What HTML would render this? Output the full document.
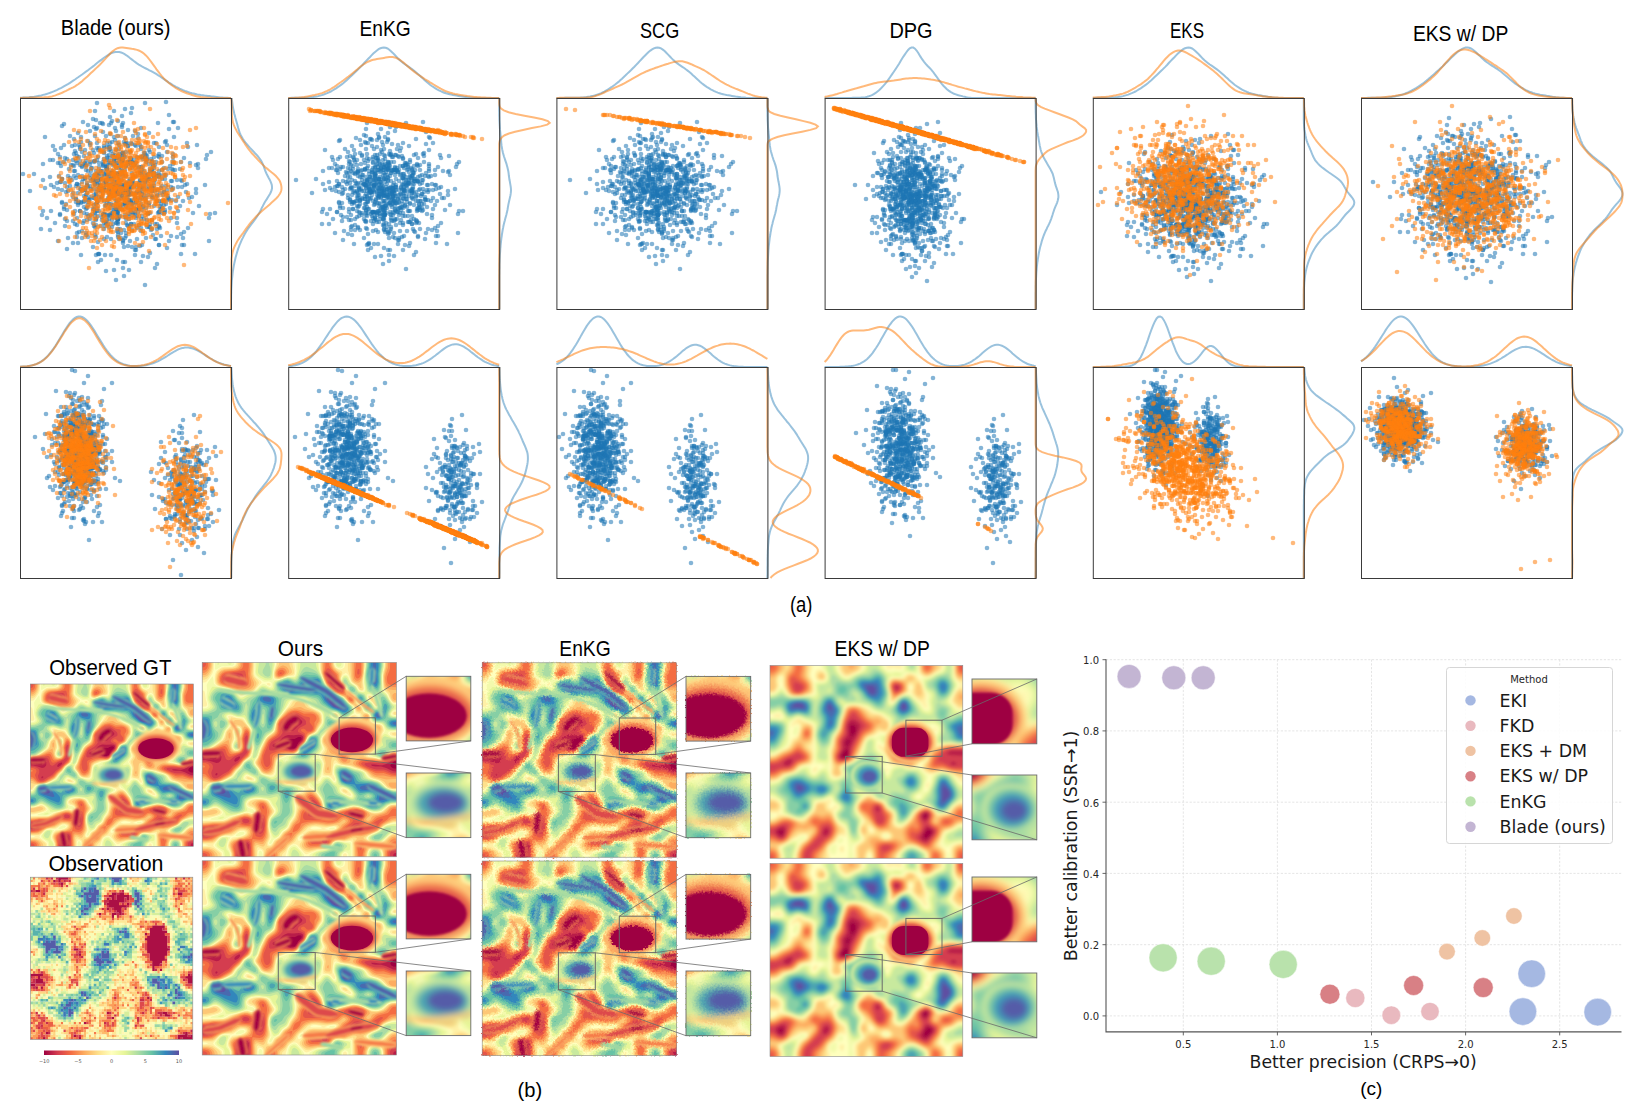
<!DOCTYPE html><html><head><meta charset="utf-8"><style>html,body{margin:0;padding:0;background:#fff}svg{display:block}.kb{fill:none;stroke:#1f77b4;stroke-opacity:.45;stroke-width:2}.ko{fill:none;stroke:#ff7f0e;stroke-opacity:.55;stroke-width:2}.ax{fill:none;stroke:#3a3a3a;stroke-width:1}</style></head><body>
<svg width="1648" height="1109" viewBox="0 0 1648 1109">
<rect width="1648" height="1109" fill="#fff"/>
<g font-family="Liberation Sans, sans-serif" fill="#000">
<text x="60.8" y="35.2" font-size="21.8" textLength="109.6" lengthAdjust="spacingAndGlyphs">Blade (ours)</text>
<text x="359.5" y="35.8" font-size="21.8" textLength="51.2" lengthAdjust="spacingAndGlyphs">EnKG</text>
<text x="640.0" y="38.2" font-size="21.8" textLength="39.2" lengthAdjust="spacingAndGlyphs">SCG</text>
<text x="889.4" y="38.2" font-size="21.8" textLength="43.2" lengthAdjust="spacingAndGlyphs">DPG</text>
<text x="1170.0" y="38.2" font-size="21.8" textLength="34.0" lengthAdjust="spacingAndGlyphs">EKS</text>
<text x="1412.9" y="41.2" font-size="21.8" textLength="95.4" lengthAdjust="spacingAndGlyphs">EKS w/ DP</text>
<text x="789.9" y="611.8" font-size="21.2" textLength="22.6" lengthAdjust="spacingAndGlyphs">(a)</text>
</g>
<defs><marker id="mb" markerWidth="6" markerHeight="6" refX="3" refY="3" markerUnits="userSpaceOnUse" overflow="visible"><circle cx="3" cy="3" r="2.3" fill="#1f77b4" fill-opacity="0.55"/></marker><marker id="mo" markerWidth="6" markerHeight="6" refX="3" refY="3" markerUnits="userSpaceOnUse" overflow="visible"><circle cx="3" cy="3" r="2.3" fill="#ff7f0e" fill-opacity="0.55"/></marker></defs>
<g fill="none" stroke="none">
<path d="M166 102l-21 1-48 0-2 8 19 0 8 5 3-7 6 4 1-5 37 7 5 7-1 0-15 1-35 0-1 2-4-4-6 0-1 2-1-6-1 8-6-1-1-1-2 0-4-3-3-1-5 6-5-3-19 2-2 2 16 7 12-2 4-4 2 2 1-1 6 4 7 2 5-6 1 3 6-4 6 3 7 1 3 3 3-6 8 5 20-4 9-1 9 15-13-6-8 4-1 1-9 1-2 0-16-5-5-2-2 7-4 0-1 0-1-5-1 4-6-6 0 7-3-3-1-3-2 5-2 1-3 0-1-7-9 7-2-7-5 7-2-2-7-4 0 5-7-3-4-3-25 1 8 9 2 4 6-2 3-3 8 1 3-1 0 6 4-6 1 4 0-2 2 5 3-2 5-5 3 5 4-2 1 2 1-2 5 4 0-6 0 2 3-1 2 0 0 3 1-3 0 2 1 2 5-1 3-5 0 4 6-5 1 8 2-6 0 0 2 6 2-8 3 1 1 1 4-1 1 2 0 2 8 1 1 2 9-5 8-2 0 7 21-5 9-2 14 7-4 3-1 4-22-1-11-1 0 4 0-7-11 2-3-2 0 3-1-1-4 1-2 4-1-2-4 0 0 1 0-4-1-1-1-2 0 4-1-4-1 3 0 3-1-2-1 0-4 0-3 3-3-2 0 1-6-2-1-1-1 5 0-8 0 1 0-1 0 7-1-3 0-4 0 6-1 2-1-4-1 2 0-5-1 2-1 2 0 0-2-3-1 5 0 0 0 1-1-5 0-2-3 4-1-3-2 1 0 4 0-2-3 1 0-6-6 4-1 3-2 1-1 0 0-8-5 1-3 7-2-5-4 5-1-4-2-1-1 5 0-8-2 1-1 6-6-1-2-1-5-1-2-3-5 6-3 0-7 4 15-1 2 0 1 3 3-4 5 7 2-4 2 0 1 1 3-3 3 2 2 2 0-1 2-2 1-1 1 2 0 5 0-4 4-4 0 2 1 4 1 0 2-6 5 5 0-4 4 1 0 1 0-3 0 4 3 1 0 0 1 2 0-3 0-1 0 4 0 0 2-7 1 1 1 0 2 2 1-1 2 4 1-2 0-3 0 0 2 5 2 0 0-3 1-3 0 0 3 8 1-4 0 0 2-2 0-2 0 0 2 0 0 0 1 3 0-2 1-1 0 6 1-5 0 0 1 2 1 0 1-2 2 5 1-1 2 0 1 0 0 3 4-8 3 2 1 5 2-7 0 8 0 0 1-4 0-1 1 3 1-3 1-3 6 0 0 8 2-2 4 1 2-3 2 3 1 1 0-6 2 6 5-1 1-7 9 1 6 2 2-1 0 4-32 7-1 4-1-4-2 4-2-4-1-4 0 6 0-2-1 1-2-2 0 2-2 0 0 2 0-5-1 2-2-3-1-1 0 8-1 0-1-5 0 5-1-1 0-3-2 0-1-4 0 7 0 1-2-4-1-2-1 0 0-1-4 4-4-3-2 6-4-3-3 0-1-4 0 2 0-3-2 2-1 4-1-3-1-1 0 1-3 3 0 0-2-6 0 3 0-1 0 4-1-4 0 6-1-6-1 4-1 2 0-4-1 0-1-2-1 1-1 1-1-4-1 5-1-5 0 8-1 0 0-8-1 3-1 1-1-1 0 4-1-2 0-5-2 4-1 4-2-8-1 4 0 3-2-7-3 8 0-1-2 1-1-3-4-1-2 3-1-7-1 5 0-5-4 7-2-2-6 3 0 0-3-3-9 1-16-3-11 0 20 6 2 8 6-3 3 2 3-4 3-1 1 0 4 1 2 4 3-1 2-6 4 6 1-2 0 0 2 1 3-3 2 6 3-3 0-2 0 3 1 1 2-1 1-5 2-1 1 0 0 0 1 5 0-1 0-3 1 0 1 2 2 4 0-7 0 3 1 2 0 1 0 1 1-1 0 2 3 0 0 0 0-5 1-2 1 3 0-4 0 5 0-4 0 1 1-1 3 4 0-1 1 2 1-6 1 4 1 3 0-5 1-1 0 5 1 2 0-3 1-3 0 5 1-2 2-1 1 3 1-7 0 5 1 1 1-1 0 0 0 3 2-5 0 5 2-3 0-1 1 0 0 3 0-6 0 5 1 2 1-1 1-3 0 3 0-4 1-2 0 2 4 4 2-4 0 2 1-4 0 7 0-8 1 6 1-6 0 7 0 1 1-1 0-4 2-1 1 3 0-4 1-1 2 8 2-1 1-1 0 2 1 0 1-5 0 3 1-6 6 8 1-2 4 0 5-5 0 6 1-6 1 7 4-8 1 7 3-7 1 1 0 6 3-2 2-1 18 1-9 4 0 4-4 4-6-5-8 5-6-7-4 6-1-6-3 2 0 0-1 3-3-2-3 3 0-6 0 5-2-4-3 6 0-6 0 5 0-5-4 4-1-6-3 6 0-6-2 5 0-2-1 5-1-5-1 1-2-1-1 1-3 1-2 0 0-1-1-2-1-1 0 5 0-1-1-2 0-3 0 6-1-5 0 1 0 4-2-3 0-1-1 2-1 0-1 3 0 0-1-7 0 3-1 2-2 0 0-1 0 1-1-5 0 5 0-3-1 2 0-1 0-1-1-2-1 3 0-3 0 7-2-3 0 1 0 2 0-2-1-2 0-3-1 8 0-2-1-5 0-1 0 5-3-4-3 0 0 3-1 4 0-8-1 1 0 0-1 1-1 6 0-7-2-1-1 7 0-4 0 2-2 1-1-6-2 0-1 8-3-4-1 2 0 2-1-7 0 0-1 6-2-5-1-2-1 0-2 4-5 0 0 4-5-6-2 1-4-2-4-1-28 2 32 12 0-1 4 2 10-5 0 3 0-3 2 6 0-2 1-1 2 0 0 1 3-1 0-1 4 1 0-2 0 5 1-5 1-1 4 6 0-7 0 0 2 6 1-1 0-1 1-1 3-3 3 3 1 5 1-1 1-2 1-5 0 2 1 4 2 0 2 1 1-7 2 3 1 3 0-3 2-1 1 6 1-8 2 7 0-1 1-6 1 5 0 1 1 2 0-6 1 4 0-6 2 5 0-3 0 1 2 1 0 1 0-2 0-1 1 4 1-1 2-4 0-1 1 4 0 1 2-5 2 2 1 4 1-6 1 8 2-7 1 3 0-4 3 5 0 2 4-7 1 8 3-5 2 0 1 5 1-2 1-3 2 0 0 4 2-1 2-6 0 2 1-1 3 1 4 1 4 5 3-5 6-3 10 8 16 7-5 1-17-1-15-2-8-3-5 2 0 2-1 1-2 0 0-5-1 1-1 0-1 3 0 0-1 1-8 0-2 0 0 1-2-6-3-1-1 3-3-1 0-1-1 4-1-3-1 0-1 5 0-2-2 1 0 2-1-8-1 3 0 2-2 2-1-6-3 7-3-6-2-2-1 2-1 4 0-1 0-5-1 5 0 2 0-5 0 6 0-4-1-2 0 0-1-1-1 2-1 2-1 1-1-5 0 6-1 1-1 0-2 0-2-1-1 0 0 1-1 0 0-1-4-3-2-3 0 3-2 1 0 1-1-4-1 0-2 6-4-1 0-6-1 1-2-2 0 6-4-2 0 0-5 0-1 3-7-4-3-3 0 2-4 6 0-1-9-3-8 0-1 4 5 3 8 5 10-4 2 2 6 0 2 3 2-6 6 5 1-2 3-1 1-4 2 3 3 4 2-7 1 3 0 1 2-4 4 4 0-3 2-1 0 7 2 0 0-1 1-2 1 4 0-8 1 3 3-3 0 4 1 4 0-7 3 6 1-5 0 5 0-3 1-1 0 0 0 3 0-3 0 5 0-5 1-2 1-1 5 1 1 6 0-4 3-3 0 3 2 5 0 0 3 0 2-6 1-2 4 3 1-3 2 3 3 1 3 4 2-4 3 4 2 0 14-6 6 5 0-5 32 0-21 10-4 4-24-4-1-1 0-1-2 3-5 0-1 1-1-3-1 0-2 0-6 4 0-3-2-3-2 3-5 2-2-4-2 0-1-1-1 8-2-3-3 3-1-4-2 3 0-3-1 2-5-4-3 0-4-1-1 3-3-3-5-1-1 2-1-1-8 7-4-2-3 1-2-7 0 8-12-7-15 4-9-1 17 12 10-3 9-1 5 1 4-3 2 2 7-2 1 2 2 5 6-3 3-2 4 2 7-2 0-2 1 4 2-1 2 2 0 1 2-3 1-2 4 5 7-2 9-1 7-3 2 4 1 0 5-3 8 5 2-5 6 1 4-3 2 4 26 3-25 4-2 0-15 3-8-3 0 0-17 0-2 1-4 4 0-3-1 3-3-3-4-1-4 1-1-4-30 4-15-4-5 0-6 6 14 6 15 0 2-1 1 0 0 0 2 6 4-5 6 0 6 5 18-5 8 1 5 1 2-4 31 1 14 0-38 10-2 4-14-6-16 0-2 6 0-6-25 0 8 9 8-1 10 6 5-6 16 15-29-5" marker-start="url(#mb)" marker-mid="url(#mb)" marker-end="url(#mb)"/>
<path d="M109 105l-19 6 20-3 40 1-16 14-17-3-43 10 5 1 7 1 9 2 6-3 9 2 1 1 12-2 12-2 1 3 2-4 6-1 1 6 13 0 32-4 6-2-43 9-5 6 0-1-1-5-1 5-1 1 0-8-1 6-4 0-1 2 0-4-1 4-2 0 0-3-4 0-6 0-1-2-4-2-2 6-2-6-1 7-8-2-3-1-1 3-5-2-2-2-10 2-6-2-2 3-4-1-6 1 12 7 2-4 8 3 0-4 9 8 0-2 1 1 1 1 0-2 2 2 2-3 4-1 5 1 0 3 1-3 1-3 1 5 2-6 1 2 0 2 2 3 1-7 2 1 1 4 3 2 0-2 1 1 0-7 1 6 6 0 4-3 2 5 1-4 3-2 3 1 3 3 3-6 6 4 5 4 3-5 5 1 7-1 4-1-11 10-1-1-2 2-1-4-5 6-6 0-7-5-1 0-1 7-3 0-3-1 0-2 0 3-1-2-1-3-2 4-1-4 0 1-2 1-1 0 0 3-1-4 0 4-1-8-1 3-2 0-2-3-1 5 0 0-1-2 0 5-2-3-1-4-2 2-1 3 0 0-1 0-3-1 0-3-1 1 0 1 0 4 0-6-2 2-2 0 0 0-2-1 0 5-2 0-5 0-1-2-6-3-2 1-1 4-3-5-2 4 0-7 0 3-2 2-2 0-1-5-2 8-5-3-2 1-1-1-6 3-9-2 3 3 2 2 6 3 10-3 5 3 1-2 4 4 5-1 3 1 6-7 1 8 3-3 2 3 1-6 2-1 0 6 1-4 0 1 1 1 1 1 0-1 3-5 1 4 0 0 0-3 1 0 0 3 0-1 1 0 1 2 0 2 1-6 0 3 1 1 0-5 0 0 0 2 1 0 2 0 1 4 0 1 0 1 0-2 1-5 1 1 0-1 1 3 0 0 1-1 0 4 1-5 0 4 1-6 0 6 1-4 1 3 2 1 1 2 2-2 0-2 2-2 1 1 4 3 0 2 1-7 1 5 2-3 0 2 0-5 3 7 2-6 2 0 1-1 0 8 1-1 3-1 6-6 2 1 0-1 2 1 5-1 1 8 1-2 7-2 0 10-5 1-2-2-8 0 0 2 0 0-2-3-2-1-3 0-3 2 0 1-1-3-2 5-1-1-3 0 0-2-3 4 0-3 0 3-1-6 0 0 0 3-1-2 0 1-3 0 0 0 0-3-1 5 0-3-1 1-2 2-1-6 0 6 0-4 0 6-1-3 0 2-1-5 0 6-1-2 0 0 0 2-1 0-1-4 0-4 0 4-2 1 0-4 0 1-1-1 0 5-1-6-1 5 0-2 0 3-1-5 0 6-1 1 0-4 0 3 0-1-1 2 0-2 0-2 0 0-4-1 0 3-2-3 0 1 0 2-1-1 0-4 0 0-1 0 0 6-1 1 0-7-1 4 0-1-1-1 0-1 0-1-1-1-1 2 0 3-1 2 0-2-1 2-1-1 0-3-1-1 0 4-1-2 0-2 0 6 0-7-1-1 0 4 0-1-1 0 0 3 0-3-3-1-1 2 0-4 0 1-1 6-1 1 0-1-3 0-1-6 0 7 0 0 0-5-1-2-3 5 0-6-1 2 0 4-2-3 0 1-1 2 0-1 0 2-2 1-4-2-1-2-1 2-2 0-4 0 0 0-10-6-2 8-6 0-1-6-2 4-30-1 12 10 20-5 4 5 4-4 0-1 1 1 1-2 7 8 4-4 1 3 3 0 1-6 0 4 4-4 2 1 0 4 1-2 0 4 3-8 0 6 3 1 1-2 0 2 1-7 0 3 0 4 0-2 3 1 1-1 0-4 1 6 0-7 0 1 1 4 0 0 1-5 0 7 0 0 0 1 1-3 1-4 0-1 0 7 0-1 0-1 1 1 1-6 0 8 0-5 2 5 0-5 0 1 1 3 0 0 0 1 1-1 1 0 0-7 0 3 1-2 0 1 0-2 0 1 0 0 0 1 0 0 1 2 1 4 0-8 0 3 0-2 1 7 2-7 1 1 1 2 0 1 0 2 0 0 1-5 0 5 0-1 0-1 2 0 0-2 1 0 0 1 1-4 0 3 2 5 1-1 0 0 0-1 1-1 1-2 1 2 0-2 2 2 0 2 1-2 0-1 0 3 2-1 1-5 1 0 0 5 0-2 0 1 2 0 1-4 2 3 0-3 1 4 0-1 0 2 0-5 1 7 1-8 0 0 1 2 0 2 1-4 0 6 4-2 1-2 1-2 1 8 0-4 3 4 2-5 2 2 0 2 16-7 4 13 0 2-8-1-5 1-2-6-2 1-3 3-1 0 0 3-1-1 0-1-2 0 0-4-3 5-1-4-1-2-1 7 0-6-1-1-1 4 0-4-1 8-1-7 0 0-1 7 0-3-2-5 0 1 0 3-1-3 0 2-1-1 0 4 0 2-2-6-1-2 0 4 0-2-1-1 0 7-1-3 0-5-1 1-2 5-1 2 0-3-1-5 0 3 0 3-1-5-1 0-1 5 0-4-1 4 0-1 0 1-1 0-1-2 0 1-1-3 0 4-3 0 0-4-2-2 0 4-1 1 0-5-1 5 0-5 0 5-1-2-2-3 0 3-1-1 0 4-1-6-1 4 0-1-1-3 0 7-1-3 0 4-2-8 0 0 0 6 0-6 0 7-1-4 0-2 0 6 0 0-1-3 0 1 0-3 0 1-1 0 0 4-1 1 0-8-1 7 0-2-1 3 0-4-1-1-1-1 0 2 0-2-3 0-1 5 0-7 0 4 0 1-1-2 0 4 0-6-1 0 0 7-1-2-1-6-1 8 0-8 0 4-1-2-5 5 0-5-1 0-1-1-2 3-1 0-1-4-2 0-2 1 0 0 0 1-2 3-4 2-2-3-1-4-1 6-1-5-2 0-2 5-7-1-4 2-2-1 12 10 4-4 4-2 4 2 7-1 0-2 0 0 2 8 2-4 0 0 2 2 0 2 1-3 3 2 1-6 0-1 0 1 1 2 0 2 0-2 1 5 0 0 1-6 2 2 1-2 2 0 0 0 1 5 2-5 1 5 0-5 1-2 0 1 0 0 1 0 1-1 0 7 1-5 2 6 1-7 0 5 1 1 0-1 1-4 0 6 1-6 0 3 1 1 0 2 0-7 1 3 0 2 0-5 1 6 1-4 1-2 1 2 0-3 1 3 0 0 0-3 1 0 0 4 0-3 2 6 0-7 0 3 1 3 2 0 0 1 3-6 1 5 0-5 1-1 0 1 1 2 0 0 0 5 0-5 2-3 0 5 0 3 0-1 0 1 1-3 1-4 1 0 1 5 1-3 0 5 1-6 0 5 1-4 0-2 0 3 1 4 1-3 2-1 2-3 3 3 0 2 1 0 0-6 0 2 0 1 1 0 0 3 1-4 0 6 5-5 0 0 0-1 1 1 0-3 1 2 1 2 5-1 0 2 5-3 14 2 38 1-22 11-18-4-11-2-1-1-2 6 0 0-4-1-6 2 0 0-1-5 0-1-2 3-9-4-1 5-2-5 0 5-1 2-1-1-1 2 0-5-1 5 0-2-1-2-3-2 0 4-1-4 0-1-2 4-3-3 0 2-1-3 0-1-1 1-2 3 0-1 0-2-1 2-1 0-1 3 0-6-1 5 0-4-1-1-1 2 0 3-1-3-1 1 0 2-1-2-1-1-1 0 0-1-4 0-2 5 0 0-4-5-1 0 0 3-1-2-1-2-2 2 0 2-2-1 0 5-2-2-3-4-2 0-2-1-1 3 0 0-1 3-2 1-2-8-7 5-8 3 0-3 0 1-3-6-30 1 26 10 9 1 4 2 1 1 1-6 5 1 1 5 2-4 3-2 2 8 0-5 1 0 2-2 6 1 0 3 1 0 1-5 0 1 1 3 3 3 2 1 1-7 1 1 1-2 1 0 1 2 2-1 3-1 2 1 0 6 3-6 0-1 1 2 2 1 2-1 1-2 1 2 1-1 4 6 1-7 0 4 0-4 2 7 0 1 1 0 0-3 2 2 2 1 0-6 1 4 2-1 1-1 2 0 0 2 0-2 2-2 1-1 4 2 0-3 2 4 6-2 2 3 5-4 17 7-13 4-11 5-10 0-1-7-4 3 0-1-5-3-1 0-1 8-2-2 0 0-3-1-1-5-2 2-1-1-1 4-1 1 0-5-2 5 0 0-1-5-2 3 0 3 0-4 0 1-8 1-4-1-4 3-2 0 0-2-2-2 0 3-2-6 0 1-4 3-3-3-2 1-1 2 0 4-2-2-3 2-3 0-2-2-1-3-3 0 0 5-14-6-10 14 16-4 10 0 2-2 4 6 1-5 2 5 1-3 5 2 2-3 4 4 8 1 5-5 1 2 9-5 14 0 0 8 8-5 14 8-16 6-10-6-4-2-21 4-2-1-10-1-5 3 87 17-95 3" marker-start="url(#mo)" marker-mid="url(#mo)" marker-end="url(#mo)"/>
<path d="M423 122l-17 1-39 0-1 6 12 5 3-5 7 4 2-6 5 4 1-4 30 5 7 11-3-5-1-1-13 2-13 4-15-4 0 1-1 2-2-5-3 5-3-5 0 1-2 2-5 0-1-1-1 0-2 4-2 0 0-7-1 6-1-7-4 5-4-2-16 2-1 1-14 9 20-1 3 3 4-6 2 4 7-5 5 4 6-3 2 3 3-2 4 3 1 2 1-7 1 4 6 2 2-7 5 5 1-4 2 6 1-3 8-2 17-2 3 6 20 6-8 2-1-3-16 1 0-3-1 1-5 4-2-4-2 1-4 5-7-2 0 1-1-3-3 1-1-1-2-1-1 0-2 2-1 0-1-2 0-1-1 1-1-1-4 2 0 3-1-4-1 5-3-6-1 7-1-3 0 2-1-5 0 3 0 3-1-3-1-3-2 2 0 2-4 0-1 2-1-7 0 4-3 2-2-5 0 1-2-3-3 7-2-6-1 6 0-2-1-1-3-1-1 5-2-4-7 0-2 2-5 1-1-3-3 11 3 0 3-4 1 6 1-4 0 4 3-1 1-2 2 0 5 1 1-4 1 5 0-7 1 3 2 4 0-3 2-4 2 3 1 4 3-5 1 6 3-1 0 1 0-1 0-6 2 5 1-2 4 4 1-2 0-5 0-1 2 6 0-1 1-2 1 5 0-6 1 6 0-3 1 3 1-5 0-1 1 4 0 0 0 1 1-5 1 6 1-5 0 2 0 3 0-3 1 1 0-4 1 2 1 3 1 0 0-3 0-2 0-2 0 0 0 8 0-2 0 2 1-7 0 5 0-3 1 1 1-4 1 8 0 0 2 0 0 0 0-8 1 5 0 1 0 2 1 0 1-2 0 2 2 0 1-4 3 0 0 0 1 2 1-3 0-2 1 0 0 2 1-1 0 6 1-3 0 2 0-4 2-3 1 6 1 1 0 1 2-4 1 4 2-5 0-1 1 2 2 4 0-5 4-3 5 4 0 3 0-5 6 6 3-3 18 0 1-3 2-2-9 13-1-4-1 1-5-1-8 4-4 1-2 1 0-6-1 5-2-3-1 3-3-1-2 1-2 1-3 2-1-6 0 6-1-6 0-1 0 3-1 1 0 0-1 2-1-1 0-1-1-4-3 5-2-3 0 2-1 2 0 0 0-4-1 4-1-4-1 1-2-3 0 0-1-1-1 8-1-4 0-3-3-1-1 2 0 0-1 3-2 2 0-1-1-2-1 4 0-7-1 3-1-2 0 5 0 1 0 0-1-4-2-4-1 6 0 2 0-7-1 7 0 0-1 0-2-6 0 3-1 0 0-4 0 4 0 2 0-4 0 0-2-2-1 5 0-5 0 1-2 4 0 0-1-3 0-3 0 8-3-2-3-2-1 2 0-2-1-4-1 6-2-5 0 4 0-5 0 2-1-1-2 2 0-1-2 0-2-2-1 6-1-4-1 4-1-4-1-1-1 4-7-3-15-2-7 8-20 1 27 4 6-2 1 6 5-1 2-6 0 5 1 0 1-2 0 0 3 3 1-6 3 1 1 2 1-3 2 2 1 5 0-1 1-7 0 8 3-2 0-5 1 2 1 1 1-1 1 5 0-1 2-4 1-3 1 5 1-1 0 0 1 0 0 1 0-4 1 4 0 3 0-1 0-2 1 1 0-6 0 1 0 1 1-2 1 8 0-4 0 3 1-4 1 1 1-3 1-1 0 6 1-1 0 2 0 1 0-3 0-5 0 6 1-1 0-1 1 0 0-4 0 0 1 2 1 6 0 0 1-4 0 1 1 3 0-6 1 0 0 0 0 4 1-1 0 3 1-2 2-4 1 5 1-3 1-4 0 1 1 7 1 0 1-7 0 6 1 1 1 0 0-3 0 3 1-5 1 4 1 0 0-2 0 2 3-6 2 6 0 1 1-4 1 1 1-5 0 4 0 3 2-1 0-6 0 3 0 1 1 4 0-3 1-2 0-3 0 4 1-4 0 3 0 0 1 1 2-4 1 7 0-4 1-2 0 3 1-3 2 0 1 0 0 1 0-1 2 3 2-4 0 3 1-3 4 5 1 0 4-1 3 1 1 0 3 3 2-1 14 2-7 2 0 4-8-1-4-5-3 1-4 0-1 2-1-2-2 7-1-5-1-3-1 5 0 0-1 2-1-7-1 1-1 5-2 2 0-5 0 4-2-3-1-4-1 4 0-4 0 2 0 6 0-4 0-2-1-1-1 1-1 5-1-4-2 4-1-5-1 5 0-6 0 0 0 3 0-2-1 3 0-5-1 1-1 4-1 0-1 1 0-5-3 6 0-6-1 0 0 6 0-2-1-1 0-2-1 1 0-2 0 6 0 1 0-1 0-7-1 5 0-3 0 1 0 1 0 4-1-6-1 3 0-1-1 2 0-5-1 5 0 2 0 0 0-8-1 3 0 2 0-4 0-1-1 7-1-1-1 1 0-5 0 4 0-2 0-3 0-1 0 7-1-1 0-4 0 2-1 1 0-5 0 2-1 3 0-2 0-2 0 7-1-3-1 0 0 2 0-7 0 8 0-1 0-5-1 5-1-4 0-1 0 4-3-3-1-2 0 1-1 1 0 3-1-3 0 0-1 1 0-4 0 3 0-3 0 1 0 1-1-1 0 3-2 4 0-6 0 5-1-2-1 2-1-5-2 0-1-2-1 1-1 5 0-6-1 7 0-3-1-2 0 6 0-5-2 1-1-2-1 1-1 3-2-6-2 6-3-6-2 4 0-3-1 4-3-2-3-1-4-1-7 0-13 3 27 10 0-1 1 4 2-3 6-5 2 2 0 2 0-3 2 5 0-2 1 0 1 0 0 1 2-2 1 5 0-5 1-3 1 8 1-5 0-1 0 0 0 4 2-6 0 1 3 5 0-5 0 0 1 5 1-2 1 0 0-1 1-3 1 1 1-1 2 3 1 4 1-1 0-2 1-3 0 1 1 3 1-5 1 8 0-3 1 1 1-6 2 3 1 2 0-2 1 0 0 5 1-1 0 1 1-8 1 6 1-5 0 4 1 0 0 0 1 2 0-5 1 4 0-5 1 4 0-3 1 1 0 0 1 1 0 1 0 3 0-6 1 3 1 0 1-4 0 0 1 3 0 1 1-5 2 3 1 3 0-6 1 1 1 7 0-1 1-6 1 3 0-3 3 4 0 1 2-6 1 1 1 6 2-4 2 0 1 4 0-1 1-3 1 0 1 3 2 0 1-5 0 1 1 0 2 0 3 1 2-3 2 7 2-4 5-3 2 0 6 7 13 6-4 0-1 3-13-4-12-1-1 6-5-8 0 7-4-4-1-2 0 3-2-1 0-3-1 1-1 2 0-2-1 1 0 2-7 0-1 0-1 0-1-4-4 1 0 5-1-6-1 3 0-3-1 6 0-5-1 7 0-7-1 4 0-3-1 3-1-1-1-2 0 1-1 3-1-1 0 3-1-8-1 8-1-3 0 2-3-6-1 5-1-3 0-2 0 6 0 1 0 0-1-4 0 4 0 0 0-4 0-4 0 6-1-3 0 5 0-8 0 0 0 2-1-2-1 1-1 2 0 3 0 1-1-3-1 0-1 4 0-3 0 1-1 0-1-1-1 0-1 0 0 0 0 1-1-1 0 0-1 2-2-5-1 0 0 4-1-6-1 3 0 5 0-2 0-2-1-3-1 0-2 5 0 2-2-2-1-1-1-5-1 4-4-2 0 0-2 6-2-3 0-3-6-1-2 7-1-7-3 4 0 0-7-3-3 5-4-5-1 3 0 12 7 0 4-5 9 2 1-4 4 0 2 3 2 0 4-1 2-2 2-1 5 3 1 2 1 0 0 1 1-6 4 5 1-5 1 8 0-6 1 3 1-2 0-1 0-1 1 3 1 2 2 0 1-6 0 3 3 0 0 0 1-1 0 2 0 4 0-8 2 7 3 1 2-6 0 2 1 1 2 0 1-2 0 1 2-1 3 4 1-3 2-4 0 7 2-7 3 0 0 6 1 0 1 0 1-2 1-4 0 8 0 0 2-5 2 1 0 3 1-1 0-1 2 2 13-5 9 5 17 10-20-7-1 5-2-3-3 2-4-1-2 4-6-4-5 3-1-1-1-2-6 2-4-6-3 6-4-6-2 8-3-6 0 2-1 2-1 2-1-1-1-5-1 3-1 2-1-6 0 4 0-1-1-4-5 7-2-2-3 1-6-2-1-1-6 2-2-2 0-1-3-2 0 5-3-4-1 4 0-3-7 4-9 2 8 7 5-6 4 1 12 3 4-4 20 0 1 4 4-1 2 1 3 2 1 0 0-2 3-1 2-1 14 0 0 1 7 2 11-3 2 0 9 8-11-1-26 0-1 3-4-1-2 5-5-6-8 6-2 0-4-2-6-4-4 0-3 4-2-5 0 1-1 0 0 6-1-5-13-1 21 13 6-1 8-1 5 1 20-1 2-3-10 17-17-8-6 3" marker-start="url(#mb)" marker-mid="url(#mb)" marker-end="url(#mb)"/>
<path d="M309 109l1 2 1-1 0 0 2 1 2 0 0 0 2 0 0 0 1 0 1 0 1 0 0 1 1 0 0 0 3 1 1 0 0-1 1 1 1 0 0 0 1 0 1 0 0 1 0-1 0 0 1 0 0 0 0 0 1 1 0 0 0-1 0 0 1 0 1 1 1 1 0-1 0 0 1 0 0 0 0 0 1 0 0 1 0-1 0 1 1 0 0-1 0 1 0-1 0 1 0 0 0-1 1 1 0 0 0-1 1 1 0 0 0 0 1-1 0 1 0 0 1 0 0 1 0-1 0 0 1 0 0 0 0 0 0 0 0 1 0 0 0-1 1 0 0 0 0 0 0 1 0-1 0 0 0 1 1 0 0 0 0 0 0-1 0 0 1 1 0 0 0 0 0 0 0 0 0 0 0 0 0 0 0 0 1 0 0 0 0 0 0 0 0 0 1 0 0 0 0 0 0 0 0 0 1 0 0 0 0-1 0 1 0 0 0 0 56 9 0 0-1 0 0 0-1 0 0 0 0 0-1 0 0 0 0 0 0 0 0 0 0 0 0 0 0 0 0 0 0 0-1 0 0 0 0 0 0 0 0 0 0 0 0 0 0 0 0 0-1 0 0 0 0 0 0 0 0-1 0 1 0 0 0 0 0 0 0 0-1 0 0 0 0 0 0 0 0-1 0 1 0 0 0 0-1 0 0 0 0 0 0 0 0 0 0 0 0-1 0 1 0 0 0 0 0 0 0-1 0 0 0 1 0-1 0 1-1-1 0 1 0 0 0 0 0-1 0 1 0 0 0 0 0-1 0 1 0 0-1 0 0 0 0 0 0-1 0 1 0-1 0-1 0 2 0-1 0 0 0 0 0 0 0 1 0-1 0 1 0 0-1-1 0 0 0 1 0-1 0 0 0 1 0-1 0 0 0 0 0 0 0 0 0 0 0 1 0 0-1 0 0 0 0 0 0-1 0 0 0 0 0 0 0 0 0-1 0 1 0 0 0 1 0-1 0-1 0 1 0 0 0 0 0 0 0 0-1 0 0 0 0 0 0 0 0 0 0 0 0 0 0 0 0 0 0-1 0 0 0 0 0 0-1 1 0 0 0 0 0-1 0 0 0 1 0 0 0-1 0 1 0 0 0 0 0 0 0 0 0 0-1-1 0 1 0 0 0 0 0-1 0 1 0-1 0 0 0 1 0 0 0-1 0 1 0-1 0 1 0-1-1 0 0 0 0-1 0 1 0 1 0 0 0 0 0-1 0 0 0 0-1-1 0 1 0 0 0 0 0 0 0 0 0 0 0 1 0-1 0 1 0 0 0-1-1 0 0 1 0 0 0-1 0 0 0 1 0-1 0-1 0 1-1 0 0 0 0 0 0-1 0 0 0 1 0 0 0 0 0 0 0 0 0-1 0 1 0 0 0 0 0-1 0 1-1 0 0 0 0 0 0 0 0 0 0-1 0 1 0 0 0 0 0 0 0 0 0-1-1 0 0 1 0 0 0 0 0-1 0 1 0 0 0 0 0 0 0 0 0-1 0 0-1 0 0 0 0 0 0 0-1 0 0 0 0 0 0 0 0 0 0-1 0 2 0-1 0 0 0 0 0 0 0 0 0 0 0 0-1 0 0 0 0 0 0 0 0 0 0 0 0 0 0 0 0-1 0 1-1 0 0 0 0 0 0-1 0 1 0 1 0-1 0 0 0-1 0 1 0 0 0-1 0 1 0 0-1 0 0 0 0 0 0-1 0 1 0 0 0 0 0 0 0 0 0 0 0 0-1 0 0-1 0 1 0 1 0-2 0 0 0 0 0 2-1-2 0 0 0 0 0 1 0 0 0-1 0 0 0 1 0-1 0 0 0 0 0 0 0 0 0 0 0 0 0 0 0 0 0 0 0 0 0 0 0 0 0 0 0 0 0 0-1-1 0 1 0 0 0 0 0 0 0 1 0-1 0 0-1 0 0 0 0 0 0-1 0 1 0-1 0 1 0 1 0-1 0 0 0 0 0 0-1 0 0 0 0 0 0 0 0 0 0-1 0 1 0-1 0 0-1 1 0-1 0 1 0-1 0 1 0-1 0 1 0 0 0 0 0 0-1-1 0 0 0 0 0 0 0 1 0-1 0 0 0 1 0-1 0 0 0 0 0 1 0-1 0 0 0 1 0-1-1 0 0 0 0 1 0 0 0-1 0-1 0 1 0 1 0-1 0 1 0-1 0 0 0 1 0-1-1 1 0-1 0 0 0 0 0 0 0 0 0 0 0 1 0-1 0 0 0 0 0 1-1-1 0 0 0-1 0 0 0 1 0 0-1 0 0-1 0 1 0 0 0 0 0 0 0 0 0 0 0 0 0 0 0 0 0-1 0 0 0 2 0-1 0-1 0 1-1 0 0 0 0 0 0 0 0-1 0 0 0 0 0 2 0-1-1-1 0 1 0-1 0 1 0-1 0 1 0-1 0 0 0 0 0 0-1 1 0-1 0 0 0 0 0 0 0 0 0 0 0 0 0 0 0 1 0-1 0 1-1-1 0 0 0 0 0 0 0-1 0 1 0 0 0 1 0-1 0 1 0-1-1 0 0 0 0 0 0 0 0 0 0-1 0 1 0 0 0 0 0 0 0 0-1 0 0 0 0 0 0 0 0 0 0 0 0 0 0 1 0-1 0 0 0 0 0 0-1-1 0 0 0 1 0 0 0 0 0 0 0-1 0 0 0 1 0-1 0 1-1 0 0-1 0 0 0 1 0-1 0 0 0 0 0 0 0 0 0 0 0 0 0 1 0 0 0-1-1 1 0 0 0-1 0 0 0 1 0-2-1 2 0-1 0 0 0 0 0 0 0 0-1 0 0 1 0 0 0-1 0-1 0 1-1 0 0 0 0 0 0 0 0 0 0 0 0-1 0 1-1-1 0 0 0 1 0 0 0 0 0 0 0-1-1 0 0 0 0 0 0 0 0 0 0 1 0-1 0 1 0 0 0-1 0 0 0 1 0-1 0 0 0 0-1 0 0 0 0 0 0 0 0 1 0-1-1 0 0 0 0 0 0 0 0 0 0 0 0 0 0 0 0 1 0-1-1 0 0 1 0-1 0 0-1 0 0 0 0 0 0 0-1 0 0 0 0 0-1 0 0 0-1 0-3 0 56 9 0 0 0 0 1 0 0 0 0 0 0 0 0 0 0 0 0 0 1 0 0 0 0 0 0 0 0 0 0 0 0 0 0 0 0 0 0 0 1 0 0 0 0 0 0 0 0 0 0 0 0 0 1 0 0 0 0 0 0 0 0 0 0 0 0 0 0 0 0 0 0 0 0 0 0 0 1 0 0 1 0-1 0 0 0 0 0 0 1 0 0 1 0-1 0 0 0 0 0 0 0 0 0 1 0 0 1-1 0 0 0 0 0 0 0 0 0 0 0 0 0 0 0 0 0 1 0-1 0 1 1 0 0 0 0-1 0 0 0 1 0 0 0 0 0 0 0 0 0 0 1 0 0 0 0 0 0 0 0 0 0 0 0-1 0 0 1 1 0 0 0 1 0-1 0 0 0 0 0 1 1 0 0-1 0 0 0 0 0 0 0 0 0 0 1 0 0 1 0 0 0-1 0 0 0 1 0 0 0 0 0-1 0 1 0-1 1 0 0 0 0 0 0 0 0 0 0 0 0 1 0 0 0 0 0-1 1 0 0 0 0 1 0 0 0 0 1 0 0 1 0-2 0 1 0-1 0 1 0 0 0 0 0 0 1 1 0-2 0 1 0 0 0 0 0 0 0 0 0 1 1-1 0 0 0 0 0 1 0-1 0 0 1 0 0 0 0 0 1 0 0 0 0 0 0 0 0 1 0-1 1 1 0 0 0 0 0 0 0 0 0-1 0 0 0 0 0 0 0 1 0 0 0-1 0 1 1 0 0 0 0-1 0 1 0 0 0 0 0 0 0-1 1 1 0 0 0 0 0 0 0 0 1 0 0 0 0 0 0 1 0 0 0-1 1 1 0-1 0 1 1 0 0-1 0 1 0-1 0 1 0 0 1 0 0 0 0 0 0-1 0 1 0 0 1 0 0 1 0-1 0 0 1 0 0 0 0 0 0 0 0-1 0 2 1-1 0 0 0 0 0 0 1 0 0 1 0-1 0 0 0 0 0 1 0-1 1 1 0 0 0 0 0 0 0 0 1 0 0 0 0-1 1 1 0-1 0 1 1 0 0 0 0 0 0 0 0 0 1 0 0 0 0 0 0 0 0 1 1 0 0-1 1 1 0-1 0 0 0 1 0-1 1 1 0 0 0-2 1 1 0 1 0 0 0 0 1-1 0 2 1-1 0 0 1 1 0-1 0 0 1 1 0 0 0 0 0 0 2 1 0-2 0 2 1-1 0 0 1 0 4 1 0 0 0 0 1 0 3 0 1 0 26 5-8-1-1-1 0 1-2-1-6 0-2-1-3 0 0-1-1 0 0 0-1 0-1 0 0 0 0 0-1 0-3 0-2 0" marker-start="url(#mo)" marker-mid="url(#mo)" marker-end="url(#mo)"/>
<path d="M697 122l-17 1-39 0-2 6 13 5 3-5 6 4 3-6 4 4 1-4 30 5 8 11-4-5-1-1-12 2-13 4-15-4 0 1-1 2-3-5-2 5-3-5-1 1-1 2-5 0-1-1-2 0-2 4-1 0 0-7-1 6-1-7-4 5-4-2-16 2-1 1-14 9 20-1 3 3 4-6 2 4 7-5 5 4 6-3 2 3 3-2 4 3 1 2 1-7 1 4 5 2 3-7 5 5 1-4 2 6 1-3 8-2 17-2 3 6 19 6-8 2 0-3-16 1-1-3-1 1-4 4-3-4-1 1-4 5-7-2 0 1-1-3-3 1-1-1-3-1-1 0-2 2 0 0-1-2 0-1-2 0 0 1-4 1 0 3-1-4-2 5-3-6-1 7 0-3-1-3 0 5 0-2-1 3-1-6 0 3-2-1 0 2-4 0-1 2-1-7 0 4-3 2-3-5 0 1-1-3-3 7-3-6-1 3 0 3 0-2-4-2 0 5-2-4-7 0-2 2-5 1-1-3-3 11 2 0 4-4 1 6 1-4 0 4 3-1 1-2 1 0 5 1 2-4 1 5 0-7 1 3 2 4 0-3 2-4 2 3 1 4 2-5 1 6 3 0 0-1 1 0 0-6 2 5 1-2 4 2 0 2 1-7 0-1 2 3 0 3 0-1 2 3 0 0 0-6 0 3 2 3 1-5 0 3 0-4 1 4 0-4 0 5 2-2 0 3 0-3 1-2 0 5 1-2 0-4 1 2 0 3 1-3 0-4 0 8 0-2 0 2 1-1 0-6 0 1 0-2 0 6 1-3 1 1 1-4 1 8 0 0 1 0 0-8 1 5 0 3 0 0 1-2 0 2 1 0 1-2 2-2 0 4 4-4 0 0 1-1 0 3 1-5 1 0 0 1 0 1 1 2 0 2 0-4 0 5 3-8 1 7 0 1 0-2 2-2 2 4 1-5 1-1 0 2 2-1 1 5 4-8 4 2 1 2 0 3 6 1 2-3 18 0 2-3 2-2-10 9 0 4-2-3-4-1-9 4-4 1-1-5-1 6 0-1-2-3-2 3-2-1-2 1-2 1-3 2-1-6-1 6 0-4-1-2 0-1 0 4-1 2 0-2-1 1 0-1-1-4-3 5-3-3 0 4 0-4 0 2-1 2 0 0-1-4-1 1-2-3-1 0-1-1-1 8 0-4 0-3-3-1-1 2-1 0 0 3-3 2 0-1 0-2-1 4 0-7-1 3-1-2 0 6 0 0-1-1-1-3-1-4-1 1-1 5 0 2 0 0-1 0 0 0-3-3 0-3 0-1 0 4 0 2 0-4 0 2-1-2-2-2 0 1-1 4 0-5-1 5-1 0-1-3 0-3 0 8-2-2-3-2-1 2 0-2-1-4-1 6-2-5 0 4 0-5 0 2-2-1-1 2 0-1-2 0-3-2-1 2 0 4-1 0-1-4-1-1-2 4-7-3-14-2-7 8-20 1 27 4 6 4 0-6 5 5 2-6 1 5 1-2 0 2 1-2 2 3 2-6 2 1 2 2 1-3 2 2 1 5 0-1 1-7 0 8 3-5 0 3 0-5 2 3 0-1 1 5 0-1 3-7 0 3 1 2 2-4 0 3 0 0 1 0 0 1 0 2 0-2 1 0 0 3 0-7 1 5 0-6 0 2 0-2 1 4 1 4 0-1 1-4 0 1 1-3 2 4 0-5 0 6 1 1 0-3 0 4 0-3 0-5 0 6 1-1 0-5 1 4 0-4 1 2 1 6 0 0 1-4 0 1 0-3 1 6 1-6 0 0 0 3 0 1 1 2 1-2 2-4 1 5 1-3 0-4 1 1 1 7 0 0 2-7 0 6 1 1 0 0 1 0 0-3 1-2 1 4 1 0 0-2 0 2 2-6 3 6 0 1 1-3 0-1 1-4 1 4 0 3 1-4 0 1 1 2 0-6 1 8 0-5 0 2 0-5 0 4 1-4 1 3 0 0 1 1 2-4 1 7 0-6 0 2 1 1 1-3 2 0 1 0 0 1 0-1 2 3 2-4 0 3 1-3 4 5 1 0 4-1 3 1 1 0 2 3 2-1 15 2-7 2-1 4-8-1-3-5-3 1-4 0-1 2-1-2-3 7 0-5-1-3-1 5 0 0-1 2-2-7 0 1-1 5-2 2 0-5 0 4-2-3-1-4-1 2 0 6 0-6-1 2 0-4 0 1 0 3-2 3 0-5-1 1-3 4 0-5-1-1 0 0 0 1-1 5 0-7 0 4-1-3 0 4-1 0-1 0-1 1 0-5-3 6-1-6 0 6 0-2 0-4-1 3 0-2-1 1 0-2 0 7 0-1 0-7-1 5 0-3 0 1 0 4-1-5 0 2 0 4-1-4-1 1 0 1 0-5-1 5 0-6-1 8 0-3 0 3 0-8-1 3 0-2-1 6-1 0 0-1 0-5 0-1 0 7-1-1 0-4 0 0 0 4 0-2 0 0-1 1 0-5-1 5 0-2 0 5 0-6-1-1-1 4 0 2 0 1 0-1-1-2 0-5 0 2-1 1 0 3 0 1-1-5-2 1-1-1-1-1 0 2-1 3 0-3-1 1 0-4 0 3 0 0 0-1-1-1 0-1 0 1-1 3-1-2 0 5-1 1 0-3-2-3 0 5-2-5-1-2-1 1-1 5 0-6-1 7-1-5 0 6 0-4 0-1-2 1-1-2-1 1-2 3-1-6-2 6-3-6-2 4 0-3-2 4-2-2-4-1-3-1-8 0-12 3 27 10 0-1 1 4 2-3 5-5 3 2 0 2 0-3 2 5 0-2 0 0 2 0 0 1 2-2 0 5 0-5 2-3 1 8 0-6 1 1 0-1 0 4 1-5 1-1 2 6 0-5 0 0 2 5 1-2 0 0 1-4 0 3 2-2 1-1 2 3 0 4 1-1 1-2 1-3 0 1 0 3 2 3 0-8 1 5 1 1 1-6 2 5 0-2 0 0 1 5 1-5 1 4 0 1 1-8 1 6 0-1 1-4 1 4 0 0 1 2 0-5 0 4 0-5 2 4 0-3 0 1 1 0 1 1 0 1 0 3 0-6 1 3 0 0 2-1 0-3 0 0 1 4 1-5 1 3 1 3 1-5 0-1 1 8 1-1 1-6 0 0 1 3 3 1 0 1 2-6 1 1 0 6 3-4 2 0 0 4 1-1 1-3 1 0 0 3 2 0 2-5 0 1 1 0 2 0 3 1 2-3 1 7 3-4 4-3 3 0 6 7 13 6-4 0-1 3-13-4-12-1-1 6-5-1-1-7-4 1 0 2-1 1-1-4-1 3 0-2-1 0-1 1 0 1 0 1-7 0-2 0 0 0-1-4-4 1 0 5-2-6 0 0-1 6 0-3 0-2-1 0-1 7 0-3-1-3-1 2 0 1-1-3 0 1-2 3 0-1 0 3-1-8-1 8-1-3 0 2-3-6-1 5-1-5 0 6-1-3 0 4 0-5 0 5 0 0 0 0-1-5 0 5 0-4 0-4 0 6 0-4-1-2 0 0 0 0-1 1-1 2 0 3 0 1-1-3-1 0-1 4 0-3 0 1-1 0-1-1-2 0 0 1-1-1 0 0 0 0-1 0 0 2-3-5-1-2 0 2 0 4-1-3 0 5 0-2-1-2-1-3 0 0-2 5 0 2-3-2 0-1-1-5-2 4-3-2 0 0-2 6-2-6-1 3-6-4-1 7-1-7-3 4 0 0-8-3-2 5-4-5-1 3 0 12 7 0 4-5 8 2 1-4 5 0 2 3 2 0 4-1 2-2 2-1 5 3 1 3 0-1 1 0 0-5 5 0 0 5 1-3 1 6 0-3 1-3 1 1 0-2 1 3 1 2 2-6 0 6 1-3 2 0 1 0 0-3 1 2 0 2 0 4 1-1 4 1 2-6 0 2 1 1 1 0 1-2 0 1 3-1 3 4 1-3 2-4 0 7 2-7 2 6 1-6 1 6 1 0 0-2 1-4 0 8 1 0 2-5 1 1 1 3 1-1 0-1 1 2 14-5 9 5 17 10-20-7-2 5-1-3-3 2-5-1-2 4-6-4-4 3-1-1-1-2-6 2-4-6-4 6-3-6-2 8-4-6 0 4 0-2-2 3 0 1-1-6-1 3-1 2-1-6 0 4 0-1-1-4-5 7-3-2-3 1-6-2 0-1-6 2-2-2 0-1-3-2 0 5-3-4-1 4 0-3-8 4-8 2 8 7 5-6 4 1 12 3 4-4 20 0 1 4 3-1 3 1 3 2 1 0 0-2 3-1 2-1 13 0 1 1 6 2 12-3 2 0 8 8-10-1-26 0-1 3-5-1-2 5-4-6-9 6-1 0-5-2-5-4-5 0-2 4-2-5-1 7 0-6-1 0-1 1-12-1 21 13 6-1 7-1 5 1 21-1 2-3-10 17-17-8-7 3" marker-start="url(#mb)" marker-mid="url(#mb)" marker-end="url(#mb)"/>
<path d="M566 109l9 1 28 5 1 0 1 0 2 0 3 0 3 1 1 0 56 9-1 0 0 0-1 0 0 0-1 0-1 0-1 0-1-1 0 0-2 1 0-1 0-1 0 1-1 0-1 0 0 0 0 0-1-1-1 0-1 1-1-1-1 0-2 0 0 0 0-1-1 0-1 1-3-1-1-1 0 1 0-1 0 0 0 0 0 1-1 0-1 0 0-1 0 0 0 0-1 0-2 0 0 0-1-1 0 1 0 0 0 0-1-1 0 1-2-1-1 0 0-1-3 0-1 0-1 1-2-1 0-1-1 0 0 0 0 1-3-1-1 0-1 0 0 1-2-1-2-1-1 0-2 0 53 9 2 0 2 0 0 0 1 0 2 0 0 1 0 0 1 0 0-1 2 1 0 0 0-1 0 1 1 0 1 0 0 0 1 0 0 0 0 0 0 0 1 1 0 0 0-1 1 1 1 0 0 0 1 1 0-1 0 0 0 0 0 0 1 0 0 0 1 0 1 1 1 0 0-1 0 0 0 1 1 0 1 0 0 0 2 1 1-1 0 0 3 1 1 0 0 0 0 0 1 0 0 0 2 1 1 0 2 0 2 1 0 0 1 0 0 0 0 0 0-1 1 1 0-1 1 1 0 0 1 1 1-1 1 0 1 0 1 0 0 0 0 0 1 0 1 1 1 0 1 0 1 0 0 1 0 0 0-1 2 1 0-1 1 1 1 0 1 0 3 0 21 4-5-1-4-1-3 0-1 0-5-1-1 0 0 0-1 0" marker-start="url(#mo)" marker-mid="url(#mo)" marker-end="url(#mo)"/>
<path d="M938 122l-11 2-26-1-1 7 11 0 4 4 1-6 3 4 1-4 20 5 2 6 0 0-8 2-19 0 0 1-2-3-4-1 0 2-1 2 0-7-3 7-1-1-1 0-2-3-2-1-2 5-3-2-10 1-1 2 4 9 4-3 7-2 2-3 1 1 0 7 1-7 2 3 2 4 2-2 3-6 0 8 1-4 1 4 2-8 3 3 3 5 1-5 1 3 2-5 4 4 11-3 4-1 11 14-5 2-1-3-7-5-4 4 0 2 0-3-3 5-2-4-1 1-8 2-1-6-1 5 0 1-2-2-1 0-1 2 0 1-1-3 0 0-1-1 0-4 0 6-3 1 0-2-2-3-1 2-2 1 0 3 0 0-1-3 0 3-2-1-4-2-3 0 0 1-1-3-4-3 0 4-1 3-2 0-1-6-1 6-4 0-6 1-4-8 5 11 2 4 1 2 0-7 7 5 1-3 0 1 1 3 1-6 0-1 0 8 1-4 2-2 0 5 2-1 3-4 0 3 2-3 0 6 0-8 1 0 2 4 0-1 0-2 2 6 1-1 0-5 0 1 1 1 1 4 0-1 1 0 0-4 1 5 1-6 0 4 1 3 1 0 0-2 0-2 0 0 1 1 0 3 0-1 1-3 2 0 4 4 2 0 0 0 0-8 0 1 1 6 0-2 1-1 0 2 0 2 1-1 1-5 1 1 2 5 2-1 0-1 0 2 2-1 2-3 4 4 0-2 18 0 2-2-3 6-4 4-1 1-3-2-4-4-1 3-4 2 0-2-2 4-4-4-3 0-1 3 0 2-1-1 0-1-1-4 0 1 0-2-1 4-1-5 0 2 0 1-2-2-1 6 0 0-1 1-1 0-1-4 0 2-1-4 0 4 0-2 0 0-1-3 0 2 0 5 0-2-1-6 0 3 0 0 0 1-1 1 0-2 0 0-1 4 0 0-2-4 0 1 0-2 0-1 0 2-1-1 0 4-1-5-1 6 0-7 0 4 0 0 0-4-1 5 0-3-1 0 0 0 0 3-1-1-1 0 0 0 0-4-1 1 0-1 0 7 0-1-1 2 0 0-1-7 0 4 0 2-1-1 0-3-2-2 0 7 0-3-2-3 0 1 0-1-1 6-1-5-1 2-1 1 0-4-1 2 0 3-1 1 0-3 0 2-2-5 0 4-1-2-1-1-1 3 0-5-1 5 0 0-3-5 0-1-1 3-2 4 0-3-1 0-3-2-1 0-4 3-18 9 13 0 9 2 4 0 5-1 1 2 0-7 2 6 0-5 1 0 0 6 2-2 2 1 1-6 0 7 2-6 1 0 0 3 0 3 0-8 2 6 1-1 0 2 0-5 0 6 1-3 0 1 1-4 1 0 0 5 0-5 1 3 1 0 0-1 1-3 0 0 0 4 0 0 0-4 1 3 0 3 1-5 0 2 0 0 0 0 1 4 0 0 1-1 1-4 0 2 0-5 1 7 0-2 0-5 1 4 0-4 1 3 0 2 0-3 0 5 2 0 0-6 3 3 2 2 2-3 1 2 0-2 0 0 0-2 2 5 0-4 0 6 1 0 0-2 1-1 1-3 0 1 0-2 0 0 1 0 0 4 1 2 0 1 0-4 1 0 0 2 1 0 1 0 0-4 0 6 0-2 1-5 1 4 0-5 1 6 1-5 2 0 1 1 1-1 3-1 9 0 4 14-5 3-5-4-1 1-1-4 0 6-1-6-2 0 0 6-2 0-1-5 0 5 0-5-3 4-1-6-1 6 0-6 0 8-4-4 0 2 0-5-1 5 0 2 0 0-1-1 0-7-1 8 0-8 0 0-1 2 0-1-1 4 0-3 0-2-1 7 0 1 0-1 0-3-1-2 0-1 0 5 0 2-1-1 0-6 0 3 0 1-2 2-2 0 0-3 0-2 0 1 0 4 0-3-1 3 0-5 0-2 0 8-1-3 0 0 0-1 0 2-1-3 0 5-1-3 0 0 0 2-1-6 0 5 0 0-1-2 0 3-1-1-1-3 0 5 0 0 0-1-1-5 0 4 0-1 0 3-1-3 0 2 0-4-1 2 0-5 0 6 0-5-1 4 0 3-1-8-1 2 0 0 0 2 0-3 0 4 0-3 0 1-1 5 0 0 0-5-1 3 0-6 0 8-1-1 0-2 0-5 0 3 0 3 0 1-1-6 0 7-1-7 0 2 0 2-1-4 0 0 0 3 0-4 0 2-1 6 0-7-1 1 0 4-1 1-1-2 0-1 0 2-1 2 0-8-1 0-1 8 0-5-1 2-1 0 0-1-1 3-2-6-1 5-1 1-1-3-2-4 0 3 0-3-1 3-2 1-1 3-2-2-3 2-1-6-7 9 15-1 2 0 2 2 1-1 3 2 0 4 1 1 1-5 1-3 1 1 2 5 0-5 0 0 1 3 0 3 0-4 2 4 0-7 0 8 2-1 0 0 0-2 1 1 0-4 0 2 1 3 0-6 1 0 0 7 1-8 0 3 0-3 0 7 0-7 1 0 1 0 1 7 1-7 0 4 0 1 1-3 0 2 0 3 0-1 0-2 0-4 1 3 0-3 1 2 0 1 0 4 0-2 1-1 0 0 0 0 0-3 0 3 0-3 1 2 0 1 1-4 0 7 0-4 1 0 0 2 0 1 1-3 0 0 0 4 0-5 1-1 0 4 0 2 1-7 0 2 0-2 0 0 0 5 0 0 1-4 0 3 1 0 0 0 0-1 1 5 1-5 0 4 1 0 0-4 1 0 1 1 0-2 0 5 0-5 0 4 1-1 1 3 0-1 1-7 1 5 2 2 0-5 0 6 0-3 0-4 1 1 1 4 0-1 1-4 1 2 1 2 1-2 0-1 2 5 0-1 0-5 2 0 4 6 4-5 1 5 2 0 2-4 2 12-9-5-1 5-3-5-2-1-1 8 0-8-1 0-1 4-1-3 0 4-1-4 0 6-1-6 0 5 0-2 0 4 0 0-1-7-2 5-3-3 0 2-1 3-1-6-1 5 0-2-1-1-1 4 0-7 0 6-1 1-1-6 0 6 0-5-1 0-1-1 0 2 0-1 0 3-1-5 0-1 0 1-1 6 0-4 0-3-1 6 0-6 0 4-1-1 0 0-1 5 0-3 0-1-1 2 0 0-1-6 0 8 0-2-1-3 0-2 0 0 0 7 0 0 0 0-1-1-1-3-1 3 0-4-1 1-1-4 0 2-1 2 0 2-1-5-3 1 0 0 0-1-1 3 0 3-1-2 0 3-1 0-2-6 0-2 0 5-1 2 0-7 0 8-1-2-1-4 0-1-1 1 0 1-1-1-1 2 0-2-1-2 0 2-5 1-1 3 0 2-1-5 0-1-11 11 1-3 2 6 2-6 5 3 0-1 2 5 1-8 4 4 1-3 1 6 1-7 0 1 3 1 1 2 1 1 1 0 0 3 2-5 1-1 0 6 0-3 0 3 1-8 0 0 0 5 2-1 0 0 0 2 1-2 0 0 0 1 1-1 1 1 0-1 1 3 0-3 0 1 1-3 0 1 1-1 0-2 0 5 0 3 0-2 2-4 0 5 0 0 0-4 0 1 0-3 1 1 0 6 0-6 0 4 0 1 0 1 1-3 2-1 1 4 0-2 1-3 0 4 1-2 1-5 0 2 1 2 0-1 0-2 0 3 1 3 1-2 0-3 2-2 0 5 0 3 1 0 2-5 1 0 0-1 2 6 3-7 0 1 0 1 2-1 1-2 0 3 1-2 3 5 3 1 1-6 7 1 9 4 1-3 2 0-14 13-6-5-9 5-1-2 0 0-1-2 0 4-1-4-1 5-1-5 0 5-1-2 0 0-1-6 0 6-3 1-1-3-1 2-2-3-2 0 0 0 0 2-1 0-1-3 0 2-1 4-3-7 0 2 0 4-1-5 0 5 0-7-1 2-1 1-1 2-1 1-1-3 0-3-1 3 0-2 0 4-1 3 0-6-1-2 0 5-3-1-1 2 0-1-1-3-3-2-1 1-1 1-3 2-1-1-2-3-3 0 0 5-6-3-2 6-5 0 9 9 5-2 5-1 0-3 1-1 1-1 1 6 2-3 0-1 1 3 4 0 0-2 4 4 2-2 2 2 3-3 0-4 1 7 0-6 0 5 1-4 0 4 1 2 1-2 1-4 0 2 3-4 3 7 2-7 3 6 3-2 1 3 1 0 3-2 5-1 3 1 2-2 1 3 1-5 13 8-13 3-1 0-7-3-1 6-4-2-1-1-9 0-1 1-2 4 0 0 0-3-2 0-1-5-1 4-2 1-1-4 0-1-13 0-2 5-9-4-2 0-3 6 7 5 8 0 1-1 0 0 1 0 1 5 2-4 3 0 3 4 9-4 5 1 3-3 0 4 17-3 7 0-19 9-2 4-7-6-6 7-3-7-1 5 0-5-5 6-4 2-4-8 10 16 4-4 11 8" marker-start="url(#mb)" marker-mid="url(#mb)" marker-end="url(#mb)"/>
<path d="M834 108l0 1 0-1 1 1 0 0 0-1 1 1 0 0 1 1 0-1 0 0 0 0 1 1 0-1 1 1 1 1 0-2 0 0 0 1 1 0 0 0 0 1 1 0 1 1 1-1 0-1 1 1 1 0 0 1 0 0 0 0 1 0 0 0 0 0 1 0 0 0 0 1 0-1 0 0 1 1 0 0 0-1 0 0 0 1 0-1 1 1 0 0 0 0 1 1 1-1 0 0 0 0 0 0 0 0 0 0 0 1 1 0 0-1 0 1 0-1 0 1 0 0 1 0 0 0 1 0 0 0 0 0 0 0 0 0 0 1 0-1 0 0 0 0 1 1 0-1 0 1 0 0 1 0 0-1 0 1 0 0 0 0 0 0 1 0 0 0 1 0 0 0 0 1 1-1 0 1 0 0 0-1 0 1 0 0 0-1 1 0 1 1 0 0 0 0 0 0 0 0 1 0 0 0 0 0 0 0 1 0 32 9-1 0-1 0 0 0 0 0 0 0-1-1 0 1 0 0 0 0 0 0 0 0 0 0 0-1-1 0 0 1 0 0 0 0 0-1 0 0 0 1 0 0 0 0 0 0 0-1-1 0 0 1 0-1 0 0 0 0 0 1 0-1 0 1-1-1 0 0 0 0 0 0-1 0 0-1 0 1 0 0 0-1 0 1 0 0 0 0 0 0-1 0 0-1 0 0 0-1 0 2 0 0-1-1 0 0 0 0 0 0 0 0 0 0 0 0 0 0 0 0 0 0 0-1 0 1-1 0 0 0 0 0 0-1 0 1 0 1-1-1 0 0 0 0 0 0 0 0-1 0 0 0 0-1 0 1 0 0 0 0 0 0 0 0-1-1 0 0 0 0 0 0 0 0-1 1 0-1 0 0 0 0 0-1 0 1 0 0 0 0 0-1 0 1 0 0 0 0-1-1 0 0 0 0 0 0 0 1-1 0 0-1 0 0 0 1 0-1 0 0 0 0 0 0-1-1 0 1 0-1 0 1 0 0 0 0 0 0-1 0 0 0 0 0 0 0 0 0 0 0 0-1 0 0 0 1 0 0 0 0 0 0-1 0 0 0 0-1 0 0 0 0 0 0 0 0-1 0 0 0 0 0 0 0 0 0 0 0 0 0 0 0 0 0 0 1 0-2 0 1 0 1 0-1-1 0 0 0 0-1-1 0 0 1 0-1 0 0 0 1 0-1 0 1 0-1 0 1-1-1 0 0 0 1 0 0 0-1 0 0 0 1-1 0 0-1 0 0 0 0 0 0 0-1 0 0 0 1-1-1 0 1 0 0 0 0 0 0 0 1 0-1 0 0-1 0 0-1 0 0 0 0 0 0 0 0-1 0 0 0 0 0 0 0 0 0 0 0 0 0 0 0 0 0-1 0 0-1-1 1 0 0 0-1 0 1 0-1-1 0 0 1 0 0 0 0 0-1-1 0 0 0 0 1-1-1 0 0 0 0-1 0 0 0 0 0-1 0 0 0 31 9 2 0 0 0 0 0 1 0 0 0 0 0 0 0 0 0 1 0 0 0 0 0 0 0 0 0 0 0 1 1 0 0 0 0 0-1 0 0 0 1 0-1 0 0 1 1 0-1 0 1 0 0 0 0 0 0 0-1 0 1 0-1 0 0 0 1 0 0 0-1 0 0 1 1 0 0 0 0 0 0 0 0 0 0 0 0 0 0 0 1 1-1 0 0 0 1 0-1 0 0 0 0 0-1 0 1 0 1 0-1 0 0 0 0 1 0 0 1 0 0 0-1 0-1 0 2 1-1 0 0 0 0 0 1 0-1 0 0 0 1 0 0 0 0 1 0 0 1 0 0 0 0 0-1 0 0 0 0 0 0 0 0 0 0 0 0 0 0 0 1 0-1 1 0 0 0 0 0 0 1 0-1 1 0 0 0 0 1 0-1 0 1 0 0 0 0 0 0 0-1 1 0 0 0 0 1 0 0 0 0 0-1 0 0 0 1 0 0 0-1 0 1 0 0 0 0 1 0 0 0 0 0 0 0 0 0 0 1 0-1 0 0 1 0 0 1 0-1 0 1 0-1 0 1 0-1 0 0 0 1 1 0 0 0 0 0 0-1 0 0 0 1 0-1 0 1 0 0 0 0 0-1 1 1 0 0 0 0 0 0 0 0 0 0 0 0 0 0 0 0 0 1 0-1 0 0 0 0 1 0 0 1 0-1 0 0 0 0 0 0 1 0 0 1 0-1 0 1 0 0 0 0 0-1 0 1 1 0 0 0 0-1 0 1 0 0 0 0 0 0 0 0 0 0 0-1 0 1 0 0 1 0 0 0 0 0 0 0 0 0 0 0 0-1 0 1 0 1 0-1 0 0 0-1 1 1 0 0 1 0 0 0 0 1 0-1 0 1 0-1 0 1 0-1 0 1 0 0 0 0 0 0 0-1 0 1 1 0 0 0 0 0 0 0 0 0 0 0 0 0 0 0 0 0 1 0 0 1 0-1 0 0 0 1 0-1 0 0 0 0 0 1 0-1 0 0 1 0 0 0 0 0 0 0 0 1 0-1 0 1 0 0 1 0 0 0 0 0 0-1 0 1 0 0 1 0 0 0 0 0 0 0 0 1 0-1 0-1 0 1 0 0 0 1 0-1 0 1 0-1 1 1 0-1 0 0 0 1 0 0 0 0 0 0 0-1 0 1 0-1 0 0 1 0 0 1 0-1 0 0 0 0 0 1 0-1 0 1 1 0 0 0 0 0 0 0 0 0 0 0 0 0 0 0 0 0 0 0 0 0 0 0 1 0 0 0 0 0 0 0 0 0 0 0 1 0 0 0 1 0 0 0 32 9 0 0-1 0 0 0-1 0 0 0-1 0 0 0 0 0 0 0 0 0 0 0-1-1 0 1 0 0 0 0 0-1-1 0 0 1 0 0 0 0 0-1-1 0 0 0 0 0 0 0 0 1-1-1 0 0 0 0 0-1 0 1 0 0 0 0-1 0-1-1 0 0 0 0 0 1-1-1 0 0 0 0 0 0 0 0 0 0 0 0 0 0 0 1-1-1 0 0 0 0 0-1 0 1 0-1 0 0 0 1 0-1 0 2 0-1-1-1 0 0 0 0-1 0 0 0 0 0 0 0 0 0 0 0-1 0 0-1 0 1 0 0 0 0-1-1 0 1 0 0 0 0 0-1 0 1 0-1 0 1 0-1-1 0 0 0 0 0 0 0 0 0 0 0 0 1 0-1 0 0 0 0-1 0 0 0 0 0 0 0 0 0 0 0 0 0-1 0 0 0 0-1 0 1 0 0 0 0-1 0 0 0 0 1 0-2 0 1 0 0 0 0 0 0 0-1 0 1-1-1 0 0 0 0 0 1 0-1 0 0 0 0 0 0 0 0-1 0 0 0 0 0 0 1 0-1-1 0 0 0 0 0 0 0 0-1 0 0 0 1 0 0 0 0 0-1 0 0 0 1-1 0 0 0 0 0 0-1 0 1 0 0 0-1 0 1 0 0 0-1 0-1-1 1 0 0 0 0 0 0 0 0 0-1 0 2 0-1 0 0 0 0 0 0 0 0-1 0 0-1 0 1 0 0 0 0 0-1 0 1 0 0 0 0-1 0 0 0 0-1 0 0 0 1 0-1-1 0 0 0 0 0 0 0 0 0 0 0 0 0 0 1 0-1-1 0 0-1 0 0 0 1 0 0 0 0 0 0 0-1 0 0-1 1 0 0 0-1 0 0 0 0 0 1 0 0-1 0 0 0 0-1 0 0 0 0 0 1 0 0-1-1 0 0 0 0 0 0 0 1 0-1 0 1 0-1-1 0 0 0 0 0 0 0 0 0 0 0 0 0-1 0 0 0 0 0 0 0-1 0 0 0-1 0 33 9 0 0 0 0 1 0 0 0 0 0 1 0 0 0 0 0 0 0 0 0 0 0 0 0 0 0 0 0 0 0 1 0 0 0 0 1 0-1 0 0 1 0 0 0 0 1 1 0 0 0 0 0 0 0 1 0 0 0 1 0 1 1 0-1 1 1 0 0 0 0 0 0 0 0 0 0 1 0 0 1 0-1 0 0 1 1 0 0 0 0 0 0 0-1 1 1 0-1 0 1 0-1 0 1 1 0 0 0 0 0 0 0 1 1 0 0 0 0 1-1 0 1 0 0 0-1 0 0 0 0 0 0 1 1 0 0 0 0 0 0 0 0 0 1 1-1 0 0 0 1 0-1 0 0 0 0 1 1 0-1 0 0 1 0 0 1 2 0 0 0 2 0 1 1 2 1 0-1 0 1 1 0 0 0 0 0 0 0 1 1 0-1 0 0 1 1 0 0 1-1 1 0 1 1 30 9-4-1-1 0-3-1-3-1-1-1 0 1-1-1 0 0-4-1-1 0-1-1 0 1-1-1-1 0 0 0 0 0-1 0 0 0 0-1 0 1 0-1-1 1 0-1-1 1-2-1-1-1-1 0 0 0 0 0 0 1-2-1 33 9 1 0 0 0" marker-start="url(#mo)" marker-mid="url(#mo)" marker-end="url(#mo)"/>
<path d="M1228 134l-17 2-11 3-1 4-4-3-9 1-14-6-2 7-25 10 16-1 7-3 3 1 3 2 2 1 1 0 6-1 0-4 1 2 5 1 3-5 1 7 28-1 9-6 3 5 1 0 4 5-7 1-17 3-6-4-2 5-3-2-6-1-4-4-1 2-4 3-1-3-5-2 0 7-6-1-4-3-1 0-1-1-4 3-1-5-8 6-13-5-15 9 7 7 9-1 5-7 2 8 1-6 1 5 4-6 0 6 1-3 6 0 1 1 0 2 5-7 1 5 6 3 1-8 1 6 0 2 1 0 1-3 2 0 2-5 1 3 2 4 0-7 0 6 4-1 1-4 0 5 2-1 0 0 1 2 0 1 2-3 1 1 1-6 2 7 0 1 2-7 1 6 13-2 1 0 2 3 5-4 1 3 0-3 6-3 11 7 0-2 8 1 11 6-2 2-20 2-9 0 0-2-5-2-4 2-2-1 0 3-1-1-3 0-3-4-1-1-2 5-1-3 0 2 0 1-1-2-1 1-1 1 0 1 0-8 0 1-4 6-5 1-1-4-2 0-1 4-1-1-1-2 0 0 0-1-1 3 0-3-1 4-1-7 0 4-1 2-1 1 0 0-1-6-1 4-1-1-1 1-1-3 0-3-1 6 0-5-1 1-1 5-2-3 0-3-1 2-3-3-1 2 0 6-1-8-2 5-1-3-4 4-3-4-1 4-2-2-1-3 0-1-1 8-1-1-1-3-1-1 0 2-8 3-3-7-1 7-2-3-2-3-10 11 6-3 2 0 4 2 2 3 0-3 3-1 2-2 2 8 2-3 1 0 0-4 2 4 1-3 0 2 3-2 0 3 2 2 0-1 1-2 1-1 1 2 0-4 0 5 3-3 0 1 1 4 1-1 1-5 0-1 1 1 2-1 1 6 0-3 3 1 0-3 1-1 0 3 0 2 2 0 0 1 1 1 0-7 0-1 0 6 0-1 0 3 0 0 2-5 0 0 0-3 2 3 1-2 0 0 0 4 1-1 0-3 1 6 1-1 0-3 0 0 2-3 0 8 1-6 0 3 1-2 0 5 0-7 0 1 1 0 0-1 2 5 1 0 1-2 0-2 0 1 1 0 1 0 0 0 1-3 0 3 0 4 0-2 1-2 0 0 1-2 0 4 1 0 1-2 1 4 1-1 2 0 0 0 1-6 3 0 0 1 0 1 2 2 1-4 0 8 1-6 0 1 1 3 0-1 1 2 1-2 1-2 5 0 2 5 4-2 1 2 1-6 1 2 5 4 1-5 7 0 5 2 2-1 0 3 6-7-20 17-3 0-2-8-2 0-4 0-1 4-1 3-1-3-1 3 0-7-2 4 0-4 0 6 0-2-1 0-2-1 0 2-1 3-1-3 0 1 0-3-1-3 0 4-1-3 0-1-1 1 0 6-1 0 0 0-1-4-1 3 0-2 0 4-1-4-1-3 0 6 0 0-1 1-1-4 0-2 0-2-1 8 0-6 0 0-4 3-3-3-2 5-3-2 0-5-2 5-1-3 0 6 0-5 0-3-1 2-1 3-1-2 0 0-1-1-2 4 0-1-2-4 0 2 0 0 0 5 0-2-1-3 0 4-1-4 0 2-1 2 0-3-1 0 0-2-1 6 0-5-1 1-2-3 0 4-1 2 0-6 0 6-1-6-1 7 0-5-1 3 0-2-1 4 0-5 0 2 0-4-1 7 0 0-1-4 0 3-1 1-1-7-1 3 0 2-1-6-2 0-1 7 0 0-2 0 0-2-3-1-3-3 0 5-1-1 0-4-1 7-2-2-2-1-5 2 0 0-2-2-7 1-6 2-7-5-20 0 16 13 12-2 5-2 3 2 2-3 1 4 2-5 1-1 1 7 2-5 0 6 2 0 0-4 2-1 5 1 1-2 0 0 1 1 1 3 1 0 1-5 0 7 2-2 0 1 0 0 1-4 0-1 1 3 0-1 2-1 1-3 0 6 2 0 1-3 0-1 0-2 1 8 1-7 0 5 1 1 1-2 0-2 0 5 0-7 0 2 0 2 1-1 0 3 0 0 0-2 1 1 1-1 0 2 1-7 0 5 0-4 1 1 0 5 0-4 0-3 0 1 1-1 1 6 1-3 0 4 1-5 0 2 0 2 2-4 0 4 0-1 1 3 0-8 0 6 0-5 1 2 0 0 1-2 0 4 0 1 0 1 0-3 0 4 1-5 2 3 0-4 0 3 1-2 1 1 1-1 0 0 0 2 1 3 1-7 0 4 0 2 1-1 0 1 0-4 0-1 1 5 0-5 0 3 0-5 0 4 1 4 0-3 1 0 0-3 0 3 0-4 1-1 0 1 3 3 2 1 0-4 0 2 1-3 1 4 0 4 0-2 1-1 0 0 0-3 1-2 0 6 2-3 0-3 1 7 1-2 2 3 0-4 0 1 0 3 1-2 0-1 1-3 0 2 1 4 2-1 3-3 0 1 3 3 1-4 1 3 3-7 0 4 1 3 0-7 1 5 3 0 4-5 0 4 2-1 1 5 1-6 7 4 7-3-7 6-3 4-3 0-4 3-4-3-2 3-4-1-2-2 0 2 0-1-1-2-3-3 0 7-1-5 0 5-2-6-1 6-1-4 0 4-1-5-2 3-1-2 0-1-3 6-1-6-1 5-1-2 0-1-1-2-2-1 0 3 0-1-1-3-1 0 0 6-1-2 0-4-1 0-1 8 0-4-1 1-1-4 0 7-1-1 0-6 0-1-1 6 0 0-1 2 0-2 0-4 0-1 0 5-1-6 0 2-1 4 0-4 0 2-2-4 0 0-1 0 0 4-1-2 0 2 0-4 0 3-2 3 0-5-1 0 0-1 0 1-1 0 0 5 0 1 0-6-1-1-1 4 0-2-2-2 0 1 0 2 0-2-1-1 0 4-1-3 0 1-1 2 0 2-1 2-2-2-2-6 0 3-1 1-2-1-1 5 0 0 0-1-1-4 0-2-2 3 0 0 0-2-3 2 0 1-1 2 0-1-1 0-1-4 0 2 0-4-1 3-1 4 0 0-2 1 0 0-2 0-1-7 0 7-1-3 0 0-1 2-2-7 0 4-8 4-1 0-15 7 6 0 8 2 3-6 0 2 2-4 0 5 7 1 2-5 2 4 0 1 3-3 0 4 2-3 1-1 1-2 4 0 0 3 0 0 1 3 1-7 0 7 1-4 0 2 1 0 4 3 1 0 0-6 1-1 2-1 2 3 0 5 1-1 0-7 1 7 0-6 1 4 0-2 1 1 0 0 1 3 0-7 0 8 0-4 0 2 1 1 0 0 0-5 1 2 1-2 0 0 1 2 1-3 0-1 2 2 0-2 0 0 1 0 1 4 0 4 3-8 0 2 0 3 0 2 1-7 0 8 1 0 0-2 2-2 0-4 1 7 0-3 1 0 0-1 1-2 1 4 1-2 0-1 3 2 1 3 0 1 1-7 1 6 3-5 3 6 1-2 0 1 1-5 0 3 1 2 0-7 0 4 1-1 1 4 0-6 1 4 0 1 1-6 3 4 7 2 1-4 11 5 5-5 9 6 3 0-4 3-26 4 0-4-5 0-12 6-1-1-3-3-1 4-2-4-3-1-2-2-1 2-1 5-1-8-2 3-1 4-1-7-2 7 0 0-1-6 0 2-2 3 0-3 0 5-1-8 0 2-4-1-1 1-1 1 0 0 0 2 0-2 0 4 0-4-1 0 0 4 0-7 0 4-1 3-2 0 0-5-1-1 0 3-2-1 0-3 0 0-1 7 0-6-1 6 0-3 0-4-1 6-2-6 0 0 0 6-1-2 0-4 0 0 0 1-4 0-1 7 0-5 0-2 0 3-2 2-2-6-1 3-2-2 0-1 0 4-3 1-1 1-4-4 0 6-2-1-1-7-1 5-5-1-2-1-3-3-4 6-7-4-4-2 0 11 7 1 12-3 9 5 1 3 1-3 3-1 3 3 0-2 1 3 6-7 0 6 0-7 1 8 4-8 3 2 0-2 4 1 2-1 4 4 1 0 0 3 0-5 1 0 2 4 2-3 1 3 0 1 2-7 1 0 2 3 5-2 2 1 1 2 4-3 2 0 1 0 1 2 1-1 1 5 3-5 1-2 0 0 1 2 1 6 8 0 8-2 3-2 2-2 18 10-20 3-2-6 0 6-4-6-7 3-1 5-6-2-1 0-2-5-1 0-7-1-3 6-3 1-2 1 0-7-4 7-2-5-1 4-3 1 0-7-1 1 0 2 0-1-2-3-1 1-1-1-6 1-3-1-3 1-5 2-3 5-9-8-4 4-3 0-5-3-8 1 8 7 11 5 12 0 1-1 1 0 1 0 4 1 5 0 20 0 0-4 1 0 5 5 5 1 1-4 25 1 11 0-30 8-2 4-12-5-9 6-4-7-1 5 0-5-5-1-2 8-10-8-3 1 6 8 8 7 7-3 17 7" marker-start="url(#mb)" marker-mid="url(#mb)" marker-end="url(#mb)"/>
<path d="M1188 106l36 9-20 6-13-2-11 4 0-1-3 2-13 1-1 0-6-3-37 10 11-3 12-2 16 7 3-7 1 3 0 3 6 1 5 0 3-7 3 5 4 1 2-7 10 1 7-1 14 8 25 2-9 0-6 5-2-5-4 5-5-5-1 2-4 0-4 1-2-3-3 6-10-1-1-2-2 4-7-2-2-2-8-2-4-2-10 5-3-5-2 5-12-4-1 0-5 2-18 10 0 0 17-3 2 1 0-1 4 7 1-4 0-2 9-1 2 0 1 7 3-5 0-3 1 1 8 7 0-2 1-4 0 2 0-4 1 6 1-6 0 3 1-3 0 8 1-4 2 1 3-4 0 0 0 5 2-1 1 0 1 3 1-3 0 3 2-3 4-5 2 3 7-1 1 2 2 4 2-1 2-2 1 2 5-1 4 1 0-4 3-2 3 5 1-5 1 2 4 4 4-1 3-2 6-4 1 1 1 5 9-5 6 0 12 15-35 0-1-1-2 1-3 1-3-1-6 0 0 0-1-1-1-2-1-4 0 5-2 2-1-2-1 1 0-3-1 1-2-4 0 5-1 3-1-2-1-3 0 0 0-1-1 0 0 4 0 1-2-1-1 0 0 1-1-4-1 5-4-3 0 2-1-7-2 3 0 5-1-2-1-4-1 0-1 4 0-5-2-1-3 2-1 4 0 2 0-7-1 7-1-8-1 3-1-2-1 1-2 2 0 0 0 0 0 1-1 3-1-1 0 1-2-4-1 4-1-7 0 3-2-4-1 2-1-1 0 6-1-3-2-3-1 2-4 4-2-2-1-2-3 4-4-7-6 6-1-5-26-1-12 14 16-3 4 3 8 3 5 0 0-4 6 2 1-6 3 4 2-1 3 4 0 1 0-8 1 0 0 3 2 3 1-3 0 0 0 2 1-3 1 5 1-2 0-1 6 2 3 1 0 1 0-1 0-3 0 1 3 2 1-2 0 3 0-7 1 7 1-1 0-4 0-1 1 4 1-6 0 7 1 1 0-6 1 6 1 0 0-4 1-1 0 0 1 1 1 4 1-7 0 0 0 1 0-2 0 4 2 3 1 0 0 1 1-6 0 0 0 3 1-3 0 5 1-7 0 7 0 0 1-2 1 3 0-3 0 0 2-4 1 3 0-4 1 4 0-2 2 4 1-1 2 3 0-3 1-1 0-4 0 2 3 1 1-3 1 0 2 4 2 4 3-3 2 3 1-6 1 1 2 1 1-2 0-2 2 7 1 0 1-5 0-1 1 6 0-4 3-2 3 4 1-2 3 0 8-2 3 7 6-7 3 0 3 3 4-2 13 13-16 0-2-4-10 0-14 6-1-1-3-2-1-4-3 0-3 6-4-7 0 7 0-7-2 0-3 3 0 1 0 0 0-4-1 3-1 1-1-4-2 4-1 4-1-3-1-5 0 8 0-4-1 2 0-3-1-1-1 0 0 2-2 4 0-6-1 1 0-1-1 5 0-6-1 0-1 1-2 3 0-2 0 0-1 4-1 0 0-3 0 0-1 3 0-7-1 5 0 0-1 2-1-5 0 3-1-5 0 4 0 2-1 2 0-1 0-4 0-3-2 3 0 2 0 3-2-3 0 3 0-6-1-1 0-1-2 4 0-1 0 4 0-6 0 1 0 6-1-4-1 3-1-7-1 6 0 2-2-4 0 2-1-4 0 6 0-8-2 6-1 0 0-2 0-3 0-1-1 0 0 1 0 3-1-3 0 5-2-6 0 0 0 3-1-1-1-2 0 5-1 0 0 2 0-4 0 1 0-4-1 4-1-3 0 2-1-3-7 0-7 7-1-7-2 3-2 2-3-3-16 15 11-4 0-4 1 1 3 2 2 5 6-7 0 1 3 3 1-4 3 1 0 6 1-6 2-1 2 3 1-2 1 1 1 5 0-2 0 0 1-5 2 2 1-2 0-1 2 5 1-2 1 4 0-6 0 3 1 1 1 3 0-8 0 1 1 0 1 0 0 6 2-3 1 0 1-3 0 6 1-3 0 1 0-2 2 1 0 1 1-3 0 6 1 0 0-4 1-2 0 0 0 5 0-3 1-4 0 4 0 0 1-2 0 5 1-1 1-1 0-1 0-4 0 3 1 2 0-1 0-2 0 1 0 5 1-4 0 0 3 1 0-4 1 5 0-4 1 0 0 0 0 5 1-1 1 1 0-1 1-3 2 0 1-2 0 0 0 2 2-3 0 1 0 0 1-1 0 0 1 6 1-2 1 1 0-4 1-1 0 7 1-2 0 2 0-7 1 5 0-5 3 1 1 0 1 6 0-5 1 0 0 4 1-6 1 7 0-2 0-4 1 4 0 0 1-3 1-2 0 1 0-1 2 1 1 7 4 0 0-1 0 1 0-8 3 0 4 5 2-5 7 3 0-2 5 4 2 3 8-4 1-1 6 2 6-5-13 12-24 0-1 5-2-5-1 2-1 3-2-8-2 5-1 3 0 0 0-3-2 2-1 1-1-4-1 4 0-8-1 8-4-2-1-4-3 3-1-1 0-4-1 4-1 0-1 3 0-7-1 8-1-5 0 2 0-4-1 4-1 2 0-5 0-2-1 0-1 8 0-8 0 2-2-2 0 2 0 5 0 1-2-2 0-1-1-2 0-3 0 3 0 3-1 2 0-7 0 6-1-5-1-1-1-1 0 1-1 1 0 3 0 1 0-6-3 4 0 1-1-4 0-1 0 3-1 4 0-3 0-1-1 2-2-5 0 4-1-4-1 2 0-1 0 4 0-2-1 2-1 3 0-6 0-1 0 4-1-2-1 1 0 1 0 0 0 3-1-1 0-4-1-2-1 2 0-3-3 8-2-3 0-1 0 3 0-5-1-1-1 5-1-4 0 6-3-5-1 1-1 1-2 2-1-1-1 1 0-4-1-2 0 7 0-4-1-3-4-1-2 7-1-6-1 3 0 0-5-3-1 4-3-5-2 1-9 4-1 0-14-5-7 16 5-3 14 1 2-4 4 2 9 1 3 1 1 1 1-3 3 5 1-5 1 5 2-1 1-2 1 0 0-1 2 4 0-6 5 3 1 3 0-4 1 3 0 1 4-7 0 4 1 3 2-6 0 4 1 2 0-2 1-2 1 4 1-8 1 3 0 4 2 1 1-4 0 3 1-7 0 1 1 0 0 1 0 3 1-5 0 1 1 4 1-1 2 3 1 1 1-4 0-2 1 2 0-4 0 7 1-5 0 2 1-2 0 5 0-2 0 0 1 1 0 1 0-4 2-1 1 0 0 4 3-6 0 0 2 1 0 5 0 2 0-8 0 1 1 1 0 5 0-2 2-1 1-2 0-2 3 3 0-3 1 4 1 4 0-8 0 2 0 3 1 1 0-1 2 1 0-1 1 0 2-3 0 6 2-3 0-1 1-1 1 5 0-2 0-4 2 3 0-2 0 3 1-4 1 6 0-3 1-3 2 2 1 2 1 1 0-7 2 5 0-5 1 8 1-4 1-4 3 6 4 2 4-5 12 3 6 1 3-5 19 2-33 10-10-2-4 4-1-2-3 2-1-6 0-1-4 5-1 3-1-7 0 0-3 2-4 2-3 3-1-8 0 4 0 4-2 0-1 0-1-7-2 3-1-2-1 3-1-4 0 1-2 4-3-5 0-1-1 3 0 0 0 5-1-7-1 4-1-3-1 1-2-1-3 3-2-4 0 7-1-5-1 1-1-1-3 3 0-1-1-1 0-2 0 6 0 0-2-2-1 2-1-7-1-1-2 7-2-3-1-1 0 2-2-5-1 6 0-1-2 0-2-1-3 3 0-7-1 6-2-4-1-2-2 7-1-2-1-4-2 5-1 2-10-7 0 4-5-3-5 10 14-3 6 2 8 2 3 2 1-3 2 2 0 3 2-6 5 1 3-3 0 1 1 2 0-1 0 1 1 3 4-2 0-4 3 0 2 3 0 2 0-3 2 0 0 6 4-4 1 0 2-2 1-1 1 5 0 2 0-8 1 4 1 1 0-4 0 0 1 4 4 3 1-4 1-3 0 6 1-4 0 0 1 3 0 2 0 0 4-6 0 0 1 2 6-1 1-2 3 6 1-4 0 5 1-3 5-2 1 2 1-4 3 5 3-3 1 4 1-7 7 0 5 1 5 7-9 1-5 2-2 3-15-3-6 4 0-1-2 0-2-3-4-2-2 2-1-2-1 4-4 1 0 1-1-5-2-1-2 1-2-1-2 1-6 1 0 0-1 2-1 1-1-4 0 6-3-4-1-1-1 1 0 4-2-3-5 0-2 1-2 0-3 2-4 0-3-4-23 4 9 10 14-8 6 3 7 1 4 3 4-6 7 0 4 0 0 2 3-2 1-1 0 7 2-3 1 2 4-3 2 3 4-4 2-2 5 4 1-3 14 9-9-1-5 5-1 1-1-3-4 1-19 4 0-3-6-5-1 5-11-3 0-2-9 1 64 11-23 6-7 14" marker-start="url(#mo)" marker-mid="url(#mo)" marker-end="url(#mo)"/>
<path d="M1510 117l-19 2-11 4-6 1-10 1-15-7-2 7-1 7 2 2 13-3 1 3 6 0 3-5 8-2 33 2 8 12-4-6-1 0-2 7-11-6-14 4-6 3-6 0-4-7-1 4 0-2-6 2-4-4-1 2-5-1-2-1-1 0-2 5-2 0-1-1-4 3-2-5-4-2-17 1-1 2-15 10 21-1 4 3 4-6 2 4 13-1 6-4 3 4 3-2 4 2 1 4 1-8 1 4 6 2 8-2 4 2 1-4 8-1 16 7 6-3 21 7-9 1 0-2-18 1-1-3-5 5-3-4-2 0-4 7-7-3 0 1-2-3-3 1-1-1-2-1-1-1-2 2-1 1-1-3 0 0-2 1-1-2-4 3 0 3 0-4-2 5-3-7-2 8 0-3-1-4 0 6 0-3-1 4-1-6 0 2-2 0 0 2-5 0-1 2-1-7 0 4-3 2-3-6 0 2-1-3-4 7-2-7-2 3 0 4 0-2-4-2 0 5-2-4-8-1-2 3-6 1-1-3-3 13 3 0 4-6 2 3 4 1 2 0 5 1 1-5 2-1 1 3 2 4 0-3 2-4 2 2 2 5 2-6 5 6 0 0 0-6 2 5 2-2 4 2 0-7 1 1 2 3 0 3 0-1 2-3 0 3 3-3 0-1 1 5 0 0 0 1 1-5 2 1 0 1 0 0 2 2 0-5 1 3 0 3 1-4 0-3 0 6 1-6 0 1 0-1 0 6 1-3 1 1 1-4 3-1 1 5 0 2 2 1 3-3 4-1 0 1 1 2 1-4 0-1 1-1 0 3 1-2 1 4 0 2 0-4 2-4 1 7 1 1 2-4 3 0 1-2 0 3 3-2 4-2 5 1 1 3 9 1 20 0 1-3 3-3-11 11 0 4-2-3-5-2-9-1 0 6-5 1-1 1 0-6 0-2-1 7-2-3-2 3-3-1-2-6 0 7-2 1-3-8-1 3-1 3-1-2 0-1 0 4-1-7 0 7-1 1 0-1-1-5-3-2-1 8-3-3 0-1 0 3-2-2-1 1-2-5-1 2 0 0-1-2 0 0-1-1 0 5-1-2 0-2-1-1 0 0-2 2 0-2 0 0-1 4-1 0 0 3-2-7-1 8 0-7 0-1-1 6 0-3-1 3-2-2 0-3-1 5 0-5-2 1-1 1-1 5 0-7-1 0-1 0-2 6 0-3 0-1 0 4 0 0-1-2 0 0-2-3-1 6 0-5 0-3 0 4-2 4-1-3 0-3-3 6-2-8-1 6-1 2 0-2-1-6 0 2-1 6-2-5-1 4 0-6 0 3-1-2-2 3 0-1-2-1-2-2-1-1-1 4 0 4-2-5-1 0-2 4-5-7-3 4 0-3-2 0-13 1-29 9 21 0 8 6 6-3 8-1 2 3 1 0 4-3 3 1 2 2 1-3 0-4 2 5 2-2 3 1 1 3 2 0 0-1 4-3 0 3 1 2 2-5 0 5 0-1 1 0 0 1 1 0 0 0 1-6 0 2 0 1 1-2 1 4 0-5 1 4 1-6 0 7 1-3 2-1 1 5 0 0 0-6 0-1 1 2 1 4 0-5 1 2 1-3 1 1 0 5 0-5 0-1 0 7 1-3 1 0 0 0 1 3 2-7 0 1 1 3 0-3 1-1 2-1 0 7 0-5 1 2 3 0 2 4 1-2 2-5 0 7 3-4 4 4 0-7 0 0 1 2 0-2 1 6 2-4 0 3 0 1 1 1 1-2 0-3 0 5 1-6 0 5 1-1 1-6 0 7 2-4 1 1 0 2 0-4 1 5 1-5 0 2 2 0 1-1 0 2 0-2 2 4 2-4 0 3 1-3 5 5 5 0 3 0 2 0 20 4-8 3-8-4-2 1-2 1-4 1-4 0-1 3 0-8-1 5-4-1 0 4-4-4-1 1-3 2-3-6 0 3-1 2 0 0-1-2 0 1 0 3-2-2-2 1-1-4-1-3-1 6-1-1 0 0 0-4 0 5-1-2-1-4 0 5-1-4 0 2-2 1-4-2 0-1 0 4 0-4-1 4-1 3 0-2-1 1 0-5 0 3 0-3 0 2-1 2 0 1 0-4 0 5-1-7 0 5-2-3 0 0 0 2-1-1-1-1-1 4 0-2-1-3-1 1-1-3 0 6 0 2 0-3-1 0 0-3 0 6-1-5 0 3-1 1 0-2 0-5-1 2-2 1 0-1 0 2 0 2-1 1-1-1-1-6-1 2 0 5 0-4 0-3-1 0 0 6 0-5-1 4-1 2 0 0-1-3 0 3 0 0 0-1-1 2 0-5 0 2-1 0 0-2 0 5 0-7-2 0 0 5-1-3-1-1-1 4-2 1-1-4-2 2-1-2 0-2 0 3-1 4-1-2 0 2-2-8 0 8-1-2-1 1-1-4-1-1 0 0-1 2-5-1-3 5 0-4-1-3-3 6-1-7-1 0-2 6-1-5-2 4-3-2-6 2-13 3 32 1 6 1 0 4 3 2 0-1 1-5 6 7 0-4 2-2 0 3 0-4 1 6 1 0 1-2 0 1 3-1 0 1 1-3 1-3 1 4 0-2 2 3 1 1 2-5 0 4 2 3 3-3 0 2 1-5 0 1 1-3 0 5 1-3 0 2 0-2 1-1 1-1 0 5 0-2 2-2 0 0 0 7 1-6 0 6 0-6 0 0 1-1 1 7 0-6 1 3 0-4 1 2 0 1 1-3 1 0 0 0 0 4 1-5 1 8 0-2 1-6 0 3 1 0 0 4 0-4 0-1 1 6 1-6 0-1 0 7 0-1 1-5 2 4 0 0 2-5 0-1 1 5 1-4 0 7 1-8 1 2 0 3 0-5 0 5 2-2 1 3 1-1 2-2 3 2 0-5 1 6 0-3 2-3 2 4 0 4 0-5 2-2 3 2 1-2 0 7 0-8 3 5 0 2 0-3 1 3 3 0 5-2 5 3 2-8 2 5 3 0 4-4 2 12-16 0-4-4-5 6-3-4-2 5 0-4-2-3 0 6-1-4 0 5-1-7 0 4 0 3-5-3-4-3 0 2-3 3 0-6-2 4-1 1-1 2-1-5-1 4 0 0-2 1 0 0-1-7 0 1-2 0-1 1-1-2 0 1 0 4 0 3-2-7-1 5 0-4-1 2-1-3 0 1-2 1 0-1-1 5-1-3 0 1-2 2 0-3-1-2 0 4-1 1 0-1 0 2-1-2-1 1-1-4-1 2 0-3-3 0-1-1-1 2-1 1-5 4-1-8 0 0 0 8-1-2 0-5-1 1-2 1 0 4 0 0-4-7-1 5 0-2-1 3-2-1-1-5-2 1 0 0-1 7 0-8-1 3 0-2-3-1-7 7-1-5-2 3 0 2-1-6 0 0-10 7-7 0-1 4 5 2 11-2 0-1 4 4 2 2 5 0 1-6 1-2 2 6 2-6 4 8 0-7 3 3 0-2 0 6 2-2 1-3 3-2 1-1 0 6 0-2 1 3 1-3 3 0 1 3 0-4 0-1 1 0 0 1 0 0 1-1 2 6 0-5 1 1 1 2 0-3 0 0 1-1 1-1 0 6 1-6 0 3 0 1 4-5 0 6 0 0 0-4 0 1 0 4 1-6 0 5 0-6 0 5 0 1 0 0 2-2 4-1 0 2 1 1 2-4 0 4 1-2 1-4 2 2 0 1 1-1 0-2 1 6 2-3 0-2 3 3 0 3 2 0 3 0 1-6 0 1 1-1 2 6 6-7 0 1 0 0 3 0 2 0 1-1 5 5 5 0 1-5 13 1 14 4 1-3 4-1-24 14-9-5-15 5-1-1 0-1-1 3-1-5-1 0-2 5-1 0-1-5-1 3-1 0-1 0-5 3 0-2-2-3-2 2-2-3-2 6-1-6 0 0-1 2-2 0-1-3 0 2-2 4-4-1-2-6 0 2 0 5 0 1-1-7 0 0-3 1-1 3-2 0-1-3-2-1 0-1-1 7 0-3-1-3-2 3-5-1-1 2 0-1-1-3-9 0-1 7-4-5-2-1-8 2-9-3-5 6-8 0 15 10 9-2 8-1 0-4 1-1 3 5 4-2 0-2 1 3 7-1 1 1 6 2 3-1 3 2 6-7 0 3 1 4 0-2 2-4 0 4 2 2 0 1 2-7 0 5 1-3 3 5 6-2 8 0 7-3 1 3 1 1 5-3 6 4 2-4 5 1 4-3 1 3 2-5 21 8-22 4-2 0-12 3-7-3-1 0-14 0-2 1-3 1-1 2 0 0-3-2-3-1-4 1-1-4-22-1-4 5-13-4-5 0-5 6 12 5 14 0 1-1 1 0 0 0 2 5 3-4 5 0 6 5 15-5 8 1 4 1 1-4 28 1 12 0-33 9-2 4-13-6-9 8-5-8-1 6 0-6-8 7-7 1-7-8 16 17 7-4 18 8" marker-start="url(#mb)" marker-mid="url(#mb)" marker-end="url(#mb)"/>
<path d="M1452 106l51 16-4 2-9-7-28 8-22-3-25 0 26 8 5 3 12-4 14 4 9-3 36 11-6 0-1-4-1 0-5 3-14 2-12-5-8 6-8-4-1 4-2-6-7 2-10-4-50 11 44 1 16 5 2 0 4-3 0 3 2-8 4 3 0 0 1 4 1 1 3-5 1 3 2 2 2-2 2-4 2 5 0 0 1-2 2 1 2 0 7-5 1 6 1-7 0 8 0 0 2 0 4-3 11 0 2 3 5 0 4-3 38 11-27 1-15-6-6-1-8 6-9 1 0-3-11 1 0-4-1 0 0 1-2 5-2-3-1-4-2 1 0 3-2-3-1 5 0 1-3-3 0 0-2-1-1 4-5-6-1 2-1 4-3-8-2 8-1-5-3-1-3-1-2 7 0-6-2 5-1-2 0-4-2 2-8-3-32 6 1 5 18 2 8-4 2 7 1 1 1-8 1 4 1 3 4-7 1 6 0 2 3 0 1-8 1 4 1-3 0 7 1-6 2-1 1 2 2 0 0-2 2 6 0-3 2-1 0 3 0-1 2-2 0 1 0-2 0-1 2 1 2-2 2 2 0 4 1-2 0 0 0-2 1 4 2-3 0 1 1-3 0-1 2 8 0-6 1 0 0 1 4 5 2-6 0 5 0 0 1-5 0-1 2 4 0 3 1-7 0 0 1 5 1-1 1-3 2 5 1 0 1-5 0-1 2 4 0 1 2-6 2 1 0 2 8 2 4 2 4-1 2-3 1 5 6-2 6-5 19 4 3 6 0-2-14 0-5 8-4-7-4 7-6-2 0 2-1 0-2-8-1 6-1-6 0 3-2 1 0-2-1 2-2 2-1-3-1 4-6-6 0 3-2 0-1-3-1 1 0 5-1-1 0 0-1-6-2 2 0 3-1-1 0-2-1 5 0-4-1-3 0 0-1 8 0-2-1-3-1 3 0-2-1-3 0 7 0 0-1-5-1 5-2 0 0-7-1 1 0-1 0 6-2-1 0-6 0 2-1 4-1 0 0-3 0 1 0-2-2 4-1-3 0 0 0 2-2-4-1 7-1-3 0 1 0-6 0 6-2-2 0 2 0-5-1 0 0-1 0 7 0-3-1 4-1-5 0 4-1-1 0-2 0-2 0 0-2-1 0 4-2-4-1 7 0-7-2 3 0-2-1 2-4 0 0 3-1-4-1-1 0 0 0 0-2 4 0-3 0-2-2 4-1 1 0-3-2-3-1 1-1 5-1 0-1 2 0-3-4 2 0-7-1 1-2 5-17-1-2-1-2 2-10 0-16 9 25-2 3-2 9-1 1 4 1-4 2-1 2 8 0-1 1-3 0 3 4 0 1-6 0 2 2-3 1 2 3-1 0 4 2 3 0-5 0 3 1-3 0 2 4-4 3-1 0 5 0 3 1-5 0 4 1-4 1 0 0 3 1-4 0 3 1-2 0-3 1 0 0 7 1 0 0-7 1 0 3 0 0 7 1 0 1 0 0-5 0 0 1 0 0-2 0 1 0 6 1 1 0 0 2-2 0 0 1 2 0-6 1 4 0 1 1-7 1 3 1 4 0-1 2-5 1 2 0 0 1 4 0-6 1 2 0 2 0 2 0-2 1 1 2 1 0-5 1 4 1-6 0 5 0 2 2 1 1-1 1-4 6-3 0 3 2 1 0 3 0 0 1-3 0 3 2-2 0 1 0 0 2-1 0 0 1 3 1-6 0 2 2-3 0 6 2-2 1-4 0 2 3-1 1 3 0-5 4 1 1 5 3 0 0-5 2 2 2 3 0 0 3-6 2 7 0-7 0 6 0-1 1 2 8-2 6-1 3 11-8-3-3 5-6-1-1-7-5 2-8 4 0 2 0 0-1-6-1-1 0-1-1 2-1 3 0-5-3 1-1-1 0 8-2-3 0 0 0-3 0 6 0-8-1 3-1 3-1-4-1 2 0-1-3 2 0-2 0 3-1-5-1-1-1 8-1-2 0-1-1 3 0-7-1 5 0 0-1 0 0-1 0 2 0-6-1 6 0-5-2 4 0 1 0-7-1 1-1 1 0 1 0 4-1-4 0-3 0 8-1 0-1-7-1 5-1-5-1 0 0-1 0 1-2-1 0 6-1-1-1-3-1-2 0 7 0-1-1 0-1-3 0 4-2-7 0 0-1 0-1 0-1 4 0 0 0-2-1-1-1 3-1-4 0 1-1 2-1 0 0 3 0-4 0-1-1 7-1-6 0 2 0 4-2 0 0-5 0 4-1-7 0 8 0 0 0-3-2 1-2-4 0 2 0 2-4-1 0-1-5-2-1 6-3-6 0-1 0-1 0 7 0 1-2-3-3 3-1-7 0-1-2 3-1-1-2-1-2 3-3-2-3-2-1 3-2 0 0 2-1-4-9 6-4-4 16 9 6 2 5 0 2 3 0-1 3 1 2-7 0 4 2-3 4-1 0 1 1 0 1-2 4 0 0 5 1-5 1 5 1-3 0 1 1-1 0 6 1 0 0-8 0 5 0-2 1 5 1-8 0 7 1 1 0-7 0 3 0 1 1-5 0 3 1-3 0 1 1-1 1 8 0-3 0 2 1-2 1 0 0-2 1-2 1 6 0-2 1 3 1-5 0 1 0 1 1-2 0 1 1-1 1 5 0-1 0-4 0-1 1 4 1 1 0 0 0-6 0 1 1 3 1 3 0 0 0 0 1-4 0-3 1 2 3-3 0 8 1-7 0 1 1 6 1 0 1 0 0 0 0-5 2 0 0 2 3 0 0-2 0 3 1 0 0-6 1 8 1-8 0 1 0 4 1-3 0 4 1 1 0-1 1-1 2-4 1 1 0 3 0 0 1-1 2 4 0-7 0 0 0 1 1 2 0 0 1-3 1 1 0-1 0 5 1-4 1-2 0 8 2 0 0-1 1-6 1 6 1-1 0 1 2-1 0-2 1 4 1-7 1-1 1 4 3 2 1 0 0-4 0 3 5-5 1 3 3 2 0-2 1 5 6 0 1-4 17 0-20 13-11-7-1-1-4 6 0-4-1 3-2 3-1-1-1-3 0 1 0-4-1-1-2 8-2 0 0-8-2 4 0-1-2-3 0 6-1-6 0 6 0-3-1 3-2 2 0-7-1 6 0-4 0 3-2 1-1 1-1-6 0 2-1 2 0-2-2 0 0 2 0-5-2-1-1 0 0 5-2 3-1-8-1 2 0 2-4-3 0 4 0-2-1 0 0 1-1 1 0-3-2 4 0-1 0-1 0-1 0-3-1 8-1-2 0-3 0 5 0-7-1 2-1 5-1-6 0-2 0 0-1 2-1 5 0-4-1-1 0 1-1 3-1-6-3 6-3-2-1 2-1-5 0 4-2-5-1 2-1 0-1 4 0-5 0 7-1-6-1 6-1-3-1-1 0 1-1 1-1-4-1-2 0 8 0-4-2 3-3-4-3-2-5 1-2 5-1-7-1 2-4 1-11 1-12 8 12 1 3-3 3 6 8-6 2-1 5 2 2 4 2-5 2 2 2-1 4 5 0-4 3 1 2-1 0 4 4-6 4 4 1-2 1 1 2 1 1-1 0 1 0-5 0 2 1 3 0 1 0-5 1 5 1-6 0 7 0-3 4-2 0-1 0 3 1-1 1-1 1 5 1-2 1-5 0 0 1 6 1-4 0 5 1 0 2 1 0 0 1-7 0 4 0 1 0-4 1 3 0-4 2 0 0 2 2-3 1 8 3-5 0-2 2 0 2 5 2-1 1-2 0-1 1 4 3 2 1-6 3 2 0 0 1-2 1 4 0-4 1 2 0-4 1 6 0-2 2 2 1 1 0-3 1-2 2 1 2 1 2-2 3 0 1 2 8 0 11-3 2-1-21 11-1 4-6-5-3-1-3 1-2 0 0 0-1 2 0-1-1 1 0-2-5 0 0 3-3 4-1-6 0-2-3 3-1 0-3 1-2 0-4 2-1-3-2-2-1 6-1-3 0-1-5-3-1 6 0-1-1 1-2-3-1-3-3 1-2 7 0-5-2 3-1 1 0-7-2 4-1 0 0 3-1-4-1 4-1-3-1 0 0-4-1 2 0 6-1-4-7 0-2 0-1-4-8 8-4-1-4-3 0-1-8 1-23-3-9 13 34-1 5 1 1-3 8 2 4 1 3-4 2 5 1-2 3 3 1-7 4 8 3-8 2 1 3 2 0 3 1-5 2 7 1-7 3 6 0-4 1 2 0 2 0-3 1-3 3 7 1-6 1 0 1 4 2-3 3-2 2 3 0-1 5 5 0-8 0 1 3 4 1 1 4-2 2 3 1-7 4 4 2-3 7 1 5 0 1-2 20 5-26 4-8 2-4 3-6-3-9 4-1-3-1 4-2-3-14 3-5-6-2 2 0-2-7 4 0-3-3 4-3-4-5 0-9 1-7 11 3-5 12 2 27 3 4-3-4 13-10-5-16 0-41 10 80-2 5 1-46 9" marker-start="url(#mo)" marker-mid="url(#mo)" marker-end="url(#mo)"/>
<path d="M88 376l-13-5-3-1 12 13 28 0-8 6-29 4-1 2-4-2-4-1-10-1 13 5 2 2 1 6 1 0 0-4 4 1 2-3 1 3 2-4 2 5 3 2 1-6 14 3-1 4-12 2-1 1-2-3-2 7-2-7 0 5-2-4-1 1-1 6-3-4-1 4 0-3-3 1-3 2-1-3-1-3-2 5-3-5-15 7 12 2 1 0 2 0 1-1 0 6 0-5 2-2 1 2 1 6 1-8 2 6 1 1 1 1 0-4 2-2 0-1 0 7 2-8 0 1 1 1 0 3 0-5 1 1 0 6 1-5 1 1 1-3 0 7 0 1 1-5 1 4 0-6 2 2 0-2 1 4 2 2 1-2 1 2 1-2 0 1 0-5 4 1 0 2 5 4 0-6 2 3 1 2 1-1 80 0 11-5-12 13-2-2-7 5-66-7-3 0-1 3-2 1-2-3-1 6-1-7-3 1-1-1-2 7 0-7-2 7 0-8-2 1-2 2 0-3 0 2 0 3-1 1-1-5 0 1-1-2 0 0 0 5 0-2-1 0 0 1-1 4-1-3-1-2-1 3 0 0-1-2 0-1 0 0-1-2-1 1 0 2-1 4 0-7 0 6-1 0 0 1-1-5 0-1-1 0-1 2 0-2-2 3-1 3-1-3-1 3 0-7-2 3-1-2 0-2-2 5-1 0-4-2-19 11 10-3 7 5 2-7 1 0 2 5 1-4 1 1 2 2 3 4 0-4 1 3 0-4 0 4 0-2 0-1 1-3 0 6 0-3 0 0 1-2 0 2 1 0 0-1 1 2 0 1 0-3 1-3 0 2 1-2 1 5 0-4 1 6 0 0 0-6 1-1 0 3 1-1 1-2 0 2 0 1 0-1 1 1 1-2 0 7 0-5 1 2 1-1 0-2 0 1 0-3 0 5 1 3 0-6 0 4 0-6 0 4 0 2 1-4 0 3 1 1 0-4 0 2 1 0 0 2 0-1 1 3 3-7 0 4 0-1 1 3 0-7 1 1 0 6 1-5 0-1 0 1 1 4 0 0 0-2 0-4 0 4 1 0 1-4 1 5 0-3 2 1 6 2 0-2 4 4 67 1 1 0 4-7 3 0 0 5 18-6 15 15-18-1-1 2-9-6-2 7-3 0-3-6-18-1-56 2-2 0-3 2-1-2-1 2-1 1 0-5 0 6-1-6-1 4-1-3 0 2 0 3-1 0 0-7-2 6-1 0-1-5 0 6-1-5 0-2-1 3 0 5 0-7 0 7-1-6 0 2 0-1 0 3-1 1 0-1 0-6 0 2-1 3 0 1 0 1-1-1 0-4 0 1-1 2 0 2 0-5-1 4 0 2 0-8 0 7-1 0 0-4 0-2 0 6 0-6 0 3-1-1 0 5 0-2-1 1 0-1 0-5 0 6 0-6-2 5 0 0 0-2-1 3-1-2-3 2-1-4 0-3-1 2 0 5-1-4 0 5-2-8-1 3-1 1-3 1 0-1-3-2-3 0-3 2-9 4 4 8 4-2 6 2 2-5 1 0 1-2 0 1 1 7 1-1 2-6 0-1 1 5 0-5 0 7 0-6 1 5 0-4 1 6 0-6 1 4 0-4 1 4 0-3 0-2 0 7 0-8 1 0 1 0 1 6 0-4 0-1 0-1 1 8 0-4 1 2 0 1 0-7 0 7 1-2 0 2 1-3 0-4 0 6 0-6 1 2 1 2 0 0 0 1 0 1 0 2 1-4 0 0 1 0 0 1 0 3 1 0 0 0 0-4 0-2 2 5 0-4 0 1 1 1 0 0 0-2 0 3 1-1 0-3 0 6 0-2 0-5 1 4 0-2 0 1 0 2 1-6 0 2 1 6 0 0 0-2 1 0 0 1 1-5 0 4 1-3 0-1 0 2 1-4 0 3 2 0 1-2 1 4 1-2 1-1 0 0 0-2 1 2 0 2 5 3 0-6 1 6 2-3 4-3 49 7 4-6 10 5 1-2 6-4 2 6 1-2 0-4 1-1 2 0 1 1 1 4 3-5 1 7 3 0 1-4 2 0 1-3 6 0 2 8 7-2-9 6-3 3-2-2-1 1-1-3-1-1-1 2 0 5 0-7-2 4-1 3-4 0-1-5-2 0 0 4-3-5-1 2 0 4-2 0-1-4 0-3 0-1-3 6-2-6 0 3-10 1-2-1-5 2-47-2-6 5 0-7-3 3-1-2-1 1-3 5-1-8 0 4 0-1-1 0-2 1 0 2 0-6-1 7 0 0 0 1-1-6 0 1-1 2 0-1-1-3 0 0 0 6-2-5 0 4-1 2 0-3-1 3 0-1 0-6 0 2-1 3-1-3-1-3 0 5-1 2 0-7-1 6 0-2 0 1 0 1-1-2 0 3 0-4 0 4-1-6-1 5-1 1 0-5-1 5 0-3 0-1 0 2 0-1 0 2 0-6-1 4-1 0 0-1 0 2 0-1-1 4-2-4-1 4 0 0 0 0-1-8 0 6-2-4-1 0 0-1-1-1 0 5-1 0 0 1-2 0-2-5-1 7 0-6-4 3-1-2-5 14 6-4 3 0 1-4 0 7 4-1 1 0 0-6 2 7 0-3 1-2 1 6 1-5 1 5 0-3 0-5 2 0 0 5 0 0 2 1 0 2 0-8 1 0 0 4 0 0 0 0 1 3 0-2 2-5 0 5 1-3 0 3 0-2 2 4 1-3 1-2 0 0 1-1 0 4 1-3 0 4 0-3 1-1 1 4 0-4 0 1 1-2 0 7 1-3 0 0 1 3 0-7 1 2 0 2 1-5 0 8 1-8 0 0 1 5 2 3 0-3 2-5 1 2 1-1 0 1 3 1 1 2 2-3 45 2 17 3 0-7 3 5 1-1 0 4 2-4 0-2 1 2 2 4 2-7 1 4 1 1 0 2 2-1 2-1 1-3 1 4 2-4 2 5 1-5 1-1 0 6 1-7 0 1 0-2 3 4 0-1 2-2 3 7 14 4-7-1-1 0-2 3-1-3-3 6-2-1-3-2 0-5-2 6-2-2-3 0-3 1-1-4-2-1 0 5-1-4-1 5-1-6 0 4-1 0 0 4 0-1-1 1 0-8-1 8-1 0-1-4 0 1-1-2-3-3-2 3-5-2-6 5-5-3-34 1-5-3-17 4 0-3-2 5 0-3-2-1 0 2-1-1-1 3 0-2 0-1-1 0 0 3-1 1-1-5-2 1 0-2-1 2 0-2 0 1 0-1-1 3-1-4 0 4 0-4-1 5-1 2-1-7 0 6-1 0 0-7 0 2-1 1 0 1 0 1-1-1 0 2 0-6-1 3 0-2 0 3 0-2-1 2-1 1 0 0 0-1-1 4 0-2-1-3-3-3 0 1-1-1 0 2-1 1 0 2-2-2 0 0-2 2 0 0-1 0-1 2-15-6 3 9 3 3 2-4 5 7 0-6 1 6 0-7 3 4 1-1 2-3 1 7 2-5 0 6 2-3 1 1 0-5 2 7 1-8 0 2 1 1 3 3 3-6 0 2 4 1 0-3 0 3 4 1 3 1 0-1 6-1 6 0 63 1 3-1 1 5 2-1 1-2 1 3 4-8 0 4 2 4 0-1 2-6 0 6 1-2 1 1 0 1 1-4 0 2 3-5 1 5 0 3 2-2 1-3 0 2 1-1 3 0 1-2 2 1 3-3 0 6 7-1 1 0 0 4-10 5-1-5-1 0-1 8 0-7-2 3-3 3-1-6 0 1 0 6-1-2-1-1 0-4-1 4 0-3-1-2 0 6-1-1-2 2-1-1 0 1-3-7-1 3-2 1 0 1 0-5-1 5-1-1-2-4-2 3-1 1-7 4-1-4-2 0 0 2-4-4-7-2-55 1-5 3-1-4-4 7-2-5 0 1-1 1-1 3-4-3-2-4-2 0-1 1-1 3-2-3-1 0-1 5-2-4-2 5-3-6-4 2 4 7 0 1 1 5 1-7 6 2 3 3 0-1 1-2 0 5 5-1 1-1 1-3 2 2 11 3 3-4 3-2 55 4 14-5 3 1 4 0 1 4 0-4 1 3 2-3 1 1 2 6 0-7 2 1 3-2 1 8 0-7 1 4 1 2 3-2 0-5 1 7 1 0 1-7 1 0 10 4 11 2-8 4-3 5 0-4-1 4-5 0-1-1-3 2-3-3-4 4-2 0-2-6 0 3-1-2-1-1 0 1-3-2-2 5-3-5-2 0 0 2-1 1-2 2-2-1 0-2-4 3 0 0-67-6-1 3-14 5 0-2-1 1-9-2-2 0-10-5-1 3 10 11 14-3 1-2 7 0 9 0 60 7 17 0 1-7 4 3 2-3 1 1 0 6 5-1 2 0 2-4 2 4 1 0 6 1 0-3 4 0 4-4-16 15-3-6-14 4-10 0-81 5 93 3 10-3 6 7 6 6-18-3-13 10 8 15" marker-start="url(#mb)" marker-mid="url(#mb)" marker-end="url(#mb)"/>
<path d="M67 396l4 1 9 3 2-1 6 2 12 1 4 8-11 1-17 2 0-7-6 1-6 0-6 4-2 10 3 1 2-6 5 4 0 0 2-2 3 1 1-4 1 4 1 1 1-3 0 5 2-8 1 0 1 8 0-3 2 2 2-6 1 4 0-3 0 2 1 3 3 1 1-7 13 4 96 0 2-3-87 10-15 2 0 2 0-4-7-3-1 5-1 3 0-5 0 2 0 1 0-2-4-1 0 5 0-4-1-3-1 4-1 3 0-1 0-2-1-2-1-1 0 5 0 1-2 0-1-8 0 0 0 1-1 4 0 2-4-2-1 1 0-2-1 0-1 0-2-1 0 5-1-7-1 1 0 4-1 0 0-6-4 2 0 0-1 4-2 0-2 0-8 5 2-1 0 5 2-4 0 2 3 2 3 1 2-3 2 2 3 0 0-4 1 6 0 0 1-2 0-5 0 1 1 5 1-7 1 6 2-6 0 8 0-6 0 2 1-2 0 5 0-5 1 2 1 2 1 2 1-3 0-4 0 2 0 4 0 1 0-8 1 8 0-7 0 1 1 1 0 3 0 1 1-3 0-2 1 6 1-1 0-7 2 3 0 0 1-3 0 5 0-2 0 2 1-4 0 4 0 1 0-3 1 2 0 1 0-5 1 3 2 4 0-3 2 3 1-2 0-1 3 3 0-5 0 4 3-3 1-4 7 6 63-1 27 0 5 8-4 2-4 1-7-5-16 0-6 4-3 0-59-6-1 2 0-2 0 6-1 1-1-1-1-2 0 4 0-2-1-6-1 3-2 5 0 0-2-7 0 4-1 1 0 1 0 1 0-5 0 3 0-6-1 4 0 0 0-2 0 2 0 3 0-2-1-5 0 8-1-3 0 1 0-1 0-3-1 6 0-4 0-1 0 3-1-4 0 3 0 3-1-2 0-6-1 5 0 3 0-8-1 4 0 0-2 0 0 4 0-1 0-3 0 3 0-6-1 0 0 4 0-4 0 7 0-2 0-6-1 3 0 1 0-1 0 2 0-3-1-2 0 5 0 1 0-1-1 2 0 0 0-3 0 3 0-1 0 2-1 0 0-1 0-4 0-2 0 2-1 3 0-5-1 5 0-2 0 4-1-8 0 2 0 2 0 3 0-5-1 0 0 2 0 1 0 3 0 0 0-8-1 0 0 6 0-1 0-1 0 4 0-4-1 2-1-5 0 3-1 2-1-4 0 0-1-2 0 2 0 1 0 1 0 2-1-1 0-1 0 3-2-5 0 6-1-3 0 1-2 2-3-4-1 0-4 2-8 6 5-2 2 6 3-2 3 3 1-5 0-3 2 1 1 3 0 0 0 4 1-2 1-1 1-4 0-1 0 0 1 0 0 3 0-2 1 4 0 3 0-5 1 5 1-1 0-2 0-1 1-2 0 3 1 3 0 0 1-2 0-3 0-2 1 7 0 0 0-7 1 6 0-5 0-1 0 7 0-1 0-2 1-2 0 4 0 1 1-8 0 0 1 8 0-1 1-6 0 7 0-6 1 3 1-5 0 5 1-3 0 5 0-3 0 4 1-3 0-5 0 6 0 2 1 0 0-8 0 5 0-3 1 3 0-3 1 4 0-5 0 2 0 3 0-6 1 2 0 0 0 2 1 4 0-1 0-3 1 2 0-6 0 8 0 0 1-5 0-2 0 3 0-4 0 4 1 0 0-1 0-2 1 4 1 1 0-5 0 7 1-8 0 6 1 0 1-6 0 5 1 0 0-1 1 1 0-2 3-3 0 0 4 4 3-3 1 7 4 0 64-8 2 8 6-8 1 8 4-1 0-2 3 2 1-5 0 4 1-2 2-3 3 3 15-2 8 0-15 13-7 1-3-6-9 6-3-1-4-1-1 3-3 0 0-8-2 5 0-1-1-2-3 1-3 3-3-5-1 1-60 1 0-3-4 1-1 5 0-3-1-1-1-2 0 3-1 5-1-1 0-6 0 7-1-3 0 0-1-1 0-4 0 3 0 5-1 0-1-7 0 7 0-2 0 2 0-2-1 0 0-6 0 6 0-3-1-3 0 3 0 1 0-1 0 4-1 0 0-3 0-4 0 3-2 4 0-4 0 0 0 2-1-1 0 2-1-5 0 3 0-3 0 6 0-5-1 3 0-1 0 4 0-4 0 3-1-4 0 4 0 0-1-5 0 3-1-2 0 4-1-5 0 3 0-4 0 4 0 1-2 2 0-3-1 1 0-2-1 1 0 3 0 0 0-8-2 1 0 7 0-6 0-1 0 5 0-3-1 0-1-1-1 1 0 2 0-3-1 4 0-5-2 5 0-6 0 1 0 1-1 2 0-2 0 0 0 4-1 0 0-5 0 0-1 3 0 2-1-5-5 1 0 2-4 7 2 4 1-6 4 2 1 0 1 4 2 0 2-3 0 1 1-3 0 4 0 0 0 1 1-2 0-3 0 0 0 0 0 3 1 2 0-5 0 5 0-5 0 7 2-5 0 2 0-3 2 2 1 0 0 3 0-7 1 7 0-1 0-6 2 8 0-8 0 2 1 0 0 3 0-3 0 2 1-3 0 6 0-6 0 6 0-4 1 4 0-1 1-3 0-1 0 0 0-1 1 7 0-2 0-2 1-4 0 7 0-7 0 2 0 3 0-5 1 8 0 0 1-8 0 8 0-1 1 0 0 0 0-6 0 2 1-3 0 0 0 4 1-4 0 5 2 0 0 2 2 0 1 0 0-1 0-1 2 2 1-7 1 1 1 1 1 4 4 0 3-6 8 1 38 0 5 4 4-2 1-2 6 5 5-4 1 5 0-5 1 4 0-3 3 4 0-4 3 5 2-7 1 1 1 4 1-4 0-2 0 2 1 5 4-5 0 1 1-3 0 4 0 3 2-1 1-5 2 7 2-7 1 2 0 5 4-1 2 0 5-6 1 4-7 6-2 3-2 1-4-6-5 6 0 2 0-3-1-1-1 0 0-1-1-3-1 2-1 4-1-6-1 2 0 6-1-2 0 2 0-2-1-6 0 1-1 3 0-3-1 2-3-2-1 1 0 1-1-2 0 4 0-3-1 1-1 4-2 0 0 1-3-2-1 2-6-1-1 0-9-2-48 2-1-1-4 0-1 1-4-3-3 2 0-4-1 2-1-1 0-1 0 1 0 0-1-3 0 5-2-5 0 4-1-4 0 2-1 1 0 2 0-3 0 0-1-2 0 4 0-4-1 3 0 3 0-1-1-2 0 3 0-6-1 1 0 7 0-8-1 5 0-1 0-4 0 7-1-2 0 2 0-7-1 1 0 5 0-2 0-4 0 7-1-3-1 4 0-6-1 0 0 6-1-5-3 0-2-2-4 2-1 0-2 5-1-4 0 0-1-1 0 1-2-3-4 2 4 13 7 0 3-5 5 6 0-7 1 0 1 0 4 6 2-6 1 0 1 1 1-2 0 6 0 1 2-3 0 4 1-6 0 4 1-6 0 7 5-4 2 3 3-2 2-3 67-1 3 6 3-4 2 0 1 5 0-3 0 3 1-3 0 3 1-2 0 1 1-3 0 0 0 2 0-1 0 4 1-5 1-1 1 6 1-6 0-1 1 3 1 0 0 3 2 0 1-1 0-5 1 6 1 1 1-7 0 5 1-2 0-2 0 4 1-2 0 0 0-2 2 5 0 0 0 0 0-6 2 0 3 7 1-5 0 0 3 5 2 0 0-2 7-4 0 1 4 5-9 4-2 5-4-3-3-5 0 2-1 0-3-2-1 8 0-6-1 4 0 2 0-2-1-3 0 3 0 1-2-4-1-3 0 0 0 5-1 1 0 0 0-5-1 3-3-4-2 0 0 0-1 2 0 6-1-7-1 6 0-5-1 1 0 3 0 1-1-4-1 2-1-3-3 3-1 3 0-7 0 6 0 1-1-1-1-5-2 5-4-4-47-3-16 1-1 7-10-8-2 7-4-3-1-4-5 2-12 2 2 7 6 3 1-2 1-1 88 4 4-1 2-4 1 7 0-2 2-3 2-3 3 5 2 2 0-6 1 6 0-1 1 1 1-7 0 3 1 1 2 3 0 1 3-5 0 1 2 3 0-7 0 2 2 6 0-2 0-6 2 6 2-1 2-3 0 1 1-2 2-1 0 0 2 3 2-2 13 16-6-8-7 0-1 3-2 1-1 2-1-5-2 2-1-2 0 2-2-1-1 0-4-1-1 6-2 1 0-2-1 0-1-4-1 2 0-4-1 5-1-5 0 3-4 4-1 1-1-2-11-5-4-1-93 4 85 13 6-3 4 2 3-2 1-1 1-4 1 5 1 2 2-2 1 2 2-4 6-3 1 4 1-2 2 0 0 6 0-5 1 3 0-2 4-4 0 6 1 1 1-4 4-1 7 6 1 0 1 0 0-8 1 13-10 0-1-1-4-1-4 6-3-3-5-4-12 0 2 11 9-2 3 4 8-4 3 2 1 2 1-2 1-1-24 25" marker-start="url(#mo)" marker-mid="url(#mo)" marker-end="url(#mo)"/>
<path d="M356 376l-14-5-4-1 14 13 33 0-10 6-34 4-1 2-5-2-4-1-12-1 16 5 1 2 2 6 1 0 0-4 5 1 2-3 2 3 2-4 2 5 3 2 1-6 17 3-1 4-15 2-1 1-2-3-2 7-2-7 0 5-3-4-1 1-1 6-3-4-2 4 0-3-3 1-3 2-1-3-2-3-3 5-3-5-17 7 13 2 2 0 2 0 1-1 0 6 0-5 3 0 0-2 2 8 1-8 2 6 1 1 2 1 0-4 2-2 0-1 0 7 2-8 0 1 1 1 0 3 0-5 2 1 0 6 1-5 1 1 1-3 1 7 0 1 1-5 1 4 0-6 2 2 0-2 1 4 2 2 1-2 1 2 2-2 0 1 0-5 4 3 1-2 5 6 0-6 3 3 1 2 1-1 78-1 10-4 4 15-14 1-1-5-1-1-1 6-5-1-65-6-3 0-2 3-2 1-3-3-1-1 0 7-4-6-2-1-1 7-1-7-2 7 0-8-3 1-2 2 0-3 0 2 0 3-1 1-2-6 0 0 0 1 0 4 0-3-1 1 0 1-1-1 0 5-1-3-2-2-1 3-1-3 0 3 0-3-1 1-1-3 0 3-1-2-1 6 0-7 0 6-2-4 0 4 0 1 0-6-1 0-2 2 0-2-2 3-1 3-1-3-1 3-1-7-2 3-1-2 0-2-2 5-1 0-5-2-22 11 11-3 8 5 3-7 2 0 2 5 1-4 1 1 2 2 4 4 0-3 0-1 1 3 0-4 0 4 0-3 0 0 1-3 0 6 0-3 1-2 0 2 1 0 1 1 0-2 1 3 0-3 1-3 0 2 0-2 2 5 0-4 1 6 0-6 1 6 0-7 1 3 0-1 1-2 0 3 1-1 0 0 1 1 0 0 1-2 0 7 2-4 0 1 0-3 0 1 0 2 1-3 0-2 0 4 0-4 1 8 0-2 0 0 0-4 0 3 2-1 0 2 0-4 0 2 1 2 0-1 2 3 2-4 1-3 0 4 1 2 0-7 1 1 0 6 1-5 0-1 0 1 1 4 0 0 0-2 0-4 0 4 2 0 1-4 1 5 0-3 3 1 6 2 0-2 5 4 55 0 11-2 1 1 5-2 4 4 24 4-6 3-6 2 0-3-3-3-1 2-3 2-3 1-1-1-1-1-1 0 0 2-2 0 0-2-3-5-12 7-61-4-1 0-4 2-2-2-1 2 0 2-1-1 0-5-1 0-1 4-1-3 0 5-1 0 0-3 0-4-3 6-1 0-2-4 0-2 0 1 0 6-1-6 0 7-1-5 0 5-1-6 0 2 0-1 0 3 0 0-1 1 0-7 0 2-1 3 0 1 0 1-1-4-1 3 0-4 0 5-1-1 0-1 0-3-1 6 0-8 0 7 0 0 0-6-1 6 0-4 0-2 0 3 0 2-1-3 0 5 0-2-1 1 0-6 0 6 0-6-2 3-1 2 0 0 0 1-1-2-4 2-1-4-1 4 0-7-1 2 0 1-1 5-1-8-2 3-2 1-2 0-1 1-4-3-2 0-4 2-10 4 4 8 4-2 7 2 2-5 2 0 1-2 0 1 1 7 1-1 3-6 0 0 0-1 1 5 0-5 0 7 1-1 0-4 1 6 0-6 2 4 0 0 0-3 0-2 0 1 0-2 1 8 0-8 2 0 1 6 0-4 0-1 0-1 1 8 1-4 1 2 0 1 0-7 0 7 1-3 0 1 0 2 1-7 0 6 0-6 1 2 1 2 0 1 0 1 0 2 1-4 0 0 1 0 0 4 1-4 0 1 1 3 0 0 0-4 0-2 2 5 0-4 0 1 1 1 0 0 0-2 0 3 1 2 0-2 0-5 1 4 0-3 0 3 0-2 0 1 1 2 1-6 0 6 0-4 1 6 0 0 1-2 0 1 1-5 0 4 1-3 0-1 0 2 1-4 0 3 3 0 1-2 1 4 1-2 1-3 1 2 0 0 1 0 0 2 5 3 1 0 0-6 3 3 5-3 49 3 2 3 2 1 8-4 0 1 0 3 1-7 4 5 0-1 2-2 1 4 0-5 3 6 1 0 0-7 3 2 3 0 1 3 0 2 0-8 0 6 1 1 2 1 4 0 2-4 6-2-10 9-3-2-1 6-1-3-1 5 0-1-1-6-1 3-1 1 0 1 0-2-1 3 0-1-1-2-2 3-1-4-1 4-2-7 0 3-1 0-1-3-2 6-1-5-2 7-1 0 0-2-2 2-3-4-8-4-6 8-41-5-7-2-1 7-3-4-1-2-1 1-3 5-1-5-1-3 0 4-1-1-2 3-1 1 0-3 0-4-1 7 0 1 0-6-1 2 0-1-1 2 0 2-1-6-1 0-1 1-1 4 0 2-1-3-1 3 0-1 0-6 0 2-1 3-1-3-1-3 0 5-1 2 0-7-1 4 0 2-1 0 0-1 0-1 0 3-1 0 0-4-1-2-1 5-1 1-1 0 0-3 0 1 0-1 0-2 0-2-1 3 0 1 0 2-1-2 0 0-1-1 0 2-1 3-2-4-1 4 0 0-1-8 0 8-1-2-2-4-1 0 0-1-1-1 0 5-1 0-1 1-1 0-3-5-1 1-1 6-4-3-2-2-5 14 7-4 3 0 2-4 0 7 4-1 2 0 0-6 2 7 0-3 2 4 0-6 2 1 0 5 1-3 0-5 1 5 0 0 1-5 2 6 0 2 0-8 1 0 0 4 0 0 0 0 2 3 0-2 2-5 0 5 1-3 0 3 1-2 1 4 1-3 1-2 0 0 2-1 0 4 1-3 0 1 1 3 0-4 1 0 0 1 1 3 1-5 0 7 1-3 0 0 1 3 0-7 1 2 0 2 1 3 1-8 0 0 1 5 0-5 3 8 0-3 2-5 2 1 0 1 1 0 3 1 1 2 3-3 50 4 9-2 3-3 2 6 0-7 1 3 0 1 3 4 0-1 1 1 1-6 1 1 1 4 0-7 0 3 1 1 0-3 0 6 1-3 0-2 2 3 0-1 0-3 2 0 0 7 2-1 1-5 2 5 0-4 3 5 0-4 4-2 3 6 0-3 2 1 1 0 6 0-3 10 0 1-6 0-1-5-2-1 0 4-1-1 0-4-1 6-3 0 0-7-1 6 0 1-2 1-1-5-2 2-1 2-1 0-1-3-1-4-1 0-1 3 0 3-1-5-1 1 0 0 0 0-1 0-2 6-3-2-2 0-8-5-40 3-5-3-20 4 0-3-2 5 0-3-2-1-1 2 0-1-2 0 0 3 0-2 0-1-1 4 0-1-2-4-2-1-1 0 0 2-1 0 0-1 0-1-1 3-1-4 0 4 0-4-2 7 0-2-2-5 0 6-1 0 0-7 0 2-1 1 0 1 0 1-1-1 0 2 0-6-1 3 0-2 0 3 0-2-2 3 0-1-1 1 0-1-1 4 0-2-1-3-3-3-1 1-1-1 0 2 0 1-1 2-1-2-1 0-2 2-1 0-1 0-1 2-17-6 4 9 3 3 2-4 6 7 0-6 1-1 1 7 3-3 1-1 3 4 0-7 2 8 1-6 2 3 1-4 1 5 2 2 1-8 0 2 1 1 4 3 2-6 1 2 5 1 0-3 0 3 4 1 3 1 1-1 6-1 8 0 48-1 6 2 4 2 0 1 1-1 7 0 0-5 1 4 1-4 0 1 2 4 0-5 1 6 1-1 0 1 0-4 1 2 1-4 1-1 0 2 1-2 1 7 0-7 0 8 1-8 1 6 1-4 0 6 1-5 0 4 0-3 1-3 0 6 1 0 0-7 1 3 0 1 3 2 1-3 2-1 1 0 0 5 8-5 5 14-9-1-7-5-1 0-1 0-1 7-1-8 0 8 0-6 0-1-1 5-2 2-1-1-1-5 0 0-2-2-1 3-2-1-1 1-1-1-2 4 0-1-1-3 0 1-4 0-2-1-3-1-9 5-62-5-6 3 0-4-6 7-2-3 0-2 0 1-2 4-5-3-2-4-3 0-1 4 0-3-3 0-1 0-2 5-2-4-2 5-4-6-4 2 4 7 0 1 2 5 1-7 7 2 3 3 0-1 1-2 1 5 5-1 1-1 2-3 2 2 13 3 4-4 3-2 67 5 0 1 3-2 0-1 2 2 2-2 1-2 0 2 1-2 3 4 2-4 0-2 2 3 0 0 1 0 0 3 1-4 1-2 0 8 2 0 4-4 2 4 3-2 0-1 4 1 1 0 0-4 2 0 2 7-3 4-3 0-1 2-4-1-1 1-2-4-1 4-2-1-4-4-1-1 0 7-2-4-3-3-1 6-14 0-66-6-1 3-16 5 0-2-1 1-11-2-2 0-12-5-1 3 12 11 16-3 1-2 8 0 11 0 68 4 9-1 10 5 2-8 2 5 1 9-10 3-3-7-94 8 86 8 26-6-19 21" marker-start="url(#mb)" marker-mid="url(#mb)" marker-end="url(#mb)"/>
<path d="M298 467l2 1 0 0 1 0 1 0 0 1 1 0 1 0 2 2 0-1 1 0 0 1 2 1 0 0 0 0 1 0 0 0 1 1 0 0 1 0 0 0 0 1 0-1 0 1 1-1 0 1 0-1 0 0 1 1 1 0 0 0 1 0 0 1 0 1 1-1 0 0 0 0 1 1 0 0 0-1 0 1 0 0 0 0 1-1 0 1 0 0 0-1 1 1 0 0 0 0 24 9-1 0 0 0 0 0 0 0-1 0 0 0 0 0-1 0 0 0 0 0 0 0 0 0 0 0 0 0 0 0 0 0 0 0 0 0 0 0-1 0 0 0 0 0 0 0 0 0 0 0 0 0 0-1 0 0 0 1-1 0 0-1 0 0 0 0 0 0 0 0-1 0 0 0 0 0 0 0 0 1 0-1 0 0 0 0 0 0 0 1 0-2 0 1 0 0 0-1 0 1-1-1 0 1 0 0 0 0 0-1 0 1-1-1 0 0 0 1 0-1 0 0 0 0 0 0 0 1 0-1 0 0-1-1 0 0 0 1 0 0 0 0 0 0 0 0 0 0 0 0 0 0 0-1 0 0 0 0-1 0 0 1 0-1 0 0 0-1 0 2 0 0 0-1-1-1 0 1 0 0 0 1 0-2 0 1 0 0-1 0 0-1 0 1 0-1 0 0 0 1 0 0 0 0 0-1 0 1 0 0-1-1 0 0 0 0 0 0 0 0 0-1 0 1 0 0 0-1 0 1 0 0-1 0 0 0 0 0 0 0 0-1 0 0 0 0-1 0 0 0 0 1 0-1 0 1 0 0 0-1 0 0-1-1 0 0 0 2 0-2 0 0 0 1 0 0 0 0 0 0-1 0 0-1 0 0 0 1 0-1 0 1 0-1 0 1-1-2 0 0 0 1 0 0 0 1 0-1-1 0 0-1 0 0 0 1-1 0 0-2 0 1 0 0 0 0-1 0 0 0-1-1 0 1 0-1 0 0 0 1-1-1 0 0 0 0 0 0 0 0-1 0 0 0 21 9 1 0 0 0 0 0 0 0 0 0 0 0 0 0 0 0 0 0 1 0 0 0 0 0 0 0 0 0 0 0 0 0 0 0 0 0 0 0 0 0 0 1 1-1 0 1 0-1 0 1 0-1 0 0 0 1 0-1 0 1 0 0 0-1 0 1 0-1 0 1 1 0 0 0 0-1 0 1 0 0 0 0 0-1 0 0 0 1 0 0 0-1 0 1 0 0 0 0 1 1 0 0 0-1 0 1 0 0 0-1 0 0 0 0 0 1 0 0 1 0 0 0 0 0 0 0 0-1 0 1 0-1 0 1 0-1 0 1 1 0 0 0 0 0 0 0 0 0 0 0 0 0 0 0 0 0 0 0 1 1 0 0 0 0 0 0 0-1 0 1 0 0 0 0 0 0 0-1 0 1 1 0 0 0 0 0 0 0 0 0 0 0 0 0 0 0 0 0 0 0 0 0 0 0 0-1 0 1 0-1 0 0 1 1 0 1 0-1 0 1 0-1 0 0 0 1 0-1 0 0 0 0 0 1 0 0 0 0 0-1 1 0 0 1 0 0 0-1 0 1 0-1 0 0 0 1 0 0 0 0 0 0 0 0 0 0 1 0 0 0 0 0 0 0 0 0 0 0 0 0 0 0 0 0 0 0 0 0 0 0 0 1 1-1 0 1 0 0 0 0 0 0 0-1 0 1 0-1 0 0 0 1 0-1 0 1 1 0 0 1 0 0 0-1 0 0 0 0 0 0 0 1 1 0 0 0 0 0 0 0 0-1 0 1 0-1 0 0 0 0 0 1 1 0 0 0 0 0 0-1 0 1 0-1 0 1 0 0 0 0 0 0 0 0 0-1 1 1 0 0 0 0 0 1 0-1 0 1 0 0 0-1 1 1 0-1 0 0 0 1 0 0 0 0 0 0 0 0 0 0 0-1 0 1 1 0 0 0 0 1 0-1 0 0 0 0 0 0 0 0 1 1 0-1 0 1 0-1 0 1 0 0 0-1 1 1 0 0 0 0 0 0 0-1 1 1 0 0 0 0 1 0 19 9 0 0-1-1-1 0 0 0 0 0 0 0-1-1-1 0 0 0-1 0 0 0 0 0-1-1 0 0 0 0 0 0 0 0-1 0 0 0 0 0 0 0 0 0 0 0 0 0-1 0 0-1-1 0-1 0 0-1 0 1 0-1 0 0-1 0 0 0 0-1 0 1-1-1 0 1 0-1-1 0 0 0 0 1 0 0 0-1 0 0 0 0 0 0-1 0 0 0 0 0 0 0-1-1 0-1 0 2 0 0 0-1 0 1 0 0-1-1 0 0 0 0 0 0 0 0 0 0 0 0-1 0 0 0 0-1 0 1 0 0 0 0-1-1 0 0 0 1-1-1 0 0 0 0-1 0 0 0 0 0 0 0 0 0-1 0 24 10 2 0 1 0 0 1 0-1 5 2 35 14-2 0 0 0 0 0-1 0 0 0 0 0-1 0 0 0-1-1 0 0 0-1-1 1-1-1 0 1 0 0 0-1-1 1 0-1-1 0 0 0 0 0 0-1-1 0-4-2-2-1 0 1 0-1-1 0-2-1-3-1 20 9 0 0 0 0 1 0 0 0 0 0 0 0 1 0 0 0 0 0 0 0 1 1 0 0 0-1 0 0 0 1 1-1 0 0 0 0 0 0 0 1 0 0 1 0 0 0 1 0 0 0 0 0 0 1 0-1 0 1 0 0 0 0 0-1 0 1 1 0 0 0 0 0 0 0 0 0 0 1 0 0 0-2 1 1 0 1 0 1 0-1 0-1 0 0 1 1 0 1 0-1 0 0 0 0 1 0 0 0 0 1 0-2 0 2 0 0 0 0 0 0 0-1 0 1 0-1 1 1 0 0 0 0 0 0 0 1 0-1 0 0 1 0 0 0 0 0 0 1 0-1 0 0 0 0 0 1 0 0 0-1 0 1 1-1 0 1 0 0 0 0 0-1 0 0 0 0 0 1 0 0 0-1 0 1 1 0 0 0 0 0 0 0 0 0 0 0 0 0 0 0 1 1 0-1 0 1 0-1 0 1 0 0 0-1 0 0 1 1 0 0 0 0 0 0 0 0 0-1 0 2 1-1 0 0 0 0 0 1 0 0 0-1 0 1 1 0 0 0 0 0 0 0 0-1 0 0 0 1 0 0 0 0 0 0 1 0 0 0 0 0 0 0 0 0 0 0 0 0 0 1 0-2 0 1 0 0 0 0 0 0 0 0 1 0 0 1 0 0 0 0 0-1 0 0 0 1 0 0 0 0 0 0 0 0 1 0 0 0 0 0 0 0 0 0 1 0 0 0 0 0 0 0 0 0 1 0 0 0 0 0 21 9 0 0 0 0-1 0 0 0 0 0 0 0 0 0-1 0 0 0 0 0 0 0 0 0 0 0 0 0 0-1 0 0-1 0 0 1 0 0 0-1 0 0 0 1-1-1 0 0 0 0 0 0 0 0 0 0 0 0 0 0 0 0 0-1 0 1-1-1 0 1 0 0 0-1 0 1 0-1 0 0 0 0 0 0 0 1-1-1 0-1 0 1 0 0 0 0 0 0 0 0-1-1 0 0 0 1 0 0 0-1 0 1 0 0 0 0 0-1-1 0 0 0 0 0 0-1 0 1 0 1 0-1 0 1-1-1 0-1 0 0 0 1 0 0 0 0 0 0 0 0 0 0 0-1 0 1-1 0 0-1 0 0-1 1 0-2 0 1-1-1 0 1 0 0 0 0 0-1 0 0 0 0 0 1-1 0 0-2 0 1 0 1 0 0 0-1 0 1 0-1 0 1 0-1 0 0 0 1-1-2 0 1 0 0 0 0 0 0 0-1 0 0 0 2-1-2 0 0 0 1 0 0 0-1 0 1 0 0 0-1 0 0 0 1 0 0 0 0 0 0 0-2 0 1-1 0 0 0 0 1 0-1 0 0 0-1 0 1 0 0 0 0 0 0-1 0 0 0 0 0 0-1 0 0 0 1 0 0 0 0 0 0 0-1 0 0 0 0 0 0-1 0 0 0 0 0 0 0 0 0 0-1 0 1 0-1-1 1 0 0 0 0 0 0 0-1 0 1 0 0 0-1 0 1 0 0 0 1 0-1 0 0-1 0 0-1 0 0 0 0 0 0 0 0 0 0 0 1 0-1 0 0 0 0 0 0 0 1-1-1 0 0 0 0 0 0 0 0 0 0 0 0 0 0 0 0 0 0 0 0-1 0 0 0 0 0 21 9 0 0 0 0 0 0 1 0 1 0 0 0 0 0 0 0 0 0 1 1 0 0 0-1 0 0 0 0 1 1 0-1 0 1 0 0 0-1 0 0 1 1 0 0 0 0 0 1 0-1 1 1 0-1 0 1 0 0 1 0 0 0 0 1 0-1 0 1 1 0 1 0 1 0 1 1 0 0 1-1 0 2 1 0 3 1 0 0 1 1 0-1 0 1 0 0" marker-start="url(#mo)" marker-mid="url(#mo)" marker-end="url(#mo)"/>
<path d="M607 376l-13-5-3-1 12 13 28 0-8 6-29 4-2 2-3-2-5-1-10-1 14 5 1 2 2 6 0 0 1-4 4 1 2-3 1 3 2-4 2 5 2 2 2-6 13 3 0 4-13 2-1 1-2-3-1 7-2-7 0 5-2-4-1 1-1 6-3-4-1 4 0-3-3 1-3 2-1-3-2-3-1 5-3-5-15 7 11 2 2 0 2-1 0 1 1 5 0-5 2 0 0-2 2 8 1-8 1 6 1 1 2 1 0-4 1-2 0 6 1-7 2-1 0 5 0-5 0 1 1 1 1-1 0 6 1-5 1-2 0 3 1 4 0 1 1-5 1 4 0-6 2 2 0-2 1 4 1 2 1-2 1 2 1-2 1 1 0-5 3 3 1-2 4 0 1 6 2-3 1 2 1-1 70-1 9-4 4 15-13 1-1-5-1-1-1 6-4-1-59-6-3 0-2 3-1 1-3-3 0 6-1-7-3 1-1-1-2 7-1-7-1 7 0-8-3 1-1 2 0-3 0 5-1-3-1 4-1-6 0 0 0 1 0 4 0-2 0-1-1 2-1-1 0 5-1-3-1-2-1 3-1-3 0 3 0-3-1 1 0-3-1 3-1-3 0 1-1 6 0-1-1 0 0 1 0-6-1 1 0-1-2 2 0-2-1 3-2 3 0-3-1 3-1-7-2 3 0-4-1 2-1 3-1 0-4-2-14 11 4-3 7 5 2-7 2 0 2 5 1-4 1 1 1 2 4 3 0 0 0 1 0-3 0-1 1 3 0-4 0 1 0 0 1-3 0 3 1-2 0 2 0 0 1 1 0-2 1 3 0-3 1-3 0 2 0-2 2 5 0 2 0-6 0 0 1 6 0-7 1 3 0-1 1-2 1 2 0 1 0-1 1 1 0 0 1-2 0 7 1-3 0-2 1 1 0-2 0-2 0 4 0-2 0-2 0 5 1 3 0-2 0 0 0-4 0 3 2-1 0 2 0-4 0 3 0-1 1 2 1 2 2-4 1-3 0 4 1 2 0-6 0-1 1 7 1-1 0 0 0-4 0-1 0 1 0-2 1 4 0 0 1 0 1-4 1 5 0-3 2 1 6 2 0-2 3 4 51 0 10-2 0 1 5-2 4 4 21 4-5 3-5-1-1 3-2-6-1 2-3 2-2 1-1-1-2-1 0 0 0 2-2 0 0-2-2-5-11 7-56-4-1 0-3 2-1-2-1 2-1-4 0 6-1-1-1-1 0-4-1 1 0 5-1 0 0-3 0-4-3 6 0 0-2-4 0-2 0 1 0 6-1 1 0-7 0 7-1-5 0 1 0-1 0 3-1-4 0 4 0-6 0 2-1 3 0 1 0 1-1 0 0-4-1 3 0-4 0 3 0 2 0-5-1 4 0-6 0 7-1 0 0-4 0 5 0-1 0-6-1 2 0 5 0-7 0 3 0 2-1 1 0-1 0-5 0 6 0-6-2 5 0-2-1 2 0 1-1-2-3 2-1-4-1-1 0 5 0-7-1 3-1 5-1-8-1 3-2 1-2 1 0-1-4-2-2 0-3 2-9 4 4 8 3-2 6 2 2-5 2 0 1-2 0 1 1 7 0-1 3-6 0 0 0-1 1 6 0-1 0-5 0 7 1 1 0-6 0 0 2 4 0 0 0-3 0-2 0 1 0-2 1 8 0-8 2 6 0-5 0-1 1 2 0-2 1 8 0-4 1 2 0 1 0-7 0 7 1-3 0-4 0 5 0 2 1-7 0 6 1-4 1 2 0 0 0 1 0 1 0 2 1-4 0 0 1 0 0 1 0 3 1 0 0 0 0-4 0-2 2 5 0-4 0 1 0 2 1-1 0 0 0-2 0-2 1 4 0-3 0 3 0 3 0-2 1-3 0 1 0 2 1 2 0-8 0 6 0-4 1 6 1-2 0 1 1-5 0 0 0 4 0-2 1-1 0-3 1 3 2 0 1-2 1 2 0 2 2-3 0 0 0-2 1 2 0 2 4 3 1-6 1 6 2-3 4-3 45 3 2 3 2 1 6-4 1 1 0 3 0-7 4 5 0-1 2-2 1 4 0-5 2 6 2 0 0-7 2 2 3 0 0 5 0-8 0 6 1 0 1 1 2 1 3 0 2-4 5-2-9 9-3-2-1 6-1 2 0-5 0 4-1-6-1 5 0-2-1 1 0-1-1 0 0 3 0-1-2 1-1-4-1 4-2-7 0 3-1 0-1-3-2 6 0-5-3 7 0-2-1 2-1 0-3-4-7-4-5 8-38-5-6-2-1 7-2-4-1-2-2 1-2 5-1-4 0-1-1-3 0 3-2 3 0-6-1 7 0-3-1 3 0 1 0-6-1 3 0-1 0-1-1-2 0 6-1-6-1 1-1 4 0 2 0-3-1 2 0-6 0 2-1 5-1-2 0-3-1-3 0 5-1 2 0-7-1 6 0-2 0 2-1-1 0-1 0 3 0-4 0 4-1-6-1 5-1 1-1 0 0-3 0 1 0-1 0-2 0-2-1 3 0 1 0 2-1-2 0 1 0-1-1-1 0 5-2-4-1 4 0 0-1-8 0 8-1-2-1-4-1 0-1-2 0 5 0-4-1 4 0 1-2 0-2-5-2 7 0-6-3 3-2-2-4 14 6-4 3 0 1-4 0 7 3-1 2 0 0-6 2 7 0-3 1-2 1 6 1-5 0 5 1-3 0-5 1 5 0 0 1-5 1 8 0-8 1 0 0 6 0-2 0 0 0 0 2 3 0-2 1 0 1-5 1 2 0 3 0-2 2 1 0 3 1-5 0 0 1 3 1-4 1 1 0 4 0-4 0 1 1-1 0 1 1 3 1-5 0 7 1-3 0 0 1 3 0-7 1 7 0-5 0 2 1-5 1 5 0-5 0 0 3 8 0-3 1-5 2 1 0 1 1 0 2 1 2 2 2-3 46 4 8-2 2-3 2 6 0-7 1 3 0 1 2 3 1 1 0 0 1-6 2 5 0-7 0 3 0 0 1 1 0-3 0 6 1-3 0-2 1 2 1 1 0-4 1 0 1 7 2-6 0 5 2 0 0-4 3 5 0-4 4-2 2 6 0-3 2 1 0 0 6 0-2 11-1-1-5 1-1-5-1-1-1 4-1-1 0-4-1 6-2 0-1-1 0 1 0-7-2 8-1-5-2 2 0 2-1 0-1-3-1-4-1 0-1 3 0 3-1-4 0-1-1 1 0 0-1 0-1 6-3-2-2 0-7-5-37 3-4-3-18 4 0-3-1 2-1 3-1-4-1 2 0-1-1 1-1-1 0 3 0-3 0 3-1 1-1-5-2-1-1 0 0 2 0-2-1 2 0-1 0 2-1-4 0 4-1-4-1 7 0-2-1-5-1 6 0 0 0-5-1 1 0-3 0 4 0 1-1-1 0-4-1 3 0-2 0 3 0 2-1-4-1 3 0-1-1 1 0-1-1 4 0-2 0-3-3-3-1 0 0 1-1 1 0 1 0 2-2-2 0 0-2 2-1 0-1 0-1 2-14-6 3 9 2 3 3-4 5 7 0-7 0 1 1 6 3-3 1-1 2 4 0-7 2 8 1-6 1 3 2 1 0-5 2 7 1-8 0 2 1 1 3 3 2-6 1 2 4 1 0-3 0 3 4 1 3 1 0-1 5-1 7 0 44-1 5 2 3 2 1 1 1-1 6 0 0-5 1 0 0 4 1-3 1-1 1 5 1 0 0 1 0 0 0-4 1 2 1-4 1-1 0 2 1 5 0-7 1 0 0 0 0 8 1-2 2-4 0 6 0-1 0-3 1-3 0 6 0-4 1 4 0-7 1 3 0 1 2 2 2-3 1-1 1 0 0 5 8-5 4 14-8-1-6-5-2 0 0 0-1 7-1-8 0 8 0-6 0-1-1 5-2 1 0 1-1-6-1 0-1-2-1 3-2-1-1 1-1-1-2 4 0-1 0-3-1 1-3 0-2-1-2-1-9 5-55-5-5 3-1-4-4 7-3-3 0-2 0 1-1 4-5-3-1-4-2 0-1 1-1 3-2-3-1 0-2 5-2-4-1 5-3-6-4 2 3 7 0 1 2 5 1-7 6 2 3 3 0-1 1-2 0 5 5-1 0-1 2-3 2 2 11 3 3-4 3-2 60 5 1 1 2-2 0-1 2 2 2-2 0-2 0 2 2-2 2 4 2-4 0-2 2 3 0 0 1 0 0 3 1-4 1-2 0 8 1 0 4-4 2 4 2-2 0-1 4 1 1 0 0-4 2 0 2 7-3 4-3 2 0-2-5 2 0-1-2-3-1 4-2-1-4-4 0 6-1-7-1 3-3-3-1 6-12 0-60-6-1 3-13 3-1 2-1-1-8-2-2 0-11-2 0-3 10 14 14-3 1-2 6 0 10 0 61 4 8-1 9 5 2-8 2 5 0 9-8 3-3-7-84 8 77 8 23-6-17 21" marker-start="url(#mb)" marker-mid="url(#mb)" marker-end="url(#mb)"/>
<path d="M570 474l2 1 2 1 2 0 17 9 0 0-2-1-1 0-1-1-2-1-4-2-1 0 0 0-3-1-1-1 0 0-1-1-2 0 18 9 2 0 2 1 2 0 0 0 1 1 0 0 0 0 1 1 1 0 0 0 0 1 0-1 0 0 3 1 0 1 1 0 3 2 0-1 22 11 0 0-3-1-1 0-1 0 0-1-1-1 0 0-2-1-3 0 0 0 0-1-1 0 0-1-6-2 22 10 0 1 5 2 2 1 62 29 0 0-1 0 0 1-1-2 0 0-1 0-1 0 0 0 0-1 8 4 0 0 4 2 1 1 1 0 1 0 3 2 1 0 0 1 0 0 1 0 1 1 0 0 2 0 1 1 2 0 17 9 0 0-1-1-2 0-3-2 0 0-2-1 0 0 0 1 0 0-1-1 0 0-2-1 0 0-4-3-2 0 18 9 3 1 2 1 0 0 0 0 1 0 1 0 2 2 1 0 0 0 0 1 2 0 1 1 0 0" marker-start="url(#mo)" marker-mid="url(#mo)" marker-end="url(#mo)"/>
<path d="M909 372l-13-2-3 0-16 16 28-7 20 5 8-6-24 16-6-1-3 1-4-5-1 2-1 4-3-6 0 5-1-2-3-4-5 15 5 0 6-3 0 0 5-3 2 6 1-1 0-5 2 4 2-4 2 3 0 1 2 2 0 1 13-4 1-3-3 15-5-1-4 0-6-4 0 6 0-3-2-4 0 4-1 2-2-3 0 4-1-1 0-3-1 1-1 1 0-2-1-4 0 4 0 2-1-2 0-3-1 5 0 0-2-4-3 2-1 1 0-4-3 6 0-2 0-2-2 3-1 0 0 1-2 0-2 0-11-2 8 12 7-1 0-2 1-2 1 3 3-2 2 4 0-7 0 5 2-3 0 4 1 1 0-5 0-3 0 7 2-2 0-1 1 3 1-1 0-5 1 7 0 0 1-5 1 5 2-5 0 1 1 4 1-3 0 0 0-3 0 6 0-1 1-1 1 0 1 2 0-7 0 4 2 1 0-4 1 0 0-2 1 5 1 1 0-5 0 1 3-2 0 6 1 1 3-1 2 0 0-2 2-3 1 2 1-1 1 3 3 1 66-1 9-4 4 15-13 1-1-5-1-1-1 6-4-1-63 1-1-8-1 1-3 3-1 4-2-1-1-3-2 4 0-3-1-1 0 3 0-1 0 1-2-1 0-3 0 2-1 0-3-4-2 7 0-1 0-5-1-2-1 0 0 7-1 0 0-2 0 3 0-1 0 1 0-4 0 0-1-3-1 4-1-3 0 6 0-1-1-2 0-3 0 5 0 0 0 0-1-7 0 7-1-2 0 3 0-8-1 3-1 1 0 2 0 0-1-4 0 2-1 1 0 2 0-2-1 3-1-1-1 0 0 1 0-7-1 4 0-1-1 4 0-7-1 3 0 4-3-8-2 0 0 7-1-7 0 6-3-1-2 0-8 2-10 3 17 2 3 4 2 0 0-6 4-1 2 8 1-4 1-2 0 1 0 0 0-3 0 7 0-6 0-1 1 5 0-5 2 0 0 8 1-7 0 6 0-5 0 3 1 3 2-7 1 2 0 0 3 5 2-4 0 2 0 0 1 1 0-6 0 5 1-6 0 8 0-3 0-4 1 3 0-2 0 3 0-3 0-2 1 7 0-1 1-5 0 6 0-7 1 2 0-1 1 3 0 1 0 1 1 0 0 2 1-1 0-1 1 1 0-3 0-3 0-1 1 2 0 4 1-4 1 0 1 0 0-2 1 4 0-4 1 7 1-6 0 5 2 0 2 2 4 0 0-7 2 7 2-5 50 4 10-2 1 1 5-2 3 4 22 4-6 3-5-1-1 3-2-6-1 2-2 2-3 1-1-1-2-1 0 0 0 2-2 0 0-2-2-5-11 7-48-1-7 0-5-5 0 6-1 0 0 0 0-2-1-4-1 7 0-5-1-2 0 5-1-5 0 7-1-8 0 2-1 0 0 3 0 3-1 0-1-1 0-5 0 5-1-5-1 0-1 3 0 1-1-2 0 4 0-4-1 2 0-6 0 2-1 0 0 6 0-2-1-5 0 1 0 1 0 0 0 5-2-7 0 0 0 2 0 4-1-5 0 1-1 0 0 5 0-4 0-1 0-3-1 3 0-2-1 1 0 5 0-6 0 2-1 5 0-4 0 1-1-3-1 0 0 3 0-2-1-2 0 7-1-1 0-2-1 1 0-1-1-1 0-1-2 5 0-6 0 4 0 1 0-2-1-2 0 4-1 0-1-2-1 1 0-1 0 0-4-4 0 4 0-5 0 6-1 1-2-1-6-6-9 4 4 8 4-2 2 7 3-6 3 5 1-2 2-1 1-2 2 3 0 1 1-4 0 5 0-7 0 2 1 5 1-3 1-2 0 0 0 3 1-2 2-2 1 7 1-4 1-3 0 2 0 4 0-4 1-2 0 6 0-4 0 2 1-3 2-2 0 6 0-6 0 0 0 2 0 2 1-4 0 8 1-8 0 0 0 4 1 0 0 0 0-4 0 5 1 0 1-3 0-2 0 8 0-7 1 0 0 0 1 0 0 4 0 3 0-4 0-3 1 0 0-1 0 2 1 5 0-6 1 2 0 1 0 2 1 0 0-4 0 1 1-1 0 6 1-2 0-6 2 5 2 3 1-7 0 4 0 3 3-8 1 7 1 0 2-5 2 1 0 3 2-6 4 8 45-4 2 3 2 1 6-4 1 1 0 3 0-7 4 5 0-1 2-2 1 4 0-5 2 6 2 0 0-7 2 2 3 0 0-3 1 6 0 2 0-2 1 1 2 1 3 0 2-4 5-2-8 9-3-2-1 6-2 2 0-5 0 4-1-6-1 5 0-2 0 0-1 1 0 1-1-2 0 3-2 0-1-4-1 4-2-7 0 3-1 0-1-3-2 6 0-5-2 7-1 0 0-2-2 2-3-4-7-4-5 8-44-4 0 3-3 0 0-7-3 7-1-1 0 1-1-3 0 0-1-4-3 0 0 2-1 3 0-2 0 2 0-1-1 1 0-2-1-2 0 6 0-7-1 6 0-3-2-1 0 4-1 0 0 2 0-4 0-3-1 3 0-1 0 4-1 0 0-5 0 6-1-3-1-5 0 7-1 1 0-5 0 4-1-5 0-2 0 1 0 0-1-1 0 3 0 0-1 4 0 1-1-6 0 3-1-2-1 0 0-3 0 1 0-1 0 2-1 3 0-5 0 8-1-8 0 1 0-1-1 4 0 1-1 0-1-5-1 4 0 0 0 1-1 3 0-6 0 2-2 3-2-7-1 4 0-3 0 0-2 0-3 4-1-1-3-3-8 14 2-3 6-3 3 0 1 3 4-1 1 0 2 6 0-1 0-5 0-2 2 3 0 4 1-2 0 2 0-3 1 1 0 1 0-5 1 0 0 0 2 3 0 3 1-5 1-2 0 0 1 3 0-2 1 7 0-2 0 1 1-6 0 4 1 3 0-7 0 7 1-3 0 2 1-2 0-2 2 2 1 1 0-5 1 1 0 6 1-1 0 0 1-5 0 5 1-3 1 4 0-7 0 0 1 2 1 5 0-8 1 4 2 3 0-6 2 3 0-3 1 6 7-6 11 4 37 1 8-2 3-3 1 6 0-7 1 3 0 1 3 4 0 0 0-1 1-5 2 5 0-4 1 1 0-3 0-1 0 7 0-4 1 1 1-2 1 3 0-1 0-3 1 0 1 7 2-6 0 5 2 0 0-4 3 5 0-4 4-2 2 3 1 3 1-2 1 0 5 0-2 11-1-1-5-4 0 5-2-6-1-1 0 5-1-1-1 2-2 0 0-7-1 6 0 1-2 1-1-5-2 2 0 2-1 0-1-3-1-4-1 0-1 3 0 3-1-4 0-1-1 1 0 0-1 0-1 6-3-2-2 0-7-5-37-1-13 8-7 0-1-8-2 2 0-2-2 1-1-1-1 3 0-2-1-1 0 3-1 1-3 4 0-3 0 3-1-8 0 0-1 0-1 1-1 1 0 5-1-4 0 2-1-3-1 1-1-3-1 0 0 2-1 5 0-7-1 5 0 2-1-6 0-1 0 0-1 4 0-3 0 0-1 4-3 1-2-5-1 4-2 3-1-7 0 0-2 0-1 2 0 2-1 0-5-1-5 2 3 3 5 8 2-5 1-1 1 4 2-6 2 6 1-3 2 0 1 2 1 1 1-6 1 1 1 5 1-3 0 2 2 0 3-3 4 6 1-1 6-7 0 5 3-4 0-1 3 6 53-4 5 2 3 2 1 1 1-1 6 0 0-5 1 4 1-4 0 1 1-1 1 5 1 0 0 1 0 0 0-4 1 2 1-4 1-1 0 2 1 5 0-7 1 0 0 8 1-8 1 6 1-4 0 6 0-1 0-3 1-3 0 6 0-4 1 4 1-4 0-3 0 4 2 2 2-3 1-1 1 0 0 5 8-5 4 14-8-1-6-5-2 0 0 0-1 7-1-2 0-6 0 8 0-6 0-1-2 7-1-1-1-5-1 0-1-2-1 3-2-1-1 1-1-1-2 4 0-1 0-3-1 1-3 0-2-1-2-1-8 5-53 0-3 2-5-8-5 3-3-3-1 3-2 4-2-7-5 7-1-7 0 8-3-1-2-6-3 2-1 1-3 2 0 1 0 10 1-3 1-2 10-2 1 1 5-1 0 0 4-1 11 3 4 5 0-4 62 2 1 1 3-2 0-1 1 2 2-2 0 0 1-2 1 0 2 4 2-4 1-2 1 3 0 0 1 0 0 3 1-4 1-2 0 8 1 0 4-4 2 4 2-3 1 1 3 0 1 0 0-4 2 0 2 7-3 4-3 2 0-2-5 2 0-1-2-3-1 4-2-1-3-4-1-1 0 7-2-4-2-3-2 6-12 0-56-1-10 0-6-1-1 3-1-3 0-2-1 1-9-2-2 0-1 9 93 3 7-1 9 5 2-8 2 5 1 9-9 3-3-7-84 4 77 12 23-6-17 21" marker-start="url(#mb)" marker-mid="url(#mb)" marker-end="url(#mb)"/>
<path d="M835 457l0 0 0 0 0-1 1 1 0 0 1 1 0-1 0 0 1 1 0 0 0 0 20 9-1 0-1 0 0 0 0 0-1-1 0 0-1 1-1-2-1 0 0 0 0 0 0-1-1 0 0-1 0 2-1-1 0 0-1-1 0 0 0 0 0 0-1 1 0-1-1 0-1-1 0-1 0 1 0 0 0 0 0 0-1 0 0-1 0 1 0 0-1 0 0-1-1 0 0 0-1-1 0 0-1-1 0 1 0 0 0-1-1 0 0 1 0-1-1 0 0 0-1 0 0 0 19 9 1 0 0 0 0 0 1 1 0 0 1-1 0 1 0 0 0 0 1 0 0 1 1-1 0 1 0 0 0 0 0 0 0 0 0 0 0-1 1 2 0-1 0 0 0 0 0 1 0-1 1-1 0 1 1 2 2 0 0 1 1-1 1 1 0 0 1 1 1-1 1 1 0 1 0-1 0 0 1 1 0 0 0-1 1 1 0 0 0 0 1 1 1 0 1 0 19 9-1 0 0 0-1-1 0 1-1-1 0 0 0 0-1-1 0 1 0 0 0-1-2 0-1-1 0 0 0 0-1-1 0 1-1 0 0-1-1 0 0 0-1-1 0 1-2-2 0 0 0 1-1-1 0 0 0 0-1-1 0 1 0 0-1-1 0 0 0 1 0-1 0 1 0-1-1 0 0 0 0 0 0-1-1 0 0 1 0-1-1 0 0 0 0 0 0 0 0 0 19 9 0 0 1 1 0-1 1 0 1 2 0-1 0-1 1 1 0 1 1 0 0 0 0 0 0 0 1 0 0 0 1 1 0 0 0 1 0-1 2 0 0 0 0 1 1 0 2 1 0 1 1-1 0 2 1-1 0 1 0-1 1 1 1 0 0 0 1-1 0 2 0-1 0 0 1 1 0 0 0 0 7 4-2-2-1 0 0 0 0 0-1-1-1 0 0 0-1 0 0 0 63 29 0 0 7 3 2 1 1 1 1 0 2 2" marker-start="url(#mo)" marker-mid="url(#mo)" marker-end="url(#mo)"/>
<path d="M1181 376l-16-4-2 5-6-7-2 0-11 12 7 1 2 1 0 1 3 0 1-2 19-2-1 8-1 3-8 1-1-6 0 7-1-3 0 1-1-2-1-3-1 5-1 1 0-4 0 5-1-7-1 2-1 6-1-7-1 3 0 0-1-4-2 8-1-2-3 0-10 5 7 2 1 0 1 0 1-1 0 4 0-4 0 5 1-7 1 3 0-2 1 6 1-7 0 5 0-4 1 5 1 0 0-7 0 5 1-2 0 5 1-5 0-2 0-1 1 3 0-1 0 4 0-4 0 1 1 0 0 4 1-3 0-3 1 1 0 5 0-3 0 4 1 0 0-8 0 4 1 3 0-4 1-3 0 4 0-1 0 3 0 2 2-1 0-2 1 2 0 1 1-2 0 0 0-3 2 2 1-2 3 5 0-5 1 3 1 0 0 1 32 0 1 1 0-5 7-2 3 10-7 6-3-5 0 3-2-4-2 5 0 0-1-5-7 6-18-8-2 0-1 2 0 6-1-5-1-3-1 8 0-8 0 5-2-4 0 6-1-2 0-5 0 8-1-3 0 3 0-1 0-1 0 2-1-8 0 7 0-1-1 0 0 0 0-1 0 1-1-6-2 2 0-2 0 3-1 5 0-8 0 7 0-7 0 3 0-2-1 6 0-4 0-2 0 1 0 0 0 5-1-4 0 3 0 2 0-1 0 1 0-3 0 0-1 1 0-5-1 3 0-2 0 6 0-4 0-3 0 6 0 0-1-5 0-2 0 6 0 1 0 0 0 0-1-7 0 1 0 4 0 3 0-6-1 3 0-1 0 2 0 0-1-5 0 6 0-1 0-2 0 1 0-4-1 4 0-4 0 7-1-1 0 1 0-6 0 5 0-6-1 5 0-1 0 3 0 0 0-5-1 5 0 0 0-5 0 5-1-3 0-5 0 8-1-6-1-1 0 7-1-5 0 4 0 0-1-4-1 3-1 0 0-5-6 6-7 2 11 2 1 4 2-2 1 0 0-4 3 6 0 0 1-1 1-4 0 0 0 0 0 1 0 3 0-5 1 3 1 2 0 3 1-8 0 4 0 3 0-6 0 2 1 2 0 3 1-8 0 2 1 0 0 4 1 1 0 0 0-2 0 3 2-1 0 0 0-5 0 2 0 4 0-5 1 2 0 3 0-8 0 8 0-8 0 5 0 3 0-4 0 4 0-5 0 3 0 1 0-7 1 2 0 5 0-6 0 5 0-3 0 5 0-7 0 3 0-4 1 7 0-7 0 4 0 3 0-2 0-5 1 1 0 5 0 1 0 1 0 0 0-8 1 4 0 2 0-1 0 2 0-5 0 5 0-4 0 1 1 1 0-3 0 1 0-3 1 1 0 3 0-4 0 4 0 3 1 0 0-6 0 6 1-6 0 0 1 3 0 3 0-1 0-3 1-3 0 6 0-2 0 3 1 0 1 0 0-4 0 5 1-2 0-1 3 0 0-5 1 5 1-3 20 3 6 2 2-7 2 5 0-2 2 0 0 1 0 3 0-2 1-1 1 1 1 2 1-3 1 4 1-5 1-2 0 7 0-2 2 0 0-2 4 0 4-2 1 6-4 1-2 2-1 2-1-1-1 1-1-3 0 1 0 5-1-4 0 3 0 2 0-7-1 3-1 3 0 0 0-1 0 0-1 2 0-1-1-1 0-3-1-1 0 6-1-3-1-3 0 6-1-8 0 3 0 3-1-3 0 2 0-4-1-1-1 7 0-3-2-4 0 0 0 8 0-6-4 4-1-3-2-1-1-2-1 4-13-3-3 2-1 4-1-2 0-4-1 4-1 3-1 0 0-6 0 1-1-2 0 1 0-2-1 2 0 6-1-4 0 2 0 2 0-7-1 1-1-2 0 2 0 4-1-4 0 5 0-5 0 1-1 4 0-3 0-3 0 4 0-1-1 4 0-3 0 1 0 1 0-3 0-3-1-1 0 3 0-3 0 2 0-2 0 3 0 1-1-1 0-2 0 6 0-2 0-1 0-2 0-1-1 4 0-1 0-1 0-1 0 1 0 5 0-4-1 2 0 0 0-3 0-2-1 2 0 0 0 3 0 0 0 0-1-3 0 0 0 0 0 0 0 5-1-7 0 6 0-4 0 1 0 2-1-4 0-2 0 4 0-4 0 8 0-3 0 1-1-2 0 1 0-1 0-4 0 8 0-3-1-4 0 5 0 2 0-8 0 3-1 1 0-3 0-1-1 5 0-5-1 4 0 0 0 2 0-4 0-1 0 0 0-1-1 8 0-3 0-3-1 2 0 4 0-5 0-3 0 2 0 3 0 2-1 0 0-6 0 0 0-1-1 5-1-5 0 5 0-4-1 6 0-5-1-1 0 7-1-3-4-1-3 1-2-5 6 9 1 1 0 5 2 1 1-3 0-1 0 5 2-7 1 7 0 0 0-7 1 2 0-2 0-1 1 8 0-2 1-1 1 1 0-4 0 1 0 4 0-4 0 1 1-1 0 4 0-7 0 7 1-3 0-1 1-3 0 8 0-4 0-3 0-1 1 3 0-3 0 1 0-1 0 6 0-5 0 6 0-1 0 0 1-4 0 0 0 6 0-8 1 5 0-3 0 2 0 3 0 0 1-7 0 2 0 4 0-4 1-1 0 5 0-6 0 2 0-1 0 0 1-1 0 5 0 0 1 0 0-1 0-3 0 5 0 1 1-4 0-1 0 6 0-8 0 5 1 3 0-3 0-4 0 5 0-3 0-2 1 3 0 3 0 0 1-3 0-3 0 6 0-5 1 1 0-1 0 3 0-5 0 0 1 7 0-3 0-2 0 1 0 0 0-3 0 2 2 5 0-7 1 3 0 0 1 1 0 1 0 0 2 0 1 2 0-7 1 3 0 2 4-5 9 0 2 5 3 2 3-4 2-2 1 4 0-5 1 0 0 2 0 1 1-3 1 5 0-5 0 5 1 1 0 2 0-6 1 6 0-6 0 6 1-3 0-4 0-1 0 8 0-3 0-3 0 5 1-4 0 0 0 3 0 2 1-5 0 3 0-4 1 1 0-2 1 0 0 5 2 2 0-6 0 3 1 0 0-3 2 4 0 0 1-6 0 3 2 4 1 1 0-6 1 6 0-4 1 2 1-2 0 0 5 1-2 6 0 3 0-3-4 1-2 1 0 4-1-7 0 4 0-4-1 4 0-3-1 5-1-6 0 1-1 3 0-2 0-1 0 4-1 2 0-6 0 2 0 4 0-3-1 0 0 3 0-2-1-5 0 7-1-5 0 0 0-1-1-2 0 2 0 6 0-5-1 0 0 2-1-1 0-2 0 5-1 0 0 1 0-3-1 3 0-1-1-3-1 0 0-2 0 3-1 2 0 0 0-3-1-3-2 0-2 6-1 0 0 1-3-2-4-1-4-2-3-2-11 3 0-2-1 3 0-5 0 3-2 0 0 1 0 0-1 0 0-4 0 5 0-1 0-1 0 2-1-5 0 6-1-3 0-3-1 7 0-3 0-2-1 2 0-2 0 1 0-1-1-1 0 3 0-3 0 3-1 2 0 1 0-2 0 3-1-7 0-1 0 5-1 1 0-5 0 1-1 1 0 1 0-1 0 2 0-4 0 3-1-1 0-2 0 6 0-4 0-1-1 2 0-1 0 1 0 4-1-1 0-2 0-5 0 5 0 2-1-4-2-2 0 1 0-1 0-1 0 1 0 7-1-1 0-7 0 3 0 1-1-1 0 0-1 1-1 0-1 0 0 1-1 2 0 0-4 0-3 1-1-8-1 1 4 9 3 6 2-4 1 2 0-2 2-2 0-1 1 5 1-2 0 5 1-5 1 2 0 0 1-4 1 6 0-5 0 3 1-2 0 1 1 1 0-5 1 7 1-5 3 5 0-1 0 0 2-6 0 0 2 1 1 6 0-3 1-2 1-1 2 4 1-5 4 0 15 4 7-3 2 0 1 1 2 6 0-6 1 2 0 0 0-2 0 5 2-4 0-1 1 5 0-5 1 4 1 2 0-8 0 3 1-3 0 8 1-7 0 5 0-4 1 3 0 0 0-5 2 4 0-4 0 5 0-4 0 0 1 5 1-5 0 0 1 0 5 3 0 4 2 0 4-3-3 8-2 2-1-4-1-1-1 7 0-2-1-5-1 0-1 6-1-5 0 5-1-7 0 5-1 2-1 0-1-4-1 0-1 1 0 4 0-7-1-1 0 3 0-3-1 5-2-2 0-2-1 7-2-8-1 0-1 2-1-1 0-1-2 2-1-1-1 7-23-6-2 2 0 3-2-1-5-6-3 4 0-4-1 3-1 2-1 0-3-2 0 3-1-1 0-1-1-1-4-3 0 1-1 5-1-4 0 5 0-4-1 7 7 7 1-6 1 0 6 1 1 3 0-2 0-1 1 2 4 0 4-4 3 4 26-2 6-1 1 5 6-2 1-5 2 4 4 9-4-3-6 2-45 5 37 1 5 10" marker-start="url(#mb)" marker-mid="url(#mb)" marker-end="url(#mb)"/>
<path d="M1192 379l-22 13-3 2-9 1-14-3-15 8 24 4 1-1 19-7 8 6 5-6-10 12-3 5-5-5-5-1-12 6-9-2-34 8 0 0 18 0 11-3 0-1 2 4 2-3 1-2 2 8 0 0 0 0 11-6 1 4 3-3 0-1 2 6 12-4 1-1 1-1 1 1 1-3 5 8 1-2 13 2 37 6-11-3-24 6-2-8-1 8-1-5-4-2-1 3-1 0-2-3 0 5-1-2-3 1-1 0-3 2-1 0-2-4-1 3 0-3-1 4-1 1 0-2-1-3-2 0-3 3-1 0-1-3-1 5 0-2 0 2 0-7-6-1-3 3 0 1 0 0-4-3-10 6-1 1-9 0-4-3-10 11 3-1 0 2 4 0 1-6 0-2 0 8 4-2 7-5 1 1 6 0 2 1 2-2 2 2 1-1 3 1 0 2 0 2 1-4 0 0 3 4 0 1 1-5 2 4 0-5 1 5 0-5 0 2 0-1 1-3 0 8 2-3 4-4 0-1 0 6 0 1 0-3 1 2 0 0 2 0 0 0 1-2 1 1 1-5 0 5 2 3 2 0 1-8 0 0 1 8 2-8 1 0 0 1 3 4 2 3 1-1 2-6 1 7 1-2 2-3 0 1 0 0 0 3 0-1 6 2 2 0 2-4 0 4 2-6 1 1 6 5 0-1 9-1 2 0 2-2-7 10-1-3-3-1 0-1-10 1-2 7-1-3-2 1-1 0-2-5 0 2 0 1-1 1-1-5-1 0-1 1-1 5 0 0-2-2-1-1-1 5 0 0 0-1-3-4 0-1-1 1-1 3-1 1 0-6-1 7 0-3-1 0 0 1-1-5-1 5-1 0-1 0 0-1 0 1-1-6 0 5-3 3-1-1-1 0-3-7 0 7 0-5 0 3 0-2-1 3 0 2-1-3 0 2 0-2 0 3-1-5 0-2-1 1 0-2 0 2-1 4 0-3-1-3-2 4-2 3 0-3-2-2-2 2-1-1-1-2 0 2-1 5-1-3-1-2-4 5-2-6-1-1-4 5 0-5 0 0-8-1-1 1-2-1-2 16 1-7 11 8 1-6 7-1 3 1 1 5 0-6 0 6 1-4 0-1 1 5 1-3 0 3 1-1 0 0 1-2 1 0 0 3 1-7 0 6 1-6 1 2 0-1 1 2 1 2 0-5 1 2 0 4 1-4 0 1 1 5 0-2 0-5 0 1 0 4 1 2 0 0 1-1 0-5 0 0 2 3 0 3 0-8 3 5 0 1 2-6 0 4 1-1 0 2 0-1 1 0 1 2 0 0 0 0 0-1 1 2 1-5 0 6 0-5 0 1 1-3 0 5 0-3 0-3 0 6 1-2 0 3 1-6 0 6 0-1 0 0 0-3 0 1 2 0 0-2 0 3 2-5 0 0 1 3 0 0 1 0 0-1 0-1 1 6 0-3 1 4 0-4 0-4 2 3 0-3 0 8 1-7 0 6 2 0 1-4 0 2 1-3 0 0 1 6 1 0 2-7 0-1 0 6 2-5 1 5 2-5 0 7 0 0 0-3 2 3 0-2 0-3 1-3 1 5 2-5 2 8 0-7 0-1 3 8 3-3 0 0 1 2 2 1 2-5 3 2 1-4 1 1 0 2 4-1 2 12-6-5-1 6-4-1 0-5-3 7-1-6 0 0-1 3 0-5 0 5 0-2-3 4 0-6 0 7-1-6-2 5 0-5-2 0-1 2 0 4 0-7 0 7-1-2 0-6-1 6-2-2 0-2-1-2 0 8-1-1-2 1 0-3-1 2-2-5-1 6 0-1 0-7 0 0 0 8-1-6 0 4 0 2-1-5-1 1 0 2-1-5-1-1-1 8 0-8 0 8-2-1-1-7 0 6 0-3-1 4 0-3 0-3 0 6-1-2 0-2-2-2 0 6 0-2 0 0 0 3-1-4 0 0 0-3 0 1-1 4 0 0 0-1-1-3 0 5 0 1-1-5 0 0 0 1 0 4 0-5 0 1-2 3-1-3 0-1-1 0-1 3 0-4 0 5 0-4 0-2-1 6 0-6-1 4 0-4 0 0-1 4 0 3 0-5 0-3-1 8 0-4 0 3 0 0-1-4 0 0-1 1-1 2-1-1-1 3-1-7-1 7 0-3 0 1 0 1-1-1-1 0 0-6-1 1-1 2-1-1-2 3-1-1-1-4 0 0 0 3-1 0 0 1 0 1-4-4-3 0-5-1-1 6-3 2-2-6-2 5-5 1-3 0-2-4 0 10 6-1 5-4 5 6 0-5 4 5 1-6 1 7 4-5 4 2 1 3 4-3 0-1 2 2 0 2 1-1 0 2 1-5 0 5 0-2 1-4 1-2 1 1 1 4 0-4 1 6 2 0 0 0 0-7 1 2 0 6 0-8 0 7 0-4 0-3 0 0 0 4 1 2 1-2 0-3 0 2 1 5 0-2 0-4 1 3 1 1 1-5 0 6 1-6 0 0 0 2 0-3 1 1 0 2 0-1 0 2 1 4 0 0 0-5 0 5 1-8 1 5 0-3 1 6 0-5 0-1 1 1 0-1 0 5 0-3 1 3 0-5 0 2 1 4 0-8 1 1 0 4 0 2 2 0 1-4 3-1 0-2 0 0 1 3 1 0 0 5 0-5 0 4 0-3 1 0 1-1 0 5 0-6 1-1 0-1 1 3 0 0 0 2 1-4 0 6 0 1 1-8 0 6 2-3 1-2 0 7 1-5 1 4 0-6 0 0 1-1 0 6 1-3 1 4 1-4 0 5 1-2 1-2 0 3 1 1 0-2 1 1 1-4 0 1 2-1 4 5 1-4 4 4 0-8 9 0 7 0 14 11-14 2-7-2-4 4 0-2 0-1-1 1 0-2-3 1-1-2 0 1-1 4 0-4-4 2-1 2-3-5-5 0 0 4 0-4 0 7 0-4-5 3 0-4-1-2 0 2-1-1-1 5-1 0 0 0 0-3 0 3-1-5 0 6 0-5-1 5 0-3 0-2-2 1 0 1-1-3 0 4 0 2-2-3 0-1-2 1 0-1-1 0 0 1 0-4 0 1-1 5-1-1 0-5-1 4 0-1-1-3 0 4 0-2 0 2 0-1-1 3-1-4-1 5 0-6-2 1 0-3 0 1-1 7 0 0-1-3 0-4-1 7 0-3-1 1 0-5-1 4-1-1 0-3-1-1 0 1 0 7-1-5-1-3 0 4 0 3-1-7 0 3-1 1-2-1-1 2 0-1-1-4-1 4 0 1-1-2 0-2-1 4-1-4 0 7 0-3-1-3 0 5 0-4 0-2-2 4 0-1-1-1-1-3-2 5 0-3-1-2-2 2 0 2 0-1 0 1-2 0-7-4-9 0-4 3-1 4 14 9 2-2 5 2 3 1 1-4 2 3 6 1 2-6 0-1 3 3 0 2 0-2 2 3 1-7 1 0 0 8 1-8 1 5 0 1 0 1 1 0 1-6 0 7 1-3 1-3 1 1 0 4 1-6 0 1 0 5 1-2 2 0 0 0 0-5 0 6 1 1 1-7 0 7 0-2 1-4 1 6 0 0 1-4 2 4 1-3 0-2 0 5 1-4 0-3 0 6 1-4 1-2 0 2 1 5 0 0 0-5 0-1 1 1 1 6 1-1 1-2 0-2 0 4 0-6 0-1 1 4 0 0 0 1 0-3 1 6 0-8 0 4 1-4 0 8 0-8 0 3 0 1 2 3 0 1 0-8 1 8 0-3 2 1 1-4 0-1 0 2 0 4 4 1 0-1 2 1 0-7 0 2 1 4 0 0 1-7 0 8 1-6 1 1 1 5 1-2 2-1 0 0 3 3 0-3 1 2 6-5 1 0 2 6 1-4 20 2-8 8-6-5-4 3-3 0-12-2 0 3-2-3 0 6-1-5-2-1-5 7 0-7-2 1-3 2-1-4 0 8-1-2 0-5-3 1-1 6-2-7-1 0-1 4-1 0-1 1-2 2 0 0 0-6-1 5 0-3 0-1 0 5-1-3 0 1-3 2 0-3-5-3 0 1-1 4 0-2-3-3-1 6 0-6-3 3-3-5-1 1-1 0 0 4-2-2-1-2-7 2-2-3-1 0-4 2 0 3-2-3-13 1 14 10 0-2 6-2 1 0 1 3 2-3 3 0 5 5 3 2 3-7 3 3 0 1 2 3 1-3 5-4 0 8 0-4 2-4 3 5 2-1 0 0 1-1 1-3 5 6 4-6 2 6 2-3 2 4 3-5 0 1 2 4 1-5 5 0 4 2 0-3 2 7 0-1 3 1-1 5-1 0-1-4-7 7-7-3-8-2-6 2-5 4-2 0 0-6-3 2-3 2-1 2 0-4-2-4-6 8-2-1-1-2-1 3-1-7 3 14 6 2 1 0 12-6 6 5 6-5 1-1 19 2 18 1 26 12-55 1-5-6-14 1-4 4-3-1 101 6" marker-start="url(#mo)" marker-mid="url(#mo)" marker-end="url(#mo)"/>
<path d="M1394 378l37 15-23-3-3 3-8-6-18 10 9 0 3 2 1-1 1 2 1 4 1 0 0-3 1-2 1-1 2 4 1-1 1 3 1-2 1 2 0-4 2 2 2 2 0 0 1-4 13 2 0 2 2-8 109 13-10 2-96 2-2 0-2-1 0 0-1-1-2 1-1-3-3 0-1 1-1 3-2-4-1 2 0 2 0-1-1 0 0-7-1 6 0-5-1 7 0-1-1-1 0 2-1-6 0 3 0-1-1 4-1 0 0-6 0 6 0-1 0-3-1 3 0-2 0 3-1-5 0 2 0-5-1 5-1-2 0 4-1-3-1 0 0-3 0 2 0 3 0-3 0 1-1-1 0-1-1 2 0 0 0 4 0-1-2 0 0-5 0 3-1 2-1-4 0 3-1-3 0-1-1 6-1-8-1 5 0-2 0 0-1 5-1-1 0-3-1-4 0 4 0 1 0 3-2-3-1 0-11-2-6 12 5-1 6 2 2-3 1-4 1 4 1 2 1-5 0 3 1-3 0 3 2-4 0 1 0 4 3 2 0-4 0 4 0 1 0-2 0-1 0 0 1-1 0-1 0 4 0-2 0 0 0-3 1 3 0 3 0-3 0-3 1 3 0 0 1 1 0 1 0-6 0 4 0 0 0-5 1 3 0 1 0 4 0-8 1 0 0 3 0-3 1 6 0-4 0 1 0 0 0 1 1 3 0 0 0-4 0 1 1-4 0 3 0 2 0-4 1 0 0-1 0 4 0 1 0 0 1-4 0 4 0-3 0-2 0 4 0 1 1-3 0 2 0 3 0-2 0 3 1-8 1 2 0 4 0 0 0-2 0 1 0 1 1 2 0-3 0 2 0-3 0 1 0 3 0-2 0 2 0-7 0 0 0 2 0 0 1-2 0-1 0 4 0 2 1 0 0-2 0 2 0-6 1 5 0 2 0-1 0-4 1-1 0-1 0 7 0-6 0 7 2 0 0-2 1-2 0 4 0-2 1 1 0-3 0-1 0 4 0-3 1-4 0 4 0 0 1 3 0-4 0 3 0-1 0 0 0-2 0 2 2-2 0 5 0-2 1 0 0-6 0 5 2 0 0-5 0 8 1-8 0 3 3-2 1 0 0 4 1 1 3 1 78 1 10-5 1 4 1 0 3-4 1-3 1 1 0 5 1-2 3 4 11-5 14 12-1-4-5 5-1-4-6 2 0-2-2 5 0-3 0 3-1-7 0 6-1-5-2 5-1-4-2 3-1-2-1-1-1 0-1 0 0 3 0-2-1 3-1-3 0-1-1 5 0-1-2-7-2 6-1 1 0 1-9-4-3 3-73-3-4 2-1 2-1-1 0-3-1-4 0 7-1-6-3 0 0 4 0 1-1-2 0 1 0-4 0 2-1-1-1 3 0 1 0-4 0 6 0-6-1-2 0 4-1-2 0 3-1-5 0 2 0-1 0 1 0 6-1-4 0 1-1 0 0 0 0 0-1 2 0-3 0 3 0-5 0 4 0-4-1 6 0 0-1-8 0 7 0-3 0 2 0-6 0 4 0-2-1 1 0 2 0-2 0 2 0 1-1-6 0 6 0-2 0-3 0 0 0 7 0-2 0 1 0-1 0-4-1-2 0 3 0 3 0 0 0-4 0 3 0-1 0-4 0 6-1-4 0 0 0 1 0 4 0-2 0 0-1-3 0-2 0 8 0-8-1 8 0-1 0-6 0 4 0-3 0 6 0-4 0-4-1 5 0 1 0-4 0 4 0-3 0 0 0 5-1-8 0 3 0 0 0 2 0 0 0-5 0 0 0 3 0 3 0-5 0 1-1 0 0 0 0-2 0 6 0 1 0 1-1-5 0 3 0-2 0-1-1 2 0-2 0 3 0-4 0-1 0 6 0 1-1-2 0-4 0 5 0-3 0 3 0-5-1 6 0-7 0 4-1-1 0-1-1 3 0-2 0 0-1-3 0 2 0 0-1 4 0 0 0 1 0-3 0-1 0 3 0-4-1-3 0 2 0 2 0-3-1 6 0-4 0 2-1 2 0-1 0-3 0 2-1 3 0-4 0-4 0 7 0 1 0-4 0-1-2-2-1 6 0 0-1-5 0 2 0-3 0 3-1 4 0-3-1-1-1-4-1 7-1-7-3 1-2 5-3 1-3-4 3 14 2-1 4-6 1 0 0 5 3 0 1-2 0-1 0-3 0 7 3-5 0 4 1-4 1 4 0-3 0-2 0 0 1-1 1 7 0-2 1-5 0 7 0-2 1 0 0 3 0-6 1 1 0 5 0 0 0 0 0-5 0 3 0-3 0 1 1-3 1 3 0 2 0 0 1 1 0-7 0 3 0 0 1-2 0 2 0 3 0 0 0-4 0-1 1-1 0 1 0 4 0-3 0 3 1-2 0-2 0 2 0-2 0 6 0-6 0-1 0 6 1 2 0-4 0 2 0 2 1-4 0-2 0 4 0-6 1 2 0 6 0-8 0 5 1 3 0-6 0-1 0 6 0-6 0 0 0 1 1 3 0-3 0 0 1-1 0 3 0 0 1 0 0 4 0 0 0-8 0 6 1-1 0-3 0 4 0-1 1-2 0 0 0-2 0 3 1 2 0-2 0-2 0 3 0-2 0-1 1-2 0 4 0 2 0 2 1-1 0-3 0-4 0 6 1-5 0 5 0-3 1 4 0-2 0-4 0 0 1 2 0 1 0-2 0 1 0-1 0 1 0-3 1 6 0-5 0 1 2-2 0 7 0-1 1-5 0 0 1 2 0 0 1 1 0 1 1-5 0 5 1-5 1 5 0-4 1 5 2-3 0 2 6-4 2 7 63-3 6-4 4-1 1 8 1-7 2 6 0-4 2 3 1-1 0 2 0 1 2-3 0-1 1 1 1-5 1 2 0 5 1-3 0 4 1-2 0 1 1 1 0-7 0 5 1 2 0-1 0-4 1-2 0 2 1 5 0-8 0 6 1 2 0-3 1 2 0-5 1-2 1 0 0 5 1-2 0 4 1-2 0-1 1 0 0 3 0-4 1 1 0-1 1-2 1 4 0 3 0-3 1-5 0 3 1 1 1-3 0-1 1 7 1-6 1 1 2-2 8 9-3 6 0 2 0-2-3-6-1 0-2 1 0-1 0 6-1-3-1 0 0 4-1 1 0-3-1-1 0-2-1 6 0-3-2-4-1 4 0-3-1 6 0-3 0 1-1 0 0-5-1 5 0 1 0 1-1-5-1 5 0-7-1 4-1 1 0-5 0 5-1 0 0 1-1-3 0 3-1 0 0-6 0 7-1-1 0-6-1 2 0-2 0 4-1-4 0 2 0-1 0 6-1-5 0 0-1 0 0 4-1-6-1 0 0 6 0-1 0 2 0-8-2 7-1-2-1-5-1 5-8-3-5-2-2 8-58-7-13 4-6 0-1-4-1-1-1 2 0-1-2-1 0 6 0-5 0 5 0-5-2 0 0 1 0 0 0-1 0 1 0 6-1-3 0-2-1-2-2 4 0-2 0 2 0-5-1 0 0 1 0-1-1 1 0-1 0 1-1 1-1 1 0-1 0 2-1-1-1 3 0-4-1 1 0-3-1 0 0 1 0 0-1 7 0-7 0 1-1-2 0 5 0-2 0-2 0 4 0-5-1 2 0 5 0-6 0 7 0-7-1 2 0-1-1 0 0-2 0 6 0-2-1 2-1 2-1 0 0-4 0 3-1-7 0 0-1 7 0-4 0-1-1-2-1 1 0 4-1-4 0 4-1-4-1 1-1 5 0-5 0 1-1 4 0-3-5-1-2 3-2-2 7 6 3 3 0 0 1-4 0 8 1-1 1-4 1-1 1-2 2 2 1 3 3-4 0 5 0-1 1-1 0 3 0-7 4 6 0-5 1 5 2-1 1 1 0-4 1-1 0 0 1-1 2 2 4-1 2 6 3-2 0-5 1 8 2-4 79 2 3-6 4 1 0 0 2 2 0-2 3 2 2 1 1-3 1-1 1 8 1-4 0 0 0 4 1-7 0 5 0-1 1-4 1-1 0 1 0 3 1 0 0-4 1 8 0-1 0-3 2 0 1-2 0-1 0 1 2 1 0 4 0-3 0-3 1 5 0-4 1 5 0-6 0-1 1 1 1 0 0 5 1-4 0 5 0-4 0-3 0 3 1 4 1-4 1-2 0 2 1 0 3-2 4 4 2 3 7-2-5 6-3 2-1-3 0-2-1 2-1 3-1 2-2-5 0-1-2 5-1-4 0 4-2-6 0 4-1 2 0 2-2-2-1-3-2 0-1-3 0 4 0 3 0-6-1 2 0-3-1 0 0 0-1 5-3-2 0-1-1 5-3-7-1 1-2 1-2-1 0-1-3 2 0 0-3 5-83-3-4-4-5 3-6 0-1 1-1-1 0-1-1 0-8-1-2 0-1 5-9-5 26 11 101-2 9 0 2 4 3 3 5-5 4-1 1 5 5 3-26 3 7 8" marker-start="url(#mb)" marker-mid="url(#mb)" marker-end="url(#mb)"/>
<path d="M1405 386l2 6-7-1-21 1-7 11 5 1 12-1 0 0 3-2 2-3 1 6 6-8 0 8 1-8 1 8 4-5 1 3 1-2 4 4 2-7 4 3 100 3 25 9-15 1-1-3-4 3-3 0-100-7-3 4 0-2-1-1-3 0-1 2-1 4-2-8-2 0-2 7 0-4 0 5 0-4 0 3-1 0-1-6 0 3-1 4-1 0 0-2-2-4 0 6 0-1-1-3 0 4-1 0 0-2-2-2 0 1 0 3-2-2 0 2-1 0-1-2 0-6 0 4 0 2 0-4-1 4 0-3-1 2-1 0-1 0 0-4-1-1-1 5-3 2-1 1 0-2-1 0-2-5-2 5-6 2-5-1 0 8 2 2 4-2 0-4 3 2 1-2 3 5 1 0 1-2 0-4 1 6 0-6 2 3 0 3 0 1 1-8 0 7 1-1 1-6 0 5 1-5 0 2 0-1 0 0 0-1 0 5 1-5 0 4 0 4 0-2 0-1 1-1 0 3 1-4 0 4 1-4 0-1 1 3 0-3 1 2 0 3 0-1 0 1 1 0 0 1 0-8 0 5 1 1 0-6 0 1 1 6 0-2 1 0 0-5 1 5 0 2 0 1 0-4 0 4 0-1 0 0 0 1 0-3 1-4 0 1 0 2 0-3 0 5 0-4 0 5 0-5 0 5 1-3 0 2 1-3 0 3 1-5 0 4 0-1 0-2 1 4 0 2 0-1 0-1 1 2 1-1 1-2 0-1 0-4 0 5 1 0 0 1 0-5 1 6 0-7 0 3 1 3 0-1 0 1 1 0 1 0 0 2 1-6 0-1 0 0 3 5 1 0 1-1 0-5 0 4 1 0 0 0 1-4 2 8 1-1 4-2 4 0 66-3 16 5 1 1 1-7 0 0 0 7 1-3 1 0 0 1 1-2 0 4 1-6 4 0 2 5 2 1 0-3 1 3 0-4 2-2 5 2 1 1 0 1 17 9-8 2-4-8-1 7-3-6-1 4-1-4 0 3 0 1-1 2 0-3 0-1-1 2-1-3 0 6-1-6-2 1 0-3-2 2-1 1 0-1 0 3 0 0-1-1-3-1 0 1 0 4-1 0-1-3-1 1 0 0 0 0-1 0 0 2-1 0 0-3-1 2-1-4-1 2-2-4-3 3-1 3-76-5-2 0-3 2-1-3-5 0 0 2 0 3-1-3 0-2-1 2 0 4-1-1-1-2 0 0-1 1 0-3-4 4-1-4 0 3-1-4 0-1 0 7-1-3 0 3 0 0 0-2-1 3 0-5 0-2 0 0-1 3 0-1 0 5-1-7 0-1 0 6 0-4 0 6 0-6 0 1 0 5-1-7 0 1 0-1-1 5 0-3-1 3 0-2 0 3 0 0 0-3-1-4 0 1 0 4 0 1-1-3 0 2 0-1-1 0 0-1 0 5 0-6 0 0 0 0 0-1 0 7-1-6 0 2 0-4 0 7 0-7 0 3 0-1-1 2 0 1 0 3 0-7 0 0 0 2 0-1-1 5 0-3 0 3 0-1 0-2 0 4 0-8 0 5-1 3 0-3 0-1-1-1 0-2-1 6 0-6 0 4 0-2 0-3 0 4-1 1 0 2 0-7 0 1 0 7 0-3-1 1 0-1 0-5 0 0 0 1-1 7 0-5 0 2 0 0 0-3-1 0 0-2-1 8 0-6 0 6 0-8 0 0-1 0-1 6 0-2-1 1 0-5 0 7 0-1 0 0-1 1 0-2 0 3-1-1-1 1 0-8-1 0 0 6-1-6 0 5 0-1 0 0 0 1-1-4 0-1-4 0-10 15 11-3 1 3 1 2 1-3 0-2 3 3 0 0 2-1 1 3 0-4 0-4 0 8 1-7 1-1 0 0 0 8 2-6 0 3 0 3 2-6 0 6 0-1 1-5 1 4 0-2 0 1 1 3 0-3 0 2 0-1 0-4 1-2 0 4 0 1 0 1 1 2 0-3 0 3 0 0 0-4 1-2 0 0 0 1 0 1 0 1 1-5 0 2 0-1 0 5 1-4 0 2 0 0 0 4 0-8 0 0 0 2 1 0 0-1 0-1 1 7 0-2 0 0 0-3 0 1 0 1 1-4 0 1 0 1 1-2 0 5 0 0 0 1 0-1 1-5 0 5 0-2 0 5 0-6 0 0 0 1 1 4 0-1 0 1 1-5 0 4 0-5 0 4 0-4 1 2 0 0 0 5 1-6 0 4 0-5 1 1 0-1 0 7 1-2 0-2 0-4 0 4 0-2 1 2 0 2 0 1 0-7 1 1 0 0 1 3 0-3 0 3 0-1 1-2 0 0 1 4 0-1 0 1 2-1 1 1 0-1 1 0 0 1 1-4 1 0 3 0 3 5 1-2 2-1 7 4 59-2 3-5 0 3 3-2 3 6 1 0 0-4 2-3 1 0 1 1 1 5 1-3 0 0 1-3 0 3 1 5 0-4 1-2 0-2 0 2 1 6 0-3 0-1 0 4 1-7 0-1 1 2 0 0 0 3 1 3 0-3 0 3 0-2 0-1 1 2 0-4 1 0 1 0 0 3 1 1 0-6 0 5 0-4 0 4 0 1 1 1 0-4 0 3 1-2 0 0 1-4 0 0 0 6 0-1 0-1 0-3 0 2 1 3 0-7 1 5 0 0 0-4 0 5 1-4 0 5 0-4 0 4 1-6 0 6 1-1 1-3 0-1 0-1 0 0 1 7 1-3 0-4 1 0 0 4 1-4 1 7 0-7 0 4 1 0 2-4 0-1 2 1 0 6 1 1 1-1 1 7-3-4 0 7-2-5-1 1 0 2 0 2-1-2 0-3 0 3-1 1 0-6-1 5 0-1 0 3-1-3-1 0 0-4 0 7 0-2 0-6 0 0-2 3 0 0 0 3-1-3 0 4 0-5 0 6-1-1 0-2 0 3-1-7 0 3 0-3 0 1 0 4-1-4 0 5 0-7 0 8-1-6-1-1 0 5-1-2 0 4-1-6 0 2 0 2 0-4 0 3-1-4 0 3 0 4 0-1 0-1 0-1-1-3 0 1 0 5-1-1 0-2 0-1 0 4 0-4 0 3 0 1-1-2 0-4-1 0 0 5 0 0 0-2 0 1-1 1 0-5 0-1 0 3-1-2 0 3 0-2-1 0 0 2 0 0 0-2-1 2 0-1-1 2 0 2-1-6 0 4-1-1-1-3-1 6-2-5-2 4-2-5-1-1-1 5-73 0-4 0 0-4-5 1-2 0-1 2-2 3-1-2 0-6-1 0 0 1-1 0-1 3 0-4-1 1-1 1 0-2-1 3-1 0-2 3-4 1 0-2 0-5-1 8 0 0 0-2-1-5 0 1 0-1 0 0 0 1-1 5 0-4 0 4-1 1 0-5 0 0-1 3 0-5-1 0-2 7-1-5 0-3 0 5 0-1-1-2 0 1 0 5 0-6 0 0-1-2-3 1 0 3-2-4-2 8-3-7-2 0 6 14 1 2 3-3 2-4 2 6 2-4 0-1 1 1 3 3 1-4 4 1 2-3 1 2 1-2 0 2 1 1 5 1 9-2 75 1 5 0 1-2 1 6 0-7 1 3 0 0 0-2 1-1 0 4 0-3 1 1 1-1 0 5 1-2 1 3 0-4 1-1 1 0 0 0 1-1 0 3 0 0 0 2 1-1 0 0 1-5 0 4 0-2 1 3 0-5 0 0 0 0 1 4 1 1 0 0 0-1 1 4 0-4 0 1 0-2 1 0 0-1 0 4 0 0 1-3 0 0 0 3 0-6 1 3 0 0 1-3 0 8 0-8 0 4 0-2 2-2 1 8 0-1 0-6 0 1 0-1 0 4 2 2 0-1 0-6 0 5 0 0 1-3 1 4 0-3 0-1 0 3 1 1 0-3 1 5 0 0 0-2 0-1 0-5 0 7 0-7 1 1 0 4 1 1 0 1 1-6 0 0 2 7 0 0 0-7 1 7 3-4 0-3 14 4 1 2-10 5 0 5-3-7-3-1-3 2-5 2 0 1-2 1-2 0 0-6-1 3-1 4-2-3 0 1 0 3 0-3 0 1-1 2 0-7 0 0 0 4 0 1 0 1-1-1 0-4 0 6 0-3-3 0-1-4 0-1 0 7-1-7 0 4 0-1-1 2 0-5 0 5-2-1 0-2 0 6-2-6 0-2-1 1-1 1 0 2 0-1-2 5-1-8 0 0-5 4-6 3-84-5-4 3-1-5-1 8-2 0-5-8-16 1 112 14 10 0 2 1 2-4 7-1 2 5 1-6 2 0 2-1 0 6 2 2 2-7 1 7 3-6 0 2 1-3 2 2 0 1 0-1 2 0 0 1 1 2 2 0 4 2 5-2-9 8-1-3-3 5-1-1-11-6-2 2-1-2-1 6-4 0-3-3-13 1 12 13 3-7 16 10-13 3-15-3 32 65 15-2-29 9" marker-start="url(#mo)" marker-mid="url(#mo)" marker-end="url(#mo)"/>
</g>
<path class="kb" d="M20.0 97.7 L21.8 97.7 L23.5 97.6 L25.3 97.5 L27.1 97.4 L28.9 97.3 L30.6 97.1 L32.4 96.9 L34.2 96.7 L36.0 96.4 L37.7 96.1 L39.5 95.7 L41.3 95.4 L43.1 94.9 L44.8 94.5 L46.6 94.0 L48.4 93.4 L50.1 92.8 L51.9 92.1 L53.7 91.4 L55.5 90.6 L57.2 89.8 L59.0 88.9 L60.8 88.1 L62.6 87.2 L64.3 86.2 L66.1 85.2 L67.9 84.2 L69.6 83.1 L71.4 81.9 L73.2 80.7 L75.0 79.5 L76.7 78.2 L78.5 77.0 L80.3 75.7 L82.1 74.5 L83.8 73.2 L85.6 71.9 L87.4 70.7 L89.2 69.3 L90.9 68.0 L92.7 66.6 L94.5 65.2 L96.2 63.7 L98.0 62.3 L99.8 60.9 L101.6 59.6 L103.3 58.3 L105.1 57.0 L106.9 55.8 L108.7 54.7 L110.4 53.7 L112.2 52.9 L114.0 52.3 L115.7 52.0 L117.5 51.9 L119.3 52.0 L121.1 52.5 L122.8 53.2 L124.6 54.2 L126.4 55.3 L128.2 56.6 L129.9 58.0 L131.7 59.4 L133.5 60.8 L135.3 62.1 L137.0 63.4 L138.8 64.6 L140.6 65.7 L142.3 66.7 L144.1 67.6 L145.9 68.5 L147.7 69.4 L149.4 70.3 L151.2 71.2 L153.0 72.2 L154.8 73.2 L156.5 74.2 L158.3 75.4 L160.1 76.5 L161.8 77.7 L163.6 78.9 L165.4 80.2 L167.2 81.4 L168.9 82.6 L170.7 83.7 L172.5 84.8 L174.3 85.8 L176.0 86.8 L177.8 87.7 L179.6 88.6 L181.4 89.4 L183.1 90.2 L184.9 90.9 L186.7 91.5 L188.4 92.1 L190.2 92.7 L192.0 93.2 L193.8 93.6 L195.5 94.0 L197.3 94.4 L199.1 94.7 L200.9 95.0 L202.6 95.2 L204.4 95.5 L206.2 95.7 L207.9 95.9 L209.7 96.1 L211.5 96.4 L213.3 96.6 L215.0 96.8 L216.8 97.0 L218.6 97.2 L220.4 97.4 L222.1 97.5 L223.9 97.7 L225.7 97.8 L227.5 97.8 L229.2 97.9 L231.0 97.9"/>
<path class="kb" d="M231.8 98.0 L231.9 99.8 L232.1 101.5 L232.4 103.3 L232.6 105.1 L232.9 106.9 L233.2 108.6 L233.6 110.4 L234.0 112.2 L234.4 114.0 L234.9 115.7 L235.3 117.5 L235.8 119.3 L236.3 121.1 L236.8 122.8 L237.3 124.6 L237.8 126.4 L238.2 128.1 L238.8 129.9 L239.3 131.7 L240.0 133.5 L240.8 135.2 L241.8 137.0 L242.8 138.8 L244.0 140.6 L245.3 142.3 L246.8 144.1 L248.3 145.9 L249.8 147.6 L251.5 149.4 L253.2 151.2 L254.8 153.0 L256.5 154.7 L258.0 156.5 L259.4 158.3 L260.7 160.1 L261.7 161.8 L262.6 163.6 L263.4 165.4 L264.0 167.2 L264.6 168.9 L265.2 170.7 L266.0 172.5 L266.8 174.2 L267.7 176.0 L268.6 177.8 L269.6 179.6 L270.5 181.3 L271.2 183.1 L271.8 184.9 L272.0 186.7 L272.0 188.4 L271.6 190.2 L270.9 192.0 L270.1 193.7 L269.0 195.5 L267.9 197.3 L266.8 199.1 L265.7 200.8 L264.6 202.6 L263.6 204.4 L262.7 206.2 L261.8 207.9 L261.0 209.7 L260.1 211.5 L259.1 213.3 L258.0 215.0 L256.9 216.8 L255.6 218.6 L254.3 220.3 L253.0 222.1 L251.6 223.9 L250.3 225.7 L249.0 227.4 L247.7 229.2 L246.6 231.0 L245.5 232.8 L244.5 234.5 L243.6 236.3 L242.7 238.1 L241.8 239.8 L241.0 241.6 L240.3 243.4 L239.5 245.2 L238.9 246.9 L238.2 248.7 L237.6 250.5 L237.1 252.3 L236.6 254.0 L236.1 255.8 L235.6 257.6 L235.2 259.4 L234.8 261.1 L234.4 262.9 L234.0 264.7 L233.7 266.4 L233.4 268.2 L233.1 270.0 L232.8 271.8 L232.6 273.5 L232.4 275.3 L232.2 277.1 L232.0 278.9 L231.8 280.6 L231.7 282.4 L231.6 284.2 L231.5 285.9 L231.4 287.7 L231.3 289.5 L231.2 291.3 L231.2 293.0 L231.1 294.8 L231.1 296.6 L231.1 298.4 L231.0 300.1 L231.0 301.9 L231.0 303.7 L231.0 305.5 L231.0 307.2 L231.0 309.0"/>
<path class="ko" d="M20.0 97.9 L21.8 97.9 L23.5 97.8 L25.3 97.8 L27.1 97.7 L28.9 97.7 L30.6 97.6 L32.4 97.6 L34.2 97.6 L36.0 97.5 L37.7 97.5 L39.5 97.5 L41.3 97.4 L43.1 97.4 L44.8 97.3 L46.6 97.2 L48.4 97.0 L50.1 96.7 L51.9 96.4 L53.7 95.9 L55.5 95.4 L57.2 94.7 L59.0 94.0 L60.8 93.3 L62.6 92.5 L64.3 91.6 L66.1 90.8 L67.9 89.9 L69.6 89.0 L71.4 88.2 L73.2 87.3 L75.0 86.3 L76.7 85.2 L78.5 84.0 L80.3 82.6 L82.1 81.2 L83.8 79.6 L85.6 78.0 L87.4 76.4 L89.2 74.7 L90.9 73.1 L92.7 71.4 L94.5 69.8 L96.2 68.1 L98.0 66.4 L99.8 64.7 L101.6 62.9 L103.3 61.0 L105.1 59.1 L106.9 57.1 L108.7 55.2 L110.4 53.3 L112.2 51.6 L114.0 50.2 L115.7 49.0 L117.5 48.2 L119.3 47.7 L121.1 47.5 L122.8 47.5 L124.6 47.7 L126.4 47.9 L128.2 48.2 L129.9 48.5 L131.7 48.8 L133.5 49.0 L135.3 49.4 L137.0 49.9 L138.8 50.5 L140.6 51.3 L142.3 52.4 L144.1 53.7 L145.9 55.4 L147.7 57.3 L149.4 59.5 L151.2 61.8 L153.0 64.3 L154.8 66.8 L156.5 69.3 L158.3 71.7 L160.1 74.0 L161.8 76.1 L163.6 78.1 L165.4 79.9 L167.2 81.5 L168.9 83.0 L170.7 84.4 L172.5 85.7 L174.3 87.0 L176.0 88.1 L177.8 89.2 L179.6 90.1 L181.4 91.0 L183.1 91.8 L184.9 92.5 L186.7 93.2 L188.4 93.8 L190.2 94.4 L192.0 95.0 L193.8 95.5 L195.5 96.0 L197.3 96.4 L199.1 96.8 L200.9 97.1 L202.6 97.3 L204.4 97.5 L206.2 97.6 L207.9 97.7 L209.7 97.8 L211.5 97.8 L213.3 97.9 L215.0 97.9 L216.8 97.9 L218.6 97.9 L220.4 98.0 L222.1 98.0 L223.9 97.9 L225.7 97.9 L227.5 97.9 L229.2 97.9 L231.0 97.9"/>
<path class="ko" d="M231.3 98.0 L231.4 99.8 L231.5 101.5 L231.6 103.3 L231.7 105.1 L231.8 106.9 L231.8 108.6 L231.8 110.4 L231.8 112.2 L231.9 114.0 L231.9 115.7 L232.1 117.5 L232.3 119.3 L232.6 121.1 L233.1 122.8 L233.7 124.6 L234.4 126.4 L235.2 128.1 L236.2 129.9 L237.1 131.7 L238.2 133.5 L239.3 135.2 L240.5 137.0 L241.6 138.8 L242.8 140.6 L244.0 142.3 L245.1 144.1 L246.3 145.9 L247.5 147.6 L248.8 149.4 L250.2 151.2 L251.7 153.0 L253.3 154.7 L254.9 156.5 L256.6 158.3 L258.2 160.1 L259.9 161.8 L261.6 163.6 L263.4 165.4 L265.3 167.2 L267.4 168.9 L269.6 170.7 L271.8 172.5 L274.0 174.2 L275.9 176.0 L277.5 177.8 L278.9 179.6 L279.9 181.3 L280.6 183.1 L281.1 184.9 L281.4 186.7 L281.5 188.4 L281.3 190.2 L280.8 192.0 L279.9 193.7 L278.7 195.5 L277.3 197.3 L275.6 199.1 L273.7 200.8 L271.7 202.6 L269.7 204.4 L267.6 206.2 L265.5 207.9 L263.4 209.7 L261.4 211.5 L259.5 213.3 L257.7 215.0 L255.9 216.8 L254.2 218.6 L252.6 220.3 L251.1 222.1 L249.7 223.9 L248.4 225.7 L247.1 227.4 L245.8 229.2 L244.5 231.0 L243.2 232.8 L241.9 234.5 L240.6 236.3 L239.3 238.1 L238.2 239.8 L237.1 241.6 L236.1 243.4 L235.2 245.2 L234.4 246.9 L233.7 248.7 L233.1 250.5 L232.6 252.3 L232.2 254.0 L231.9 255.8 L231.7 257.6 L231.5 259.4 L231.5 261.1 L231.4 262.9 L231.4 264.7 L231.4 266.4 L231.4 268.2 L231.3 270.0 L231.3 271.8 L231.2 273.5 L231.2 275.3 L231.1 277.1 L231.1 278.9 L231.0 280.6 L231.0 282.4 L231.0 284.2 L231.0 285.9 L231.0 287.7 L231.0 289.5 L231.0 291.3 L231.0 293.0 L231.0 294.8 L231.0 296.6 L231.0 298.4 L231.0 300.1 L231.0 301.9 L231.0 303.7 L231.0 305.5 L231.0 307.2 L231.0 309.0"/>
<rect x="20.5" y="98.5" width="211.0" height="211.0" class="ax"/>
<path class="kb" d="M288.2 97.9 L290.0 97.9 L291.7 97.8 L293.5 97.8 L295.3 97.8 L297.1 97.8 L298.8 97.8 L300.6 97.8 L302.4 97.8 L304.2 97.7 L305.9 97.7 L307.7 97.6 L309.5 97.5 L311.3 97.3 L313.0 97.1 L314.8 96.8 L316.6 96.5 L318.3 96.1 L320.1 95.6 L321.9 95.1 L323.7 94.6 L325.4 93.9 L327.2 93.2 L329.0 92.4 L330.8 91.5 L332.5 90.5 L334.3 89.4 L336.1 88.3 L337.8 87.1 L339.6 85.9 L341.4 84.6 L343.2 83.2 L344.9 81.7 L346.7 80.2 L348.5 78.5 L350.3 76.8 L352.0 75.2 L353.8 73.5 L355.6 71.8 L357.4 70.1 L359.1 68.4 L360.9 66.6 L362.7 64.7 L364.4 62.8 L366.2 60.9 L368.0 59.0 L369.8 57.2 L371.5 55.4 L373.3 53.6 L375.1 52.0 L376.9 50.5 L378.6 49.2 L380.4 48.3 L382.2 47.7 L383.9 47.5 L385.7 47.8 L387.5 48.5 L389.3 49.7 L391.0 51.2 L392.8 52.9 L394.6 54.8 L396.4 56.7 L398.1 58.6 L399.9 60.3 L401.7 61.8 L403.5 63.2 L405.2 64.5 L407.0 65.7 L408.8 66.9 L410.5 68.1 L412.3 69.4 L414.1 70.7 L415.9 72.2 L417.6 73.7 L419.4 75.3 L421.2 77.0 L423.0 78.6 L424.7 80.2 L426.5 81.8 L428.3 83.3 L430.0 84.7 L431.8 86.0 L433.6 87.2 L435.4 88.3 L437.1 89.4 L438.9 90.3 L440.7 91.2 L442.5 92.0 L444.2 92.7 L446.0 93.3 L447.8 93.8 L449.6 94.2 L451.3 94.6 L453.1 95.0 L454.9 95.3 L456.6 95.6 L458.4 95.9 L460.2 96.2 L462.0 96.5 L463.7 96.8 L465.5 97.0 L467.3 97.3 L469.1 97.5 L470.8 97.7 L472.6 97.8 L474.4 97.9 L476.1 97.9 L477.9 98.0 L479.7 98.0 L481.5 98.0 L483.2 98.0 L485.0 98.0 L486.8 98.0 L488.6 98.0 L490.3 98.0 L492.1 98.0 L493.9 98.0 L495.7 98.0 L497.4 98.0 L499.2 98.0"/>
<path class="kb" d="M499.2 98.0 L499.2 99.8 L499.2 101.5 L499.2 103.3 L499.2 105.1 L499.2 106.9 L499.2 108.6 L499.2 110.4 L499.3 112.2 L499.3 114.0 L499.3 115.7 L499.4 117.5 L499.4 119.3 L499.5 121.1 L499.6 122.8 L499.7 124.6 L499.8 126.4 L499.9 128.1 L500.0 129.9 L500.2 131.7 L500.4 133.5 L500.5 135.2 L500.7 137.0 L500.9 138.8 L501.1 140.6 L501.2 142.3 L501.4 144.1 L501.6 145.9 L501.9 147.6 L502.2 149.4 L502.6 151.2 L503.0 153.0 L503.5 154.7 L504.0 156.5 L504.6 158.3 L505.2 160.1 L505.8 161.8 L506.4 163.6 L506.9 165.4 L507.4 167.2 L507.8 168.9 L508.2 170.7 L508.5 172.5 L508.7 174.2 L508.9 176.0 L509.2 177.8 L509.4 179.6 L509.8 181.3 L510.1 183.1 L510.4 184.9 L510.7 186.7 L510.9 188.4 L511.0 190.2 L510.9 192.0 L510.7 193.7 L510.4 195.5 L510.0 197.3 L509.6 199.1 L509.2 200.8 L508.8 202.6 L508.4 204.4 L508.1 206.2 L507.8 207.9 L507.5 209.7 L507.1 211.5 L506.7 213.3 L506.3 215.0 L505.8 216.8 L505.3 218.6 L504.9 220.3 L504.4 222.1 L503.9 223.9 L503.5 225.7 L503.2 227.4 L502.8 229.2 L502.5 231.0 L502.2 232.8 L501.9 234.5 L501.7 236.3 L501.4 238.1 L501.2 239.8 L501.0 241.6 L500.8 243.4 L500.6 245.2 L500.5 246.9 L500.3 248.7 L500.2 250.5 L500.1 252.3 L499.9 254.0 L499.8 255.8 L499.7 257.6 L499.6 259.4 L499.6 261.1 L499.5 262.9 L499.4 264.7 L499.4 266.4 L499.4 268.2 L499.3 270.0 L499.3 271.8 L499.3 273.5 L499.2 275.3 L499.2 277.1 L499.2 278.9 L499.2 280.6 L499.2 282.4 L499.2 284.2 L499.2 285.9 L499.2 287.7 L499.2 289.5 L499.2 291.3 L499.2 293.0 L499.2 294.8 L499.2 296.6 L499.2 298.4 L499.2 300.1 L499.2 301.9 L499.2 303.7 L499.2 305.5 L499.2 307.2 L499.2 309.0"/>
<path class="ko" d="M288.2 98.0 L290.0 98.0 L291.7 97.9 L293.5 97.9 L295.3 97.8 L297.1 97.7 L298.8 97.6 L300.6 97.4 L302.4 97.2 L304.2 97.0 L305.9 96.7 L307.7 96.4 L309.5 96.1 L311.3 95.7 L313.0 95.3 L314.8 95.0 L316.6 94.6 L318.3 94.1 L320.1 93.6 L321.9 93.1 L323.7 92.5 L325.4 91.7 L327.2 90.9 L329.0 90.0 L330.8 89.0 L332.5 87.9 L334.3 86.8 L336.1 85.6 L337.8 84.3 L339.6 83.0 L341.4 81.8 L343.2 80.5 L344.9 79.2 L346.7 77.8 L348.5 76.5 L350.3 75.1 L352.0 73.7 L353.8 72.2 L355.6 70.7 L357.4 69.2 L359.1 67.7 L360.9 66.3 L362.7 65.0 L364.4 63.8 L366.2 62.7 L368.0 61.7 L369.8 61.0 L371.5 60.3 L373.3 59.8 L375.1 59.4 L376.9 59.1 L378.6 58.8 L380.4 58.5 L382.2 58.2 L383.9 57.9 L385.7 57.6 L387.5 57.3 L389.3 57.1 L391.0 57.0 L392.8 57.0 L394.6 57.4 L396.4 58.0 L398.1 58.8 L399.9 59.9 L401.7 61.2 L403.5 62.6 L405.2 64.1 L407.0 65.7 L408.8 67.3 L410.5 68.8 L412.3 70.2 L414.1 71.6 L415.9 73.0 L417.6 74.3 L419.4 75.5 L421.2 76.7 L423.0 77.9 L424.7 79.0 L426.5 80.1 L428.3 81.2 L430.0 82.3 L431.8 83.4 L433.6 84.5 L435.4 85.6 L437.1 86.6 L438.9 87.7 L440.7 88.7 L442.5 89.6 L444.2 90.5 L446.0 91.3 L447.8 91.9 L449.6 92.5 L451.3 93.0 L453.1 93.5 L454.9 93.9 L456.6 94.2 L458.4 94.6 L460.2 94.9 L462.0 95.2 L463.7 95.5 L465.5 95.8 L467.3 96.1 L469.1 96.3 L470.8 96.5 L472.6 96.7 L474.4 96.9 L476.1 97.0 L477.9 97.2 L479.7 97.3 L481.5 97.4 L483.2 97.5 L485.0 97.6 L486.8 97.7 L488.6 97.8 L490.3 97.8 L492.1 97.9 L493.9 97.9 L495.7 98.0 L497.4 98.0 L499.2 98.0"/>
<path class="ko" d="M499.2 98.0 L499.2 99.8 L499.2 101.5 L499.2 103.3 L499.4 105.1 L499.8 106.9 L501.1 108.6 L503.8 110.4 L508.6 112.2 L515.6 114.0 L524.4 115.7 L534.0 117.5 L542.4 119.3 L547.9 121.1 L549.7 122.8 L547.2 124.6 L540.7 126.4 L531.9 128.1 L523.0 129.9 L515.1 131.7 L508.9 133.5 L504.7 135.2 L502.2 137.0 L500.6 138.8 L499.8 140.6 L499.4 142.3 L499.2 144.1 L499.2 145.9 L499.2 147.6 L499.2 149.4 L499.2 151.2 L499.2 153.0 L499.2 154.7 L499.2 156.5 L499.2 158.3 L499.2 160.1 L499.2 161.8 L499.2 163.6 L499.2 165.4 L499.2 167.2 L499.2 168.9 L499.2 170.7 L499.2 172.5 L499.2 174.2 L499.2 176.0 L499.2 177.8 L499.2 179.6 L499.2 181.3 L499.2 183.1 L499.2 184.9 L499.2 186.7 L499.2 188.4 L499.2 190.2 L499.2 192.0 L499.2 193.7 L499.2 195.5 L499.2 197.3 L499.2 199.1 L499.2 200.8 L499.2 202.6 L499.2 204.4 L499.2 206.2 L499.2 207.9 L499.2 209.7 L499.2 211.5 L499.2 213.3 L499.2 215.0 L499.2 216.8 L499.2 218.6 L499.2 220.3 L499.2 222.1 L499.2 223.9 L499.2 225.7 L499.2 227.4 L499.2 229.2 L499.2 231.0 L499.2 232.8 L499.2 234.5 L499.2 236.3 L499.2 238.1 L499.2 239.8 L499.2 241.6 L499.2 243.4 L499.2 245.2 L499.2 246.9 L499.2 248.7 L499.2 250.5 L499.2 252.3 L499.2 254.0 L499.2 255.8 L499.2 257.6 L499.2 259.4 L499.2 261.1 L499.2 262.9 L499.2 264.7 L499.2 266.4 L499.2 268.2 L499.2 270.0 L499.2 271.8 L499.2 273.5 L499.2 275.3 L499.2 277.1 L499.2 278.9 L499.2 280.6 L499.2 282.4 L499.2 284.2 L499.2 285.9 L499.2 287.7 L499.2 289.5 L499.2 291.3 L499.2 293.0 L499.2 294.8 L499.2 296.6 L499.2 298.4 L499.2 300.1 L499.2 301.9 L499.2 303.7 L499.2 305.5 L499.2 307.2 L499.2 309.0"/>
<rect x="288.7" y="98.5" width="211.0" height="211.0" class="ax"/>
<path class="kb" d="M556.4 98.0 L558.2 98.0 L559.9 97.9 L561.7 97.9 L563.5 97.9 L565.3 97.8 L567.0 97.8 L568.8 97.8 L570.6 97.8 L572.4 97.8 L574.1 97.8 L575.9 97.8 L577.7 97.7 L579.5 97.7 L581.2 97.6 L583.0 97.5 L584.8 97.3 L586.5 97.1 L588.3 96.8 L590.1 96.5 L591.9 96.1 L593.6 95.7 L595.4 95.2 L597.2 94.6 L599.0 94.0 L600.7 93.3 L602.5 92.5 L604.3 91.6 L606.0 90.6 L607.8 89.5 L609.6 88.4 L611.4 87.2 L613.1 86.0 L614.9 84.7 L616.7 83.3 L618.5 81.9 L620.2 80.3 L622.0 78.7 L623.8 77.0 L625.6 75.3 L627.3 73.6 L629.1 71.9 L630.9 70.3 L632.6 68.5 L634.4 66.8 L636.2 64.9 L638.0 63.0 L639.7 61.1 L641.5 59.2 L643.3 57.3 L645.1 55.5 L646.8 53.8 L648.6 52.1 L650.4 50.6 L652.1 49.4 L653.9 48.4 L655.7 47.7 L657.5 47.5 L659.2 47.7 L661.0 48.4 L662.8 49.6 L664.6 51.0 L666.3 52.8 L668.1 54.6 L669.9 56.5 L671.7 58.4 L673.4 60.1 L675.2 61.7 L677.0 63.1 L678.7 64.4 L680.5 65.6 L682.3 66.8 L684.1 68.0 L685.8 69.3 L687.6 70.6 L689.4 72.0 L691.2 73.6 L692.9 75.2 L694.7 76.8 L696.5 78.5 L698.2 80.1 L700.0 81.7 L701.8 83.2 L703.6 84.6 L705.3 85.9 L707.1 87.1 L708.9 88.2 L710.7 89.3 L712.4 90.2 L714.2 91.1 L716.0 91.9 L717.8 92.6 L719.5 93.2 L721.3 93.8 L723.1 94.2 L724.8 94.6 L726.6 95.0 L728.4 95.3 L730.2 95.6 L731.9 95.9 L733.7 96.2 L735.5 96.5 L737.3 96.7 L739.0 97.0 L740.8 97.3 L742.6 97.5 L744.3 97.6 L746.1 97.8 L747.9 97.9 L749.7 97.9 L751.4 98.0 L753.2 98.0 L755.0 98.0 L756.8 98.0 L758.5 98.0 L760.3 98.0 L762.1 98.0 L763.9 98.0 L765.6 98.0 L767.4 98.0"/>
<path class="kb" d="M767.4 98.0 L767.4 99.8 L767.4 101.5 L767.4 103.3 L767.4 105.1 L767.4 106.9 L767.4 108.6 L767.4 110.4 L767.5 112.2 L767.5 114.0 L767.5 115.7 L767.6 117.5 L767.6 119.3 L767.7 121.1 L767.8 122.8 L767.9 124.6 L768.0 126.4 L768.1 128.1 L768.3 129.9 L768.4 131.7 L768.6 133.5 L768.8 135.2 L769.0 137.0 L769.2 138.8 L769.3 140.6 L769.5 142.3 L769.7 144.1 L769.9 145.9 L770.2 147.6 L770.5 149.4 L770.9 151.2 L771.4 153.0 L771.9 154.7 L772.4 156.5 L773.0 158.3 L773.6 160.1 L774.3 161.8 L774.9 163.6 L775.5 165.4 L776.0 167.2 L776.4 168.9 L776.8 170.7 L777.1 172.5 L777.3 174.2 L777.5 176.0 L777.8 177.8 L778.1 179.6 L778.4 181.3 L778.8 183.1 L779.1 184.9 L779.4 186.7 L779.6 188.4 L779.7 190.2 L779.6 192.0 L779.4 193.7 L779.1 195.5 L778.7 197.3 L778.2 199.1 L777.8 200.8 L777.4 202.6 L777.1 204.4 L776.7 206.2 L776.4 207.9 L776.1 209.7 L775.7 211.5 L775.3 213.3 L774.8 215.0 L774.3 216.8 L773.8 218.6 L773.3 220.3 L772.8 222.1 L772.4 223.9 L771.9 225.7 L771.5 227.4 L771.2 229.2 L770.9 231.0 L770.5 232.8 L770.3 234.5 L770.0 236.3 L769.7 238.1 L769.5 239.8 L769.3 241.6 L769.1 243.4 L768.9 245.2 L768.7 246.9 L768.6 248.7 L768.4 250.5 L768.3 252.3 L768.2 254.0 L768.1 255.8 L768.0 257.6 L767.9 259.4 L767.8 261.1 L767.7 262.9 L767.7 264.7 L767.6 266.4 L767.6 268.2 L767.5 270.0 L767.5 271.8 L767.5 273.5 L767.4 275.3 L767.4 277.1 L767.4 278.9 L767.4 280.6 L767.4 282.4 L767.4 284.2 L767.4 285.9 L767.4 287.7 L767.4 289.5 L767.4 291.3 L767.4 293.0 L767.4 294.8 L767.4 296.6 L767.4 298.4 L767.4 300.1 L767.4 301.9 L767.4 303.7 L767.4 305.5 L767.4 307.2 L767.4 309.0"/>
<path class="ko" d="M556.4 97.9 L558.2 97.9 L559.9 97.8 L561.7 97.8 L563.5 97.8 L565.3 97.8 L567.0 97.8 L568.8 97.7 L570.6 97.7 L572.4 97.7 L574.1 97.8 L575.9 97.8 L577.7 97.8 L579.5 97.8 L581.2 97.8 L583.0 97.7 L584.8 97.7 L586.5 97.6 L588.3 97.4 L590.1 97.2 L591.9 96.9 L593.6 96.5 L595.4 96.0 L597.2 95.4 L599.0 94.8 L600.7 94.1 L602.5 93.3 L604.3 92.5 L606.0 91.7 L607.8 90.9 L609.6 90.1 L611.4 89.3 L613.1 88.5 L614.9 87.7 L616.7 86.9 L618.5 86.1 L620.2 85.3 L622.0 84.5 L623.8 83.6 L625.6 82.7 L627.3 81.7 L629.1 80.7 L630.9 79.7 L632.6 78.6 L634.4 77.6 L636.2 76.6 L638.0 75.6 L639.7 74.7 L641.5 73.7 L643.3 72.8 L645.1 72.0 L646.8 71.2 L648.6 70.5 L650.4 69.8 L652.1 69.1 L653.9 68.5 L655.7 67.8 L657.5 67.2 L659.2 66.6 L661.0 66.0 L662.8 65.4 L664.6 64.8 L666.3 64.2 L668.1 63.7 L669.9 63.1 L671.7 62.6 L673.4 62.1 L675.2 61.7 L677.0 61.4 L678.7 61.2 L680.5 61.2 L682.3 61.3 L684.1 61.7 L685.8 62.2 L687.6 62.8 L689.4 63.5 L691.2 64.2 L692.9 65.0 L694.7 65.8 L696.5 66.6 L698.2 67.4 L700.0 68.2 L701.8 69.1 L703.6 70.0 L705.3 71.0 L707.1 72.1 L708.9 73.3 L710.7 74.5 L712.4 75.7 L714.2 76.9 L716.0 78.1 L717.8 79.3 L719.5 80.5 L721.3 81.6 L723.1 82.6 L724.8 83.6 L726.6 84.6 L728.4 85.4 L730.2 86.3 L731.9 87.1 L733.7 87.8 L735.5 88.6 L737.3 89.3 L739.0 90.0 L740.8 90.7 L742.6 91.4 L744.3 92.1 L746.1 92.9 L747.9 93.6 L749.7 94.2 L751.4 94.9 L753.2 95.5 L755.0 96.0 L756.8 96.4 L758.5 96.8 L760.3 97.1 L762.1 97.4 L763.9 97.5 L765.6 97.7 L767.4 97.8"/>
<path class="ko" d="M767.4 98.0 L767.4 99.8 L767.4 101.5 L767.4 103.3 L767.4 105.1 L767.5 106.9 L767.8 108.6 L768.4 110.4 L770.3 112.2 L774.3 114.0 L780.4 115.7 L787.9 117.5 L795.9 119.3 L803.6 121.1 L810.3 122.8 L815.5 124.6 L817.9 126.4 L816.2 128.1 L810.4 129.9 L802.0 131.7 L792.7 133.5 L784.1 135.2 L777.3 137.0 L772.3 138.8 L769.3 140.6 L767.9 142.3 L767.5 144.1 L767.4 145.9 L767.4 147.6 L767.4 149.4 L767.4 151.2 L767.4 153.0 L767.4 154.7 L767.4 156.5 L767.4 158.3 L767.4 160.1 L767.4 161.8 L767.4 163.6 L767.4 165.4 L767.4 167.2 L767.4 168.9 L767.4 170.7 L767.4 172.5 L767.4 174.2 L767.4 176.0 L767.4 177.8 L767.4 179.6 L767.4 181.3 L767.4 183.1 L767.4 184.9 L767.4 186.7 L767.4 188.4 L767.4 190.2 L767.4 192.0 L767.4 193.7 L767.4 195.5 L767.4 197.3 L767.4 199.1 L767.4 200.8 L767.4 202.6 L767.4 204.4 L767.4 206.2 L767.4 207.9 L767.4 209.7 L767.4 211.5 L767.4 213.3 L767.4 215.0 L767.4 216.8 L767.4 218.6 L767.4 220.3 L767.4 222.1 L767.4 223.9 L767.4 225.7 L767.4 227.4 L767.4 229.2 L767.4 231.0 L767.4 232.8 L767.4 234.5 L767.4 236.3 L767.4 238.1 L767.4 239.8 L767.4 241.6 L767.4 243.4 L767.4 245.2 L767.4 246.9 L767.4 248.7 L767.4 250.5 L767.4 252.3 L767.4 254.0 L767.4 255.8 L767.4 257.6 L767.4 259.4 L767.4 261.1 L767.4 262.9 L767.4 264.7 L767.4 266.4 L767.4 268.2 L767.4 270.0 L767.4 271.8 L767.4 273.5 L767.4 275.3 L767.4 277.1 L767.4 278.9 L767.4 280.6 L767.4 282.4 L767.4 284.2 L767.4 285.9 L767.4 287.7 L767.4 289.5 L767.4 291.3 L767.4 293.0 L767.4 294.8 L767.4 296.6 L767.4 298.4 L767.4 300.1 L767.4 301.9 L767.4 303.7 L767.4 305.5 L767.4 307.2 L767.4 309.0"/>
<rect x="556.9" y="98.5" width="211.0" height="211.0" class="ax"/>
<path class="kb" d="M824.6 98.0 L826.4 98.0 L828.1 98.0 L829.9 98.0 L831.7 98.0 L833.5 98.0 L835.2 98.0 L837.0 98.0 L838.8 98.0 L840.6 98.0 L842.3 98.0 L844.1 98.0 L845.9 98.0 L847.7 97.9 L849.4 97.9 L851.2 97.9 L853.0 97.8 L854.7 97.8 L856.5 97.8 L858.3 97.8 L860.1 97.7 L861.8 97.6 L863.6 97.5 L865.4 97.2 L867.2 96.8 L868.9 96.3 L870.7 95.6 L872.5 94.8 L874.2 93.8 L876.0 92.7 L877.8 91.3 L879.6 89.7 L881.3 88.0 L883.1 86.1 L884.9 84.2 L886.7 82.0 L888.4 79.6 L890.2 77.0 L892.0 74.4 L893.8 71.8 L895.5 69.2 L897.3 66.5 L899.1 63.7 L900.8 60.7 L902.6 57.8 L904.4 55.1 L906.2 52.5 L907.9 50.2 L909.7 48.4 L911.5 47.5 L913.3 47.6 L915.0 48.7 L916.8 50.8 L918.6 53.5 L920.3 56.4 L922.1 59.2 L923.9 61.7 L925.7 63.8 L927.4 65.7 L929.2 67.5 L931.0 69.4 L932.8 71.5 L934.5 73.9 L936.3 76.3 L938.1 78.9 L939.9 81.3 L941.6 83.6 L943.4 85.7 L945.2 87.5 L946.9 89.2 L948.7 90.6 L950.5 91.9 L952.3 92.9 L954.0 93.8 L955.8 94.4 L957.6 95.0 L959.4 95.5 L961.1 95.9 L962.9 96.4 L964.7 96.8 L966.4 97.2 L968.2 97.5 L970.0 97.7 L971.8 97.9 L973.5 98.0 L975.3 98.0 L977.1 98.0 L978.9 98.0 L980.6 98.0 L982.4 98.0 L984.2 98.0 L986.0 98.0 L987.7 98.0 L989.5 98.0 L991.3 98.0 L993.0 98.0 L994.8 98.0 L996.6 98.0 L998.4 98.0 L1000.1 98.0 L1001.9 98.0 L1003.7 98.0 L1005.5 98.0 L1007.2 98.0 L1009.0 98.0 L1010.8 98.0 L1012.5 98.0 L1014.3 98.0 L1016.1 98.0 L1017.9 98.0 L1019.6 98.0 L1021.4 98.0 L1023.2 98.0 L1025.0 98.0 L1026.7 98.0 L1028.5 98.0 L1030.3 98.0 L1032.1 98.0 L1033.8 98.0 L1035.6 98.0"/>
<path class="kb" d="M1035.6 98.0 L1035.6 99.8 L1035.6 101.5 L1035.6 103.3 L1035.6 105.1 L1035.6 106.9 L1035.6 108.6 L1035.7 110.4 L1035.7 112.2 L1035.8 114.0 L1035.9 115.7 L1035.9 117.5 L1036.0 119.3 L1036.2 121.1 L1036.3 122.8 L1036.5 124.6 L1036.6 126.4 L1036.8 128.1 L1037.1 129.9 L1037.3 131.7 L1037.6 133.5 L1037.9 135.2 L1038.3 137.0 L1038.6 138.8 L1038.9 140.6 L1039.2 142.3 L1039.5 144.1 L1039.8 145.9 L1040.2 147.6 L1040.6 149.4 L1041.1 151.2 L1041.7 153.0 L1042.4 154.7 L1043.2 156.5 L1044.1 158.3 L1045.1 160.1 L1046.1 161.8 L1047.1 163.6 L1048.2 165.4 L1049.3 167.2 L1050.3 168.9 L1051.2 170.7 L1052.1 172.5 L1052.8 174.2 L1053.3 176.0 L1053.8 177.8 L1054.2 179.6 L1054.6 181.3 L1055.0 183.1 L1055.5 184.9 L1056.1 186.7 L1056.7 188.4 L1057.3 190.2 L1057.9 192.0 L1058.2 193.7 L1058.4 195.5 L1058.4 197.3 L1058.1 199.1 L1057.7 200.8 L1057.1 202.6 L1056.4 204.4 L1055.6 206.2 L1054.9 207.9 L1054.2 209.7 L1053.6 211.5 L1053.0 213.3 L1052.5 215.0 L1051.9 216.8 L1051.3 218.6 L1050.6 220.3 L1049.9 222.1 L1049.1 223.9 L1048.2 225.7 L1047.3 227.4 L1046.5 229.2 L1045.6 231.0 L1044.8 232.8 L1044.1 234.5 L1043.4 236.3 L1042.8 238.1 L1042.2 239.8 L1041.7 241.6 L1041.2 243.4 L1040.7 245.2 L1040.2 246.9 L1039.8 248.7 L1039.4 250.5 L1039.0 252.3 L1038.7 254.0 L1038.4 255.8 L1038.1 257.6 L1037.8 259.4 L1037.6 261.1 L1037.3 262.9 L1037.1 264.7 L1036.9 266.4 L1036.7 268.2 L1036.6 270.0 L1036.4 271.8 L1036.3 273.5 L1036.2 275.3 L1036.1 277.1 L1036.0 278.9 L1035.9 280.6 L1035.8 282.4 L1035.8 284.2 L1035.7 285.9 L1035.7 287.7 L1035.7 289.5 L1035.7 291.3 L1035.6 293.0 L1035.6 294.8 L1035.6 296.6 L1035.6 298.4 L1035.6 300.1 L1035.6 301.9 L1035.6 303.7 L1035.6 305.5 L1035.6 307.2 L1035.6 309.0"/>
<path class="ko" d="M824.6 96.9 L826.4 96.6 L828.1 96.2 L829.9 95.8 L831.7 95.4 L833.5 95.0 L835.2 94.5 L837.0 94.0 L838.8 93.4 L840.6 92.9 L842.3 92.4 L844.1 91.8 L845.9 91.3 L847.7 90.7 L849.4 90.2 L851.2 89.7 L853.0 89.2 L854.7 88.7 L856.5 88.3 L858.3 87.8 L860.1 87.3 L861.8 86.8 L863.6 86.3 L865.4 85.7 L867.2 85.2 L868.9 84.7 L870.7 84.2 L872.5 83.7 L874.2 83.3 L876.0 82.9 L877.8 82.6 L879.6 82.3 L881.3 82.0 L883.1 81.8 L884.9 81.6 L886.7 81.4 L888.4 81.2 L890.2 81.0 L892.0 80.8 L893.8 80.6 L895.5 80.3 L897.3 80.0 L899.1 79.7 L900.8 79.4 L902.6 79.1 L904.4 78.8 L906.2 78.6 L907.9 78.4 L909.7 78.3 L911.5 78.2 L913.3 78.1 L915.0 78.1 L916.8 78.1 L918.6 78.2 L920.3 78.3 L922.1 78.4 L923.9 78.6 L925.7 78.8 L927.4 79.0 L929.2 79.2 L931.0 79.5 L932.8 79.7 L934.5 80.0 L936.3 80.4 L938.1 80.8 L939.9 81.2 L941.6 81.7 L943.4 82.1 L945.2 82.7 L946.9 83.2 L948.7 83.8 L950.5 84.3 L952.3 84.9 L954.0 85.4 L955.8 85.9 L957.6 86.5 L959.4 87.0 L961.1 87.4 L962.9 87.9 L964.7 88.4 L966.4 88.8 L968.2 89.3 L970.0 89.8 L971.8 90.2 L973.5 90.7 L975.3 91.1 L977.1 91.6 L978.9 92.0 L980.6 92.4 L982.4 92.8 L984.2 93.1 L986.0 93.4 L987.7 93.7 L989.5 94.0 L991.3 94.2 L993.0 94.4 L994.8 94.6 L996.6 94.8 L998.4 95.0 L1000.1 95.1 L1001.9 95.3 L1003.7 95.5 L1005.5 95.7 L1007.2 95.9 L1009.0 96.1 L1010.8 96.3 L1012.5 96.5 L1014.3 96.6 L1016.1 96.8 L1017.9 96.9 L1019.6 97.0 L1021.4 97.1 L1023.2 97.3 L1025.0 97.4 L1026.7 97.4 L1028.5 97.5 L1030.3 97.6 L1032.1 97.7 L1033.8 97.7 L1035.6 97.8"/>
<path class="ko" d="M1035.6 98.0 L1035.6 99.8 L1035.8 101.5 L1036.4 103.3 L1037.9 105.1 L1040.7 106.9 L1044.7 108.6 L1049.4 110.4 L1054.3 112.2 L1059.1 114.0 L1063.7 115.7 L1068.4 117.5 L1072.8 119.3 L1075.9 121.1 L1077.8 122.8 L1079.7 124.6 L1082.2 126.4 L1084.6 128.1 L1086.1 129.9 L1086.1 131.7 L1085.1 133.5 L1083.4 135.2 L1080.9 137.0 L1077.2 138.8 L1072.5 140.6 L1067.5 142.3 L1063.0 144.1 L1058.8 145.9 L1054.7 147.6 L1050.7 149.4 L1047.4 151.2 L1045.1 153.0 L1043.4 154.7 L1041.7 156.5 L1040.0 158.3 L1038.6 160.1 L1037.5 161.8 L1036.7 163.6 L1036.1 165.4 L1035.8 167.2 L1035.7 168.9 L1035.6 170.7 L1035.6 172.5 L1035.6 174.2 L1035.6 176.0 L1035.6 177.8 L1035.6 179.6 L1035.6 181.3 L1035.6 183.1 L1035.6 184.9 L1035.6 186.7 L1035.6 188.4 L1035.6 190.2 L1035.6 192.0 L1035.6 193.7 L1035.6 195.5 L1035.6 197.3 L1035.6 199.1 L1035.6 200.8 L1035.6 202.6 L1035.6 204.4 L1035.6 206.2 L1035.6 207.9 L1035.6 209.7 L1035.6 211.5 L1035.6 213.3 L1035.6 215.0 L1035.6 216.8 L1035.6 218.6 L1035.6 220.3 L1035.6 222.1 L1035.6 223.9 L1035.6 225.7 L1035.6 227.4 L1035.6 229.2 L1035.6 231.0 L1035.6 232.8 L1035.6 234.5 L1035.6 236.3 L1035.6 238.1 L1035.6 239.8 L1035.6 241.6 L1035.6 243.4 L1035.6 245.2 L1035.6 246.9 L1035.6 248.7 L1035.6 250.5 L1035.6 252.3 L1035.6 254.0 L1035.6 255.8 L1035.6 257.6 L1035.6 259.4 L1035.6 261.1 L1035.6 262.9 L1035.6 264.7 L1035.6 266.4 L1035.6 268.2 L1035.6 270.0 L1035.6 271.8 L1035.6 273.5 L1035.6 275.3 L1035.6 277.1 L1035.6 278.9 L1035.6 280.6 L1035.6 282.4 L1035.6 284.2 L1035.6 285.9 L1035.6 287.7 L1035.6 289.5 L1035.6 291.3 L1035.6 293.0 L1035.6 294.8 L1035.6 296.6 L1035.6 298.4 L1035.6 300.1 L1035.6 301.9 L1035.6 303.7 L1035.6 305.5 L1035.6 307.2 L1035.6 309.0"/>
<rect x="825.1" y="98.5" width="211.0" height="211.0" class="ax"/>
<path class="kb" d="M1092.8 97.9 L1094.6 97.9 L1096.3 97.8 L1098.1 97.8 L1099.9 97.8 L1101.7 97.8 L1103.4 97.8 L1105.2 97.8 L1107.0 97.8 L1108.8 97.7 L1110.5 97.7 L1112.3 97.6 L1114.1 97.5 L1115.9 97.3 L1117.6 97.1 L1119.4 96.8 L1121.2 96.5 L1122.9 96.1 L1124.7 95.6 L1126.5 95.1 L1128.3 94.6 L1130.0 93.9 L1131.8 93.2 L1133.6 92.4 L1135.4 91.5 L1137.1 90.5 L1138.9 89.4 L1140.7 88.3 L1142.4 87.1 L1144.2 85.9 L1146.0 84.6 L1147.8 83.2 L1149.5 81.7 L1151.3 80.2 L1153.1 78.5 L1154.9 76.8 L1156.6 75.2 L1158.4 73.5 L1160.2 71.8 L1162.0 70.1 L1163.7 68.4 L1165.5 66.6 L1167.3 64.7 L1169.0 62.8 L1170.8 60.9 L1172.6 59.0 L1174.4 57.2 L1176.1 55.4 L1177.9 53.6 L1179.7 52.0 L1181.5 50.5 L1183.2 49.2 L1185.0 48.3 L1186.8 47.7 L1188.5 47.5 L1190.3 47.8 L1192.1 48.5 L1193.9 49.7 L1195.6 51.2 L1197.4 52.9 L1199.2 54.8 L1201.0 56.7 L1202.7 58.6 L1204.5 60.3 L1206.3 61.8 L1208.1 63.2 L1209.8 64.5 L1211.6 65.7 L1213.4 66.9 L1215.1 68.1 L1216.9 69.4 L1218.7 70.7 L1220.5 72.2 L1222.2 73.7 L1224.0 75.3 L1225.8 77.0 L1227.6 78.6 L1229.3 80.2 L1231.1 81.8 L1232.9 83.3 L1234.6 84.7 L1236.4 86.0 L1238.2 87.2 L1240.0 88.3 L1241.7 89.4 L1243.5 90.3 L1245.3 91.2 L1247.1 92.0 L1248.8 92.7 L1250.6 93.3 L1252.4 93.8 L1254.2 94.2 L1255.9 94.6 L1257.7 95.0 L1259.5 95.3 L1261.2 95.6 L1263.0 95.9 L1264.8 96.2 L1266.6 96.5 L1268.3 96.8 L1270.1 97.0 L1271.9 97.3 L1273.7 97.5 L1275.4 97.7 L1277.2 97.8 L1279.0 97.9 L1280.7 97.9 L1282.5 98.0 L1284.3 98.0 L1286.1 98.0 L1287.8 98.0 L1289.6 98.0 L1291.4 98.0 L1293.2 98.0 L1294.9 98.0 L1296.7 98.0 L1298.5 98.0 L1300.3 98.0 L1302.0 98.0 L1303.8 98.0"/>
<path class="kb" d="M1303.8 98.0 L1303.8 99.8 L1303.8 101.5 L1303.8 103.3 L1303.8 105.1 L1303.8 106.9 L1303.8 108.6 L1303.8 110.4 L1303.8 112.2 L1303.8 114.0 L1303.8 115.7 L1303.8 117.5 L1303.8 119.3 L1303.9 121.1 L1303.9 122.8 L1304.0 124.6 L1304.1 126.4 L1304.3 128.1 L1304.5 129.9 L1304.8 131.7 L1305.1 133.5 L1305.4 135.2 L1305.8 137.0 L1306.2 138.8 L1306.7 140.6 L1307.3 142.3 L1308.0 144.1 L1308.7 145.9 L1309.5 147.6 L1310.2 149.4 L1311.0 151.2 L1311.7 153.0 L1312.4 154.7 L1313.2 156.5 L1314.1 158.3 L1315.1 160.1 L1316.5 161.8 L1318.0 163.6 L1319.8 165.4 L1321.9 167.2 L1324.1 168.9 L1326.5 170.7 L1329.0 172.5 L1331.6 174.2 L1334.1 176.0 L1336.6 177.8 L1338.8 179.6 L1340.7 181.3 L1342.2 183.1 L1343.4 184.9 L1344.4 186.7 L1345.4 188.4 L1346.4 190.2 L1347.6 192.0 L1348.9 193.7 L1350.4 195.5 L1351.9 197.3 L1353.1 199.1 L1354.0 200.8 L1354.3 202.6 L1354.0 204.4 L1353.2 206.2 L1351.9 207.9 L1350.3 209.7 L1348.6 211.5 L1346.8 213.3 L1345.2 215.0 L1343.7 216.8 L1342.3 218.6 L1341.0 220.3 L1339.6 222.1 L1338.1 223.9 L1336.4 225.7 L1334.5 227.4 L1332.5 229.2 L1330.4 231.0 L1328.4 232.8 L1326.3 234.5 L1324.4 236.3 L1322.7 238.1 L1321.0 239.8 L1319.6 241.6 L1318.2 243.4 L1316.9 245.2 L1315.7 246.9 L1314.5 248.7 L1313.5 250.5 L1312.5 252.3 L1311.6 254.0 L1310.8 255.8 L1310.1 257.6 L1309.4 259.4 L1308.7 261.1 L1308.1 262.9 L1307.5 264.7 L1307.0 266.4 L1306.5 268.2 L1306.1 270.0 L1305.7 271.8 L1305.4 273.5 L1305.1 275.3 L1304.9 277.1 L1304.7 278.9 L1304.5 280.6 L1304.3 282.4 L1304.2 284.2 L1304.1 285.9 L1304.0 287.7 L1303.9 289.5 L1303.9 291.3 L1303.9 293.0 L1303.8 294.8 L1303.8 296.6 L1303.8 298.4 L1303.8 300.1 L1303.8 301.9 L1303.8 303.7 L1303.8 305.5 L1303.8 307.2 L1303.8 309.0"/>
<path class="ko" d="M1092.8 97.6 L1094.6 97.5 L1096.3 97.4 L1098.1 97.3 L1099.9 97.2 L1101.7 97.1 L1103.4 97.0 L1105.2 96.9 L1107.0 96.7 L1108.8 96.5 L1110.5 96.2 L1112.3 95.9 L1114.1 95.6 L1115.9 95.3 L1117.6 94.9 L1119.4 94.5 L1121.2 94.1 L1122.9 93.6 L1124.7 93.0 L1126.5 92.3 L1128.3 91.5 L1130.0 90.6 L1131.8 89.7 L1133.6 88.6 L1135.4 87.6 L1137.1 86.5 L1138.9 85.4 L1140.7 84.3 L1142.4 83.1 L1144.2 81.8 L1146.0 80.4 L1147.8 78.9 L1149.5 77.2 L1151.3 75.4 L1153.1 73.5 L1154.9 71.5 L1156.6 69.4 L1158.4 67.3 L1160.2 65.1 L1162.0 63.0 L1163.7 60.9 L1165.5 58.8 L1167.3 57.0 L1169.0 55.3 L1170.8 53.8 L1172.6 52.6 L1174.4 51.6 L1176.1 50.9 L1177.9 50.6 L1179.7 50.6 L1181.5 50.8 L1183.2 51.3 L1185.0 52.0 L1186.8 52.9 L1188.5 53.8 L1190.3 54.9 L1192.1 55.9 L1193.9 57.0 L1195.6 58.0 L1197.4 59.2 L1199.2 60.3 L1201.0 61.5 L1202.7 62.8 L1204.5 64.1 L1206.3 65.4 L1208.1 66.7 L1209.8 68.0 L1211.6 69.4 L1213.4 70.7 L1215.1 72.2 L1216.9 73.7 L1218.7 75.4 L1220.5 77.1 L1222.2 78.8 L1224.0 80.6 L1225.8 82.4 L1227.6 84.1 L1229.3 85.8 L1231.1 87.3 L1232.9 88.6 L1234.6 89.8 L1236.4 90.8 L1238.2 91.6 L1240.0 92.3 L1241.7 92.8 L1243.5 93.2 L1245.3 93.6 L1247.1 93.8 L1248.8 94.1 L1250.6 94.3 L1252.4 94.6 L1254.2 94.8 L1255.9 95.1 L1257.7 95.5 L1259.5 95.8 L1261.2 96.1 L1263.0 96.4 L1264.8 96.6 L1266.6 96.8 L1268.3 97.0 L1270.1 97.1 L1271.9 97.2 L1273.7 97.4 L1275.4 97.5 L1277.2 97.6 L1279.0 97.7 L1280.7 97.7 L1282.5 97.8 L1284.3 97.9 L1286.1 97.9 L1287.8 97.9 L1289.6 98.0 L1291.4 98.0 L1293.2 98.0 L1294.9 98.0 L1296.7 98.0 L1298.5 98.0 L1300.3 98.0 L1302.0 98.0 L1303.8 98.0"/>
<path class="ko" d="M1303.9 98.0 L1304.0 99.8 L1304.0 101.5 L1304.1 103.3 L1304.1 105.1 L1304.2 106.9 L1304.4 108.6 L1304.5 110.4 L1304.8 112.2 L1305.1 114.0 L1305.4 115.7 L1305.9 117.5 L1306.4 119.3 L1306.9 121.1 L1307.4 122.8 L1308.0 124.6 L1308.7 126.4 L1309.3 128.1 L1310.0 129.9 L1310.8 131.7 L1311.7 133.5 L1312.6 135.2 L1313.7 137.0 L1314.9 138.8 L1316.2 140.6 L1317.6 142.3 L1319.1 144.1 L1320.6 145.9 L1322.2 147.6 L1323.9 149.4 L1325.6 151.2 L1327.4 153.0 L1329.2 154.7 L1331.2 156.5 L1333.1 158.3 L1335.1 160.1 L1337.1 161.8 L1339.0 163.6 L1340.7 165.4 L1342.2 167.2 L1343.6 168.9 L1344.7 170.7 L1345.7 172.5 L1346.4 174.2 L1347.1 176.0 L1347.5 177.8 L1347.8 179.6 L1348.0 181.3 L1348.0 183.1 L1347.8 184.9 L1347.5 186.7 L1347.1 188.4 L1346.6 190.2 L1346.1 192.0 L1345.6 193.7 L1345.1 195.5 L1344.5 197.3 L1343.7 199.1 L1342.9 200.8 L1341.7 202.6 L1340.4 204.4 L1338.8 206.2 L1337.1 207.9 L1335.3 209.7 L1333.5 211.5 L1331.8 213.3 L1330.1 215.0 L1328.5 216.8 L1326.9 218.6 L1325.4 220.3 L1323.8 222.1 L1322.3 223.9 L1320.7 225.7 L1319.2 227.4 L1317.7 229.2 L1316.3 231.0 L1315.0 232.8 L1313.8 234.5 L1312.7 236.3 L1311.7 238.1 L1310.8 239.8 L1309.9 241.6 L1309.2 243.4 L1308.4 245.2 L1307.8 246.9 L1307.1 248.7 L1306.6 250.5 L1306.0 252.3 L1305.6 254.0 L1305.2 255.8 L1304.9 257.6 L1304.6 259.4 L1304.4 261.1 L1304.3 262.9 L1304.2 264.7 L1304.1 266.4 L1304.1 268.2 L1304.0 270.0 L1304.0 271.8 L1304.0 273.5 L1304.0 275.3 L1304.0 277.1 L1304.0 278.9 L1303.9 280.6 L1303.9 282.4 L1303.9 284.2 L1303.9 285.9 L1303.8 287.7 L1303.8 289.5 L1303.8 291.3 L1303.8 293.0 L1303.8 294.8 L1303.8 296.6 L1303.8 298.4 L1303.8 300.1 L1303.8 301.9 L1303.8 303.7 L1303.8 305.5 L1303.8 307.2 L1303.8 309.0"/>
<rect x="1093.3" y="98.5" width="211.0" height="211.0" class="ax"/>
<path class="kb" d="M1361.0 97.9 L1362.8 97.9 L1364.5 97.9 L1366.3 97.9 L1368.1 97.8 L1369.9 97.8 L1371.6 97.8 L1373.4 97.8 L1375.2 97.8 L1377.0 97.8 L1378.7 97.8 L1380.5 97.7 L1382.3 97.7 L1384.1 97.6 L1385.8 97.5 L1387.6 97.4 L1389.4 97.2 L1391.1 97.0 L1392.9 96.8 L1394.7 96.5 L1396.5 96.1 L1398.2 95.7 L1400.0 95.2 L1401.8 94.7 L1403.6 94.1 L1405.3 93.5 L1407.1 92.8 L1408.9 92.0 L1410.6 91.1 L1412.4 90.1 L1414.2 89.1 L1416.0 88.1 L1417.7 87.0 L1419.5 85.8 L1421.3 84.6 L1423.1 83.4 L1424.8 82.0 L1426.6 80.6 L1428.4 79.1 L1430.2 77.5 L1431.9 75.9 L1433.7 74.4 L1435.5 72.8 L1437.2 71.2 L1439.0 69.7 L1440.8 68.1 L1442.6 66.4 L1444.3 64.7 L1446.1 62.9 L1447.9 61.2 L1449.7 59.4 L1451.4 57.6 L1453.2 55.9 L1455.0 54.3 L1456.7 52.7 L1458.5 51.3 L1460.3 50.0 L1462.1 48.9 L1463.8 48.1 L1465.6 47.6 L1467.4 47.5 L1469.2 47.8 L1470.9 48.5 L1472.7 49.5 L1474.5 50.9 L1476.3 52.5 L1478.0 54.2 L1479.8 55.9 L1481.6 57.7 L1483.3 59.3 L1485.1 60.9 L1486.9 62.3 L1488.7 63.5 L1490.4 64.7 L1492.2 65.8 L1494.0 66.9 L1495.8 68.1 L1497.5 69.2 L1499.3 70.5 L1501.1 71.8 L1502.8 73.2 L1504.6 74.7 L1506.4 76.2 L1508.2 77.7 L1509.9 79.2 L1511.7 80.7 L1513.5 82.2 L1515.3 83.6 L1517.0 84.8 L1518.8 86.0 L1520.6 87.2 L1522.4 88.2 L1524.1 89.2 L1525.9 90.1 L1527.7 90.9 L1529.4 91.7 L1531.2 92.3 L1533.0 93.0 L1534.8 93.5 L1536.5 93.9 L1538.3 94.3 L1540.1 94.7 L1541.9 95.0 L1543.6 95.3 L1545.4 95.6 L1547.2 95.9 L1548.9 96.1 L1550.7 96.4 L1552.5 96.7 L1554.3 96.9 L1556.0 97.2 L1557.8 97.4 L1559.6 97.6 L1561.4 97.7 L1563.1 97.8 L1564.9 97.9 L1566.7 97.9 L1568.5 98.0 L1570.2 98.0 L1572.0 98.0"/>
<path class="kb" d="M1572.0 98.0 L1572.0 99.8 L1572.1 101.5 L1572.1 103.3 L1572.2 105.1 L1572.3 106.9 L1572.4 108.6 L1572.6 110.4 L1572.7 112.2 L1573.0 114.0 L1573.2 115.7 L1573.5 117.5 L1573.9 119.3 L1574.2 121.1 L1574.6 122.8 L1575.1 124.6 L1575.6 126.4 L1576.2 128.1 L1576.9 129.9 L1577.6 131.7 L1578.2 133.5 L1578.9 135.2 L1579.6 137.0 L1580.2 138.8 L1580.8 140.6 L1581.6 142.3 L1582.4 144.1 L1583.3 145.9 L1584.5 147.6 L1585.8 149.4 L1587.4 151.2 L1589.1 153.0 L1591.0 154.7 L1593.0 156.5 L1595.2 158.3 L1597.4 160.1 L1599.7 161.8 L1602.0 163.6 L1604.2 165.4 L1606.2 167.2 L1608.0 168.9 L1609.6 170.7 L1610.8 172.5 L1611.8 174.2 L1612.7 176.0 L1613.5 177.8 L1614.4 179.6 L1615.4 181.3 L1616.6 183.1 L1617.9 184.9 L1619.2 186.7 L1620.5 188.4 L1621.5 190.2 L1622.2 192.0 L1622.5 193.7 L1622.3 195.5 L1621.7 197.3 L1620.6 199.1 L1619.3 200.8 L1617.8 202.6 L1616.2 204.4 L1614.7 206.2 L1613.3 207.9 L1611.9 209.7 L1610.7 211.5 L1609.5 213.3 L1608.3 215.0 L1607.0 216.8 L1605.6 218.6 L1604.0 220.3 L1602.3 222.1 L1600.5 223.9 L1598.7 225.7 L1596.8 227.4 L1595.0 229.2 L1593.3 231.0 L1591.7 232.8 L1590.2 234.5 L1588.8 236.3 L1587.5 238.1 L1586.3 239.8 L1585.1 241.6 L1584.0 243.4 L1583.0 245.2 L1582.0 246.9 L1581.1 248.7 L1580.3 250.5 L1579.6 252.3 L1578.9 254.0 L1578.2 255.8 L1577.6 257.6 L1577.0 259.4 L1576.5 261.1 L1575.9 262.9 L1575.5 264.7 L1575.0 266.4 L1574.6 268.2 L1574.2 270.0 L1573.9 271.8 L1573.6 273.5 L1573.4 275.3 L1573.1 277.1 L1572.9 278.9 L1572.8 280.6 L1572.6 282.4 L1572.5 284.2 L1572.4 285.9 L1572.3 287.7 L1572.2 289.5 L1572.2 291.3 L1572.1 293.0 L1572.1 294.8 L1572.0 296.6 L1572.0 298.4 L1572.0 300.1 L1572.0 301.9 L1572.0 303.7 L1572.0 305.5 L1572.0 307.2 L1572.0 309.0"/>
<path class="ko" d="M1361.0 98.0 L1362.8 98.0 L1364.5 98.0 L1366.3 97.9 L1368.1 97.9 L1369.9 97.9 L1371.6 97.8 L1373.4 97.7 L1375.2 97.7 L1377.0 97.6 L1378.7 97.5 L1380.5 97.4 L1382.3 97.3 L1384.1 97.2 L1385.8 97.0 L1387.6 96.8 L1389.4 96.6 L1391.1 96.4 L1392.9 96.1 L1394.7 95.9 L1396.5 95.6 L1398.2 95.3 L1400.0 95.0 L1401.8 94.7 L1403.6 94.4 L1405.3 94.0 L1407.1 93.5 L1408.9 92.9 L1410.6 92.3 L1412.4 91.5 L1414.2 90.7 L1416.0 89.7 L1417.7 88.7 L1419.5 87.5 L1421.3 86.3 L1423.1 85.0 L1424.8 83.6 L1426.6 82.3 L1428.4 80.8 L1430.2 79.4 L1431.9 77.8 L1433.7 76.2 L1435.5 74.5 L1437.2 72.7 L1439.0 70.7 L1440.8 68.7 L1442.6 66.6 L1444.3 64.5 L1446.1 62.4 L1447.9 60.3 L1449.7 58.4 L1451.4 56.5 L1453.2 54.8 L1455.0 53.3 L1456.7 52.0 L1458.5 51.0 L1460.3 50.2 L1462.1 49.7 L1463.8 49.5 L1465.6 49.5 L1467.4 49.8 L1469.2 50.2 L1470.9 50.9 L1472.7 51.6 L1474.5 52.4 L1476.3 53.3 L1478.0 54.3 L1479.8 55.4 L1481.6 56.5 L1483.3 57.6 L1485.1 58.8 L1486.9 59.9 L1488.7 61.1 L1490.4 62.2 L1492.2 63.4 L1494.0 64.6 L1495.8 65.7 L1497.5 66.9 L1499.3 68.0 L1501.1 69.2 L1502.8 70.4 L1504.6 71.7 L1506.4 73.1 L1508.2 74.7 L1509.9 76.4 L1511.7 78.1 L1513.5 80.0 L1515.3 81.8 L1517.0 83.6 L1518.8 85.4 L1520.6 87.0 L1522.4 88.4 L1524.1 89.8 L1525.9 90.9 L1527.7 91.9 L1529.4 92.8 L1531.2 93.5 L1533.0 94.1 L1534.8 94.6 L1536.5 95.1 L1538.3 95.4 L1540.1 95.7 L1541.9 96.0 L1543.6 96.3 L1545.4 96.5 L1547.2 96.7 L1548.9 96.9 L1550.7 97.1 L1552.5 97.2 L1554.3 97.4 L1556.0 97.5 L1557.8 97.6 L1559.6 97.7 L1561.4 97.7 L1563.1 97.8 L1564.9 97.8 L1566.7 97.9 L1568.5 97.9 L1570.2 97.9 L1572.0 98.0"/>
<path class="ko" d="M1572.1 98.0 L1572.2 99.8 L1572.2 101.5 L1572.2 103.3 L1572.3 105.1 L1572.4 106.9 L1572.4 108.6 L1572.5 110.4 L1572.7 112.2 L1572.8 114.0 L1573.0 115.7 L1573.2 117.5 L1573.4 119.3 L1573.7 121.1 L1573.9 122.8 L1574.1 124.6 L1574.4 126.4 L1574.7 128.1 L1575.0 129.9 L1575.4 131.7 L1575.8 133.5 L1576.3 135.2 L1576.9 137.0 L1577.7 138.8 L1578.6 140.6 L1579.6 142.3 L1580.7 144.1 L1582.0 145.9 L1583.4 147.6 L1584.8 149.4 L1586.3 151.2 L1587.9 153.0 L1589.6 154.7 L1591.3 156.5 L1593.2 158.3 L1595.3 160.1 L1597.4 161.8 L1599.7 163.6 L1602.1 165.4 L1604.5 167.2 L1606.9 168.9 L1609.1 170.7 L1611.3 172.5 L1613.2 174.2 L1614.9 176.0 L1616.5 177.8 L1617.8 179.6 L1618.9 181.3 L1619.9 183.1 L1620.8 184.9 L1621.4 186.7 L1621.9 188.4 L1622.2 190.2 L1622.4 192.0 L1622.5 193.7 L1622.5 195.5 L1622.4 197.3 L1622.2 199.1 L1621.9 200.8 L1621.3 202.6 L1620.4 204.4 L1619.4 206.2 L1618.0 207.9 L1616.5 209.7 L1614.9 211.5 L1613.2 213.3 L1611.4 215.0 L1609.6 216.8 L1607.7 218.6 L1605.8 220.3 L1603.9 222.1 L1601.9 223.9 L1600.0 225.7 L1598.1 227.4 L1596.3 229.2 L1594.6 231.0 L1593.1 232.8 L1591.5 234.5 L1590.0 236.3 L1588.5 238.1 L1586.9 239.8 L1585.4 241.6 L1583.8 243.4 L1582.2 245.2 L1580.8 246.9 L1579.4 248.7 L1578.1 250.5 L1577.0 252.3 L1576.1 254.0 L1575.4 255.8 L1574.8 257.6 L1574.3 259.4 L1574.0 261.1 L1573.7 262.9 L1573.6 264.7 L1573.4 266.4 L1573.3 268.2 L1573.2 270.0 L1573.1 271.8 L1573.0 273.5 L1572.9 275.3 L1572.7 277.1 L1572.6 278.9 L1572.5 280.6 L1572.4 282.4 L1572.3 284.2 L1572.2 285.9 L1572.2 287.7 L1572.1 289.5 L1572.1 291.3 L1572.0 293.0 L1572.0 294.8 L1572.0 296.6 L1572.0 298.4 L1572.0 300.1 L1572.0 301.9 L1572.0 303.7 L1572.0 305.5 L1572.0 307.2 L1572.0 309.0"/>
<rect x="1361.5" y="98.5" width="211.0" height="211.0" class="ax"/>
<path class="kb" d="M20.0 366.7 L21.8 366.6 L23.5 366.5 L25.3 366.4 L27.1 366.2 L28.9 365.9 L30.6 365.6 L32.4 365.2 L34.2 364.7 L36.0 364.1 L37.7 363.4 L39.5 362.5 L41.3 361.4 L43.1 360.2 L44.8 358.7 L46.6 357.1 L48.4 355.2 L50.1 353.1 L51.9 350.9 L53.7 348.4 L55.5 345.7 L57.2 342.9 L59.0 340.0 L60.8 337.0 L62.6 334.0 L64.3 331.1 L66.1 328.3 L67.9 325.6 L69.6 323.2 L71.4 321.1 L73.2 319.3 L75.0 317.9 L76.7 317.0 L78.5 316.5 L80.3 316.5 L82.1 317.0 L83.8 317.9 L85.6 319.2 L87.4 320.9 L89.2 323.0 L90.9 325.4 L92.7 328.0 L94.5 330.8 L96.2 333.7 L98.0 336.7 L99.8 339.6 L101.6 342.5 L103.3 345.3 L105.1 348.0 L106.9 350.5 L108.7 352.8 L110.4 354.9 L112.2 356.8 L114.0 358.4 L115.7 359.9 L117.5 361.2 L119.3 362.3 L121.1 363.2 L122.8 363.9 L124.6 364.6 L126.4 365.0 L128.2 365.4 L129.9 365.7 L131.7 365.9 L133.5 366.1 L135.3 366.1 L137.0 366.1 L138.8 366.0 L140.6 365.9 L142.3 365.7 L144.1 365.5 L145.9 365.2 L147.7 364.8 L149.4 364.4 L151.2 363.9 L153.0 363.3 L154.8 362.6 L156.5 361.9 L158.3 361.1 L160.1 360.2 L161.8 359.2 L163.6 358.2 L165.4 357.1 L167.2 356.0 L168.9 354.8 L170.7 353.7 L172.5 352.6 L174.3 351.5 L176.0 350.6 L177.8 349.7 L179.6 348.9 L181.4 348.3 L183.1 347.9 L184.9 347.6 L186.7 347.5 L188.4 347.6 L190.2 347.9 L192.0 348.3 L193.8 348.9 L195.5 349.6 L197.3 350.4 L199.1 351.4 L200.9 352.4 L202.6 353.5 L204.4 354.6 L206.2 355.8 L207.9 356.9 L209.7 358.0 L211.5 359.0 L213.3 360.0 L215.0 361.0 L216.8 361.8 L218.6 362.6 L220.4 363.3 L222.1 363.9 L223.9 364.5 L225.7 364.9 L227.5 365.3 L229.2 365.7 L231.0 366.0"/>
<path class="kb" d="M231.4 367.0 L231.4 368.8 L231.5 370.5 L231.6 372.3 L231.7 374.1 L231.8 375.9 L231.9 377.6 L232.1 379.4 L232.3 381.2 L232.5 383.0 L232.7 384.7 L233.0 386.5 L233.4 388.3 L233.7 390.1 L234.2 391.8 L234.7 393.6 L235.2 395.4 L235.8 397.1 L236.5 398.9 L237.3 400.7 L238.1 402.5 L239.1 404.2 L240.2 406.0 L241.4 407.8 L242.8 409.6 L244.2 411.3 L245.7 413.1 L247.3 414.9 L248.9 416.6 L250.5 418.4 L252.1 420.2 L253.7 422.0 L255.4 423.7 L256.9 425.5 L258.5 427.3 L260.0 429.1 L261.4 430.8 L262.7 432.6 L264.0 434.4 L265.2 436.2 L266.3 437.9 L267.4 439.7 L268.5 441.5 L269.6 443.2 L270.7 445.0 L271.8 446.8 L272.8 448.6 L273.8 450.3 L274.5 452.1 L275.1 453.9 L275.5 455.7 L275.7 457.4 L275.7 459.2 L275.6 461.0 L275.3 462.7 L274.8 464.5 L274.3 466.3 L273.8 468.1 L273.1 469.8 L272.4 471.6 L271.6 473.4 L270.8 475.2 L269.8 476.9 L268.7 478.7 L267.5 480.5 L266.2 482.3 L264.8 484.0 L263.4 485.8 L262.0 487.6 L260.6 489.3 L259.2 491.1 L257.9 492.9 L256.6 494.7 L255.4 496.4 L254.2 498.2 L253.1 500.0 L251.9 501.8 L250.8 503.5 L249.8 505.3 L248.8 507.1 L247.8 508.8 L246.9 510.6 L246.1 512.4 L245.3 514.2 L244.5 515.9 L243.6 517.7 L242.8 519.5 L241.9 521.3 L240.9 523.0 L240.0 524.8 L239.0 526.6 L238.0 528.4 L237.1 530.1 L236.2 531.9 L235.4 533.7 L234.7 535.4 L234.2 537.2 L233.7 539.0 L233.3 540.8 L232.9 542.5 L232.7 544.3 L232.5 546.1 L232.3 547.9 L232.1 549.6 L232.0 551.4 L231.9 553.2 L231.8 554.9 L231.7 556.7 L231.6 558.5 L231.5 560.3 L231.4 562.0 L231.4 563.8 L231.3 565.6 L231.3 567.4 L231.3 569.1 L231.2 570.9 L231.2 572.7 L231.2 574.5 L231.2 576.2 L231.2 578.0"/>
<path class="ko" d="M20.0 366.8 L21.8 366.7 L23.5 366.6 L25.3 366.5 L27.1 366.3 L28.9 366.0 L30.6 365.7 L32.4 365.3 L34.2 364.8 L36.0 364.3 L37.7 363.5 L39.5 362.7 L41.3 361.6 L43.1 360.4 L44.8 359.0 L46.6 357.4 L48.4 355.6 L50.1 353.6 L51.9 351.4 L53.7 349.0 L55.5 346.4 L57.2 343.7 L59.0 340.9 L60.8 338.0 L62.6 335.2 L64.3 332.3 L66.1 329.6 L67.9 327.0 L69.6 324.7 L71.4 322.6 L73.2 320.9 L75.0 319.6 L76.7 318.7 L78.5 318.3 L80.3 318.3 L82.1 318.8 L83.8 319.8 L85.6 321.2 L87.4 323.0 L89.2 325.2 L90.9 327.7 L92.7 330.4 L94.5 333.2 L96.2 336.2 L98.0 339.1 L99.8 342.1 L101.6 344.9 L103.3 347.7 L105.1 350.2 L106.9 352.6 L108.7 354.8 L110.4 356.7 L112.2 358.4 L114.0 359.9 L115.7 361.2 L117.5 362.3 L119.3 363.2 L121.1 364.0 L122.8 364.6 L124.6 365.1 L126.4 365.5 L128.2 365.7 L129.9 365.9 L131.7 366.1 L133.5 366.1 L135.3 366.1 L137.0 366.0 L138.8 365.8 L140.6 365.6 L142.3 365.3 L144.1 365.0 L145.9 364.5 L147.7 364.0 L149.4 363.4 L151.2 362.7 L153.0 361.9 L154.8 361.0 L156.5 360.0 L158.3 359.0 L160.1 357.8 L161.8 356.7 L163.6 355.4 L165.4 354.1 L167.2 352.8 L168.9 351.6 L170.7 350.3 L172.5 349.2 L174.3 348.1 L176.0 347.1 L177.8 346.3 L179.6 345.7 L181.4 345.2 L183.1 344.9 L184.9 344.8 L186.7 344.9 L188.4 345.2 L190.2 345.7 L192.0 346.4 L193.8 347.2 L195.5 348.2 L197.3 349.3 L199.1 350.5 L200.9 351.7 L202.6 353.0 L204.4 354.3 L206.2 355.6 L207.9 356.9 L209.7 358.1 L211.5 359.2 L213.3 360.3 L215.0 361.2 L216.8 362.1 L218.6 362.9 L220.4 363.6 L222.1 364.2 L223.9 364.7 L225.7 365.1 L227.5 365.5 L229.2 365.8 L231.0 366.1"/>
<path class="ko" d="M231.0 367.0 L231.0 368.8 L231.0 370.5 L231.0 372.3 L231.0 374.1 L231.0 375.9 L231.0 377.6 L231.0 379.4 L231.1 381.2 L231.1 383.0 L231.2 384.7 L231.3 386.5 L231.5 388.3 L231.6 390.1 L231.8 391.8 L232.1 393.6 L232.3 395.4 L232.6 397.1 L232.9 398.9 L233.2 400.7 L233.6 402.5 L234.1 404.2 L234.6 406.0 L235.3 407.8 L236.1 409.6 L237.0 411.3 L238.1 413.1 L239.4 414.9 L240.7 416.6 L242.2 418.4 L243.8 420.2 L245.4 422.0 L247.2 423.7 L249.0 425.5 L251.0 427.3 L253.1 429.1 L255.4 430.8 L257.9 432.6 L260.6 434.4 L263.4 436.2 L266.3 437.9 L269.3 439.7 L272.1 441.5 L274.7 443.2 L276.9 445.0 L278.7 446.8 L280.0 448.6 L280.8 450.3 L281.3 452.1 L281.5 453.9 L281.5 455.7 L281.4 457.4 L281.3 459.2 L281.1 461.0 L280.9 462.7 L280.7 464.5 L280.3 466.3 L279.9 468.1 L279.2 469.8 L278.4 471.6 L277.4 473.4 L276.2 475.2 L274.7 476.9 L273.1 478.7 L271.4 480.5 L269.7 482.3 L267.8 484.0 L266.1 485.8 L264.3 487.6 L262.7 489.3 L261.1 491.1 L259.5 492.9 L258.0 494.7 L256.5 496.4 L255.0 498.2 L253.6 500.0 L252.2 501.8 L250.9 503.5 L249.7 505.3 L248.5 507.1 L247.4 508.8 L246.4 510.6 L245.5 512.4 L244.7 514.2 L243.9 515.9 L243.1 517.7 L242.5 519.5 L241.8 521.3 L241.2 523.0 L240.6 524.8 L240.0 526.6 L239.3 528.4 L238.6 530.1 L237.9 531.9 L237.2 533.7 L236.5 535.4 L235.8 537.2 L235.2 539.0 L234.7 540.8 L234.1 542.5 L233.6 544.3 L233.2 546.1 L232.7 547.9 L232.4 549.6 L232.0 551.4 L231.8 553.2 L231.5 554.9 L231.4 556.7 L231.3 558.5 L231.3 560.3 L231.2 562.0 L231.2 563.8 L231.2 565.6 L231.2 567.4 L231.2 569.1 L231.2 570.9 L231.1 572.7 L231.1 574.5 L231.1 576.2 L231.1 578.0"/>
<rect x="20.5" y="367.5" width="211.0" height="211.0" class="ax"/>
<path class="kb" d="M288.2 366.3 L290.0 366.1 L291.7 365.9 L293.5 365.6 L295.3 365.2 L297.1 364.8 L298.8 364.2 L300.6 363.6 L302.4 362.8 L304.2 361.9 L305.9 360.9 L307.7 359.7 L309.5 358.3 L311.3 356.7 L313.0 355.0 L314.8 353.0 L316.6 350.9 L318.3 348.6 L320.1 346.2 L321.9 343.7 L323.7 341.0 L325.4 338.3 L327.2 335.6 L329.0 332.8 L330.8 330.2 L332.5 327.6 L334.3 325.3 L336.1 323.1 L337.8 321.2 L339.6 319.5 L341.4 318.2 L343.2 317.3 L344.9 316.7 L346.7 316.5 L348.5 316.7 L350.3 317.3 L352.0 318.3 L353.8 319.6 L355.6 321.3 L357.4 323.2 L359.1 325.4 L360.9 327.7 L362.7 330.3 L364.4 332.9 L366.2 335.6 L368.0 338.3 L369.8 341.0 L371.5 343.6 L373.3 346.1 L375.1 348.5 L376.9 350.8 L378.6 352.8 L380.4 354.8 L382.2 356.5 L383.9 358.1 L385.7 359.5 L387.5 360.7 L389.3 361.8 L391.0 362.7 L392.8 363.5 L394.6 364.1 L396.4 364.7 L398.1 365.1 L399.9 365.5 L401.7 365.7 L403.5 365.9 L405.2 366.0 L407.0 366.0 L408.8 366.0 L410.5 365.9 L412.3 365.8 L414.1 365.5 L415.9 365.2 L417.6 364.8 L419.4 364.3 L421.2 363.8 L423.0 363.1 L424.7 362.3 L426.5 361.4 L428.3 360.4 L430.0 359.3 L431.8 358.1 L433.6 356.8 L435.4 355.5 L437.1 354.1 L438.9 352.7 L440.7 351.3 L442.5 349.9 L444.2 348.6 L446.0 347.4 L447.8 346.4 L449.6 345.6 L451.3 344.9 L453.1 344.4 L454.9 344.2 L456.6 344.3 L458.4 344.5 L460.2 345.1 L462.0 345.8 L463.7 346.7 L465.5 347.8 L467.3 349.0 L469.1 350.3 L470.8 351.7 L472.6 353.1 L474.4 354.5 L476.1 355.9 L477.9 357.3 L479.7 358.5 L481.5 359.7 L483.2 360.8 L485.0 361.8 L486.8 362.7 L488.6 363.4 L490.3 364.1 L492.1 364.7 L493.9 365.2 L495.7 365.6 L497.4 365.9 L499.2 366.1"/>
<path class="kb" d="M499.4 367.0 L499.5 368.8 L499.5 370.5 L499.6 372.3 L499.6 374.1 L499.7 375.9 L499.8 377.6 L499.8 379.4 L499.9 381.2 L500.1 383.0 L500.2 384.7 L500.4 386.5 L500.6 388.3 L500.8 390.1 L501.1 391.8 L501.4 393.6 L501.7 395.4 L502.1 397.1 L502.5 398.9 L503.0 400.7 L503.5 402.5 L504.1 404.2 L504.8 406.0 L505.5 407.8 L506.4 409.6 L507.3 411.3 L508.2 413.1 L509.2 414.9 L510.2 416.6 L511.2 418.4 L512.2 420.2 L513.3 422.0 L514.3 423.7 L515.3 425.5 L516.3 427.3 L517.2 429.1 L518.2 430.8 L519.0 432.6 L519.9 434.4 L520.7 436.2 L521.4 437.9 L522.2 439.7 L522.9 441.5 L523.7 443.2 L524.5 445.0 L525.3 446.8 L526.0 448.6 L526.6 450.3 L527.2 452.1 L527.6 453.9 L527.8 455.7 L527.9 457.4 L527.9 459.2 L527.8 461.0 L527.6 462.7 L527.3 464.5 L526.9 466.3 L526.6 468.1 L526.1 469.8 L525.7 471.6 L525.2 473.4 L524.6 475.2 L524.0 476.9 L523.3 478.7 L522.6 480.5 L521.8 482.3 L520.9 484.0 L520.0 485.8 L519.0 487.6 L517.9 489.3 L516.9 491.1 L515.8 492.9 L514.7 494.7 L513.7 496.4 L512.8 498.2 L511.9 500.0 L511.2 501.8 L510.5 503.5 L509.8 505.3 L509.2 507.1 L508.7 508.8 L508.1 510.6 L507.4 512.4 L506.8 514.2 L506.1 515.9 L505.5 517.7 L504.8 519.5 L504.1 521.3 L503.4 523.0 L502.8 524.8 L502.3 526.6 L501.8 528.4 L501.3 530.1 L501.0 531.9 L500.7 533.7 L500.4 535.4 L500.2 537.2 L500.1 539.0 L500.0 540.8 L499.9 542.5 L499.8 544.3 L499.7 546.1 L499.6 547.9 L499.6 549.6 L499.5 551.4 L499.5 553.2 L499.4 554.9 L499.4 556.7 L499.4 558.5 L499.4 560.3 L499.3 562.0 L499.3 563.8 L499.3 565.6 L499.3 567.4 L499.3 569.1 L499.3 570.9 L499.3 572.7 L499.2 574.5 L499.2 576.2 L499.2 578.0"/>
<path class="ko" d="M288.2 365.3 L290.0 364.9 L291.7 364.5 L293.5 364.0 L295.3 363.5 L297.1 362.9 L298.8 362.3 L300.6 361.5 L302.4 360.7 L304.2 359.9 L305.9 358.9 L307.7 357.9 L309.5 356.8 L311.3 355.6 L313.0 354.4 L314.8 353.1 L316.6 351.7 L318.3 350.3 L320.1 348.8 L321.9 347.4 L323.7 345.9 L325.4 344.4 L327.2 342.9 L329.0 341.5 L330.8 340.2 L332.5 338.9 L334.3 337.7 L336.1 336.7 L337.8 335.8 L339.6 335.0 L341.4 334.5 L343.2 334.1 L344.9 333.9 L346.7 333.9 L348.5 334.1 L350.3 334.5 L352.0 335.1 L353.8 335.9 L355.6 336.8 L357.4 337.9 L359.1 339.1 L360.9 340.4 L362.7 341.8 L364.4 343.3 L366.2 344.8 L368.0 346.3 L369.8 347.8 L371.5 349.3 L373.3 350.8 L375.1 352.2 L376.9 353.6 L378.6 354.9 L380.4 356.1 L382.2 357.2 L383.9 358.3 L385.7 359.3 L387.5 360.1 L389.3 360.9 L391.0 361.5 L392.8 362.1 L394.6 362.5 L396.4 362.8 L398.1 363.0 L399.9 363.1 L401.7 363.1 L403.5 362.9 L405.2 362.7 L407.0 362.3 L408.8 361.8 L410.5 361.2 L412.3 360.5 L414.1 359.6 L415.9 358.7 L417.6 357.7 L419.4 356.6 L421.2 355.4 L423.0 354.1 L424.7 352.8 L426.5 351.4 L428.3 350.1 L430.0 348.7 L431.8 347.3 L433.6 346.0 L435.4 344.7 L437.1 343.5 L438.9 342.3 L440.7 341.3 L442.5 340.5 L444.2 339.7 L446.0 339.1 L447.8 338.7 L449.6 338.4 L451.3 338.3 L453.1 338.4 L454.9 338.7 L456.6 339.1 L458.4 339.7 L460.2 340.5 L462.0 341.4 L463.7 342.4 L465.5 343.5 L467.3 344.8 L469.1 346.1 L470.8 347.5 L472.6 348.9 L474.4 350.3 L476.1 351.7 L477.9 353.1 L479.7 354.5 L481.5 355.8 L483.2 357.1 L485.0 358.3 L486.8 359.4 L488.6 360.4 L490.3 361.4 L492.1 362.2 L493.9 363.0 L495.7 363.6 L497.4 364.2 L499.2 364.7"/>
<path class="ko" d="M499.2 367.0 L499.2 368.8 L499.2 370.5 L499.2 372.3 L499.2 374.1 L499.2 375.9 L499.2 377.6 L499.2 379.4 L499.2 381.2 L499.2 383.0 L499.2 384.7 L499.2 386.5 L499.2 388.3 L499.2 390.1 L499.2 391.8 L499.2 393.6 L499.2 395.4 L499.2 397.1 L499.2 398.9 L499.2 400.7 L499.2 402.5 L499.2 404.2 L499.2 406.0 L499.2 407.8 L499.2 409.6 L499.2 411.3 L499.2 413.1 L499.2 414.9 L499.2 416.6 L499.2 418.4 L499.2 420.2 L499.2 422.0 L499.2 423.7 L499.2 425.5 L499.2 427.3 L499.2 429.1 L499.2 430.8 L499.2 432.6 L499.2 434.4 L499.2 436.2 L499.2 437.9 L499.2 439.7 L499.2 441.5 L499.2 443.2 L499.2 445.0 L499.2 446.8 L499.2 448.6 L499.2 450.3 L499.3 452.1 L499.3 453.9 L499.5 455.7 L499.7 457.4 L500.1 459.2 L500.7 461.0 L501.6 462.7 L503.0 464.5 L504.8 466.3 L507.2 468.1 L510.2 469.8 L513.8 471.6 L518.1 473.4 L523.0 475.2 L528.3 476.9 L533.8 478.7 L539.0 480.5 L543.6 482.3 L547.1 484.0 L549.3 485.8 L549.7 487.6 L548.4 489.3 L545.6 491.1 L541.4 492.9 L536.4 494.7 L530.9 496.4 L525.4 498.2 L520.2 500.0 L515.6 501.8 L511.7 503.5 L508.6 505.3 L506.5 507.1 L505.3 508.8 L505.1 510.6 L506.0 512.4 L507.8 514.2 L510.7 515.9 L514.4 517.7 L518.9 519.5 L523.8 521.3 L528.8 523.0 L533.5 524.8 L537.6 526.6 L540.7 528.4 L542.5 530.1 L542.8 531.9 L541.6 533.7 L539.0 535.4 L535.2 537.2 L530.5 539.0 L525.4 540.8 L520.2 542.5 L515.4 544.3 L511.1 546.1 L507.5 547.9 L504.7 549.6 L502.7 551.4 L501.3 553.2 L500.4 554.9 L499.8 556.7 L499.5 558.5 L499.4 560.3 L499.3 562.0 L499.2 563.8 L499.2 565.6 L499.2 567.4 L499.2 569.1 L499.2 570.9 L499.2 572.7 L499.2 574.5 L499.2 576.2 L499.2 578.0"/>
<rect x="288.7" y="367.5" width="211.0" height="211.0" class="ax"/>
<path class="kb" d="M556.4 364.2 L558.2 363.5 L559.9 362.6 L561.7 361.5 L563.5 360.2 L565.3 358.7 L567.0 356.9 L568.8 354.9 L570.6 352.7 L572.4 350.2 L574.1 347.5 L575.9 344.7 L577.7 341.7 L579.5 338.6 L581.2 335.4 L583.0 332.3 L584.8 329.3 L586.5 326.4 L588.3 323.8 L590.1 321.5 L591.9 319.6 L593.6 318.1 L595.4 317.1 L597.2 316.5 L599.0 316.5 L600.7 317.0 L602.5 318.0 L604.3 319.5 L606.0 321.4 L607.8 323.6 L609.6 326.2 L611.4 329.0 L613.1 332.0 L614.9 335.1 L616.7 338.2 L618.5 341.3 L620.2 344.3 L622.0 347.1 L623.8 349.8 L625.6 352.2 L627.3 354.5 L629.1 356.5 L630.9 358.3 L632.6 359.9 L634.4 361.2 L636.2 362.3 L638.0 363.3 L639.7 364.1 L641.5 364.7 L643.3 365.2 L645.1 365.6 L646.8 365.9 L648.6 366.0 L650.4 366.1 L652.1 366.1 L653.9 366.1 L655.7 365.9 L657.5 365.7 L659.2 365.4 L661.0 365.0 L662.8 364.5 L664.6 363.8 L666.3 363.1 L668.1 362.2 L669.9 361.2 L671.7 360.0 L673.4 358.8 L675.2 357.4 L677.0 355.9 L678.7 354.4 L680.5 352.9 L682.3 351.3 L684.1 349.9 L685.8 348.5 L687.6 347.3 L689.4 346.3 L691.2 345.5 L692.9 345.0 L694.7 344.8 L696.5 344.8 L698.2 345.2 L700.0 345.8 L701.8 346.7 L703.6 347.8 L705.3 349.1 L707.1 350.5 L708.9 352.1 L710.7 353.6 L712.4 355.2 L714.2 356.7 L716.0 358.1 L717.8 359.5 L719.5 360.7 L721.3 361.8 L723.1 362.8 L724.8 363.6 L726.6 364.3 L728.4 364.9 L730.2 365.4 L731.9 365.8 L733.7 366.1 L735.5 366.3 L737.3 366.5 L739.0 366.7 L740.8 366.8 L742.6 366.8 L744.3 366.9 L746.1 366.9 L747.9 367.0 L749.7 367.0 L751.4 367.0 L753.2 367.0 L755.0 367.0 L756.8 367.0 L758.5 367.0 L760.3 367.0 L762.1 367.0 L763.9 367.0 L765.6 367.0 L767.4 367.0"/>
<path class="kb" d="M767.7 367.0 L767.8 368.8 L767.8 370.5 L767.9 372.3 L768.0 374.1 L768.1 375.9 L768.2 377.6 L768.3 379.4 L768.5 381.2 L768.6 383.0 L768.9 384.7 L769.1 386.5 L769.4 388.3 L769.7 390.1 L770.1 391.8 L770.5 393.6 L771.0 395.4 L771.5 397.1 L772.1 398.9 L772.7 400.7 L773.5 402.5 L774.3 404.2 L775.3 406.0 L776.4 407.8 L777.5 409.6 L778.8 411.3 L780.2 413.1 L781.6 414.9 L783.0 416.6 L784.4 418.4 L785.9 420.2 L787.3 422.0 L788.8 423.7 L790.2 425.5 L791.6 427.3 L793.0 429.1 L794.3 430.8 L795.5 432.6 L796.7 434.4 L797.8 436.2 L798.9 437.9 L799.9 439.7 L801.0 441.5 L802.1 443.2 L803.2 445.0 L804.3 446.8 L805.4 448.6 L806.3 450.3 L807.0 452.1 L807.6 453.9 L808.0 455.7 L808.1 457.4 L808.1 459.2 L807.9 461.0 L807.6 462.7 L807.2 464.5 L806.7 466.3 L806.2 468.1 L805.5 469.8 L804.9 471.6 L804.2 473.4 L803.4 475.2 L802.5 476.9 L801.6 478.7 L800.6 480.5 L799.4 482.3 L798.2 484.0 L796.9 485.8 L795.4 487.6 L793.9 489.3 L792.4 491.1 L790.9 492.9 L789.4 494.7 L788.0 496.4 L786.7 498.2 L785.5 500.0 L784.4 501.8 L783.4 503.5 L782.5 505.3 L781.6 507.1 L780.8 508.8 L780.0 510.6 L779.1 512.4 L778.2 514.2 L777.2 515.9 L776.3 517.7 L775.3 519.5 L774.3 521.3 L773.4 523.0 L772.5 524.8 L771.7 526.6 L771.0 528.4 L770.4 530.1 L769.9 531.9 L769.5 533.7 L769.1 535.4 L768.9 537.2 L768.7 539.0 L768.5 540.8 L768.4 542.5 L768.2 544.3 L768.1 546.1 L768.0 547.9 L767.9 549.6 L767.8 551.4 L767.8 553.2 L767.7 554.9 L767.7 556.7 L767.6 558.5 L767.6 560.3 L767.6 562.0 L767.6 563.8 L767.6 565.6 L767.5 567.4 L767.5 569.1 L767.5 570.9 L767.5 572.7 L767.5 574.5 L767.4 576.2 L767.4 578.0"/>
<path class="ko" d="M556.4 362.1 L558.2 361.4 L559.9 360.7 L561.7 359.9 L563.5 359.1 L565.3 358.2 L567.0 357.4 L568.8 356.5 L570.6 355.6 L572.4 354.8 L574.1 353.9 L575.9 353.1 L577.7 352.3 L579.5 351.6 L581.2 350.9 L583.0 350.3 L584.8 349.7 L586.5 349.2 L588.3 348.7 L590.1 348.3 L591.9 348.0 L593.6 347.7 L595.4 347.5 L597.2 347.3 L599.0 347.2 L600.7 347.1 L602.5 347.0 L604.3 347.0 L606.0 347.1 L607.8 347.2 L609.6 347.3 L611.4 347.4 L613.1 347.6 L614.9 347.8 L616.7 348.1 L618.5 348.4 L620.2 348.7 L622.0 349.1 L623.8 349.5 L625.6 350.0 L627.3 350.5 L629.1 351.1 L630.9 351.7 L632.6 352.3 L634.4 353.0 L636.2 353.7 L638.0 354.5 L639.7 355.3 L641.5 356.1 L643.3 356.9 L645.1 357.7 L646.8 358.5 L648.6 359.2 L650.4 360.0 L652.1 360.7 L653.9 361.4 L655.7 362.0 L657.5 362.6 L659.2 363.1 L661.0 363.5 L662.8 363.9 L664.6 364.2 L666.3 364.4 L668.1 364.5 L669.9 364.6 L671.7 364.5 L673.4 364.4 L675.2 364.2 L677.0 363.9 L678.7 363.6 L680.5 363.1 L682.3 362.6 L684.1 362.0 L685.8 361.3 L687.6 360.5 L689.4 359.7 L691.2 358.8 L692.9 357.9 L694.7 356.9 L696.5 356.0 L698.2 354.9 L700.0 353.9 L701.8 352.9 L703.6 351.9 L705.3 351.0 L707.1 350.0 L708.9 349.1 L710.7 348.3 L712.4 347.5 L714.2 346.8 L716.0 346.1 L717.8 345.6 L719.5 345.0 L721.3 344.6 L723.1 344.3 L724.8 344.0 L726.6 343.8 L728.4 343.7 L730.2 343.6 L731.9 343.7 L733.7 343.8 L735.5 344.0 L737.3 344.3 L739.0 344.7 L740.8 345.1 L742.6 345.7 L744.3 346.3 L746.1 347.0 L747.9 347.8 L749.7 348.7 L751.4 349.6 L753.2 350.5 L755.0 351.5 L756.8 352.6 L758.5 353.6 L760.3 354.7 L762.1 355.7 L763.9 356.8 L765.6 357.8 L767.4 358.8"/>
<path class="ko" d="M767.4 367.0 L767.4 368.8 L767.4 370.5 L767.4 372.3 L767.4 374.1 L767.4 375.9 L767.4 377.6 L767.4 379.4 L767.4 381.2 L767.4 383.0 L767.4 384.7 L767.4 386.5 L767.4 388.3 L767.4 390.1 L767.4 391.8 L767.4 393.6 L767.4 395.4 L767.4 397.1 L767.4 398.9 L767.4 400.7 L767.4 402.5 L767.4 404.2 L767.4 406.0 L767.4 407.8 L767.4 409.6 L767.4 411.3 L767.4 413.1 L767.4 414.9 L767.4 416.6 L767.4 418.4 L767.4 420.2 L767.4 422.0 L767.4 423.7 L767.4 425.5 L767.4 427.3 L767.4 429.1 L767.4 430.8 L767.4 432.6 L767.4 434.4 L767.4 436.2 L767.4 437.9 L767.4 439.7 L767.4 441.5 L767.4 443.2 L767.4 445.0 L767.4 446.8 L767.5 448.6 L767.5 450.3 L767.6 452.1 L767.8 453.9 L768.1 455.7 L768.6 457.4 L769.3 459.2 L770.3 461.0 L771.7 462.7 L773.7 464.5 L776.1 466.3 L779.0 468.1 L782.4 469.8 L786.1 471.6 L790.0 473.4 L793.9 475.2 L797.6 476.9 L800.9 478.7 L803.8 480.5 L806.2 482.3 L808.0 484.0 L809.3 485.8 L810.1 487.6 L810.4 489.3 L810.4 491.1 L810.0 492.9 L809.3 494.7 L808.2 496.4 L806.8 498.2 L804.9 500.0 L802.7 501.8 L800.0 503.5 L796.9 505.3 L793.5 507.1 L789.9 508.8 L786.3 510.6 L782.9 512.4 L779.7 514.2 L777.0 515.9 L774.9 517.7 L773.5 519.5 L772.7 521.3 L772.8 523.0 L773.6 524.8 L775.2 526.6 L777.6 528.4 L780.7 530.1 L784.4 531.9 L788.6 533.7 L793.1 535.4 L797.6 537.2 L802.1 539.0 L806.2 540.8 L809.8 542.5 L812.9 544.3 L815.2 546.1 L816.9 547.9 L817.8 549.6 L817.9 551.4 L817.2 553.2 L815.8 554.9 L813.6 556.7 L810.6 558.5 L806.9 560.3 L802.6 562.0 L798.0 563.8 L793.3 565.6 L788.6 567.4 L784.2 569.1 L780.3 570.9 L776.9 572.7 L774.2 574.5 L772.1 576.2 L770.5 578.0"/>
<rect x="556.9" y="367.5" width="211.0" height="211.0" class="ax"/>
<path class="kb" d="M824.6 367.0 L826.4 367.0 L828.1 367.0 L829.9 367.0 L831.7 367.0 L833.5 367.0 L835.2 366.9 L837.0 366.9 L838.8 366.9 L840.6 366.8 L842.3 366.8 L844.1 366.7 L845.9 366.6 L847.7 366.5 L849.4 366.3 L851.2 366.1 L853.0 365.8 L854.7 365.4 L856.5 364.9 L858.3 364.3 L860.1 363.6 L861.8 362.7 L863.6 361.7 L865.4 360.4 L867.2 358.9 L868.9 357.2 L870.7 355.3 L872.5 353.1 L874.2 350.6 L876.0 348.0 L877.8 345.2 L879.6 342.2 L881.3 339.1 L883.1 336.0 L884.9 332.8 L886.7 329.8 L888.4 326.9 L890.2 324.3 L892.0 321.9 L893.8 319.9 L895.5 318.3 L897.3 317.2 L899.1 316.6 L900.8 316.5 L902.6 316.9 L904.4 317.8 L906.2 319.2 L907.9 321.1 L909.7 323.3 L911.5 325.8 L913.3 328.6 L915.0 331.6 L916.8 334.6 L918.6 337.7 L920.3 340.8 L922.1 343.8 L923.9 346.7 L925.7 349.4 L927.4 351.9 L929.2 354.2 L931.0 356.2 L932.8 358.0 L934.5 359.6 L936.3 361.0 L938.1 362.2 L939.9 363.2 L941.6 364.0 L943.4 364.6 L945.2 365.1 L946.9 365.5 L948.7 365.8 L950.5 366.0 L952.3 366.1 L954.0 366.1 L955.8 366.1 L957.6 366.0 L959.4 365.7 L961.1 365.4 L962.9 365.1 L964.7 364.6 L966.4 363.9 L968.2 363.2 L970.0 362.3 L971.8 361.3 L973.5 360.2 L975.3 359.0 L977.1 357.6 L978.9 356.2 L980.6 354.7 L982.4 353.1 L984.2 351.6 L986.0 350.1 L987.7 348.7 L989.5 347.5 L991.3 346.4 L993.0 345.6 L994.8 345.1 L996.6 344.8 L998.4 344.8 L1000.1 345.1 L1001.9 345.7 L1003.7 346.6 L1005.5 347.7 L1007.2 348.9 L1009.0 350.3 L1010.8 351.8 L1012.5 353.4 L1014.3 354.9 L1016.1 356.4 L1017.9 357.9 L1019.6 359.2 L1021.4 360.5 L1023.2 361.6 L1025.0 362.6 L1026.7 363.5 L1028.5 364.2 L1030.3 364.8 L1032.1 365.3 L1033.8 365.7 L1035.6 366.0"/>
<path class="kb" d="M1035.9 367.0 L1035.9 368.8 L1036.0 370.5 L1036.0 372.3 L1036.1 374.1 L1036.2 375.9 L1036.3 377.6 L1036.4 379.4 L1036.5 381.2 L1036.6 383.0 L1036.8 384.7 L1037.0 386.5 L1037.2 388.3 L1037.5 390.1 L1037.8 391.8 L1038.1 393.6 L1038.4 395.4 L1038.8 397.1 L1039.3 398.9 L1039.8 400.7 L1040.3 402.5 L1040.9 404.2 L1041.6 406.0 L1042.3 407.8 L1043.1 409.6 L1043.9 411.3 L1044.7 413.1 L1045.5 414.9 L1046.3 416.6 L1047.1 418.4 L1047.9 420.2 L1048.7 422.0 L1049.5 423.7 L1050.2 425.5 L1050.9 427.3 L1051.6 429.1 L1052.2 430.8 L1052.8 432.6 L1053.3 434.4 L1053.9 436.2 L1054.4 437.9 L1055.0 439.7 L1055.6 441.5 L1056.1 443.2 L1056.7 445.0 L1057.2 446.8 L1057.6 448.6 L1057.9 450.3 L1058.1 452.1 L1058.2 453.9 L1058.2 455.7 L1058.1 457.4 L1058.0 459.2 L1057.8 461.0 L1057.5 462.7 L1057.3 464.5 L1057.0 466.3 L1056.6 468.1 L1056.2 469.8 L1055.8 471.6 L1055.3 473.4 L1054.8 475.2 L1054.2 476.9 L1053.5 478.7 L1052.8 480.5 L1052.1 482.3 L1051.3 484.0 L1050.6 485.8 L1049.9 487.6 L1049.1 489.3 L1048.4 491.1 L1047.7 492.9 L1047.0 494.7 L1046.4 496.4 L1045.8 498.2 L1045.2 500.0 L1044.7 501.8 L1044.2 503.5 L1043.7 505.3 L1043.2 507.1 L1042.8 508.8 L1042.3 510.6 L1041.8 512.4 L1041.3 514.2 L1040.8 515.9 L1040.2 517.7 L1039.7 519.5 L1039.1 521.3 L1038.6 523.0 L1038.2 524.8 L1037.7 526.6 L1037.4 528.4 L1037.1 530.1 L1036.8 531.9 L1036.6 533.7 L1036.5 535.4 L1036.4 537.2 L1036.3 539.0 L1036.2 540.8 L1036.1 542.5 L1036.0 544.3 L1036.0 546.1 L1035.9 547.9 L1035.9 549.6 L1035.8 551.4 L1035.8 553.2 L1035.8 554.9 L1035.8 556.7 L1035.7 558.5 L1035.7 560.3 L1035.7 562.0 L1035.7 563.8 L1035.7 565.6 L1035.7 567.4 L1035.7 569.1 L1035.7 570.9 L1035.6 572.7 L1035.6 574.5 L1035.6 576.2 L1035.6 578.0"/>
<path class="ko" d="M824.6 362.0 L826.4 360.3 L828.1 358.1 L829.9 355.7 L831.7 352.9 L833.5 350.0 L835.2 347.0 L837.0 344.1 L838.8 341.3 L840.6 338.7 L842.3 336.5 L844.1 334.6 L845.9 333.1 L847.7 332.0 L849.4 331.2 L851.2 330.8 L853.0 330.5 L854.7 330.4 L856.5 330.4 L858.3 330.5 L860.1 330.6 L861.8 330.6 L863.6 330.5 L865.4 330.3 L867.2 330.1 L868.9 329.7 L870.7 329.2 L872.5 328.7 L874.2 328.2 L876.0 327.7 L877.8 327.3 L879.6 327.1 L881.3 327.1 L883.1 327.2 L884.9 327.6 L886.7 328.1 L888.4 328.8 L890.2 329.7 L892.0 330.7 L893.8 331.9 L895.5 333.3 L897.3 334.9 L899.1 336.6 L900.8 338.5 L902.6 340.4 L904.4 342.3 L906.2 344.2 L907.9 346.1 L909.7 347.8 L911.5 349.5 L913.3 351.1 L915.0 352.6 L916.8 354.1 L918.6 355.5 L920.3 356.9 L922.1 358.3 L923.9 359.7 L925.7 360.9 L927.4 362.1 L929.2 363.2 L931.0 364.1 L932.8 364.8 L934.5 365.5 L936.3 365.9 L938.1 366.3 L939.9 366.5 L941.6 366.7 L943.4 366.8 L945.2 366.9 L946.9 366.9 L948.7 367.0 L950.5 367.0 L952.3 367.0 L954.0 367.0 L955.8 366.9 L957.6 366.9 L959.4 366.9 L961.1 366.8 L962.9 366.6 L964.7 366.5 L966.4 366.2 L968.2 365.9 L970.0 365.6 L971.8 365.1 L973.5 364.6 L975.3 364.0 L977.1 363.5 L978.9 362.9 L980.6 362.3 L982.4 361.9 L984.2 361.5 L986.0 361.3 L987.7 361.2 L989.5 361.3 L991.3 361.6 L993.0 361.9 L994.8 362.4 L996.6 362.9 L998.4 363.5 L1000.1 364.1 L1001.9 364.6 L1003.7 365.1 L1005.5 365.6 L1007.2 365.9 L1009.0 366.2 L1010.8 366.5 L1012.5 366.6 L1014.3 366.8 L1016.1 366.9 L1017.9 366.9 L1019.6 366.9 L1021.4 367.0 L1023.2 367.0 L1025.0 367.0 L1026.7 367.0 L1028.5 367.0 L1030.3 367.0 L1032.1 367.0 L1033.8 367.0 L1035.6 367.0"/>
<path class="ko" d="M1035.6 367.0 L1035.6 368.8 L1035.6 370.5 L1035.6 372.3 L1035.6 374.1 L1035.6 375.9 L1035.6 377.6 L1035.6 379.4 L1035.6 381.2 L1035.6 383.0 L1035.6 384.7 L1035.6 386.5 L1035.6 388.3 L1035.6 390.1 L1035.6 391.8 L1035.6 393.6 L1035.6 395.4 L1035.6 397.1 L1035.6 398.9 L1035.6 400.7 L1035.6 402.5 L1035.6 404.2 L1035.6 406.0 L1035.6 407.8 L1035.6 409.6 L1035.6 411.3 L1035.6 413.1 L1035.6 414.9 L1035.6 416.6 L1035.6 418.4 L1035.6 420.2 L1035.6 422.0 L1035.6 423.7 L1035.6 425.5 L1035.6 427.3 L1035.6 429.1 L1035.6 430.8 L1035.6 432.6 L1035.6 434.4 L1035.6 436.2 L1035.6 437.9 L1035.6 439.7 L1035.6 441.5 L1035.6 443.2 L1035.7 445.0 L1036.0 446.8 L1036.9 448.6 L1038.7 450.3 L1042.2 452.1 L1047.6 453.9 L1054.8 455.7 L1062.9 457.4 L1070.4 459.2 L1076.1 461.0 L1079.7 462.7 L1081.3 464.5 L1081.6 466.3 L1081.4 468.1 L1081.2 469.8 L1081.6 471.6 L1082.7 473.4 L1084.2 475.2 L1085.5 476.9 L1086.1 478.7 L1085.5 480.5 L1083.8 482.3 L1081.0 484.0 L1077.2 485.8 L1072.6 487.6 L1067.4 489.3 L1062.3 491.1 L1057.7 492.9 L1053.5 494.7 L1049.6 496.4 L1045.8 498.2 L1042.4 500.0 L1039.7 501.8 L1037.7 503.5 L1036.6 505.3 L1036.0 507.1 L1035.7 508.8 L1035.6 510.6 L1035.6 512.4 L1035.7 514.2 L1035.9 515.9 L1036.3 517.7 L1037.0 519.5 L1038.1 521.3 L1039.5 523.0 L1041.0 524.8 L1042.2 526.6 L1042.8 528.4 L1042.5 530.1 L1041.5 531.9 L1040.0 533.7 L1038.6 535.4 L1037.3 537.2 L1036.5 539.0 L1036.0 540.8 L1035.8 542.5 L1035.6 544.3 L1035.6 546.1 L1035.6 547.9 L1035.6 549.6 L1035.6 551.4 L1035.6 553.2 L1035.6 554.9 L1035.6 556.7 L1035.6 558.5 L1035.6 560.3 L1035.6 562.0 L1035.6 563.8 L1035.6 565.6 L1035.6 567.4 L1035.6 569.1 L1035.6 570.9 L1035.6 572.7 L1035.6 574.5 L1035.6 576.2 L1035.6 578.0"/>
<rect x="825.1" y="367.5" width="211.0" height="211.0" class="ax"/>
<path class="kb" d="M1092.8 367.0 L1094.6 367.0 L1096.3 367.0 L1098.1 367.0 L1099.9 367.0 L1101.7 367.0 L1103.4 367.0 L1105.2 367.0 L1107.0 367.0 L1108.8 367.0 L1110.5 367.0 L1112.3 367.0 L1114.1 367.0 L1115.9 367.0 L1117.6 367.0 L1119.4 367.0 L1121.2 366.9 L1122.9 366.9 L1124.7 366.8 L1126.5 366.6 L1128.3 366.4 L1130.0 366.0 L1131.8 365.5 L1133.6 364.7 L1135.4 363.6 L1137.1 362.0 L1138.9 359.9 L1140.7 357.2 L1142.4 353.8 L1144.2 349.7 L1146.0 345.1 L1147.8 340.1 L1149.5 335.0 L1151.3 330.0 L1153.1 325.3 L1154.9 321.4 L1156.6 318.5 L1158.4 316.8 L1160.2 316.5 L1162.0 317.5 L1163.7 319.9 L1165.5 323.4 L1167.3 327.7 L1169.0 332.5 L1170.8 337.6 L1172.6 342.6 L1174.4 347.2 L1176.1 351.5 L1177.9 355.1 L1179.7 358.1 L1181.5 360.4 L1183.2 362.2 L1185.0 363.3 L1186.8 363.9 L1188.5 364.0 L1190.3 363.7 L1192.1 362.9 L1193.9 361.8 L1195.6 360.3 L1197.4 358.5 L1199.2 356.4 L1201.0 354.1 L1202.7 351.8 L1204.5 349.7 L1206.3 347.9 L1208.1 346.6 L1209.8 346.0 L1211.6 346.0 L1213.4 346.7 L1215.1 347.9 L1216.9 349.7 L1218.7 351.7 L1220.5 353.9 L1222.2 356.2 L1224.0 358.4 L1225.8 360.3 L1227.6 362.0 L1229.3 363.4 L1231.1 364.5 L1232.9 365.3 L1234.6 365.9 L1236.4 366.4 L1238.2 366.6 L1240.0 366.8 L1241.7 366.9 L1243.5 366.9 L1245.3 367.0 L1247.1 367.0 L1248.8 367.0 L1250.6 367.0 L1252.4 367.0 L1254.2 367.0 L1255.9 367.0 L1257.7 367.0 L1259.5 367.0 L1261.2 367.0 L1263.0 367.0 L1264.8 367.0 L1266.6 367.0 L1268.3 367.0 L1270.1 367.0 L1271.9 367.0 L1273.7 367.0 L1275.4 367.0 L1277.2 367.0 L1279.0 367.0 L1280.7 367.0 L1282.5 367.0 L1284.3 367.0 L1286.1 367.0 L1287.8 367.0 L1289.6 367.0 L1291.4 367.0 L1293.2 367.0 L1294.9 367.0 L1296.7 367.0 L1298.5 367.0 L1300.3 367.0 L1302.0 367.0 L1303.8 367.0"/>
<path class="kb" d="M1304.2 367.0 L1304.4 368.8 L1304.5 370.5 L1304.7 372.3 L1304.9 374.1 L1305.1 375.9 L1305.5 377.6 L1305.9 379.4 L1306.4 381.2 L1307.1 383.0 L1307.8 384.7 L1308.7 386.5 L1309.7 388.3 L1311.0 390.1 L1312.5 391.8 L1314.3 393.6 L1316.4 395.4 L1318.8 397.1 L1321.2 398.9 L1323.8 400.7 L1326.3 402.5 L1328.9 404.2 L1331.5 406.0 L1334.0 407.8 L1336.5 409.6 L1338.8 411.3 L1341.0 413.1 L1343.1 414.9 L1345.2 416.6 L1347.2 418.4 L1349.3 420.2 L1351.2 422.0 L1352.8 423.7 L1353.8 425.5 L1354.3 427.3 L1354.3 429.1 L1353.8 430.8 L1353.1 432.6 L1352.1 434.4 L1351.0 436.2 L1349.8 437.9 L1348.5 439.7 L1347.1 441.5 L1345.4 443.2 L1343.4 445.0 L1340.8 446.8 L1337.9 448.6 L1334.7 450.3 L1331.5 452.1 L1328.6 453.9 L1326.2 455.7 L1324.1 457.4 L1322.3 459.2 L1320.5 461.0 L1318.8 462.7 L1317.0 464.5 L1315.2 466.3 L1313.5 468.1 L1311.9 469.8 L1310.4 471.6 L1309.1 473.4 L1308.0 475.2 L1307.1 476.9 L1306.3 478.7 L1305.7 480.5 L1305.3 482.3 L1304.9 484.0 L1304.7 485.8 L1304.5 487.6 L1304.3 489.3 L1304.2 491.1 L1304.2 492.9 L1304.1 494.7 L1304.0 496.4 L1304.0 498.2 L1303.9 500.0 L1303.9 501.8 L1303.9 503.5 L1303.8 505.3 L1303.8 507.1 L1303.8 508.8 L1303.8 510.6 L1303.8 512.4 L1303.8 514.2 L1303.8 515.9 L1303.8 517.7 L1303.8 519.5 L1303.8 521.3 L1303.8 523.0 L1303.8 524.8 L1303.8 526.6 L1303.8 528.4 L1303.8 530.1 L1303.8 531.9 L1303.8 533.7 L1303.8 535.4 L1303.8 537.2 L1303.8 539.0 L1303.8 540.8 L1303.8 542.5 L1303.8 544.3 L1303.8 546.1 L1303.8 547.9 L1303.8 549.6 L1303.8 551.4 L1303.8 553.2 L1303.8 554.9 L1303.8 556.7 L1303.8 558.5 L1303.8 560.3 L1303.8 562.0 L1303.8 563.8 L1303.8 565.6 L1303.8 567.4 L1303.8 569.1 L1303.8 570.9 L1303.8 572.7 L1303.8 574.5 L1303.8 576.2 L1303.8 578.0"/>
<path class="ko" d="M1092.8 367.0 L1094.6 367.0 L1096.3 366.9 L1098.1 366.9 L1099.9 366.9 L1101.7 366.8 L1103.4 366.8 L1105.2 366.7 L1107.0 366.6 L1108.8 366.5 L1110.5 366.4 L1112.3 366.3 L1114.1 366.1 L1115.9 365.8 L1117.6 365.5 L1119.4 365.2 L1121.2 364.9 L1122.9 364.5 L1124.7 364.2 L1126.5 363.9 L1128.3 363.6 L1130.0 363.3 L1131.8 363.0 L1133.6 362.6 L1135.4 362.2 L1137.1 361.7 L1138.9 361.2 L1140.7 360.6 L1142.4 359.8 L1144.2 359.0 L1146.0 357.9 L1147.8 356.8 L1149.5 355.5 L1151.3 354.0 L1153.1 352.5 L1154.9 351.0 L1156.6 349.5 L1158.4 348.1 L1160.2 346.7 L1162.0 345.4 L1163.7 344.1 L1165.5 342.9 L1167.3 341.8 L1169.0 340.7 L1170.8 339.6 L1172.6 338.7 L1174.4 338.0 L1176.1 337.4 L1177.9 337.2 L1179.7 337.2 L1181.5 337.5 L1183.2 337.9 L1185.0 338.5 L1186.8 339.1 L1188.5 339.6 L1190.3 340.2 L1192.1 340.7 L1193.9 341.2 L1195.6 341.9 L1197.4 342.7 L1199.2 343.6 L1201.0 344.7 L1202.7 345.9 L1204.5 347.2 L1206.3 348.5 L1208.1 349.8 L1209.8 351.0 L1211.6 352.2 L1213.4 353.2 L1215.1 354.2 L1216.9 355.1 L1218.7 355.9 L1220.5 356.7 L1222.2 357.5 L1224.0 358.3 L1225.8 359.1 L1227.6 359.9 L1229.3 360.7 L1231.1 361.5 L1232.9 362.3 L1234.6 363.1 L1236.4 363.8 L1238.2 364.4 L1240.0 364.9 L1241.7 365.3 L1243.5 365.7 L1245.3 365.9 L1247.1 366.1 L1248.8 366.3 L1250.6 366.4 L1252.4 366.5 L1254.2 366.6 L1255.9 366.6 L1257.7 366.7 L1259.5 366.7 L1261.2 366.8 L1263.0 366.8 L1264.8 366.8 L1266.6 366.9 L1268.3 366.9 L1270.1 366.9 L1271.9 366.9 L1273.7 366.9 L1275.4 366.9 L1277.2 366.9 L1279.0 366.9 L1280.7 366.9 L1282.5 366.9 L1284.3 366.9 L1286.1 366.9 L1287.8 366.9 L1289.6 366.9 L1291.4 366.9 L1293.2 366.9 L1294.9 366.9 L1296.7 366.9 L1298.5 366.9 L1300.3 366.9 L1302.0 367.0 L1303.8 367.0"/>
<path class="ko" d="M1303.8 367.0 L1303.9 368.8 L1303.9 370.5 L1303.9 372.3 L1303.9 374.1 L1304.0 375.9 L1304.0 377.6 L1304.1 379.4 L1304.1 381.2 L1304.2 383.0 L1304.3 384.7 L1304.4 386.5 L1304.6 388.3 L1304.7 390.1 L1304.9 391.8 L1305.1 393.6 L1305.2 395.4 L1305.3 397.1 L1305.4 398.9 L1305.5 400.7 L1305.7 402.5 L1305.9 404.2 L1306.2 406.0 L1306.6 407.8 L1307.0 409.6 L1307.6 411.3 L1308.3 413.1 L1309.1 414.9 L1309.9 416.6 L1310.8 418.4 L1311.8 420.2 L1312.8 422.0 L1314.0 423.7 L1315.3 425.5 L1316.7 427.3 L1318.2 429.1 L1319.7 430.8 L1321.2 432.6 L1322.8 434.4 L1324.3 436.2 L1325.7 437.9 L1327.1 439.7 L1328.5 441.5 L1329.8 443.2 L1331.2 445.0 L1332.6 446.8 L1334.1 448.6 L1335.6 450.3 L1337.0 452.1 L1338.4 453.9 L1339.6 455.7 L1340.6 457.4 L1341.5 459.2 L1342.2 461.0 L1342.7 462.7 L1343.0 464.5 L1343.1 466.3 L1342.9 468.1 L1342.7 469.8 L1342.2 471.6 L1341.7 473.4 L1341.1 475.2 L1340.5 476.9 L1339.7 478.7 L1338.8 480.5 L1337.8 482.3 L1336.7 484.0 L1335.5 485.8 L1334.3 487.6 L1333.0 489.3 L1331.6 491.1 L1330.0 492.9 L1328.3 494.7 L1326.4 496.4 L1324.5 498.2 L1322.5 500.0 L1320.6 501.8 L1318.8 503.5 L1317.1 505.3 L1315.7 507.1 L1314.3 508.8 L1313.1 510.6 L1312.1 512.4 L1311.2 514.2 L1310.4 515.9 L1309.7 517.7 L1309.0 519.5 L1308.5 521.3 L1307.9 523.0 L1307.4 524.8 L1307.0 526.6 L1306.6 528.4 L1306.3 530.1 L1306.0 531.9 L1305.7 533.7 L1305.5 535.4 L1305.3 537.2 L1305.1 539.0 L1304.9 540.8 L1304.7 542.5 L1304.5 544.3 L1304.3 546.1 L1304.2 547.9 L1304.1 549.6 L1304.0 551.4 L1303.9 553.2 L1303.9 554.9 L1303.8 556.7 L1303.8 558.5 L1303.8 560.3 L1303.8 562.0 L1303.8 563.8 L1303.8 565.6 L1303.8 567.4 L1303.8 569.1 L1303.8 570.9 L1303.8 572.7 L1303.8 574.5 L1303.8 576.2 L1303.8 578.0"/>
<rect x="1093.3" y="367.5" width="211.0" height="211.0" class="ax"/>
<path class="kb" d="M1361.0 361.3 L1362.8 360.1 L1364.5 358.8 L1366.3 357.2 L1368.1 355.5 L1369.9 353.5 L1371.6 351.4 L1373.4 349.1 L1375.2 346.6 L1377.0 343.9 L1378.7 341.2 L1380.5 338.4 L1382.3 335.5 L1384.1 332.7 L1385.8 329.9 L1387.6 327.3 L1389.4 324.8 L1391.1 322.6 L1392.9 320.6 L1394.7 319.0 L1396.5 317.8 L1398.2 316.9 L1400.0 316.5 L1401.8 316.5 L1403.6 317.0 L1405.3 317.8 L1407.1 319.1 L1408.9 320.7 L1410.6 322.7 L1412.4 324.9 L1414.2 327.4 L1416.0 330.1 L1417.7 332.8 L1419.5 335.6 L1421.3 338.5 L1423.1 341.3 L1424.8 344.0 L1426.6 346.6 L1428.4 349.1 L1430.2 351.4 L1431.9 353.6 L1433.7 355.5 L1435.5 357.2 L1437.2 358.8 L1439.0 360.2 L1440.8 361.4 L1442.6 362.4 L1444.3 363.2 L1446.1 364.0 L1447.9 364.6 L1449.7 365.1 L1451.4 365.5 L1453.2 365.8 L1455.0 366.1 L1456.7 366.3 L1458.5 366.5 L1460.3 366.6 L1462.1 366.7 L1463.8 366.7 L1465.6 366.7 L1467.4 366.7 L1469.2 366.7 L1470.9 366.7 L1472.7 366.6 L1474.5 366.5 L1476.3 366.4 L1478.0 366.2 L1479.8 366.0 L1481.6 365.7 L1483.3 365.4 L1485.1 365.1 L1486.9 364.6 L1488.7 364.1 L1490.4 363.6 L1492.2 362.9 L1494.0 362.2 L1495.8 361.4 L1497.5 360.5 L1499.3 359.5 L1501.1 358.5 L1502.8 357.4 L1504.6 356.3 L1506.4 355.1 L1508.2 354.0 L1509.9 352.8 L1511.7 351.7 L1513.5 350.7 L1515.3 349.7 L1517.0 348.8 L1518.8 348.1 L1520.6 347.5 L1522.4 347.1 L1524.1 346.9 L1525.9 346.8 L1527.7 346.9 L1529.4 347.3 L1531.2 347.7 L1533.0 348.4 L1534.8 349.1 L1536.5 350.0 L1538.3 351.1 L1540.1 352.1 L1541.9 353.3 L1543.6 354.4 L1545.4 355.6 L1547.2 356.8 L1548.9 357.9 L1550.7 359.0 L1552.5 360.0 L1554.3 360.9 L1556.0 361.8 L1557.8 362.6 L1559.6 363.3 L1561.4 363.9 L1563.1 364.4 L1564.9 364.9 L1566.7 365.3 L1568.5 365.6 L1570.2 365.9 L1572.0 366.2"/>
<path class="kb" d="M1572.0 367.0 L1572.0 368.8 L1572.0 370.5 L1572.1 372.3 L1572.1 374.1 L1572.2 375.9 L1572.2 377.6 L1572.2 379.4 L1572.3 381.2 L1572.3 383.0 L1572.4 384.7 L1572.5 386.5 L1572.7 388.3 L1573.0 390.1 L1573.4 391.8 L1573.9 393.6 L1574.6 395.4 L1575.5 397.1 L1576.6 398.9 L1578.0 400.7 L1579.8 402.5 L1582.1 404.2 L1584.9 406.0 L1588.2 407.8 L1591.7 409.6 L1595.4 411.3 L1599.0 413.1 L1602.6 414.9 L1605.9 416.6 L1608.9 418.4 L1611.5 420.2 L1614.0 422.0 L1616.5 423.7 L1619.0 425.5 L1621.0 427.3 L1622.2 429.1 L1622.5 430.8 L1622.0 432.6 L1621.0 434.4 L1619.6 436.2 L1618.0 437.9 L1616.0 439.7 L1613.5 441.5 L1610.5 443.2 L1607.3 445.0 L1604.1 446.8 L1601.1 448.6 L1598.4 450.3 L1595.7 452.1 L1593.2 453.9 L1591.0 455.7 L1589.1 457.4 L1587.2 459.2 L1585.4 461.0 L1583.3 462.7 L1581.1 464.5 L1578.9 466.3 L1577.0 468.1 L1575.6 469.8 L1574.6 471.6 L1573.9 473.4 L1573.4 475.2 L1573.1 476.9 L1572.9 478.7 L1572.7 480.5 L1572.5 482.3 L1572.4 484.0 L1572.3 485.8 L1572.3 487.6 L1572.2 489.3 L1572.2 491.1 L1572.1 492.9 L1572.1 494.7 L1572.0 496.4 L1572.0 498.2 L1572.0 500.0 L1572.0 501.8 L1572.0 503.5 L1572.0 505.3 L1572.0 507.1 L1572.0 508.8 L1572.0 510.6 L1572.0 512.4 L1572.0 514.2 L1572.0 515.9 L1572.0 517.7 L1572.0 519.5 L1572.0 521.3 L1572.0 523.0 L1572.0 524.8 L1572.0 526.6 L1572.0 528.4 L1572.0 530.1 L1572.0 531.9 L1572.0 533.7 L1572.0 535.4 L1572.0 537.2 L1572.0 539.0 L1572.0 540.8 L1572.0 542.5 L1572.0 544.3 L1572.0 546.1 L1572.0 547.9 L1572.0 549.6 L1572.0 551.4 L1572.0 553.2 L1572.0 554.9 L1572.0 556.7 L1572.0 558.5 L1572.0 560.3 L1572.0 562.0 L1572.0 563.8 L1572.0 565.6 L1572.0 567.4 L1572.0 569.1 L1572.0 570.9 L1572.0 572.7 L1572.0 574.5 L1572.0 576.2 L1572.0 578.0"/>
<path class="ko" d="M1361.0 361.1 L1362.8 360.1 L1364.5 359.0 L1366.3 357.7 L1368.1 356.3 L1369.9 354.8 L1371.6 353.2 L1373.4 351.5 L1375.2 349.7 L1377.0 347.8 L1378.7 345.9 L1380.5 344.0 L1382.3 342.1 L1384.1 340.3 L1385.8 338.5 L1387.6 336.9 L1389.4 335.4 L1391.1 334.1 L1392.9 333.0 L1394.7 332.1 L1396.5 331.5 L1398.2 331.1 L1400.0 331.0 L1401.8 331.2 L1403.6 331.6 L1405.3 332.3 L1407.1 333.2 L1408.9 334.4 L1410.6 335.7 L1412.4 337.3 L1414.2 338.9 L1416.0 340.7 L1417.7 342.5 L1419.5 344.4 L1421.3 346.2 L1423.1 348.1 L1424.8 349.9 L1426.6 351.7 L1428.4 353.3 L1430.2 354.9 L1431.9 356.4 L1433.7 357.7 L1435.5 359.0 L1437.2 360.1 L1439.0 361.1 L1440.8 362.0 L1442.6 362.8 L1444.3 363.5 L1446.1 364.1 L1447.9 364.6 L1449.7 365.0 L1451.4 365.4 L1453.2 365.7 L1455.0 365.9 L1456.7 366.1 L1458.5 366.2 L1460.3 366.3 L1462.1 366.4 L1463.8 366.4 L1465.6 366.4 L1467.4 366.3 L1469.2 366.2 L1470.9 366.1 L1472.7 365.9 L1474.5 365.6 L1476.3 365.3 L1478.0 365.0 L1479.8 364.5 L1481.6 364.0 L1483.3 363.4 L1485.1 362.6 L1486.9 361.8 L1488.7 360.9 L1490.4 359.9 L1492.2 358.7 L1494.0 357.5 L1495.8 356.2 L1497.5 354.7 L1499.3 353.2 L1501.1 351.6 L1502.8 350.0 L1504.6 348.3 L1506.4 346.7 L1508.2 345.1 L1509.9 343.5 L1511.7 342.1 L1513.5 340.7 L1515.3 339.5 L1517.0 338.5 L1518.8 337.7 L1520.6 337.1 L1522.4 336.7 L1524.1 336.6 L1525.9 336.7 L1527.7 337.0 L1529.4 337.6 L1531.2 338.4 L1533.0 339.4 L1534.8 340.6 L1536.5 341.9 L1538.3 343.4 L1540.1 344.9 L1541.9 346.5 L1543.6 348.2 L1545.4 349.8 L1547.2 351.4 L1548.9 353.0 L1550.7 354.6 L1552.5 356.0 L1554.3 357.4 L1556.0 358.6 L1557.8 359.8 L1559.6 360.8 L1561.4 361.8 L1563.1 362.6 L1564.9 363.3 L1566.7 363.9 L1568.5 364.5 L1570.2 365.0 L1572.0 365.3"/>
<path class="ko" d="M1572.0 367.0 L1572.0 368.8 L1572.0 370.5 L1572.0 372.3 L1572.0 374.1 L1572.0 375.9 L1572.1 377.6 L1572.1 379.4 L1572.2 381.2 L1572.3 383.0 L1572.4 384.7 L1572.5 386.5 L1572.7 388.3 L1573.0 390.1 L1573.3 391.8 L1573.7 393.6 L1574.2 395.4 L1574.9 397.1 L1575.8 398.9 L1576.9 400.7 L1578.3 402.5 L1580.0 404.2 L1582.0 406.0 L1584.4 407.8 L1587.2 409.6 L1590.4 411.3 L1593.7 413.1 L1597.3 414.9 L1600.9 416.6 L1604.3 418.4 L1607.4 420.2 L1610.1 422.0 L1612.2 423.7 L1614.0 425.5 L1615.5 427.3 L1616.7 429.1 L1617.8 430.8 L1618.4 432.6 L1618.6 434.4 L1618.0 436.2 L1616.7 437.9 L1614.9 439.7 L1612.8 441.5 L1610.8 443.2 L1608.8 445.0 L1607.0 446.8 L1605.1 448.6 L1603.1 450.3 L1600.8 452.1 L1598.2 453.9 L1595.4 455.7 L1592.7 457.4 L1590.0 459.2 L1587.7 461.0 L1585.6 462.7 L1583.8 464.5 L1582.3 466.3 L1580.9 468.1 L1579.7 469.8 L1578.7 471.6 L1577.8 473.4 L1577.0 475.2 L1576.3 476.9 L1575.6 478.7 L1575.0 480.5 L1574.5 482.3 L1574.0 484.0 L1573.5 485.8 L1573.2 487.6 L1572.9 489.3 L1572.8 491.1 L1572.7 492.9 L1572.7 494.7 L1572.7 496.4 L1572.6 498.2 L1572.5 500.0 L1572.4 501.8 L1572.3 503.5 L1572.2 505.3 L1572.1 507.1 L1572.1 508.8 L1572.0 510.6 L1572.0 512.4 L1572.0 514.2 L1572.0 515.9 L1572.0 517.7 L1572.0 519.5 L1572.0 521.3 L1572.0 523.0 L1572.0 524.8 L1572.0 526.6 L1572.0 528.4 L1572.0 530.1 L1572.0 531.9 L1572.0 533.7 L1572.0 535.4 L1572.0 537.2 L1572.0 539.0 L1572.0 540.8 L1572.0 542.5 L1572.0 544.3 L1572.0 546.1 L1572.0 547.9 L1572.0 549.6 L1572.1 551.4 L1572.1 553.2 L1572.2 554.9 L1572.2 556.7 L1572.3 558.5 L1572.4 560.3 L1572.4 562.0 L1572.4 563.8 L1572.3 565.6 L1572.3 567.4 L1572.2 569.1 L1572.2 570.9 L1572.1 572.7 L1572.1 574.5 L1572.1 576.2 L1572.0 578.0"/>
<rect x="1361.5" y="367.5" width="211.0" height="211.0" class="ax"/>
<defs><filter id="bl1" x="-20%" y="-20%" width="140%" height="140%"><feGaussianBlur stdDeviation="0.9"/></filter><filter id="bl2" x="-20%" y="-20%" width="140%" height="140%"><feGaussianBlur stdDeviation="0.35"/></filter><filter id="bl3" x="-5%" y="-5%" width="110%" height="110%"><feGaussianBlur stdDeviation="0.6"/></filter><filter id="fbA" x="0" y="0" width="1" height="1"><feGaussianBlur stdDeviation="0.4"/></filter><filter id="fbB" x="0" y="0" width="1" height="1"><feGaussianBlur stdDeviation="0.9"/></filter>
<g id="fA"><g filter="url(#fbA)">
<rect x="-2.43056" y="-2.43056" width="104.861" height="104.861" fill="#ffffbe"/>
<path d="M-2.4 -2.4l8.5 0l-.2 6.2l-.7 1.9l-1.5 2.3l-1.2 1.5l-.7 .6l-.7 .2l-3.5 .1l0 -12.8zM17.3 -2.4l9.7 0l0 4.2l-.2 2.7l.2 2.1l1.2 1.3l1.9 1.5l.5 .7l-.3 .7l-3.1 3.5l-1.1 .9l-.7 .5l-2.1 .4l-2.8 1l-.7 0l-.7 -.4l-1.4 -1.3l-2 -1.4l-2.1 -.7l-5.2 -1.1l-1.3 -.7l-.5 -.7l-.2 -.7l.1 -3.5l.4 -1.4l.4 -.7l1.4 -1.3l1.4 -.8l1.4 -.2l3.5 0l1.5 -.4l.7 -.7l.1 -.7l0 -2.8zM38.1 -2.4l9.4 0l.1 3.5l.4 3.4l-.2 1.4l-.4 .7l-.5 .2l-2.1 .1l-5.5 1.7l-1.4 .1l-.9 -.7l-.2 -1.4l.1 -1.4l.2 -1.3l.9 -2.8l.1 -3.5zM60.5 -2.4l7.6 0l0 3.5l.3 .7l.7 1l1.4 .6l.6 .1l1.4 -.4l.7 -.6l.4 -1.4l0 -3.5l10.2 0l-.1 4.9l-.3 2l-.4 4.9l.3 3.5l-.1 1.4l-.2 .2l-.7 .1l-1.4 -.4l-1.3 -2l-2.9 -2.4l-1.4 -3.2l-.7 -.9l-.7 -.3l-1.4 .8l-.7 1.2l-.4 1.3l.1 1.4l.5 .7l2 2.1l1.3 2.5l.7 .6l2.1 1.2l.7 1.2l.3 1.4l.4 .6l2.4 2.2l.5 .7l.6 1.6l.5 .5l1.5 .5l1.1 .9l.4 .7l.3 2.7l.3 .5l1.4 .6l3 .3l1.2 .7l.7 1.4l.2 1.4l-.2 .5l-1.7 2.3l-.8 1.4l-.9 3.4l-.8 1.4l-1.4 1.6l-2.7 1.9l.5 .7l3.6 .7l2.1 .5l1.4 .2l.7 -.1l1.4 -.6l1.7 -2.1l1 -.8l1.4 -.3l3.5 0l0 12.9l0 6.8l-2.8 0l-2.1 -.2l-1.4 -.3l-1.1 -.7l-2.3 -2.4l-1.4 -.9l-1.4 -.6l-3.3 -1l-1 -.7l-1.5 -2.1l-1.1 -.9l-2.1 -.8l-1.8 -.4l-3.1 -1l-4.9 -.9l-2 -.8l-.7 .1l-.5 .6l-.6 2l0 2.8l1.1 2.3l0 1.3l-.7 0l-1.4 -1.7l-1.4 -.8l-2.1 -.1l-.8 -.3l0 -2.1l.4 -2.1l.1 -2l-.6 -1.4l-1.2 -2.1l0 -.7l1.9 -2.8l-.1 -1.4l-.5 -.7l-.6 -2l.1 -1.4l.6 -1.3l2.1 -2.2l1.1 -.7l3.1 -1.1l1.4 -.8l2.7 -2.8l2.1 -1.2l2.1 -1.8l1.4 -.5l.7 0l1.4 1l.7 .1l.5 -.5l-.1 -.7l-.4 -.3l-1.4 -.2l-.3 -.2l-.4 -.7l-.4 -2.1l-.5 -.7l-.7 -.7l-1.9 -1.2l-2.1 -2.5l-1.4 -.9l-3.4 -1.4l-1.4 -.8l-3 -2.9l-1.9 -4.2l-.9 -2.1l-.5 -2.1l-.2 -6.2zM93.9 -2.4l8.5 0l0 23.3l-.7 0l-2.8 0l-.7 -.2l-1.4 -1.6l-1.2 -2.8l-1.5 -1.6l-.8 -1.1l-.3 -7l.2 -2.1l.6 -2l.1 -4.9zM33.2 10.8l1.1 -.3l.7 .2l.2 .8l-.2 .4l-.7 -.1l-.7 -.3l-.4 -.7zM-2.4 14.9l0 -.5l2.8 0l.7 .2l.3 1l.5 3.5l.6 2l0 .8l-.7 .7l-4.2 .1l0 -7.8zM85.5 17l.3 -.2l1.3 .1l1.5 .8l1.5 2.1l.6 1.4l-.1 .7l-.7 .8l-.8 -.1l-1.5 -2.1l-1.8 -1.5l-.5 -1.3l.2 -.7zM47.3 19.1l1.7 -.3l2.1 0l1.4 .2l1.4 .8l1.6 2.8l1.8 1.1l2.1 .8l1.4 1l.8 1.2l.2 .7l.1 2.1l-.1 1.4l-.2 .7l-1.1 1.4l-1.7 2.8l-3.8 2.1l-.6 .6l-1.2 2.5l-4.2 5.3l-1.4 .8l-4.2 .8l-3.4 1.3l-.7 .4l-1.1 1.4l-.4 2.8l-.4 2.8l-.9 1.4l-1.4 .3l-1.8 -.3l-1.7 -.5l-1.4 -1l-1.2 -2l-1.6 -2.1l-.2 -1.4l.2 -.6l1.1 -1.4l.6 -1.4l1.1 -3.5l2 -4.2l1.5 -1.8l3 -2.3l.7 -1.4l.4 -2.1l.6 -2.1l.9 -1.4l5 -6.2l1.2 -2.1l.7 -.8l1.1 -.6zM98.2 25.3l.8 -.3l3.4 -.1l0 1.8l0 .4l-2.7 0l-1.4 -.2l-.4 -.2l0 -.7l.3 -.7zM67 26l.7 -.2l1.4 .2l.9 .7l.3 .7l-.1 .7l-.4 .4l-.7 .2l-1.4 -.4l-1 -.9l-.1 -.7l.4 -.7zM13.5 27.4l1.4 -.1l2.8 1.1l2.8 .3l.6 .2l.7 .8l1.1 1.9l1.7 2.1l.7 1.4l.2 1.3l.2 4.2l.4 2.8l-.1 1.4l-.7 2.6l-.7 1.2l-3.1 2.4l-1.7 2.4l-2.4 2.5l-1.1 1.6l-1.2 1.2l-2.4 1.3l-2 .9l-2.1 .6l-2.7 .4l-2.1 .4l-.7 .4l-1.1 1.5l-.3 .7l-.7 .4l-3.5 .2l0 -20.9l3.5 0l2.1 -.2l2.8 -1.3l4.4 -3.2l.9 -1.4l.7 -2.8l.9 -1.4l1.8 -2l.1 -.7l-.1 -1.4l-1.2 -2.1l.1 -.7zM17 33.3l-.4 .4l-.5 1.3l.5 4.2l-1.1 2.8l0 1.4l.8 1.4l.7 .4l1.4 -.1l.5 -.3l.7 -.7l.2 -.7l0 -.7l-.5 -2.1l-.4 -.7l-.1 -.7l1.2 -2.8l.1 -1.4l0 -.6l-1 -1.2l-.7 -.1l-1.4 .2zM97 35.8l1.3 -.2l4.1 0l0 2.5l-3.4 -.1l-1 -.1l-1.2 -.7l-.3 -.7l.5 -.7zM43.2 51l.2 -.5l.7 .2l.2 .3l-.1 .7l-.8 0l-.2 -.7zM22.3 58.7l.9 -.5l1.4 .4l1.6 .8l.6 .7l-.1 .3l-.3 .4l-1.1 .1l-2.8 -.8l-.4 -.7l.2 -.7zM43.1 59.4l1.7 -.1l2.7 .4l4.2 0l1.4 .3l1 .8l.5 .7l.2 2.8l1.8 .6l1.4 1l2 2.5l1.4 2.1l.7 2.1l.5 2.8l.5 1.4l1.1 1.2l.7 .1l1.4 -.2l3.5 -1.9l8.3 -2.1l3.5 .7l5.5 2.4l1.4 .2l2.1 0l2.1 -.7l2.1 -1.8l2.1 -1.4l2 -.3l3.5 0l0 9.5l-4.2 0l-2.7 .8l-2.1 1.1l-2.3 2.1l-1.2 .8l-2.8 1.1l-1.4 .9l-.8 .7l-.2 .7l.5 .6l3.2 2.8l-2 1.7l-1.1 1.8l-.2 1.4l0 3.5l-7.9 0l0 -9.8l-.5 -.7l-.7 -.1l-2.8 .3l-2.7 -.4l-1.4 .1l-1.4 .6l-1.8 2.3l-1 .9l-1.4 .5l-4.2 .4l-5.5 2.1l-.7 -.2l-.7 -.6l-2.2 -2.4l-1.3 -1.6l-.7 -.4l-1.4 .1l-1.3 .7l-.6 .5l-.6 .7l-.6 1.4l-.7 2.1l-.1 3.5l-11.4 0l-.2 -4.9l-.4 -.8l-.7 -.5l-.7 -.1l-.7 .4l-.3 1l0 4.9l-13.7 0l0 -3.5l-.2 -1.4l-1.2 -2.1l-.2 -.7l.3 -2.1l.7 -1.3l1.4 -1.3l4.2 -.5l2.1 -1l.5 -.7l-.1 -.7l-.5 -.4l-.6 -.2l-1.4 .1l-.7 .2l-2.8 2l-.7 .3l-.7 .2l-2.8 -.2l-2.1 .4l-1.5 1.1l-2.5 2.7l-.4 .7l.5 .7l3.9 3.1l.3 1.1l.1 3.5l-12.9 0l0 -7.9l4.2 -.1l1.5 -.4l-1.5 -.6l-4.2 -.1l0 -11.9l13.2 -.2l.7 -.1l3 -1.7l7.4 -2.1l1.4 -.2l2.1 .6l1.4 -.1l.3 -.2l.3 -.7l-.1 -.7l-1.2 -1.2l-1.4 -.3l-1.1 -.6l-.4 -.7l0 -.7l.3 -.7l.7 -.7l1.6 -.7l1 -.2l3.5 -.1l2.5 .3l1 .5l.6 .5l2.9 4.6l0 .7l-.3 .7l-2.2 2.7l-.5 2.1l0 2.1l.5 2.8l.4 1.4l.1 1.4l-.2 .7l-1 2l-.1 .7l.4 .7l.7 0l1 -.7l1.2 -2.1l2.1 -1.3l.7 -.7l1.5 -2.1l1.9 -1.3l.8 -.8l1.2 -2.8l1.9 -2.8l.6 -1.3l.4 -4.2l-.6 -3.5l.5 -2.1l.9 -.7l2.6 -1.3l.8 -.7l.5 -.7l-.6 -.5l-3.5 -1.2l-4.8 -.8l-1.3 -.3l-.7 -.7l-.3 -.7l.1 -.7l1.2 -.7zM55.9 85l-.2 .7l1.6 .2l5.5 -.2l3.5 .7l1.4 -.2l1 -.5l.3 -.7l-.6 -.5l-.7 -.1l-2.1 .3l-2.8 1l-.7 0l-.6 -.2l-.4 -.5l-2.4 -.5l-1.4 0l-1.4 .5zM51.7 88.2l-1.4 .9l-.7 .8l-.3 .7l0 .7l.3 .4l.7 0l.7 -.4l1.1 -1.4l.3 -1.4l-.7 -.3zM71.7 64.9l.8 -.2l.7 .1l1.4 .7l2 2.2l.2 .7l-.8 .2l-.7 -.2l-2.8 -1.4l-.8 -.7l-.2 -.7l.2 -.7zM5.8 74.7l1.5 -.1l1.4 .7l1.4 1.5l0 .7l-.7 .7l-1.5 .7l-5.5 1.4l-4.8 .1l0 -4.4l4.8 -.1l.7 -.1l2.7 -1.1zM98.8 87.8l3.7 -.1l0 14.7l-8.4 0l-1.1 0l0 -3.5l-.5 -2.1l-.8 -1.4l-1.5 -1.4l2.5 -1.5l3.5 -3.4l1.4 -.9l1.2 -.4zM73 98.3l1 -.1l.5 .8l.1 3.5l-.6 0l-1.6 0l.1 -3.5l.5 -.7z" fill="#fff0a6"/>
<path d="M-2.4 -2.4l8 0l0 3.5l-.2 2.1l-.7 2l-1.4 2.1l-.8 .9l-1.4 .6l-3.5 .1l0 -11.3zM17.9 -2.4l8.7 0l-.3 8.3l.5 1.4l2 2.1l.4 .7l-.1 .7l-.8 1.4l-1.6 2l-1 .8l-5.2 1.5l-.7 -.1l-.7 -.3l-2.1 -1.6l-1.4 -.7l-2.1 -.7l-4.3 -.9l-1.4 -.7l-.6 -.7l-.4 -1.4l.1 -2.1l.4 -1.4l.7 -1.4l1.3 -1.1l.7 -.4l1.4 -.3l4.2 -.2l1.8 -.7l.4 -.7l.1 -3.5zM38.6 -2.4l7.9 0l0 3.5l.7 2.8l.1 1.3l-.3 .7l-.8 .5l-2.1 .4l-3.1 1.2l-1.7 .4l-1.4 -.2l-.7 -.7l-.2 -1.6l.2 -1.5l1.3 -3.3l.1 -3.5zM60.9 -2.4l6.9 0l0 3.5l.6 1.4l1.4 1.1l2 .9l.4 .7l-.9 2.8l0 .7l.1 1.4l.3 .7l2 2.1l1.1 2.1l.6 .6l2.7 1.9l.6 .9l.6 2.1l.5 .7l1.9 1.4l.4 .7l.7 2.1l.9 .5l1.4 .3l.8 .6l.5 1.4l.1 2l.4 .7l1 .5l3.4 .5l.9 .4l.5 .6l.4 1.5l-.1 .7l-2.4 4.2l-1.4 4.2l-1.6 2l-3.2 2.1l0 .7l1.4 .4l2.7 .4l3.5 .8l1.4 -.1l1.4 -.5l2.1 -2.5l.7 -.5l1.4 -.3l3.4 0l0 19.2l-3.4 0l-2.2 -.2l-1.4 -.7l-3.4 -3.3l-1.4 -.7l-3.1 -.9l-1 -.6l-1.9 -2.2l-1.6 -1.1l-6.3 -2.2l-5.2 -.8l-1.3 -.7l-1.1 -1.1l-.7 -.5l-.7 .7l-.4 1.6l-.6 5.5l-.4 .2l-2.8 -.4l-.8 -.5l-.3 -1.4l.5 -4.1l-.4 -1.4l-.8 -2.1l0 -.7l1.4 -2.1l.3 -.7l-.1 -.7l-1.1 -2l-.5 -1.4l0 -.7l.5 -1.5l2.5 -2.7l1.1 -.7l2.6 -.9l1.4 -.8l2.8 -2.6l4.1 -2.9l.7 -.4l.7 0l2.1 .9l.7 .1l.8 -.3l.4 -.7l0 -.7l-.5 -.7l-2.1 -.7l-1.4 -3l-2.7 -1.9l-2.1 -2.5l-1.4 -.8l-3.5 -1.4l-1.2 -.8l-3 -2.8l-1.4 -2.8l-1.3 -3.6l-.5 -2.6l-.1 -5.6zM75 -2.4l8.6 0l0 4.2l-1 8.3l.4 3.5l-.6 .7l-.8 0l-.7 -.6l-.9 -1.5l-.5 -.6l-2.2 -1.5l-.5 -.7l-1.8 -5.6l0 -6.2zM94.2 -2.4l8.2 0l0 23l-1.4 0l-2.1 0l-.7 -.3l-.6 -.6l-.7 -1.1l-.8 -2.2l-.4 -.7l-1.6 -1.5l-.7 -1.3l-.2 -6.3l.2 -1.7l.5 -1.7l.2 -1.4l.1 -4.2zM85.7 17.7l.1 -.2l.7 -.4l1.5 .6l1.3 1.4l.6 1.1l.3 1l0 .7l-.3 .4l-.6 -.1l-1.3 -1.7l-2.2 -2l-.1 -.8zM48.7 19.1l2.6 0l1.6 .7l.6 .7l1.2 2.1l.5 .4l4.8 2.4l.8 .6l.6 1.4l.2 2.1l-.2 1.5l-3 4.8l-1.1 .7l-2.1 .9l-.5 .5l-.5 .6l-1.1 2.3l-4.2 5.2l-1.4 .9l-4.4 .7l-3.9 1.5l-1.1 1.2l-.7 3.5l-.4 2.1l-.6 1.2l-.7 .5l-1.4 .2l-2.6 -.5l-1.1 -.7l-.4 -.5l-.9 -1.6l-1.2 -1.4l-.7 -1.4l.1 -.7l1.2 -2l1.5 -4.4l2.3 -4.7l1.1 -1.5l3.3 -2.6l.7 -1.4l.3 -2.1l.6 -2l.7 -1.2l4.2 -5l2.3 -2.2l1.1 -1.9l1.9 -.9zM68.4 26l1.3 .7l.3 .7l-.1 .7l-.8 .3l-1.4 -.3l-.7 -.7l0 -.9l.7 -.5l.7 0zM98.4 26l.6 -.5l.7 -.1l2.7 0l0 1.3l-3.4 .1l-.3 -.1l-.3 -.7zM14.8 28.1l5 .9l1.2 .5l3.6 4.5l.7 2l.2 4.6l.4 2.8l-.6 3.4l-.7 1.5l-.6 .6l-1.5 1l-1.2 1.1l-1.5 2.1l-2.7 2.8l-1.5 2.1l-.7 .5l-4.2 2.2l-2.4 .7l-3.1 .4l-2.1 .4l-.7 .5l-1.4 1.9l-.7 .2l-2.8 0l0 -20.1l4.2 0l2.1 -.4l1.4 -.6l2.1 -1.2l3.5 -2.6l.8 -1.4l.7 -2.8l.5 -.8l2 -1.9l.5 -.7l0 -1.4l-.7 -2.1l.2 -.7zM17 32.8l-.7 .3l-.4 .6l-.1 2.1l.4 2.8l-.1 .7l-.9 2.7l0 1.4l.4 1.1l.7 .7l1.4 .2l.7 0l.7 -.4l.7 -.9l.2 -.7l.1 -.7l-.9 -3.4l1 -2.8l.1 -2.1l-.5 -1l-.7 -.5l-.7 -.2l-1.4 .1zM97.6 36.5l1.4 -.5l3.5 0l0 1.2l0 .3l-3.5 0l-1 -.3l-.4 -.7zM23 59.4l.2 -.4l.7 0l1.2 .4l.8 .7l-.6 .2l-1.6 -.2l-.7 -.7zM42.5 60.1l1.6 -.6l3.5 .4l3.4 -.1l1.4 .2l1.4 .8l.4 .7l.1 .7l-.5 1.1l-.7 .4l-1.4 .1l-4.1 -1.1l-4.2 -.5l-.9 -.7l-.2 -.7l.2 -.7zM53.8 65.6l1.4 -.4l1.4 .3l1.4 .8l.7 .7l2.1 2.8l.7 1.3l.7 2.3l.3 1.9l.5 1.4l.6 1l.7 .5l.7 .2l.7 -.1l4.4 -2.3l5.3 -1.4l2.8 -.5l3.2 .5l5.8 2.7l2.1 .1l1.4 -.1l1.4 -.3l1.3 -.7l2.7 -2.4l1.5 -.6l4.9 -.2l0 8.9l-4.2 .1l-3.5 1.2l-2.1 1.3l-2 2l-1 .5l-2.5 1l-2 1.1l-.8 .7l-.2 .7l.5 .7l2.2 2.1l.3 .7l-1.8 2.8l-.2 .6l-.3 1.4l0 3.5l-7.1 0l-.1 -7.6l.2 -2.8l-.1 -.7l-.3 -.3l-4.2 .9l-2.8 -.4l-1.4 .1l-1.4 .7l-1.9 2.5l-.8 .7l-1.4 .4l-4.2 .4l-4.8 1.2l-1.4 -.2l-1.6 -1.1l-1.1 -1.4l-.3 -.7l0 -.7l2.2 -2.8l1.2 -2.8l.6 -.7l1 -.4l2.1 -.2l8.4 .3l2 -.2l1.4 -.7l.6 -.9l-.3 -.6l-1 -.4l-4.8 .7l-5.6 -.7l-1.4 .1l-1.4 .5l-.8 .4l-1.3 1.4l-3.6 2.8l-.5 .7l-1 2.1l-.7 .7l-2.5 1.5l-.5 .6l-1.6 2.5l-1 .9l-.6 .7l-.1 3.5l-9 0l-.1 -4.2l-.3 -1.7l-.7 -.7l-2 -.8l-.7 .5l-.1 .7l0 6.2l-12.9 0l-.1 -4.2l-1.4 -3.4l-.1 -.7l.4 -1.4l1 -1.4l.7 -.4l4.8 -1.2l1.2 -.5l.9 -.6l.5 -.8l0 -.7l-.5 -.6l-1.4 -.4l-1.4 0l-1.4 .6l-2 1.4l-1.4 .6l-3.5 .2l-1.4 .4l-1.4 .8l-2.1 2.1l-1.4 .8l-7.6 -.1l0 -10.9l13.2 -.4l2.1 -.6l2.7 -1.5l6.3 -1.9l1.4 -.1l2.1 .5l1.4 .1l.8 -.7l.2 -.7l-.1 -.7l-.9 -1.3l-2.8 -1.4l-.2 -.8l.4 -.6l1 -.7l2.4 -.7l2.6 -.1l2.1 .3l1.2 .5l.8 .7l2.4 4.1l.1 .7l-.3 .7l-1.9 2.8l-.5 2.1l-.1 2.1l.8 4.8l-.3 1.4l-1 2.1l-.1 1.4l.3 .4l.7 .2l.7 -.1l.9 -.5l1.2 -2.1l.7 -.7l2 -1.4l2.1 -2.8l1.4 -.9l1.2 -1.2l.9 -2l2 -2.8l.6 -1.4l1.2 -5.6l-1 -2.1l0 -1.3l.2 -.7l.5 -.7l2.8 -1.3l2 -1.5zM72.3 65.6l.2 -.2l.7 0l.7 .2l.7 .7l.3 .7l-1 0l-.7 -.3l-.7 -.4l-.2 -.7zM4.9 75.3l1.7 -.4l1.4 .4l.8 .7l.5 .7l-.1 .7l-1 .7l-2 .7l-4.4 .8l-4.2 .1l0 -3.5l4.2 -.1l2.1 -.4l1 -.4zM97.8 88.5l1.1 -.3l3.5 0l0 14.2l-6.2 0l-3 0l0 -4.2l-.7 -2.1l-.8 -1.4l-.1 -.6l4.6 -4.5l1.6 -1.1zM-2.4 95.5l0 -.5l6.2 0l1.4 .3l.7 .3l2.8 2l.6 .7l.2 .7l.1 3.4l-12 0l0 -6.9z" fill="#fee08b"/>
<path d="M-2.4 -2.4l7.5 0l0 3.5l-.3 2.1l-.5 1.3l-1.1 1.7l-.7 .7l-1.4 .6l-3.5 .1l0 -10zM18.7 -2.4l7.4 0l0 4.2l-.3 4.1l.3 1.4l1.8 2.8l.1 .7l-.2 .7l-.7 1.4l-1 1.1l-.7 .4l-1.5 .6l-3.4 .7l-.7 -.1l-1.4 -.6l-2.1 -1.2l-1.4 -.5l-4.5 -1.1l-1.8 -.7l-.7 -.7l-.4 -.7l-.1 -1.4l.1 -1.4l.5 -1.4l.7 -1.1l1.1 -.9l1.7 -.6l4.8 -.4l1.2 -.4l.9 -.7l.2 -.7l.1 -3.5zM39.6 -2.4l5.2 0l.1 3.5l1.2 2.8l.1 .6l-.1 .7l-.7 .7l-2 .9l-3.4 1.3l-1.4 0l-1 -.8l-.2 -.7l0 -1.4l.5 -1.6l1.6 -2.5l.1 -3.5zM61.4 -2.4l6 0l0 3.5l.5 1.4l1.2 1.3l1.9 1.4l.3 .7l-.3 2.8l.2 1.4l.2 .7l2 2.1l1.6 2.8l1 .6l1.5 .8l.6 .6l1 3.5l.4 .4l1.8 1l.5 .7l.2 .7l-.1 .7l-.3 .4l-.7 .1l-.7 -.1l-.7 -.6l-1 -2.6l-2.7 -1.4l-2.5 -2.8l-.7 -.5l-2.8 -1l-2.3 -1.2l-1.7 -1.4l-1.2 -1.4l-1 -1.6l-2 -5.4l-.2 -2l0 -5.6zM76.3 -2.4l7 0l0 4.2l-.3 4l-.9 4.3l-.1 1.4l.1 1.4l-.5 .3l-1.5 -1.7l-2.2 -1.4l-.6 -.7l-.3 -.7l-.3 -1.4l-.3 -3.5l-.1 -6.2zM94.6 -2.4l7.8 0l0 22.5l-1.4 0l-2.1 -.1l-.7 -.3l-.6 -.6l-.5 -1.4l-.4 -2l-.5 -.7l-1.8 -1.4l-.7 -1.4l-.3 -2.6l0 -3l1.1 -4.8l.1 -4.2zM86.6 18.4l.5 -.2l.5 .2l.4 .7l-.5 0l-.9 -.7zM49.3 19.8l1.6 0l.8 .3l.7 .6l.9 1.9l.8 .7l3.8 1.5l2.1 1.2l.7 .9l.4 1.2l.2 1.4l-.3 1.4l-1.4 2.1l-1 2.1l-.6 .7l-2.8 1.4l-.7 .7l-.5 .6l-.9 2.2l-4.7 5.5l-1.6 .7l-3.4 .2l-1.4 .3l-2.1 .8l-1.4 .9l-.8 1.3l-.8 4.1l-.5 1.4l-.7 .8l-.7 .4l-1.4 .2l-2 -.5l-1.1 -.9l-2.4 -3.5l-.2 -.7l.1 -.6l1.3 -2.8l1.6 -4.5l2 -4.1l1 -1.2l2.5 -1.8l.9 -.9l.3 -.7l.9 -4.2l.7 -1.4l4.2 -4.7l1.3 -1.2l1.9 -1l.7 -.7l.8 -1.4l1.2 -.7zM67.6 26.7l.8 -.2l.7 .2l.4 .7l-.4 .5l-.7 0l-.8 -.5l0 -.7zM83 26.7l.7 -.4l.7 0l1 .4l.5 .7l.2 .7l-.3 2.1l.2 .7l1.2 .6l4.1 .8l.8 .7l.3 1.3l-.3 1.4l-2 3.5l-1 3.5l-.6 1.4l-1.4 1.4l-3.9 2l-.1 .7l2 .8l3.4 .3l3.5 .7l1.4 0l1.4 -.6l2.1 -2.3l.7 -.5l1.4 -.5l3.4 0l0 18.9l-4.4 -.1l-1.8 -.7l-.9 -.7l-1.6 -2.1l-1 -.7l-1.4 -.6l-2.4 -.8l-1.6 -.7l-2.2 -2.2l-1.4 -.9l-1.4 -.7l-3.1 -1l-2.5 -1.1l-3.7 -.3l-1.9 -.7l-.7 -.7l-1.3 -2l-.7 -.5l-.7 0l-.7 .3l-.4 .8l-.2 1.4l-.1 4.2l-.3 1.4l-.4 .4l-1.4 0l-.8 -.4l-.3 -.7l.5 -4.2l-.8 -3.5l.2 -.7l1 -1.4l.3 -1.3l-.5 -1.4l-1.1 -1.4l-.5 -1.2l0 -1.4l.4 -.9l1.1 -1.4l1.5 -1.4l4.6 -2.2l2.8 -2.4l4.1 -2.7l.7 -.3l.7 0l2.1 .8l1.4 0l.9 -.8l.5 -1.4zM78.1 48.9l-.2 .1l.2 0l0 -.1zM16.9 29.5l2.2 .1l1.4 .4l3.4 3.5l.7 1.1l.5 1.8l.5 7l-.3 2.5l-1 2.3l-3.2 2.7l-2 2.7l-1.8 1.6l-2.4 2.9l-2 1.3l-2.8 1.3l-2.8 .7l-4.2 .2l-2.1 -.5l-3.5 -.1l0 -7.9l0 -8.1l4.2 -.1l2.1 -.3l2.1 -1l3.8 -2.3l1.9 -1.4l.4 -.7l.8 -3.4l.7 -.9l.7 -.6l.7 .1l.3 .7l.3 2l0 1.4l-.8 3.5l.1 1.4l.5 1.4l.9 .7l.8 .2l1.4 -.2l1.2 -.7l.4 -.7l.2 -1.4l-.7 -3.5l1 -3.5l0 -2l-.3 -.7l-.4 -.5l-3.2 -.9l-.4 -.7l0 -.7l.7 -.7zM43.3 60.1l1.5 -.2l2.7 .2l4.4 0l1.3 .7l.3 .7l0 .7l-.4 .6l-.7 .3l-1.4 0l-2.8 -.7l-4.1 -.5l-.9 -.4l-.3 -.7l.4 -.7zM54.1 66.3l1.1 -.4l1.4 .2l.7 .3l1.4 1.3l2.1 2.7l.7 1.4l1 4.2l.6 1.4l.5 .7l.7 .4l.7 .2l1.4 -.4l2.6 -1.6l1.9 -.7l5.5 -1.4l1.8 -.2l2.5 .2l2 .7l4.5 2.4l1.4 .2l1.4 -.1l2.1 -.4l1.3 -.6l2.4 -2.2l1 -.7l.8 -.3l1.4 -.2l3.5 0l0 8.1l-4.2 .1l-2.8 1.1l-2.1 1l-2.9 2.7l-4 1.8l-3.4 1.7l0 .7l2.2 2.1l.6 .7l.3 .7l-1.6 4.1l-.1 4.2l-6.1 0l-.2 -8.3l.3 -1.4l1.2 -2.1l-.8 -.6l-1.4 0l-3.5 1.4l-1.4 .1l-2.8 -.1l-1.4 .2l-1.3 1.1l-1.6 2.1l-1.1 .7l-1.5 .2l-3.5 .2l-4.2 .8l-1.3 -.1l-1 -.4l-.9 -.7l-.5 -.7l-.2 -.7l.1 -.7l2.5 -4.6l.7 -.9l.6 -.5l1.4 -.4l2.1 0l5.6 .3l3.4 -.3l1.4 -.6l.7 -.6l.5 -.8l.1 -.6l-.5 -.7l-.8 -.1l-4.8 .5l-5.6 -.7l-2.7 .3l-1.4 .5l-1.4 .8l-4.4 4.2l-1.9 2.8l-2.8 2l-1.4 2.2l-2.5 2l-.3 .7l-.1 3.5l-7.4 0l0 -4.2l.4 -2l.2 -.4l.7 -.3l1.4 -.3l.8 -.4l.7 -.7l1.3 -2.1l2.1 -1.6l2.1 -2.7l2 -1.5l.7 -.8l1.4 -2.7l1.9 -2.5l1.5 -4.9l1.5 -2.1l.2 -.7l-.2 -1.1l-1.4 -1.1l-.2 -.5l.2 -.4l.2 -.3l1.9 -1.1l2.3 -1.7zM27.3 71.2l1.5 -.4l1.4 -.1l1.4 .2l1.3 .5l1.2 1.2l1.8 3.5l.1 .7l-.2 .6l-1.3 2.1l-.6 2.1l-.1 2.8l.4 4.2l-.1 1.4l-1.9 4.1l-.6 .6l-.7 0l-2.1 -.8l-.7 0l-.7 .7l-.1 .9l.2 7l-12 -.1l-.1 -4.1l-1.3 -4.2l.4 -1.4l.6 -.7l1.2 -.7l4.7 -1.3l1.7 -.7l.7 -.7l.4 -.7l.1 -.7l-.3 -.7l-1.1 -.7l-1.4 -.2l-1.4 0l-1.3 .5l-3.5 2l-3.5 .6l-1.4 .4l-1.4 .7l-2 1.8l-1.4 .8l-1.4 .1l-6.3 0l0 -9.9l3.5 0l4.2 -.5l6.2 -.2l2.1 -.6l3.3 -1.8l3.6 -1.2l1.4 -.3l1.4 0l2.8 .7l.7 0l1 -.6l.5 -.6l.1 -.7l-.2 -.7l-.7 -1.5l-1.9 -2l.5 -.7l1.3 -.7zM4.3 76l1.6 -.4l1.4 .3l.7 .8l-.4 .7l-1.7 .7l-4.2 .8l-4.2 0l0 -2.3l4.2 -.1l2.6 -.5zM97.5 89.2l1.4 -.4l3.5 -.1l0 13.7l-4.9 0l-4 0l-.1 -4.2l-.8 -3.4l.1 -.7l.5 -.7l2.9 -3.1l1.4 -1.1zM-2.4 96.2l0 -.6l5.6 0l2.1 .6l1 .7l1.3 1.4l.3 .7l.1 3.4l-10.4 0l0 -6.2z" fill="#fdc776"/>
<path d="M-2.4 -2.4l6.9 0l0 3.5l-.2 1.4l-.5 1.3l-.9 1.4l-1.1 1l-.7 .2l-3.5 0l0 -8.8zM19.4 -2.4l6.1 0l0 4.2l-.4 4.1l.5 2.1l1 2.1l.1 1.4l-.7 1.2l-.9 .9l-1.2 .5l-2.1 .5l-2 .1l-2.8 -1l-7.7 -2.3l-.8 -.6l-.4 -.7l-.2 -.7l0 -1.4l.7 -2.1l.7 -1l.7 -.5l1.4 -.6l5.6 -.6l1.6 -.7l.6 -.7l.2 -.7l0 -3.5zM61.9 -2.4l4.9 0l.2 4.2l.7 1.4l2.3 2l.5 .7l.1 .7l0 2.8l.5 1.4l2.1 2.4l1.4 2.6l.6 .5l1.6 .7l.9 .7l.4 .6l.2 .8l0 1.4l-.2 .4l-.7 .1l-1.4 -.6l-.7 -.6l-1.4 -1.9l-.7 -.6l-4.2 -1.6l-1.2 -.7l-2.2 -2l-1.3 -1.5l-1.5 -3.2l-.8 -3.1l-.1 -7.6zM77.3 -2.4l5.7 0l-.2 6.9l-.4 2.8l-.5 1.4l-.3 .8l-.7 .8l-.7 .1l-1.4 -.4l-.7 -.6l-.5 -.7l-.3 -2.1l0 -9zM95.1 -2.4l7.3 0l0 16.5l-1.4 0l-2.8 0l-2.1 -.4l-1.3 -.8l-.7 -1.3l-.3 -2.2l-.1 -2.1l.4 -1.9l.9 -3.6l.1 -4.2zM40.7 1.7l.6 -.2l.7 0l1.4 .7l.8 .9l.4 .7l.2 .7l-.2 .7l-.6 .7l-2.5 1.4l-2.3 .4l-1 -.4l-.4 -.7l-.1 -1.4l.5 -1.4l1 -1.2l1.5 -.9zM99.6 15.6l2.9 0l0 3.7l-.7 0l-2.8 -.1l-.7 -.4l-.2 -.4l-.2 -1.4l.3 -.7l.8 -.6l.6 -.1zM80.1 22.6l.8 .3l.3 .4l0 .7l-.3 .3l-.9 -.3l-.3 -.7l.4 -.7zM47.7 23.3l2.6 -.5l.7 .2l1.9 1l3.6 .9l2.1 .8l1.3 1.1l.4 .7l.4 1.4l-.1 1.3l-1.5 2.8l-1 2.1l-.6 .7l-2.3 1.2l-.7 .5l-2.1 3.9l-2 2l-1.5 2.1l-.9 .7l-1.2 .4l-4.1 .2l-1.4 .3l-2.1 .8l-1.4 1.1l-.4 .7l-.5 2.1l-.5 2.7l-.7 1.2l-.7 .6l-.7 .3l-1.4 .2l-.7 -.2l-1.2 -.7l-2.3 -3.4l-.2 -.7l.1 -.7l2 -5.6l2.2 -4.8l.8 -1.2l.9 -.9l2.6 -2l.6 -.8l.5 -1.4l.3 -2.8l.7 -1.6l.7 -1l4.1 -4.1l1.4 -.9l2.3 -.7zM83.6 27.4l.8 -.5l.7 .2l.3 .3l.2 .7l-.1 .7l-.7 1.4l.1 .7l.7 .7l1.6 .4l2.8 .4l1.2 .6l.5 .7l0 1.3l-2.1 4.2l-1.2 4.2l-1 1.4l-.9 .7l-4.2 1.8l-1.4 .3l-2.7 -.1l-.7 .1l-.7 .3l-.4 .3l-.3 .7l.2 2.1l-.7 .7l-1.6 .2l-1.4 -.1l-1.2 -.8l-1.8 -2.8l-1.2 -.7l-2 -.7l-.7 -.6l-1.1 -2.8l-1.7 -2.4l-.3 -1.1l.2 -.7l.8 -1.4l2.1 -1.9l4.1 -2.1l3.5 -2.7l3.5 -2l.7 -.3l.7 .1l2 .6l1.9 0l1 -.7l.5 -1.4zM21.6 33l.2 -.1l.7 .1l1.4 1.1l.7 1.3l.2 1.1l.6 7.6l-.7 2.8l-.8 1.4l-2.8 2.3l-2 2.6l-2.1 1.9l-2.1 2.6l-2.7 1.7l-2.9 1.4l-2.7 .5l-2.1 0l-1.4 -.4l-1.4 -1l-.7 -.3l-3.5 0l0 -.9l0 -13.4l4.2 -.1l2.8 -.6l2.1 -.9l6.8 -3.8l.1 -.4l1 4.6l.7 1.4l1.1 .5l.7 .1l1.4 -.2l.7 -.3l.8 -.8l.6 -1.4l-.6 -4.2l1 -3.4l.3 -2.1l.4 -.7zM13.6 36.5l.7 -.6l.3 .6l0 1.4l-.3 1.2l-.7 -.1l-.1 -1.8l.1 -.7zM97.7 46.9l1.3 -.4l3.5 0l0 13.5l-4.2 0l-3.5 .2l-6.2 -1.6l-1 -.6l-1.8 -1.6l-1.9 -1.2l-4.9 -2l-1 -.7l-.4 -.7l.3 -.7l.8 -.7l1.5 -1.1l1.4 -.4l3.5 .5l3.5 .3l2.7 .5l2.1 .1l.7 -.2l1.4 -.9l1.4 -1.6l.8 -.7zM64.7 53.8l.3 -.3l.2 1l-.2 1l-.7 -.3l0 -.8l.4 -.6zM44 60.8l.8 -.3l2.8 .2l3.5 -.3l1.3 .4l.3 .7l-.2 .7l-1.4 .3l-1.4 -.3l-1.4 -.6l-3.5 -.1l-.8 -.7zM96 62.2l.2 -.3l.7 -.2l5.5 0l0 2.6l0 .3l-3.5 0l-1.5 -.3l-1 -.7l-.4 -.7l0 -.7zM54.3 67l1 -.4l1.3 .1l.7 .4l1.4 1.3l1.4 1.7l1 1.8l1.6 5.5l.9 1.2l.7 .3l.7 .1l1.4 -.3l3.3 -2l2.4 -.7l5.4 -1.3l2.1 0l2.7 .7l2.5 1.3l.9 .7l.5 .7l.1 .7l-1.5 1.4l-.4 .7l.7 .5l.7 0l.9 -.5l.6 -1.4l.6 -.5l5.5 -1.6l1.2 -.7l2 -2.1l1 -.5l1.4 -.3l3.5 0l0 7l-3.5 0l-1.4 .4l-4.2 2.1l-3.4 3.1l-6.3 2.5l-2.1 .5l-2.7 -.2l-1.4 .1l-2.8 1.3l-1.4 .5l-3.5 0l-1.4 .2l-1.3 .9l-2.1 2.6l-1.4 .6l-3.5 -.1l-4.8 .6l-1.7 -.4l-.8 -.7l-.3 -.6l-.1 -.8l.3 -.7l1.2 -2.7l.7 -1.2l.7 -.6l.6 -.4l1.4 -.3l7 .4l2.8 -.3l1.3 -.3l1.4 -.8l.7 -.7l1.4 -2.3l1.7 -1.2l.4 -.7l-.7 -.6l-.7 0l-2.1 1.6l-4.8 .9l-2.1 0l-3.5 -.5l-2.1 -.1l-2.1 .2l-2 .7l-1.4 .9l-1.5 1.7l-2.4 2.1l-2 2.8l-2.7 2.1l-1.8 2.5l-2.4 1.7l-.5 .6l-.1 .7l-.1 3.5l-6.1 0l.1 -4.2l.4 -1.3l.8 -.7l2.3 -1.1l2 -3.1l1.9 -1.4l2.3 -2.8l1.9 -1.4l.6 -.7l1.5 -2.7l1.8 -2.1l.3 -.7l.9 -3.3l.4 -.9l2.1 -2.8l.2 -1.3l-.2 -2.1l.1 -.7l1 -1.4l1 -.7zM29.8 71.2l1.8 .1l1.4 .7l1 1.3l1.2 2.8l-.1 1.4l-1 2l-.3 1.4l-.3 3.5l.2 4.2l-.2 1.4l-.5 1l-1.4 2.2l-.5 .2l-.9 0l-2.1 -.5l-.7 .1l-.3 .4l-.4 1.4l.3 7.6l-11.2 0l0 -4.1l-1 -3.5l0 -1.4l.5 -.7l1 -.8l6.1 -2l1.3 -.6l.6 -.7l.3 -.7l0 -1.4l-.7 -.8l-1.3 -.5l-2.8 -.1l-1.4 .3l-3.5 2.1l-4.1 1l-1.4 .5l-4.2 2.7l-2.1 .3l-5.5 .1l0 -9.1l3.4 0l4.9 -.5l4.2 0l2 -.2l2.2 -.7l3.8 -2.1l1.8 -.7l2 -.4l1.4 0l2.7 .8l.7 0l.7 -.2l1 -.9l.4 -.6l.1 -.7l-.4 -1.4l-1.1 -2.1l0 -.7l.7 -.9l1.7 -.5zM97.7 89.9l1.3 -.4l3.4 0l0 12.9l-4.1 0l-4.4 0l0 -4.2l-.3 -2.7l.2 -1.4l2.4 -2.9l1.5 -1.3zM81.5 91.3l.8 .1l1.4 .7l1.3 1.3l.3 .7l0 .7l-1.2 3.4l-.1 4.2l-1 0l-4.1 0l-.2 -8.3l.2 -.7l.7 -1.1l.6 -.6l1.3 -.4zM-2.4 96.2l0 -.1l4.9 0l1.3 .3l1.1 .5l.8 .7l.7 1.4l0 3.5l-8.8 -.1l0 -6.2z" fill="#fdad60"/>
<path d="M-2.4 -2.4l6.2 0l0 4.2l-.4 1.4l-1 1.3l-1.3 .8l-3.5 0l0 -7.7zM20.2 -2.4l4.6 0l0 4.2l-.4 4.1l.1 1.4l.8 2.8l-.1 1.4l-.4 .7l-.8 .7l-1.5 .6l-1.3 .3l-2.1 0l-3.1 -.9l-5.3 -1.4l-1.4 -.7l-.5 -.7l-.3 -.7l.2 -2.1l.7 -1.4l1.3 -1.2l1.4 -.4l4.9 -.5l2.1 -.8l.7 -.8l.4 -1.1l0 -3.5zM62.6 -2.4l3.6 0l.1 3.5l.4 1.4l1 1.4l2.1 2l.3 .7l.2 2.8l.4 1.4l2.6 2.9l.9 2.6l-.2 .6l-2.8 -.7l-2.8 -1.2l-2.5 -2.1l-1.7 -2l-1.3 -3.5l-.5 -2.2l.2 -7.6zM78.2 -2.4l4.3 0l-.1 7.6l-.2 1.4l-.6 1.6l-.7 .8l-.7 .4l-.6 -.1l-.7 -.3l-.7 -1l-.2 -2.1l.2 -8.3zM95.8 -2.4l6.6 0l0 15.1l-1.4 0l-4.8 -.1l-.7 -.3l-.7 -.8l-.4 -1.4l-.2 -2.1l.4 -2.1l1.1 -3.4l.1 -4.9zM39.7 3.1l.9 -.3l.7 -.1l1.2 .4l.7 .7l.3 .7l0 .7l-.5 .7l-1 .7l-2.1 .7l-.7 0l-.9 -.7l-.1 -.7l.2 -1.4l.8 -1.1l.5 -.3zM74.1 17l.5 -.2l1.4 .3l1.2 .6l.6 .7l.2 .7l0 .7l-.6 .6l-.7 0l-.7 -.4l-.9 -.9l-1 -2.1zM45.7 24.7l1.9 -.5l1.4 -.1l1.4 .3l2.1 .8l3.4 .2l1.4 .3l1.4 .8l1 1l.4 1.4l-.2 1.4l-.8 1.3l-1.3 3.5l-.8 .7l-2.6 1.4l-.5 .8l-.8 2l-.6 1l-1.7 1.8l-2.2 2.7l-1 .7l-.7 .2l-4.1 0l-2.1 .4l-2.8 1.2l-.9 1l-.5 3.5l-.8 2.1l-.6 .7l-1 .6l-1.1 .2l-.8 -.2l-.6 -.3l-.7 -.8l-1.3 -2.3l-.2 -.7l.2 -1.4l1.3 -4.5l2.1 -4.5l.9 -1.4l1.2 -1.2l2.2 -1.6l1.1 -1.4l.5 -4.2l.4 -1l.6 -1l4.2 -4l1.6 -.9zM76.1 30.2l1.3 -.5l.7 0l4.9 .8l1.3 1.1l1.4 .7l4.2 .7l.8 .7l.2 .7l0 .7l-.5 1.3l-1.3 2.8l-1.2 4.2l-1.1 1.4l-1.7 1l-2.8 .9l-1.4 .2l-2.8 0l-1.4 .3l-.7 .4l-.6 .6l-.7 2.1l-.7 .7l-.7 .1l-.7 -.2l-.7 -.6l-1.3 -2l-.7 -.7l-2.5 -1.4l-.8 -.7l-2.8 -4.2l-.5 -1.4l.4 -1.4l1.9 -2l1.1 -.7l3.1 -1.6l3.5 -2.6l2.8 -1.4zM21.8 34.4l.8 -.5l.6 .2l.9 1l.4 1.4l.6 6.9l-.5 2.7l-.6 1.5l-.5 .7l-2.5 2.1l-1.9 2.3l-2.7 2.5l-1.5 1.9l-1.2 .9l-3.6 2.1l-1.9 .7l-1.6 .2l-2.3 -.2l-2.6 -2l-.7 -.2l-2.8 -.1l-.6 0l0 -13l4.1 0l2.1 -.3l2.1 -.7l4.8 -2.3l1.4 -.3l.7 .2l.5 .6l1.1 2.8l.6 .7l.6 .2l1.4 .1l2.1 -.5l.7 -.5l.9 -1.4l.1 -1.4l-.5 -3.4l1.5 -4.9zM98.7 46.9l3.7 -.1l0 12.3l-4.9 -.1l-4.1 -.8l-3.5 -.1l-1.4 -.5l-2.5 -1.7l-5.8 -2.8l-.9 -.6l-.2 -.7l.3 -.7l.7 -.7l.8 -.4l1.3 -.3l6.3 .4l3.5 .5l1.4 -.1l1.3 -.4l.7 -.5l2.1 -2.2l1.2 -.5zM54.5 67.7l1.4 -.4l.7 .2l1.4 .9l1.4 1.6l1.6 2.6l1.6 5.5l.9 1.1l.7 .2l.7 .1l1.4 -.4l2.8 -1.7l1.7 -.7l5.9 -1.5l2.1 -.2l1.4 .1l2.8 .9l1.1 .7l.7 .7l.2 .7l-.2 .7l-1.2 1.4l-.4 .7l.5 .8l1.4 .5l.7 0l1.3 -.6l2.1 -2.2l1.5 -.6l2.7 -.7l1.4 -.7l1.9 -2.1l.9 -.6l1.4 -.3l3.4 -.1l0 5.7l-3.4 .1l-1.4 .2l-4.9 3l-2.4 2.5l-1.1 .6l-4.8 1.8l-2.8 .6l-4.2 -.1l-1.4 .5l-2.7 1.4l-4.9 .3l-1.4 .8l-2.1 2.7l-.7 .4l-.7 .2l-4.1 -.2l-3.5 .4l-1.4 -.3l-.9 -.8l-.2 -.7l.4 -1.8l1.2 -2.4l.8 -.7l.8 -.3l1.4 -.1l3.5 .4l2.7 0l2.8 -.3l2.1 -.7l1.4 -.9l2.1 -2.5l2 -1.6l.5 -.9l-.2 -.7l-.9 -.6l-1.4 -.2l-.7 .3l-2.1 1.7l-2.1 .6l-3.5 .3l-4.1 -.6l-2.8 -.1l-2.1 .3l-2.1 .7l-1.4 1l-1.7 2.1l-2.4 2.1l-2 2.8l-2.2 1.6l-2 2.6l-2.3 1.4l-.6 .6l-.2 1.5l0 3.4l-4.9 0l.1 -3.5l.3 -1.3l.6 -.7l2.1 -.9l.6 -.5l1.5 -2.8l2.6 -2.1l1.5 -2.1l2.7 -2.1l1.5 -2.7l2.5 -2.8l1.1 -4.2l1.9 -2.3l.6 -1.1l.3 -4.2l.4 -.7l.8 -.7zM29.4 71.9l.8 -.2l1.4 .1l1.3 .8l1.1 2.1l.5 2.1l-1.1 4.1l-.2 7l-.5 2.1l-1.1 1.7l-.7 .6l-.7 0l-2.8 -.3l-.6 .4l-.3 .3l-.3 2.1l.2 7.7l-10.2 0l0 -4.2l-.8 -3.5l.2 -1.4l.7 -.7l1.2 -.7l6.5 -2l.7 -.6l.5 -.8l.3 -1.4l-.1 -1.5l-.7 -.6l-2.1 -.4l-2.8 -.2l-1.4 .1l-.7 .2l-2.8 2.1l-1.3 .5l-3.5 .9l-1.9 1l-2.3 1.5l-1.4 .6l-2.1 .2l-4.8 0l0 -8.1l3.5 0l4.8 -.7l4.9 .1l2.8 -.3l2 -.8l2.4 -1.6l1.3 -.7l2.6 -.7l1.5 0l2.7 1l.7 .1l.6 -.2l1.2 -.9l.9 -1.3l-.1 -1.4l-1 -2.8l.1 -.7l.9 -.7zM98.6 90.6l3.8 -.1l0 11.9l-4.2 0l-3.8 0l0 -6.2l.2 -1.4l.8 -1.4l1.9 -2.1l1.3 -.7zM80.2 92.7l.7 -.4l1.4 -.1l1.4 .8l.8 1.1l-.2 1.4l-.8 2.8l-.1 3.4l0 .7l-3.8 0l0 -3.5l-.3 -4.1l.2 -1.2l.7 -.9zM-2.4 96.9l0 -.3l4.2 .1l1.4 .2l1.2 .7l.5 .7l.3 .7l0 3.5l-7.6 0l0 -5.6z" fill="#f98e52"/>
<path d="M-2.4 -2.4l5.5 0l-.2 4.2l-.4 1.2l-.7 .7l-.7 .3l-3.5 .1l0 -6.5zM21.2 -2.4l2.8 0l0 4.2l-.4 4.1l.4 3.5l-.1 1.4l-.4 .7l-.8 .7l-2.2 .8l-2.1 -.1l-3.4 -.8l-2.9 -.6l-2 -.9l-.6 -.5l-.3 -.7l0 -1.4l.2 -.8l.8 -1.3l1.3 -.8l1.4 -.4l5.5 -.6l1.9 -.9l.5 -.7l.3 -.7l.1 -4.2zM63.5 -2.4l1.8 0l.1 3.5l.2 .7l.8 1.4l2.6 2.7l.4 .7l.9 4.2l.9 1.2l1.5 1.6l.6 1.1l0 1l-.7 .3l-.7 0l-1.5 -.3l-1.5 -.7l-1.8 -1.4l-1.5 -1.4l-1.4 -1.9l-.8 -2.3l-.5 -2.8l.6 -4.1l0 -3.5zM79.1 -2.4l2.7 0l0 7.6l-.2 1.5l-.7 1.1l-.7 .4l-.7 -.2l-.6 -.7l-.2 -.7l0 -2.1l.4 -3.4l0 -3.5zM96.8 -2.4l5.6 0l0 13.9l-1.3 0l-4.2 0l-.7 -.3l-.6 -.4l-.3 -.7l-.2 -1.4l.1 -1.4l1.1 -2.8l.4 -1.3l.1 -5.6zM40 3.8l1.3 -.1l1.1 .8l.1 .7l-.4 .7l-1.1 .7l-1.1 .2l-.7 -.2l-.4 -.7l.1 -.7l.3 -.7l.8 -.7zM75.8 17.7l1 .2l.6 .5l.2 .7l-.2 .5l-.2 .2l-.6 0l-.9 -.7l-.4 -.7l.5 -.7zM45.7 25.3l1.2 -.4l1.4 -.1l1.4 .3l2.7 1.3l3.5 -.2l1.4 .3l.7 .4l.7 .9l.2 1l-.2 .7l-.9 1.4l0 2l-.2 1.4l-.4 .7l-.6 .5l-2.1 .8l-.7 .6l-.7 2.3l-.6 1.4l-4.2 4.8l-.7 .3l-1.4 .3l-3.5 -.2l-2.1 .2l-2.7 1l-1.4 .9l-.5 1l-.2 3.5l-.5 1.4l-.9 .9l-.7 .4l-.7 .1l-.7 -.2l-.7 -.6l-.7 -1.2l-.6 -1.5l0 -.7l.6 -3.5l.7 -1.9l2 -4.3l.8 -1.3l.9 -.8l2.6 -1.8l.8 -1l.4 -1.4l.1 -3.4l.7 -1.6l1.4 -1.4l2.8 -2.3l1.6 -1zM76.4 30.9l1.8 -.4l3.5 .4l3.4 1.7l4.2 1l.7 .6l.2 .9l-.4 1.4l-1.5 3.4l-.6 2.8l-.5 1.1l-.7 .7l-1.4 .8l-2.1 .7l-2.1 .3l-3.4 .1l-1.5 .5l-1.1 .7l-1.6 1.6l-.7 -.1l-1.6 -1.5l-3.2 -2.1l-.7 -.7l-2.4 -3.5l-.6 -1.4l0 -.7l.4 -.7l1.1 -1.3l.8 -.7l4.1 -2.3l2.8 -2l3.1 -1.3zM22.3 35.1l.3 -.3l.7 .2l.7 .9l.3 1.3l.5 6.2l-.2 1.4l-.4 1.4l-.9 1.8l-2.1 1.8l-2.1 2.3l-2.7 2.4l-2.2 2.6l-5 3l-1.9 .5l-1.4 .1l-1.7 -.6l-2.5 -2.5l-.7 -.2l-3.4 -.1l0 -2.1l0 -1.1l3.4 -.1l.3 -.1l.2 -.7l-1.2 -.3l-2.7 0l0 -7l4.1 -.1l2.1 -.3l2.1 -.6l4.2 -1.6l1.4 -.3l.7 .2l.6 .8l.9 2.2l.5 .7l.7 .3l.7 0l3.5 -.8l1.2 -.9l.7 -1.4l.1 -1.4l-.4 -3.4l.5 -1.9l.7 -1.8l.4 -.5zM98 47.6l1 -.3l3.4 -.1l0 11.2l-4.8 -.1l-4.2 -1.4l-2.8 .1l-1.3 -.1l-2 -1l-5.7 -2.7l-1 -.7l-.2 -.7l.5 -.8l1.4 -.6l1.4 -.1l4.2 .1l3.4 .5l2.1 0l.7 -.2l1.4 -.6l2.5 -2.5zM55 68.4l.9 -.3l1 .3l1.1 .8l1.4 1.6l1.4 2.2l1.1 4.4l.5 1.4l1.1 1.2l.7 .1l.7 0l1.4 -.4l2.8 -1.7l3.5 -1.3l4.1 -1.1l2.8 -.2l2.7 .6l1.2 .7l.6 .7l.1 .7l-.3 .7l-1.7 2.1l.2 .7l1.4 .8l1.4 .4l.7 0l1.3 -.4l.7 -.5l2 -1.7l.8 -.5l4.9 -1.3l.7 -.7l1.1 -1.7l.9 -.7l.7 -.1l3.5 -.1l0 3.9l-4.1 0l-1.4 .3l-.7 .5l-1 1.1l-3.2 2.2l-1.6 2l-1.2 .9l-3 1.1l-3.2 1l-1.4 .2l-3.5 -.2l-1.4 .1l-3.4 1.7l-1.4 .3l-2.8 0l-1.4 .4l-1 .7l-1.8 2.5l-.7 .5l-.7 .3l-1.4 0l-2 -.4l-4.2 .1l-.7 -.2l-.6 -.7l-.2 -.7l.2 -1.4l.6 -1.3l.7 -.8l.7 -.3l1.4 -.2l4.1 .5l4.2 -.2l2.8 -.8l1.4 -.9l2.1 -2.2l2.7 -2.1l.6 -.7l.3 -.7l-.2 -.7l-.7 -.7l-2 -.9l-1.4 .2l-.7 .4l-2 1.7l-2.2 .6l-2.1 .1l-3.5 -.5l-4.1 -.1l-2.8 .3l-2.8 .6l-.7 .4l-.9 2.1l-1.2 1.3l-2 1l-.4 -.2l.4 -1.6l.7 -1.5l.7 -.7l1.3 -.7l.7 -.6l.7 -4.4l.5 -1l1.6 -1.9l.4 -.8l.3 -1.4l.2 -2.8l.3 -.7l.7 -.7zM29.8 72.6l1.1 -.3l.9 .3l.7 .7l.4 .7l.4 1.4l.1 1.4l-.3 2.7l-.4 7.7l-.5 2.1l-.6 .9l-.7 .7l-1.4 .3l-3.5 -.4l-.2 .5l-.1 2.1l.1 9.1l-9.2 0l0 -4.2l-.6 -3.5l.1 -.7l.4 -.7l1.2 -.9l2.8 -1.1l2.1 -.5l3 -.2l.8 -3.5l0 -1.4l-.1 -.7l-.7 -.7l-5.8 -.6l-2.8 -.4l-1.8 2.4l-1 .7l-4.8 1.7l-4.5 2.5l-1.8 .4l-2.1 .1l-3.4 0l0 -7.2l4.1 -.1l4.9 -.7l4.8 .2l4.9 -.2l.7 -.5l1.2 -1.8l.9 -.7l1.5 -.7l1.3 -.2l2 .2l2.8 1.1l.7 -.1l2 -1.6l.9 -1.4l.1 -.7l-1 -2.8l-.1 -.7l.5 -.7zM45.5 87.8l.7 -.2l.2 .2l-.4 1.4l-.5 1l-1.3 1.1l-1.5 .7l-.5 .7l-.9 1.6l-.6 .7l-.7 .4l-.9 0l-.5 -.7l.4 -1.3l.6 -.7l1.7 -.9l.7 -.5l.7 -1.6l.7 -.9l.7 -.5l1.4 -.5zM97.7 92.7l1.3 -.6l3.5 0l0 10.3l-2.8 0l-4.6 0l0 -4.1l.2 -2.1l.2 -.8l.7 -1.2l1.5 -1.5zM80.6 93.4l1 -.4l.7 .1l.7 .4l.5 .6l0 1.4l-.9 3.5l-.1 3.4l-2.1 0l0 -3.4l-.5 -3.5l.2 -1.4l.5 -.7zM-2.4 97.6l0 -.4l3.5 0l1.4 .3l.7 .3l.5 .5l.3 .7l.1 3.5l-6.5 0l0 -4.9zM34.8 97.6l1 -.5l.7 0l.8 .5l.2 1.4l0 3.5l-.3 0l-3.1 0l.1 -3.5l.1 -.7l.5 -.7z" fill="#f46d43"/>
<path d="M-2.4 -2.4l4.3 0l0 3.5l-.3 .7l-.5 .5l-.7 .1l-2.8 0l0 -4.8zM64.2 3.1l.8 -.2l.7 .5l3 3.2l.4 .8l.8 3.3l.6 1.1l2.1 2.4l0 .9l-.7 .3l-2.2 -.5l-2 -1.4l-2.7 -2.8l-.7 -1.4l-.8 -2.7l.1 -2.1l.6 -1.4zM80 3.8l.2 -.5l.7 0l.1 1.2l-.1 1.4l-.7 .4l-.3 -.4l-.1 -.7l.2 -1.4zM19.7 4.5l1.5 -.4l.7 .1l.2 .3l.4 1.4l.2 2.8l-.2 1.4l-.3 .7l-1 .8l-2.1 .5l-1.4 -.1l-3.4 -.6l-2.8 -.7l-1.1 -.6l-.4 -.7l-.2 -.7l.3 -1.4l.4 -.7l1 -.8l1.4 -.5l6.8 -.8zM39.9 5.2l.8 -.2l.3 .2l-.3 .7l-.8 0l0 -.7zM45.8 26l1.1 -.3l1.4 -.1l1.4 .5l2.7 1.5l2.8 .5l.3 .7l-.2 1.4l.1 .7l1.5 2l.1 .7l-.1 .7l-.5 .7l-.5 .3l-1.4 .2l-.7 -.2l-.8 -1l-.6 -.3l-.7 0l-.7 .3l-.2 .7l.3 .4l1.7 1l.2 1.4l-.2 1.4l-.7 1.4l-1.7 1.8l-2.1 2.6l-.7 .4l-1.4 .3l-4.9 -.4l-2.7 .5l-2.8 1l-.8 .7l-.2 .7l.3 2.8l0 1l-.6 1.1l-.8 .6l-.7 0l-.7 -.5l-.6 -1.5l-.3 -2.1l.2 -1.8l2.8 -6.7l1.4 -1.5l2.8 -1.8l1.1 -1.4l.2 -1.4l-.3 -2.8l.3 -1.4l1.4 -1.6l3.3 -2.5l1.2 -.7zM76.9 31.6l2.6 -.3l2.1 .3l2.8 1.4l4.1 1.1l.7 .9l0 .8l-1.5 4.1l-.6 2.8l-.8 1.4l-1.3 .8l-2.1 .6l-2 .3l-3.5 .1l-1.3 .3l-2.9 1.2l-.7 0l-.7 -.2l-2.8 -1.7l-1.3 -1l-2.3 -3.2l-.5 -1.4l0 -.7l.3 -.7l1.1 -1.2l1 -.8l5.9 -3.7l1.4 -.6l2.3 -.6zM22.2 36.5l.4 -.5l.7 .1l.6 1.8l.4 5.5l-.1 1.4l-.4 1.4l-.5 1l-.7 .8l-1.9 1.7l-2.3 2.5l-2.1 1.7l-2.5 2.7l-4.4 2.8l-1.4 .7l-1.4 .2l-1.1 -.2l-1 -.7l-.9 -1.4l-.7 -1.4l0 -.7l.9 -2l-.1 -.7l-.4 -.7l-1.6 -.8l-4.1 -.1l0 -5.4l4.1 0l2.1 -.3l5.6 -1.5l1.4 -.2l.7 .3l.3 .3l1 2.7l.7 .9l.7 .1l.7 -.2l4.2 -1.5l1.4 -.9l1 -1.8l.1 -1.3l-.4 -3.5l.6 -2.1l.4 -.7zM97.8 48.3l1.2 -.6l3.5 0l0 10l-3.5 0l-1.4 -.2l-4.2 -1.6l-4.1 0l-3.5 -1.3l-2.9 -1.4l-.9 -.7l-.2 -.7l1 -.7l1.6 -.2l3.5 0l4.1 .4l2.1 -.2l1.6 -.7l2.1 -2.1zM55.1 69.8l.8 -.6l.7 0l.7 .4l2.1 2.1l.7 1l.6 1.3l1.2 6.2l-.4 .5l-.7 .2l-1.4 .1l-6.3 0l-.7 -.4l-.3 -.4l-.2 -.7l.2 -1.4l2.1 -3.4l.6 -4.2l.3 -.7zM30.7 74l.2 -.4l.7 .2l.3 .9l-.2 .7l-.8 -.5l-.2 -.9zM76.6 76l2.2 -.3l1.4 .1l.9 .2l1.5 .7l.6 .7l0 .7l-.4 .7l-2.2 2.1l.2 .7l1.1 .6l2.4 1l1.4 .2l1.4 -.3l1.6 -.9l2.2 -1.3l1.1 -.5l.7 0l.5 .5l-1.9 1.7l-1.1 1.7l-1 1l-.7 .5l-3.5 1.2l-2.1 .6l-1.3 .1l-4.9 -.3l-1.4 .5l-2.8 1.4l-1.4 .1l-1 -.2l.3 -.7l2.8 -3l3.3 -2.6l1.2 -1.3l-.2 -.7l-.9 -.7l-3.6 -2.1l.1 -.7l1.3 -.7l2.2 -.7zM30.5 78.8l.4 -.4l.7 -.2l.5 .6l.2 .7l.2 2.1l-.3 4.8l-.6 2.1l-.7 .9l-.7 .4l-.7 .1l-1.4 -.3l-.6 -.4l-.2 -.7l.1 -2.8l-.2 -1.3l-.5 -2.1l-.7 .2l-.7 .5l-1.4 .4l-1.4 .1l-1.3 -.2l-1.2 -.3l-.9 -.7l-.1 -.7l.4 -.7l1 -.7l.8 -.3l1.3 -.2l.7 .1l1.1 .4l1 .7l.7 .7l0 .3l.7 .4l3.8 -3.5zM68.4 79.5l.7 -.2l.6 .2l-.4 .7l-.9 .7l-1.4 .2l-.5 -.2l1.9 -1.4zM5.2 83.7l2.8 -.1l4.1 .4l1.6 .4l.4 .7l-.5 .7l-1.2 .7l-3.1 1.2l-4.2 2.2l-2.7 .7l-4.9 .1l0 -6.2l4.2 -.1l3.5 -.7zM56.4 89.9l.9 -.4l.7 0l2.8 .5l3.5 -.1l1.4 .2l.3 .5l-1 2.4l-.7 .7l-1.4 .4l-2.8 -.8l-3.5 .1l-.9 -.7l-.2 -.7l.3 -1.4l.6 -.7zM20.1 92l2.5 -.6l1.4 .1l.7 .5l.4 1.4l.1 9l-3.3 0l-4.9 0l0 -4.2l-.3 -2.7l.2 -1.4l.8 -.9l2.4 -1.2zM98.6 94.1l3.8 -.1l0 8.4l-2.8 0l-3.9 0l.1 -4.1l.4 -1.9l.5 -.9l.6 -.7l1.3 -.7zM81.1 94.8l.5 -.5l.7 .4l0 1l-.7 .9l-.6 -1.1l.1 -.7zM-2.4 98.3l0 -.2l3.5 0l.7 .2l.8 .7l.1 3.5l-5.1 0l0 -4.2zM35.3 99l.4 -.4l.4 .4l.1 3.5l-1.1 0l0 -2.8l.2 -.7z" fill="#e45549"/>
<path d="M64.9 4.5l.8 .1l.7 .5l1.3 1.2l.7 1l1.2 4.1l2 2.8l-.4 .4l-1.4 -.3l-1.3 -.8l-2.1 -1.9l-1.3 -1.5l-.8 -2.1l-.2 -1.4l.2 -1.5l.6 -.6zM13.4 5.9l5 -.4l1.4 .1l.7 .3l.6 .7l.3 .7l0 1.4l-.1 .7l-.8 1.1l-1.4 .6l-1.4 .2l-2.8 -.3l-2 -.5l-1.4 -.5l-.7 -.9l-.2 -.4l.2 -.9l.9 -1.2l1.7 -.7zM46.1 26.7l1.5 -.3l1.4 .3l3.2 2.1l.8 .7l.4 .7l.1 1.4l-.3 .4l-2.8 1.4l-.9 .9l-.2 .7l.1 .7l.3 .2l2.4 1.2l.4 .7l0 1.4l-.7 1.3l-1.5 1.5l-2.2 2.8l-1.2 .5l-.7 0l-2.7 -.4l-3.5 -.3l-3.5 .6l-1.4 .1l-.7 -.5l0 -1.4l.4 -1.4l1 -1.4l3.5 -2l.9 -.8l1.1 -1.4l.1 -.7l-1.1 -2.8l0 -1.3l.4 -.9l1.4 -1.4l4 -2.6zM78.1 32.3l1.4 -.2l1.4 .1l2.8 1.2l3.6 1l.9 .7l.2 .7l0 .7l-1.1 2.7l-.7 3.5l-.4 .7l-.7 .7l-1.5 .7l-1.7 .3l-4.9 .2l-1.4 .3l-2.1 .6l-1.4 .2l-1.3 -.5l-2 -1.1l-1.5 -1.4l-1 -1.4l-.7 -1.4l-.2 -1.4l.5 -.9l1.1 -1.1l5.3 -3.5l1.9 -.8l3.5 -.6zM22.4 37.8l.2 -.4l.7 .4l.2 1.4l.3 4.2l-.5 2.5l-.7 1.1l-3.5 3.7l-.7 .7l-2.7 2l-2.2 2.5l-2.7 1.5l-2.8 1.9l-1.4 .2l-.7 -.1l-.8 -.8l-.4 -1.4l0 -.7l.8 -2l0 -1.4l-.4 -.7l-.8 -.7l-1.8 -.7l-4.9 -.2l0 -4.3l4.9 0l6.2 -1.1l1.4 0l.8 .7l1.3 3.6l.7 .5l.7 .1l.7 -.2l2.5 -1.9l3.7 -1.6l1.1 -1.2l.6 -2l-.4 -4.2l.6 -1.4zM99.1 48.3l3.4 0l0 8.7l-4.2 -.1l-1.1 -.3l-2.4 -1.2l-1.4 -.4l-3.4 0l-1.4 -.2l-2.8 -.9l-1.4 -.7l-.8 -.7l.2 -.7l2.7 -.4l5.5 .4l2.1 -.2l2.1 -1l1.6 -1.6l1.3 -.7zM55.8 71.2l.8 -.6l.7 .2l1.4 1.1l1.3 2l.7 2.2l.2 2l-.2 1.2l-.7 .6l-1.3 .1l-1.4 -.2l-1.2 -.3l-1.4 -.7l-.2 -.7l1.3 -6.9zM76.3 76.7l1.8 -.4l1.4 -.1l2.1 .5l.7 .7l0 .7l-.5 .7l-.9 .6l-1.4 .5l-.7 0l-.7 -.1l-1.4 -.7l-1.4 -1l-.1 -.7l1.1 -.7zM30.2 80.2l.8 -.3l.6 .4l.4 2l0 2.1l-.4 1.9l-.6 1.3l-.3 .2l-.4 .3l-.7 .1l-.7 -.4l-.4 -1.3l-.2 -2.8l.1 -1.4l.4 -.7l1.4 -1.4zM20.8 80.9l1 -.5l1.4 .1l.7 .4l.4 .7l-.4 .8l-1.4 .3l-1.4 -.3l-.7 -.8l.4 -.7zM78.2 83l.6 -.3l1.4 -.1l4.9 1.5l1.4 .1l2.1 -.3l.2 .5l-.5 .7l-3.3 1.4l-2 .6l-1.4 .2l-1.6 -.1l-4.6 -.8l-.4 -.6l.6 -.7l2.6 -2.1zM4.2 84.4l1.7 -.3l2.1 0l2.1 .3l1.6 .7l-.1 .7l-1 .7l-6.1 3l-2.1 .5l-4.9 .1l0 -5l4.2 -.1l2.5 -.6zM62.1 91.3l1.5 -.3l.6 .2l.3 .8l-.3 .6l-.6 .5l-.7 0l-.7 -.3l-.7 -.8l.6 -.7zM22 92l1.3 .1l.7 .4l.5 .9l.3 2.1l-.2 6.9l-4.1 0l-3 0l-.1 -6.9l.4 -1.4l.7 -.7l1.3 -.8l2.2 -.6zM97.9 96.2l1 -.5l3.5 0l0 6.8l-1.4 0l-4.3 0l0 -4.2l.6 -1.4l.6 -.7z" fill="#d43d4f"/>
<path d="M14.4 6.6l3.3 -.1l.7 .1l1.1 .7l.3 .7l-.1 .7l-.3 .7l-1 .7l-1.4 .2l-2.8 -.3l-1.4 -.4l-.7 -.6l-.2 -.3l.1 -.7l.6 -.7l1.8 -.7zM64.9 6.6l.7 -.6l.7 .3l1.1 1l.7 1.4l.4 2.8l-.1 .4l-.7 -.2l-1.4 -1l-.5 -.6l-.9 -1.9l0 -1.6zM47.2 27.4l1.1 .1l1.9 1.3l1.3 1.4l0 .7l-.5 .7l-1.9 1.4l-2.2 2.1l-.7 .2l-.7 -.1l-3.5 -1.5l-.7 -.7l-.3 -.7l.1 -.7l.3 -.7l.7 -.7l3.4 -2.2l1.7 -.6zM74.6 33.7l5 -.5l1.3 .1l5.6 1.5l.5 .3l.5 .7l0 1.4l-.8 2.1l-.5 2.7l-.7 1.4l-1.1 .7l-.7 .2l-2.1 .3l-2 .1l-2.8 .1l-3.5 .6l-1.4 -.2l-2.1 -1l-.9 -.8l-1.1 -1.4l-.7 -1.4l-.1 -1.3l.8 -1.4l4.8 -3.4l2 -.8zM42.7 37.8l1.4 -.5l2.8 .1l2.8 -.2l1.4 .2l.7 .5l.2 .6l-.2 1.4l-2 2.1l-1.5 2.1l-1.4 .7l-1.4 .1l-3.1 -.9l-3.1 -1.1l-2.1 .5l-.7 -.1l-.3 -.6l.3 -.7l2.8 -1.4l2 -1.9l1.4 -.9zM3.6 46.9l3.7 -.3l1.3 .1l.7 .4l.6 1.2l-.1 1.4l-.2 .7l-1 1.1l-1.3 .2l-2.8 -.9l-2.8 -.6l-4.2 -.1l0 -3l6.1 -.2zM18.9 48.3l.6 0l0 .7l-.4 .7l-.7 .7l-1.3 .7l-.3 0l-.3 -.7l.3 -.7l.6 -.7l1.5 -.7zM98.1 49.7l.9 -.5l3.5 -.1l0 7.1l-4.2 -.2l-3.5 -1.7l-1.4 -.4l-1.3 -.4l-2.8 0l-1.4 -.2l-.5 -.1l-.4 -.7l1.7 0l2.7 .4l1.3 -.1l2.1 -.6l1.4 -.7l1.9 -1.8zM6.8 57.3l.5 -.4l.7 .3l0 .2l-.7 .7l-.4 -.1l-.1 -.7zM56.8 73.3l.5 -.6l.7 .2l.7 .5l.7 .9l.7 2.1l0 1.1l-.2 .7l-.5 .4l-.7 .1l-1.1 -.5l-.5 -.7l-.6 -2.1l.1 -1.4l.2 -.7zM77.4 77.4l1.4 -.5l1.4 .1l.8 .4l0 .7l-.8 .5l-1.4 .2l-1.4 -.7l0 -.7zM29.7 82.3l.5 -.6l.7 0l.3 1.3l-.3 2.2l-.7 .5l-.7 -1l-.1 -1.7l.3 -.7zM79.3 83.7l.9 -.2l1.4 .2l1.9 .7l1 .7l-.1 .7l-1.4 .6l-1.4 .3l-1.4 -.1l-2.1 -.8l-.4 -.7l.4 -.7l1.2 -.7zM3.9 85.1l2 -.5l1.3 0l2.2 .5l.3 .7l-.7 .7l-2.4 1.4l-2.1 .9l-1.9 .5l-5.1 .1l0 -3.5l3.5 0l1.4 -.2l1.5 -.6zM21.2 92.7l1.4 -.1l.7 .2l.7 1l.1 1.7l-.3 3.4l0 3.5l-2.6 0l-3.2 0l0 -5.5l0 -1.4l.7 -1.4l.9 -.7l1.6 -.7zM98.8 98.3l.8 -.2l2.8 0l0 4.4l-4.1 0l.1 -3.5l.4 -.7z" fill="#b81e48"/>
<path d="M45.6 29.5l1.2 -.4l.7 0l.9 .4l.5 .7l-.1 .7l-.7 .7l-1 .7l-1 .3l-1.3 -.1l-1.2 -.2l-.7 -.7l.4 -.7l2.3 -1.4zM73.2 35.1l2.1 -.3l3.5 .6l2.8 -.4l1.4 -.1l2.1 .3l1.1 .6l.3 .7l0 .7l-1 2.8l-.1 1.3l-.3 1.3l-1 .8l-1.8 .4l-9.1 .3l-2 -.6l-1.4 -.8l-.7 -.8l-.7 -1.2l-.1 -.7l.2 -.7l1.1 -1.4l2.5 -2.1l1.1 -.7zM79.5 37.7l-.9 .9l.4 .6l.5 .2l.9 -.2l.2 -.6l-.4 -.7l-.7 -.2zM49.3 38.5l1.1 -.2l.6 .2l.3 .7l-.3 .7l-1.5 1.4l-1.2 2.1l-.7 .7l-.7 .2l-1.4 0l-1.2 -.2l-1.4 -.7l-.8 -.7l-.4 -.7l-.1 -.7l.4 -.9l.7 -.7l.7 -.3l.7 -.1l3.5 .1l1.7 -.9zM-2.4 48.3l0 -.4l8.3 -.2l.7 .1l.9 .5l0 .7l-.2 .2l-.6 .5l-.8 .1l-4.1 -.6l-4.2 -.1l0 -.8zM98.5 51l.5 -.3l.7 -.1l2.8 0l0 4l-1.4 0l-2.5 -.1l-1.3 -.7l-.4 -.6l-.1 -.1l.3 -.7l1.4 -1.4zM80.1 85.1l.8 -.3l1.3 .3l-.6 .6l-.7 0l-.8 -.6zM4.5 85.8l2 -.4l1.2 .4l-.4 .7l-1.4 .8l-2.1 .4l-.7 -.1l-.6 -.4l2 -1.4zM21.1 93.4l1.5 0l.6 .6l.2 .8l0 1.4l-.5 2.8l0 3.4l-1 0l-3.2 0l-.1 -5.5l.3 -1.4l.9 -1.4l1.3 -.7z" fill="#9e0142"/>
<path d="M6.5 -2.4l10.1 0l-.1 3.5l-.9 .7l-5.5 .1l-2.8 1.7l-.7 -.1l-.1 -5.9zM27.3 -2.4l10.3 0l-.1 3.5l-.7 2.8l-.3 3.4l.1 .7l.5 .7l.7 .3l1.4 -.1l4.9 -1.6l2.8 -.1l.7 -.1l.4 -.5l.5 -2.1l-.4 -2.7l0 -4.2l12.1 0l.2 6.2l1.5 4.2l2 4.2l1.2 1.4l1.9 1.6l2.8 1.5l2.1 .8l1.4 .9l1.3 1.8l.7 .6l1.7 1.1l.7 .7l.4 .7l.3 2.8l-1.7 1l-2.1 1.8l-2 1.1l-.7 .6l-1.3 1.7l-.9 .7l-1.3 .8l-2.8 .9l-1.4 .8l-2.3 2.4l-.7 1.4l.1 2l.9 2.8l-.1 .7l-2 2.8l0 .7l1.5 2.1l.6 1.4l0 1.4l-.8 4.6l-.2 .9l-1.2 1.4l-.3 .7l.4 .4l.7 -.4l.8 -1.4l.5 -.3l1.2 -.4l.9 0l1.4 .5l2.1 2.2l.7 .2l.2 -.1l.3 -.7l-.1 -.7l-1.1 -3l-.1 -1.9l.1 -.9l.7 -1.7l.7 -.3l2.1 .6l4.8 .8l2.8 1l2.1 .4l2 .8l.9 .7l1.4 2.1l.8 .7l2.5 .9l1.4 .3l1.4 .7l1.3 .9l2 2.1l1.6 .9l2.7 .5l3.5 0l0 7.1l-3.5 0l-2 .3l-1.4 .7l-2.8 2.4l-1.4 .6l-2.1 .2l-2.1 -.2l-5.5 -2.4l-3.5 -.7l-8.3 2.1l-3.5 1.9l-1.4 .2l-.7 -.1l-.9 -1l-.5 -1.4l-.5 -2.8l-.6 -2.1l-1.3 -2.1l-2.2 -2.7l-1.6 -1.3l-.6 -.1l-.6 -.7l-.4 -2.1l-.6 -.7l-1.3 -1l-1.4 -.3l-4.1 0l-3.5 -.4l-1.4 .2l-1.1 .8l-.1 .7l.2 .7l1 .9l6.2 1.2l1.9 .7l1.2 .7l-.2 .7l-.7 .6l-2.2 1.1l-1 1l-.6 2.1l.6 4.2l-.3 3.5l-.6 1.3l-1.5 2.2l-.4 .6l-.8 2.1l-.5 .7l-2.5 1.8l-2.1 2.8l-2.6 1.7l-.8 1.6l-.7 .6l-.6 -.2l0 -.7l1.1 -2l0 -.7l-.2 -1.4l-.5 -1.4l-.5 -2.8l0 -1.4l.6 -2.8l2.3 -2.7l.3 -.7l.1 -.7l-.3 -.7l-1.6 -2.1l-1.2 -2.1l-1.6 -.9l-3.5 -.4l-2.8 .1l-1.4 .3l-1.4 .6l-.6 .6l-.5 1.1l.2 1.4l.9 .9l2.1 .5l.7 .6l.2 .8l-.2 .3l-.5 .4l-.9 -.1l-1.4 -.4l-2 .1l-3.5 1.1l-4.2 1l-3.4 1.8l-2.1 .2l-4.5 -.3l.6 -.7l3.2 -.9l2.1 -1l.6 -.8l-.1 -.7l-.6 -.7l-1.3 -1.1l-1.4 -.7l-1.4 0l-2.8 1.2l-.7 .1l-4.8 .1l0 -9.7l3.4 -.1l.7 -.5l1.1 -1.8l1 -.9l2.1 -.6l2.8 -.4l2.1 -.6l2 -.8l2.1 -1.1l1.4 -1.3l1.3 -2l2.2 -2.2l1.9 -2.6l3 -2.1l.8 -1.4l.7 -2.8l.1 -1.4l-.4 -2.7l-.4 -5.6l-.6 -1.4l-1.7 -2.1l-1.3 -2.4l-.7 -.7l-3.4 -.3l-2.2 -1l-1.4 -.2l-.7 0l-.6 .5l0 .7l1.3 2.1l.2 1.3l-.2 .6l-2.2 2.9l-.8 2.1l-.3 1.4l-1 1.4l-4 2.9l-2.8 1.3l-2.1 .3l-3.4 0l0 -21l3.4 0l1.4 -.3l.7 -.6l.1 -.7l-.9 -3.5l0 -2l.3 -2.1l-.3 -2.8l.7 -1.4l2.2 -3l.3 .2l.2 .7l.3 2.8l1.3 1.2l1.4 .6l4.8 .9l2.1 .7l2 1.5l1.5 1.4l.7 .4l1.4 -.1l2.5 -1l1.6 -.4l1.4 -.9l2.8 -3.1l1.4 -.9l.7 -.1l.7 .2l2.1 1.3l.7 .2l.6 -.5l.2 -1.4l-.4 -.7l-1.1 -.4l-2.1 .1l-.7 -.1l-2.8 -1.8l-1.4 -1.3l-.3 -2.1l.2 -6.9zM46.9 18.9l-1.3 .9l-.6 .7l-1.7 2.7l-4.2 5.6l-.8 1.4l-.7 2.1l-.4 2.1l-.7 1.2l-2.9 2.2l-1.6 2.1l-2.1 4.2l-1 3.5l-.7 1.3l-1.1 1.4l-.2 1.4l.2 .7l1.7 2.2l1.2 2l.9 .8l2.1 .8l2.1 .4l1.4 -.1l1.1 -1.2l.5 -3.5l.4 -2.8l1.2 -1.4l3 -.8l.7 -.6l4.2 -.9l1.4 -.8l2.1 -2.8l1.5 -1.7l1 -1.4l.9 -2l.6 -.8l2.9 -1.3l1 -.8l1.1 -1.8l1.8 -2.3l.1 -.7l.2 -1.4l-.2 -2.1l-.1 -.7l-.8 -1.4l-1.7 -1.1l-2.1 -.9l-1.2 -.7l-.9 -1.4l-.3 -.7l-1.1 -1.2l-1.3 -.6l-1.4 -.2l-2.1 0l-2.1 .4zM67 25.8l-.4 .3l-.4 .7l.2 .7l.6 .7l.7 .4l1.4 .5l.7 -.2l.8 -.7l0 -.7l-.4 -.7l-1.1 -.9l-.7 -.2l-1.4 .1zM71.2 64.9l-.1 .7l.2 .7l.7 .7l3.4 1.8l1.4 .4l.6 -.8l-.2 -.7l-2.5 -2.5l-1.4 -.6l-.7 -.1l-.7 0l-.7 .4zM22.6 57.9l-.8 .8l-.2 .7l.4 .7l.6 .4l2.1 .6l1.4 0l1 -.3l.2 -.7l-.6 -.7l-3.4 -1.7l-.7 .2zM42.7 50.2l-.2 .9l.3 .7l.6 .4l.7 0l.6 -.4l.2 -.7l-.8 -1.1l-.7 -.2l-.7 .4zM68.5 -2.4l4.3 0l0 3.5l-.2 .9l-.3 .5l-1.1 .5l-1.4 -.3l-.7 -.4l-.5 -1.2l-.1 -3.5zM84 -2.4l9.7 0l-.1 4.9l-.6 2l-.3 2.1l.3 7l.8 1.4l.9 .8l.7 .9l1.1 2.4l1.7 1.9l1.4 .3l2.8 0l0 3.3l-3.5 .1l-.7 .2l-.8 1.2l0 .7l.8 .5l1.4 .2l2.8 0l0 7.8l-5.6 .2l-.8 .3l-.3 .7l.5 .7l1.3 .9l1.4 .3l3.5 0l0 7.3l-3.5 0l-1.4 .1l-.7 .5l-2.1 2.5l-.6 .5l-.7 .2l-2.1 -.1l-2.1 -.7l-2.1 -.3l-.7 -.1l-.7 -.7l1.4 -1l1.4 -1.3l1 -1.2l.9 -1.4l.8 -3.4l.8 -1.4l1.9 -2.1l.1 -.7l-.3 -1.4l-.6 -1.4l-1 -.7l-.8 -.3l-2.8 -.2l-1.4 -.8l-.4 -2.8l-.4 -.7l-.7 -.7l-1.6 -.7l-.8 -.7l-1.1 -2.1l-1.9 -1.6l-.7 -.9l-.5 -1.7l-.8 -1.4l-2.2 -1.2l-.7 -.7l-1.1 -2.2l-2.4 -2.6l-.2 -.9l.2 -1.4l.7 -1.2l.7 -.5l.7 -.1l.7 .2l.8 .9l.4 1.4l.7 1.4l2.7 2.1l1.4 2.1l1 .5l1.3 .1l.7 -.6l0 -.7l-.3 -4.2l.2 -4.2l.5 -3.4l0 -4.2zM85.1 17l-.1 .7l.5 1.4l1.8 1.4l1.5 2.1l.5 .3l.7 .1l.6 -.4l.3 -.7l0 -.7l-.5 -1.4l-1.4 -2.1l-1.1 -.8l-1.4 -.4l-.7 -.1l-.7 .6zM17.2 33.7l1.2 -.3l.7 .2l.7 .8l.2 .7l-.2 1.2l-.6 1.6l-.5 .7l-.1 .7l0 .6l.7 1.4l.4 1.4l-.1 .7l-.5 1.1l-.7 .5l-1.4 0l-.6 -.5l-.6 -1.1l-.1 -.7l.4 -1.4l.9 -2l-.5 -3.5l.2 -1.4l.5 -.7zM97.5 83l1.5 -.2l3.4 0l0 4.7l-4.1 .1l-2.1 1.2l-3.5 3.4l-2.1 1l-1.3 .3l-2.1 -.8l-1.6 -1.4l-.3 -.7l.1 -.7l1.8 -1.3l2.7 -1.1l1.4 -.9l1.6 -1.5l1.2 -.9l3.4 -1.2zM65.9 85.1l1.8 -.2l.7 .1l-.4 .8l-1 .2l-1.9 -.2l.8 -.7zM19.4 87.2l1.8 -.1l.3 .1l.4 .7l-.7 .8l-1.4 .5l-1.4 .2l-1.2 -.1l.3 -.7l.8 -.7l1.1 -.7zM50.9 89.2l.8 0l-.1 .7l-.6 .7l-.7 .1l-.1 -.1l0 -.7l.7 -.7zM9.9 89.9l2.3 -.4l2.3 .4l-.2 .7l-1.1 2.1l-.3 1.4l.1 1.4l1.3 2l.2 .7l.1 4.2l-1.7 0l-1.9 0l-.1 -3.5l-.3 -1.4l-2.9 -2l-.8 -.7l-.4 -.7l.2 -.7l1 -1.4l1.3 -1.4l.9 -.7zM69.3 92l1.2 -.1l2.8 .6l2.8 0l.6 .2l.2 2.1l-.1 7.6l-1.4 0l-.1 -3.5l-.2 -.6l-1.1 -.8l-.7 0l-1 .8l-.3 .6l0 3.5l-3.6 0l-13.2 0l0 -2.8l.1 -.7l.8 -.6l1.3 -.7l2 -.8l4.2 -.4l1.4 -.5l1.2 -1.1l1.5 -2.1l1.6 -.7zM46.8 94.1l1.2 0l.9 .6l2.5 2.9l1 1.4l.1 3.4l-2.2 0l-6.4 0l0 -3.4l.4 -2.1l.5 -1.3l.6 -.8l1.4 -.7zM88.4 94.8l.8 -.2l.7 .1l1.4 .9l.9 1.3l.4 1.4l.1 4.1l-2.1 0l-5.2 0l0 -3.4l.2 -1.4l.8 -1.4l.7 -.7l1.3 -.7zM29.5 96.9l.7 0l.7 .7l.2 1.4l0 3.5l-2.2 0l.1 -4.2l.5 -1.4z" fill="#f3faac"/>
<path d="M7.8 -2.4l1 0l0 2.8l-.1 .5l-.7 .3l-.1 -.1l-.1 -3.5zM13 -2.4l2.1 0l0 2.8l-.2 .4l-.4 .3l-.7 0l-.8 -.7l0 -2.8zM27.9 -2.4l9.2 0l0 3.5l-.5 2.1l-.5 4.8l-.3 .7l-.7 .3l-1.4 .1l-1.4 -.2l-2.8 -1.4l-1.4 -1.1l-.5 -1.2l0 -.7l.3 -2.7l0 -4.2zM49.1 -2.4l10.6 0l0 4.2l.6 2.7l3.5 7.7l1.2 1.4l2 1.8l2.1 1.1l2.8 1.1l1.2 .8l2.3 2.6l2.1 1.6l.6 1.4l0 1.4l-.3 .7l-3.6 2.7l-2.3 1.3l-1.4 1.9l-1.1 1l-1.3 .7l-3.1 1.1l-1.4 1l-2 2.1l-.6 1.4l0 .7l0 1.3l.6 2.1l-.2 1.4l-1.3 1.7l-3.5 3.2l.7 .5l1.4 -.5l.7 -.1l.7 .2l.7 .4l.6 .9l.4 1.4l-.3 3.1l-.5 1.7l-.7 1.4l-1.6 2.1l-.3 .7l.1 .7l.9 .3l.7 -.2l.7 -.4l1.4 -1.8l.7 -.6l1.4 -.3l.7 .1l.7 .4l2 2.3l.7 .4l.7 -.1l.2 -1.5l-.3 -1.4l-.8 -2.1l-.2 -1.4l.4 -2.3l.7 -.6l.7 -.1l5.7 .9l3.4 1.2l1.4 .2l2.1 .7l1 .7l1.2 2.1l.7 .7l1.2 .6l3.1 .8l1.7 .7l.9 .7l2.1 2.1l1.9 1.1l2.8 .5l3.5 0l0 6.7l-3.5 0l-2.1 .3l-1.4 .6l-3.1 2.6l-2.4 .7l-1.4 0l-1.4 -.3l-1.4 -.4l-4.2 -1.9l-3.4 -.7l-.7 0l-3.6 1.2l-4.1 .9l-3.4 1.9l-1.4 .2l-.7 -.2l-.8 -.7l-.6 -2l-.3 -2.2l-.6 -2.1l-.8 -1.4l-3.2 -4.6l-1.4 -1.5l-1.6 -2.2l-1.8 -1.2l-1.4 -.3l-4.2 0l-3.5 -.4l-1.4 .1l-1 .4l-.5 .7l0 .7l.2 .7l.6 .7l.7 .5l1.4 .4l3.7 .5l1.9 .7l1 .7l0 .7l-2.4 1.8l-1 1.6l-.3 2.1l.5 4.2l-.1 2.1l-.5 1.5l-1.8 2.6l-.9 2.1l-.8 1.4l-2 1.3l-.7 .7l-1.4 2.2l-1.4 .7l-.7 .2l-.7 -.3l-1.4 -3.1l-.4 -2.4l0 -2.1l.4 -1.7l.7 -1.1l2.1 -2l.3 -.7l.1 -.7l-.4 -1.1l-1.4 -1.7l-1.1 -2.1l-.9 -.7l-1.5 -.5l-4.8 -.5l-2.8 .4l-1.4 .6l-.9 .7l-.7 1.4l.1 1.4l.6 1.4l.1 .7l-1.2 .7l-1.9 .7l-2.9 .7l-3.6 .5l-1.4 0l-.4 -1.2l-1.1 -1.4l-2 -1.5l-1.4 -.6l-1.4 0l-3.4 1.4l-4.9 .1l0 -9.1l3.5 0l.7 -.4l1.4 -2.4l.7 -.7l2 -.6l2.8 -.4l2.1 -.6l2.1 -.8l2.8 -1.5l.9 -1l1.5 -2.1l1.7 -1.7l2.1 -3l3.3 -2.2l.7 -1.4l.7 -3.5l-.1 -1.4l-.5 -2.7l-.2 -4.9l-.6 -1.4l-1.9 -2.6l-1.4 -2.7l-.7 -.4l-2.8 -.1l-4.1 -1.3l-1.5 .2l-.6 .7l.1 .7l1.5 2l.2 1.4l-.7 1.4l-1.6 2.1l-1.3 3.5l-.9 1.4l-3.8 2.7l-1.2 .8l-1.3 .5l-1.4 .3l-4.2 0l0 -20l4.2 -.1l1.4 -.5l.7 -.4l.4 -.7l-.1 -.7l-1 -2.4l-.2 -1.8l.5 -2l1 -2.2l.7 -1l.7 -.1l4.2 .6l3 .6l2.1 .7l2 1.4l1.9 2l.7 .4l.7 0l2.5 -1.1l3.1 -.9l1.3 -1.1l2.1 -2.3l1.4 -.8l1.4 .2l2.8 1.3l.7 -.1l.5 -.4l.2 -.6l.2 -2.2l.8 -.7l1.8 -.3l4.8 -1.6l3.5 .2l.5 -.4l.5 -.7l.5 -2.1l0 -6.9zM66.3 25.9l-.5 .9l.2 .7l1 1l2.1 .8l1.4 -.2l.2 -.2l.3 -.7l-.1 -.7l-1.1 -1.4l-.7 -.4l-.7 -.2l-1.4 0l-.7 .4zM71.2 64l-.5 .2l-.2 .7l.3 1.4l.5 .7l4.8 2.5l.7 .2l.7 -.2l.4 -.4l0 -.7l-.3 -.7l-.8 -1.1l-1.4 -1.3l-1.4 -.9l-1.4 -.3l-1.4 -.1zM21.9 57.7l-.7 1l-.2 .7l.2 .7l.7 .4l2.1 .6l2.8 .3l.9 -.6l.1 -.7l-.4 -.7l-4.1 -2.1l-.7 0l-.7 .4zM48.3 18.3l-1.4 .3l-1.2 .5l-1 .7l-.5 .7l-1.4 2.8l-2.3 3.5l-1.6 2l-.8 1.4l-.7 2.1l-.2 1.4l-.7 1.5l-1.4 1.3l-1.9 1.4l-1.4 2.1l-2.1 4.1l-1.5 4.3l-1 1.3l-.6 1.4l.2 1.4l2.1 2.6l1.3 2.2l.7 .5l4.2 1.4l1.4 0l.8 -.5l.6 -.7l.4 -1.4l.1 -3.5l.2 -1.4l.7 -1.2l.7 -.4l.7 -.2l.7 .2l.2 .3l.6 1.4l.5 .6l.7 .2l.7 0l.7 -.3l.6 -.5l.1 -.7l-.2 -.7l-.9 -1.4l.5 -.7l2.7 -.8l1.4 -.8l1.1 -1.2l1 -1.6l1.7 -1.9l1.7 -3.1l.7 -.9l1.4 -.8l1.4 -.5l1.3 -.9l.8 -1.4l1.7 -2.1l.6 -1.4l.2 -1.4l-.2 -2l-.3 -1.4l-.6 -.9l-1.4 -1l-3.1 -1.6l-.6 -.7l-1.2 -2.1l-.9 -.7l-1.1 -.5l-1.4 -.3l-1.4 -.1l-2.1 .1zM69 -2.4l2.7 0l0 3.5l-.3 .7l-.9 .4l-.7 -.2l-.7 -.8l-.1 -3.6zM84.2 -2.4l9.3 0l-.1 4.7l-.9 4.3l.2 6.3l.2 1.4l.5 .7l1.4 1.3l.6 1l.9 1.8l1.2 1.7l.7 .6l.7 .3l3.5 .1l0 2.3l-3.5 0l-.7 .4l-.8 .9l-.4 .7l0 .7l.5 .6l.7 .3l4.2 .1l0 7.2l-7 0l-.6 -.3l-1.4 -2.4l-.7 -.8l-1.4 -.4l-2.3 -.2l-1.5 -.7l-.4 -.7l-.2 -2l-.5 -1l-.7 -.6l-1.4 -.6l-.8 -.6l-1.2 -2.3l-2.1 -1.7l-.7 -.9l-.3 -1.4l-.7 -1.4l-.4 -.4l-2 -.9l-.7 -.7l-1 -2.1l-1.9 -2l-.5 -.8l-.1 -1.4l.6 -1.3l.7 -.5l.7 0l.7 .3l.6 .8l1 2.1l.5 .6l2.2 1.5l.6 .7l.7 1.4l.7 .6l.7 .3l1.3 .1l.7 -.1l.3 -.2l.2 -1.4l-.6 -3.5l0 -2.1l.1 -2.5l.6 -3.7l0 -4.2zM85.1 16l-.3 .3l-.1 .7l.2 1.4l.4 .7l1.9 1.6l1.4 1.9l.7 .6l.7 .1l.7 -.4l.5 -1l0 -.7l-.8 -2.1l-1 -1.4l-1.5 -1.1l-1.4 -.5l-1.4 -.1zM17.1 34.4l.6 -.5l.7 -.1l.7 .3l.2 .3l.3 .7l0 .7l-.5 1.6l-.4 .5l-.3 .5l-.7 .1l-.7 -1.2l-.2 -1.5l.3 -1.4zM93.4 37.2l.7 -.4l.7 .1l2.1 1.4l1.4 .4l4.2 .1l0 6.7l-4.9 .2l-.9 .5l-1.2 1.6l-1.4 1.3l-1.3 .3l-2.4 -.4l-1.1 -.5l-1 -.2l-1.4 -.7l4.3 -4.8l.4 -2.8l.2 -.7l1 -1.5l.6 -.6zM17.7 39.9l.8 .3l.6 1l.4 1.5l-.3 1.4l-1 .7l-1.1 -.1l-.8 -.6l-.2 -.7l0 -.7l.3 -1.4l.7 -1l.6 -.4zM9.6 79.5l1.2 -.2l.5 .2l-.5 .7l-1.4 .3l-1.5 -.3l1.7 -.7zM96.1 83.7l2.8 -.5l3.5 0l0 3.9l-3.5 0l-1.4 .4l-2 1.6l-2.3 2.2l-1.2 .9l-2.1 .7l-.7 0l-1.4 -.3l-1 -.6l-.7 -.7l-.4 -.7l.1 -.7l.6 -.6l1.2 -.7l2.3 -.9l1.4 -.8l2.8 -2.5l2 -.7zM10.6 89.9l2.3 0l.5 .7l-.9 2.8l-.2 2.1l.2 .7l1 1.1l.7 1.5l0 3.6l-1.4 0l-1.1 0l-.1 -4.2l-.4 -1.4l-2.5 -1.4l-.8 -.6l-.4 -.7l-.1 -.7l.7 -1.4l1.2 -1.4l1.3 -.7zM68.1 92.7l1 -.4l1.4 -.1l4.8 .9l.7 .3l.2 .7l-.1 2.1l-.8 .5l-1.3 -.1l-.7 .2l-.7 .4l-.7 .8l-.5 .9l0 3.5l-5.8 0l-8.9 0l.1 -3.5l.6 -.6l1.1 -.7l2.2 -.7l2.8 -.3l1.4 -.5l.9 -.6l2.3 -2.8zM45.8 95.5l1.1 -.5l.7 0l.6 .2l1.4 1.2l1 1.2l.6 1.4l.1 3.4l-.3 0l-6.2 0l.1 -4.8l.4 -1.4l.5 -.7zM88 95.5l1.2 -.3l1.4 .4l.7 .6l.8 1.4l.3 1.4l0 3.4l-2.5 0l-4.3 0l.1 -4.3l.7 -1.4l.7 -.7l.9 -.5z" fill="#e6f598"/>
<path d="M29.1 -2.4l7.1 0l0 3.5l-.3 4.8l-.4 1.4l-.4 .7l-1.4 .2l-1.4 -.3l-2.3 -1.3l-.8 -.7l-.4 -.7l-.1 -1.3l.4 -2.8l0 -3.5zM50.6 -2.4l8 0l0 3.5l.3 1.4l.9 2l1.7 3.1l1.6 3.9l.9 1.4l1.4 1.4l1.6 1.3l2.1 1.1l2.6 1l1.1 .7l1.9 2.1l2.4 2.1l.6 1.4l-.1 1.4l-.5 .7l-2.4 2l-1.4 .8l-.7 .1l-.7 -.2l-1 -2l-.8 -.7l-1 -.6l-2.1 -.3l-.8 .2l-.9 .7l-.1 .7l.8 1.4l1.7 1l2.8 .7l.3 .3l0 .7l-.3 .7l-1.4 1.3l-1.4 .7l-3.4 1.1l-2.7 2.5l-.5 .7l-.4 1.4l.3 4.1l-.4 1.4l-1.2 1.4l-3.5 2.8l-.8 1.4l.1 .7l.7 .4l1.4 -.1l2.1 -.6l.7 .1l.7 .5l.4 1.1l0 2l-.5 2.1l-1.1 2.1l-1.6 1.7l-.7 .6l-.7 .2l-2.8 -1.5l-1.3 -.5l-1.4 -.2l-3.5 0l-4.9 -.3l-1.4 .2l-.7 .5l-.2 .7l.4 1.4l.5 .7l.7 .6l1.4 .5l2.8 .3l2.2 .7l.9 .7l0 .7l-1.7 1.9l-.9 2.2l-.2 2.1l.4 4.9l-.6 2l-2 2.8l-.7 2.1l-.5 .7l-.9 .7l-1.5 .7l-.7 .7l-.7 1.6l-.7 .7l-.7 .3l-.7 -.2l-.7 -.7l-.7 -1l-.7 -1.7l-.2 -1.8l.2 -2.2l.6 -1.3l2.4 -2l.9 -1.4l.1 -.7l-.2 -1.4l-1.1 -2.1l1.1 -2.1l.1 -.7l-.4 -.8l-.7 -.1l-2.8 .8l-5.6 -.6l-2 0l-2.1 .4l-1.4 .5l-1.4 1l-.5 .9l-.2 1.4l.1 2.1l-.2 .7l-1 .7l-3.1 .8l-2.7 .2l-1.4 -.3l-4.2 -3.1l-2.1 -1l-1.4 .1l-2.2 1.2l-1.2 .4l-1.4 .2l-3.5 0l0 -8.3l3.5 0l.7 -.3l.7 -.8l1.2 -2.3l.9 -.7l6.9 -1.6l4.4 -1.9l.8 -.7l1.7 -2.7l1.6 -1.5l1.9 -3l1.4 -1l1.4 -.5l.7 -.2l.6 .6l.4 2.1l1.8 2.1l1.3 2.5l.7 .7l5.6 2.2l.7 -.1l1.4 -.5l.8 -.7l.3 -.7l-.2 -4.8l.5 -1.7l.7 -.6l.7 .1l1.3 1.6l1.4 .5l.7 -.1l1.2 -.5l.7 -.7l.2 -.7l-.5 -2.1l.7 -.7l1.9 -.8l1.4 -1.3l1.4 -2.1l2.3 -2.8l1.1 -2.1l.7 -.9l.7 -.5l3.2 -1.3l2.8 -3.5l.7 -1.4l.4 -2.8l-.1 -2.7l-.2 -.7l-.6 -.7l-3.7 -2.1l-.7 -.7l-1.2 -2.1l-.9 -.7l-1.8 -.7l-2 -.5l-2.8 0l-2.8 .5l-1.8 .7l-.9 .7l-.4 .7l-1.7 4.2l-3.1 4.8l-.9 2.1l-.9 3.1l-.7 .8l-2.4 1.7l-1.1 1.2l-3 5.7l-1.2 3.5l-.6 1l-.7 .5l-.7 .2l0 -1l.7 -4.2l-.7 -4.8l-.1 -4.2l-1 -2.1l-1.4 -2.1l-1 -2.7l-.7 -1.2l-2.3 .5l-1.2 0l-3.4 -1.2l-1.4 -.2l-1.4 .3l-.6 .4l-.4 .7l.3 .7l1.6 2l.3 .7l0 .7l-.6 1.4l-1.6 2.1l-1.1 2.8l-.7 1.4l-2.3 2l-3.2 2.1l-2.1 .7l-4.2 0l0 -19l3.5 0l1.4 -.2l2 -.9l.8 -.7l.2 -.7l-1.5 -2.8l-.2 -.7l-.1 -1.4l.8 -2.1l1.1 -1.3l1 -.8l1.4 -.3l2.1 .1l1.9 .3l2.4 .7l1.4 .7l.9 .7l2.4 2.8l1.4 .5l.7 -.1l2 -1.2l2.9 -1l1.4 -1.1l2 -2.2l1.4 -.8l1.4 .2l2.8 1.2l.7 .1l.7 -.1l.4 -.4l.2 -.7l.2 -2.1l.4 -.7l1.3 -.7l3.7 -1.3l1.4 -.3l1.4 .1l2.1 .5l.7 -.2l1 -1.6l1 -3.4l.3 -2.1l0 -3.5zM21.9 56.9l-1.1 1.1l-.7 1.4l-.1 .7l.5 .6l1.4 .4l4.9 .7l.7 -.1l.7 -.5l.2 -.4l0 -.7l-.2 -.7l-.9 -.7l-4 -1.9l-.7 -.1l-.7 .2zM84.5 -2.4l8.7 0l-.1 4.2l-.8 4.8l.1 7.7l.3 .8l2.1 2l2.1 3.4l1.4 1.6l.6 .5l-.1 .7l-1.2 1.1l-1 1.7l-.1 .7l.4 .7l1.4 .5l4.2 .1l0 6.6l-6.3 -.1l-.7 -.3l-.7 -.6l-1.3 -2.1l-.8 -.5l-3.4 -.5l-1.1 -.4l-.6 -.7l-.7 -2.7l-.4 -.7l-2.6 -1.4l-1.6 -2.7l-2.1 -1.6l-.7 -1.3l-.7 -2.1l-.7 -.6l-1.5 -.7l-.8 -.7l-1.4 -2.8l-1.8 -1.7l-.3 -1.1l.3 -1.2l.7 -.5l.7 0l.5 .3l1.6 2.6l2.7 1.9l1.6 2.5l.5 .3l2.1 .5l.8 .5l1.1 2.8l2.3 2l1.4 2.1l.7 .4l.7 0l.7 -.3l.6 -.7l.2 -1.4l-.4 -1.4l-1 -2.1l-.7 -.7l-.8 -.5l-3.5 -1.5l-.4 -.7l-.7 -4.2l-.2 -2.1l.6 -6.2l.1 -4.2zM18.3 34.4l.9 .7l-.1 1.4l-.6 .7l-.1 .1l-.7 -.1l-.4 -1.4l.4 -1.1l.6 -.3zM93.1 38.5l1 -.6l3.5 1.1l4.8 .2l0 5.9l-3.4 0l-1.4 .2l-.7 .2l-.7 .6l-.7 1.2l-.7 .9l-.7 .6l-1.4 .3l-1.5 -.2l-1.8 -.7l-1.1 -.7l-.1 -.7l1.7 -2.1l3.2 -2l0 -.7l-.6 -1.4l-.1 -.7l.2 -.7l.5 -.7zM17 41.3l.8 -.5l.7 .2l.6 1.1l0 1.6l-.6 .6l-.7 .1l-.9 -.3l-.4 -.7l-.1 -.7l.6 -1.4zM69.1 53.8l.7 -.3l.7 -.1l3.6 .4l4 1.3l3.3 .8l1.2 .7l.4 .4l.7 1.7l.7 .8l1.1 .6l3 .7l2.1 .7l1.4 1l2.1 2l1.4 .8l2.8 .7l4.1 .1l0 6.1l-3.4 0l-2.1 .4l-1.5 .6l-2.6 2.1l-1.5 .8l-2.1 .3l-2.1 -.2l-1.3 -.4l-5.6 -2.2l-2.1 -.4l-1.4 .2l-3.6 1.2l-4 1l-3.5 1.8l-.7 0l-.7 -.3l-.7 -.8l-.2 -1l-.8 -4.1l-.5 -1.4l-2 -3.5l-.6 -1.4l.1 -.7l2 -2l1.3 -1.8l.7 -.5l.7 -.1l.7 .1l.7 .6l1.4 1.6l2.1 1.7l.3 .4l.6 2.1l.5 .7l.7 .5l5.5 2.9l.7 0l.7 -.5l.4 -.8l0 -.7l-.8 -1.4l-1.4 -1.4l-1.7 -1.2l-3.4 -1.1l-.9 -.5l-.3 -.7l-1.6 -5.5l0 -1.4l.7 -1.4zM95.2 84.4l2.4 -.3l4.8 0l0 2.2l-3.4 0l-1.4 .6l-2.1 1.6l-2.8 2.7l-1.3 .8l-.8 .3l-2 0l-.7 -.3l-1 -.7l-.5 -.6l.1 -.7l.6 -.7l1.2 -.7l3 -1.4l2.4 -2.1l1.5 -.7zM10.3 90.6l1.2 -.2l.6 .2l.3 .7l-.2 1.2l-.7 1.8l-.7 .7l-.7 0l-.7 -.3l-.7 -.6l-.3 -.7l.4 -1.4l.6 -.7l.9 -.7zM68.5 92.7l1.3 -.3l2 .3l1.7 .7l1 .7l.1 .7l-2.7 2.3l-.9 1.2l-.2 .6l-.1 3.5l-6.5 0l-6 0l.1 -3.5l.5 -.6l1.2 -.7l4.2 -.9l1.4 -.7l.7 -.7l1.4 -2l.8 -.6zM87.8 96.2l.8 -.3l1.4 0l.6 .4l.7 .6l.5 .7l.3 1.4l0 3.4l-.8 0l-5.3 0l.2 -4.1l.7 -1.4l.9 -.7zM46.4 96.9l.4 -.4l.7 -.2l1.2 .6l.9 1l.4 1.1l.1 .7l0 2.8l-.5 0l-3.7 0l0 -4.2l.5 -1.4z" fill="#c8e99e"/>
<path d="M32.8 -2.4l1.7 0l0 3.5l.5 1.3l.3 2.1l-.3 2.1l-.7 .6l-.6 .1l-1.4 -.5l-.8 -.9l-.4 -.7l.1 -1.3l1.5 -2.8l.1 -3.5zM84.8 -2.4l8 0l-.1 4.2l-.7 4.1l.1 4.9l-.4 4.2l.3 .7l2.1 1.5l.7 .8l2.9 4.6l-.1 .7l-1.5 2.8l-.1 .7l.2 .7l.7 .6l.6 .2l4.9 .1l0 6l-4.2 0l-2 -.4l-.7 -.4l-.6 -.6l-.8 -1.5l-.7 -.7l-.7 -.2l-2.8 -.2l-1.4 -.4l-.7 -.7l-.9 -3.2l-.5 -.5l-2 -1l-.7 -.7l-.7 -1.3l-.7 -1l-2.1 -1.6l-.4 -.9l-.6 -2.1l-.4 -.7l-2.1 -1l-.7 -.5l-.6 -1.2l-.3 -1.4l-.5 -.7l-1.4 -1l-.2 -.4l-.2 -.7l.4 -.7l.7 0l.6 .7l.8 1.7l2.8 1.4l.7 .7l.8 1.8l.6 .5l2.8 .9l.7 .7l.8 2l.5 .7l1.8 1.4l1.7 2.5l.7 .3l.7 0l1.3 -.7l.5 -.7l.1 -1.4l-.3 -1.4l-1 -2.8l-.8 -.7l-3.6 -1.3l-.7 -.7l-.4 -.9l-.7 -4l-.2 -2.1l.1 -2.1l.5 -3.4l.1 -4.2zM53.1 2.4l.7 -.2l1.4 .4l2.1 .9l1.4 .9l2.1 2.5l2.5 5.2l1 1.4l1.6 1.4l1.8 1.3l4.7 2.2l2.3 2.4l2 1.7l.5 .7l.1 .7l-.3 1.4l-1.3 1.4l-1.7 1.3l-.7 .2l-.7 0l-2 -2.2l-1.5 -.8l-1.4 -.3l-2.7 -.1l-.7 -.2l-1.4 -1l-2.4 -1.1l-.9 -.7l-1 -2l-.8 -.7l-2.6 -.9l-2.7 -.7l-2.8 -.1l-3.5 .4l-2.8 .8l-.8 .5l-.5 .7l-.6 2.7l-.8 2.1l-3 5.6l-1.6 4.1l-1 1.2l-2.1 1.2l-.9 1.1l-1.9 3.6l-2.5 4.1l-.2 1.4l-.1 -2.8l-.9 -4.2l-.2 -4.9l-.5 -1.4l-1.8 -2.7l-.5 -1.4l-.4 -2.8l.3 -4.2l-.8 -1.8l-.2 .4l-1 4.2l-.5 .7l-1.1 .7l-1.4 .2l-3.4 -1.1l-1.4 -.2l-2.1 .3l-1.2 .8l-.2 .7l.2 .7l2.1 2.1l.4 .7l0 .7l-.7 1.4l-1.7 2l-1.4 3.5l-1.1 1.4l-2.6 2.1l-2.4 1.4l-1.8 .3l-3.5 0l0 -17.9l4.9 -.2l2 -.7l1.6 -1l.4 -.7l0 -.7l-1.9 -3.4l-.1 -1.4l.7 -1.6l1.1 -1.2l.8 -.7l1.6 -.5l1.4 -.1l2.8 .5l2.1 .7l1.3 1l2.1 2.8l.7 .6l2.6 1.3l.2 .2l.7 -.4l.6 -1.2l.9 -.7l2.7 -1.4l2.6 -2.8l.8 -.6l1.4 -.3l3.5 1.3l1.4 .2l.7 -.2l.5 -.4l.1 -.7l.1 -2.1l.2 -.7l.5 -.7l1.3 -.7l2.8 -1l1.4 -.2l1.4 .2l2.1 .8l.7 -.1l1 -1l1.8 -3.6l.7 -1l.7 -.7l.6 -.3zM6.6 30.2l-.5 .7l-.1 .7l.6 1.4l.7 .1l.5 -.9l0 -1.3l-.5 -.7l-.7 0zM30.9 26.7l-.5 3.5l.4 1.4l.5 0l.3 -.1l.2 -.6l.1 -2.7l-.3 -1.9l-.7 .4zM63.8 28.1l.4 -.6l2.8 1.7l2.7 1l.5 .7l-.2 .7l-.6 .7l-1.1 .7l-4.8 1.1l-2.5 2.3l-.4 .7l-.2 .7l0 4.9l-.3 1.4l-1 1.4l-3.4 2.7l-1.7 2.1l-.1 .7l.5 .7l.8 .3l1.4 .2l2.8 -.3l.9 .5l.3 1.4l-.1 1.4l-.4 1.4l-.7 1.4l-1.4 1.5l-1.4 .7l-.7 0l-3.5 -1.3l-5.5 -.2l-5.8 -.7l-.9 -.7l-.3 -.7l-.3 -2.1l0 -1.4l.3 -.8l.7 .2l1.4 .8l1.4 .2l1.4 -.4l1.2 -.7l.6 -.7l.3 -.7l0 -2.1l2.8 -2.3l2 -3.1l1.9 -2.2l1.6 -2.8l.9 -.7l3.3 -.9l.7 -.5l.9 -1.4l1.5 -1.3l.6 -1.4l.4 -3.5l.3 -.7zM94.6 39.9l.9 -.3l7 .2l0 5l-5.6 .2l-.7 .3l-.7 1.1l-.5 1.1l-.5 .7l-1.1 .6l-.6 .1l-2.4 -.7l-.9 -.7l-.2 -.7l.2 -.7l1.2 -1.2l1.4 -.6l2 -.5l.5 -.4l.2 -.7l-.3 -2.1l.1 -.7zM17.4 42l.3 -.3l.8 .3l.3 .7l-.1 .7l-.3 .4l-.7 .1l-.7 -.5l0 -.7l.4 -.7zM23 51l1 -.4l.7 0l.6 .4l1 2.1l1.8 2.1l.4 .7l.4 2l0 .2l-.7 .1l-1.4 -.3l-3.5 -1.8l-1.4 -.1l-.7 .1l-.7 .6l-2.5 3.3l.2 .7l.4 .7l.5 .2l3.5 0l4.2 .6l1.4 -.1l.8 -.7l.3 -2.8l1 0l2 .4l2.8 1.5l.7 .1l2.8 -.2l.7 .1l2.1 2.5l1.4 .5l4.1 .7l1 .7l.2 .7l-1.4 2.8l-.7 2.7l-.1 1.4l.4 3.5l-.2 1.4l-.6 1.3l-1.8 2.2l-.9 2.1l-.7 .8l-2.6 1.2l-1.6 2.1l-.7 0l-.7 -.4l-.7 -.9l-.4 -1.5l-.1 -1.4l.2 -1.3l.3 -.8l.7 -.8l2.1 -1.4l1.1 -1.2l.3 -.7l.2 -1.4l-.2 -6.2l-.7 -1.3l-.7 -.2l-4.2 1l-4.1 -.3l-2.8 .2l-2.1 .4l-2.1 .8l-1 .7l-.7 1.4l-.4 3.5l-.7 .8l-1 .6l-1.1 .3l-2 .1l-2 -.4l-5.7 -3.5l-1.4 -.6l-.7 0l-.7 .2l-1.7 1.1l-1.7 .8l-1.4 .1l-3.5 .1l0 -7.3l3.5 0l.7 -.2l.7 -.6l1.4 -2.9l.7 -.7l.8 -.4l5.4 -1.1l6.3 -1.9l.7 -.5l.6 -2.2l2.1 -2.2l.7 -1.8l.7 -1.2l1.1 -.9zM30.9 63.9l-.5 .3l-.1 .7l.6 1.2l.7 -.2l.2 -1l-.2 -.6l-.7 -.4zM69.4 54.5l1.1 -.6l2.7 .1l2.1 .5l2.8 1.1l2.8 .7l.6 .3l.7 .7l.7 2.1l.8 .6l6.2 1.6l1.4 .8l2.1 2l1.4 .9l2.7 .9l4.9 .1l0 5.7l-3.5 0l-2 .3l-2.1 .9l-2.8 2.1l-1.4 .6l-2.1 .2l-2.1 -.4l-5.5 -2.2l-2.8 -.9l-.7 -.1l-.7 .3l-.7 .5l-2.1 .8l-4.8 1.3l-3.5 1.6l-.7 0l-.7 -.3l-.7 -1.4l-.9 -5.5l-1.9 -4.2l-.1 -.7l.3 -.7l1.9 -2.6l.7 -.7l.7 -.3l.5 .2l.9 .6l2.6 2.8l1.2 2.8l.8 .7l3.2 1.4l3.3 2.2l.7 .2l1.2 -1l.6 -1.4l0 -.7l-1.6 -2.1l-2.3 -1.9l-3.9 -1.6l-.9 -.9l-1.6 -5.3l.1 -1.4l.4 -.7zM85.1 68.4l-.2 .7l.9 .1l.2 -.1l-.1 -.7l-.8 0zM94.8 85.1l1.4 -.1l.7 .1l.3 .7l-.5 .7l-4.1 4.2l-1 .6l-.9 .4l-1.4 .1l-1.4 -.5l-.6 -.6l-.1 -.7l.7 -.7l4.1 -2l1.6 -1.5l1.2 -.7zM10.6 92l.2 0l-.1 .4l-.1 -.4zM10 92.7l0 -.2l.5 .2l-.5 0zM69.7 92.7l.8 0l1.8 .7l.6 .7l.1 .7l-2.7 3.5l-.2 .6l0 3.5l-6.5 0l-3.9 0l.1 -3.5l.5 -.6l1.2 -.6l2.8 -.7l1.4 -.6l1 -.9l1.4 -2.1l1 -.6l.6 -.1zM87.7 96.9l.8 -.4l1.4 .1l.7 .4l.5 .6l.3 .7l.2 1.4l0 2.8l-.3 0l-4.8 0l0 -3.5l.5 -1.4l.7 -.7z" fill="#aadca4"/>
<path d="M85.2 -2.4l7.2 0l-.1 4.2l-.6 4.1l0 4.9l-.3 2.1l-.5 1.4l-.4 .7l-.6 .3l-.7 0l-2 -.5l-.9 -.5l-.5 -.7l-1.1 -4.2l-.3 -2.1l.1 -2.1l.6 -3.4l.1 -4.2zM52.1 5.2l1.1 -.5l1.4 0l3.4 .7l1.4 .7l1.4 1.5l2.2 4.5l1.3 1.8l2.8 2.1l4.9 2.4l4.3 4.2l.5 .7l.1 .6l-.1 .7l-.4 .7l-1 1.1l-1.4 1l-.7 .2l-.7 -.1l-1.5 -1.5l-1.3 -.8l-1.4 -.5l-2.7 -.6l-3.9 -2.2l-.8 -.7l-1.2 -2.1l-1.1 -.8l-5.5 -1.1l-3.5 -.2l-7.6 .9l-1 .5l-.3 .7l-.6 4.9l-.9 2.7l-1.9 3.5l-1.6 3.8l-.7 .7l-2.1 1.1l-.7 .5l-.7 1l-2 4.3l-.7 .8l-.7 .4l-.7 -.7l-.7 -2.2l0 -4.1l-.3 -1.4l-.6 -1.4l-1.4 -2.1l-.6 -2.1l-.1 -2.8l1.1 -6.2l.6 -.7l2 -1.7l2.1 -2.5l1.3 -.8l1.4 0l3.5 1.3l2.2 .2l.6 -.3l.2 -.4l-.3 -3.4l.3 -.7l.7 -.7l2.6 -1.2l2 -.4l1.4 .3l2.1 1l.7 0l.7 -.4l2.1 -3.2l1 -1zM31.6 23.9l-.7 .3l-.5 1.2l-.8 4.9l.1 1.3l.3 .7l.9 1.1l.7 0l.3 -.4l.4 -.7l.3 -1.3l-.1 -5.6l-.2 -1l-.7 -.5zM75.9 12.8l.1 -.2l.7 -.3l1.1 .5l.6 .7l.3 .7l0 .7l-.6 .3l-1.4 -.4l-.7 -.9l-.1 -1.1zM9.2 14.2l1.6 -.1l1.4 .2l1.9 .6l1.2 .7l1 .9l2.1 2.9l2 1.7l.4 .7l.1 1.4l-.2 1.4l-.4 .7l-.5 .5l-.7 .4l-1.4 -.1l-3.4 -.9l-3.5 .2l-1.7 .6l-1.2 2.1l-2 1.2l-.6 1.6l.4 2.1l.9 1.5l1.4 1.2l.3 .7l-.1 1.4l-.7 1.4l-1.4 1.4l-3 2.1l-2 .6l-3.5 0l0 -16.8l3.5 0l2 -.2l3 -1l1.1 -.7l.3 -.7l0 -1.4l-.6 -1.4l-1.4 -2l0 -1.4l.4 -1l.9 -1.1l1.2 -.9l1.2 -.5zM80.2 16.3l1.4 0l1.4 .7l1.4 2.8l2.1 1.6l.7 .9l.7 1.5l.7 .5l.6 .1l1.4 -.3l1.2 -.9l.5 -1.3l-.3 -3.7l.3 -.5l.4 -.2l.7 .1l.7 .5l2.2 3.1l.6 1.3l0 .7l-1.3 2.8l-.1 1.7l.2 .4l.5 .3l2.1 .3l4.1 0l0 5.3l-3.4 0l-2.1 -.3l-1.4 -.9l-1 -1.9l-.6 -.7l-.5 -.2l-3.5 .1l-1.3 -.6l-.7 -1.3l-.4 -2.2l-.3 -.6l-2.8 -1.3l-.6 -.9l-.8 -1.5l-.5 -.5l-1.6 -1l-.7 -.9l-.3 -.9l-.1 -1.4l.4 -.7zM64.3 29.5l.7 -.5l3.4 1.2l.7 .5l.3 .2l0 .7l-1 .8l-2 .7l-1.4 -.1l-.7 -.4l-.3 -1l.3 -2.1zM9.2 30.2l.1 -.3l.7 -.2l1.2 .5l.6 .7l.1 .7l-.3 .7l-.5 .7l-1.1 .8l-.7 -.2l-.3 -1.3l.2 -2.1zM56.7 37.8l2 -.3l.8 .3l.3 .7l.1 1.4l0 2.1l-.2 1.4l-.8 1.3l-4.1 3.5l-2 2.1l-.3 .7l.4 .7l1.4 .7l1.6 .3l2.8 .2l.7 .3l.4 1.3l-.1 1.4l-.3 1l-.7 1.1l-.7 .8l-1.4 .8l-.7 0l-3.5 -1l-4.8 -.2l-4.9 -.8l-1.1 -.4l-.7 -.6l-.2 -1.4l.3 -.7l.3 -.2l2.1 -.3l1.4 -.5l1.9 -1.1l.7 -.7l.4 -.7l.3 -2.1l1.5 -1.8l2.1 -3.3l1.7 -1.8l1.8 -3.2l.7 -.6l.8 -.4zM97.3 40.6l5.1 -.2l0 3.9l-.7 0l-3.5 0l-1.7 -.2l-.5 -.7l-.1 -1.4l.3 -.7l1.1 -.7zM91.1 45.5l.9 -.4l1.4 -.1l.7 0l.7 .4l.1 .8l-.1 .7l-.7 1.2l-.7 .4l-1.4 0l-.6 -.2l-1 -.7l-.2 -.7l.2 -.7l.7 -.7zM22.6 51.7l1.3 -.5l.7 .3l1.4 2.3l1.4 1.4l.5 1.4l-.5 .6l-.7 0l-4.9 -2.5l-.2 -.9l.1 -.7l.9 -1.4zM70.6 54.5l1.3 -.2l2.2 .2l6.1 2.4l.7 .5l.4 .6l.4 1.4l.6 .8l1.4 .5l4.2 .7l2 .6l1.3 .8l2.2 2.1l2.1 1.1l2.8 .6l4.1 .1l0 4.9l-3.4 0l-1.8 .3l-2.4 .8l-3.5 2.4l-2 .6l-1.4 0l-2.1 -.5l-6 -2.6l-.5 -.7l0 -.7l.8 -2.1l-.1 -.7l-1 -1.4l-1.6 -1.6l-1.3 -1.1l-4.2 -1.7l-1.1 -1.2l-.9 -2.7l-.5 -2.1l.3 -1.4l.9 -.7zM85.1 67.7l-1.6 .7l-.2 .7l1.1 .7l1.4 .1l.7 -.2l.8 -.6l0 -.7l-.8 -.5l-1.4 -.2zM30.1 60.1l.8 -.6l.7 .1l1.3 .5l1.5 1l.7 .2l3.4 .3l.7 .5l1.4 1.5l.7 .4l4.2 .5l1.1 .5l.3 .7l-1.9 6.9l-.1 1.4l.3 2.1l-.2 1.4l-.9 1.2l-1.8 1.5l-1.2 2.1l-1.9 1.4l-1.4 1.3l-.7 .3l-.7 -.2l-.6 -1.4l-.1 -.7l.1 -.7l.6 -1.4l.9 -.7l2.9 -1.3l.8 -1.4l.4 -2.8l0 -1.4l-1.1 -5.6l-.4 -.8l-.7 -.3l-3.5 1l-1.3 .1l-.7 -.2l-.6 -.5l-.4 -2.7l-.4 -.7l-2.1 -1.7l-.2 -1.1l.1 -.7zM13.8 61.5l1.1 -.1l.8 .1l.6 .4l1.4 1.5l.7 .1l2.1 -1l1.4 -.3l2 0l3.7 .7l1.2 .7l.3 .7l.2 2.1l-.2 .7l-1 .6l-4.8 1.4l-1.4 .9l-.5 .5l-.5 1.4l-.4 2.9l-.3 .6l-.8 .7l-1.7 .4l-1.4 0l-1.4 -.4l-2.1 -1.2l-4.8 -2.8l-1.4 -.4l-.7 .3l-1.6 1.3l-1.9 1l-1.4 .3l-3.4 0l0 -6.2l3.4 -.1l1.4 -.4l.7 -.9l1 -2.7l.6 -.7l1.2 -.6l7.9 -1.5zM63.9 62.2l.3 -.2l.7 .2l1.9 2.1l.4 .7l.7 2.1l.6 .7l1.3 .6l2.7 .9l1.1 .5l1.8 1.4l.5 .7l-.1 .7l-.8 .7l-1.6 .7l-1.6 .4l-2.7 .7l-3.5 1.6l-.7 -.1l-.7 -.5l-.7 -2.1l-.3 -5.6l-1.1 -2.7l.1 -.7l.6 -1.4l1.1 -1.4zM90.7 88.5l2 -.4l.3 .4l-.8 1.4l-.7 .7l-.8 .3l-1.4 .1l-.7 -.3l-.4 -.8l.7 -.7l1.8 -.7zM68.7 93.4l1.1 -.3l1.4 .3l.7 .7l.1 .7l-.3 .7l-2.3 2.8l-.1 .7l-.1 3.4l-4.2 0l-3.8 0l.1 -3.4l.7 -.7l3 -1l1.3 -.7l1.7 -2.5l.7 -.7zM88 97.6l1.3 -.4l1 .4l.6 .7l.1 .7l.1 3.5l-1.1 0l-2.8 0l0 -3.5l.3 -.7l.5 -.7z" fill="#86cfa5"/>
<path d="M85.7 -2.4l6.3 0l-.1 4.2l-.6 4.1l.1 4.9l-.7 2.6l-.7 .8l-.7 .3l-1.4 -.1l-1.2 -.8l-.7 -1.4l-.9 -3.5l-.3 -2.1l.2 -2.1l.6 -2.7l.1 -4.2zM52.1 6.6l1.1 -.4l.7 -.1l2 .4l2.1 0l1.4 .4l1.4 1.4l2.1 4.5l1.2 1.4l2.9 2.2l4.9 2.3l3.9 3.9l.4 .7l.2 .7l-.3 .9l-1.4 1.5l-1.4 .6l-.7 -.2l-2.8 -1.9l-3.1 -.9l-1.4 -.7l-3.1 -2.3l-2.1 -2.9l-1.4 -.7l-6.9 -.8l-8.4 .4l-2 -.6l-1 -.8l-1 -2.1l-.3 -1.3l.4 -1.4l.7 -.7l1.8 -.9l2.1 -.3l1.4 .4l2.1 1.2l.7 .1l.7 -.3l.7 -.7l1.4 -2l1 -1zM77.2 14.2l.2 -.7l.2 .7l-.4 0zM9.6 14.9l1.2 -.2l1.4 .2l1.4 .4l1.4 .7l1 1l1.7 2.4l1.6 1.8l.8 1.3l-.1 1.4l-.2 .7l-.7 .7l-.7 .2l-1.4 -.1l-2.7 -.7l-4.2 -.2l-1 -.6l-1.1 -3l-1.2 -1.8l-.2 -.7l.1 -.7l1 -1.4l.7 -.7l1.2 -.7zM30.7 14.9l.9 -.2l1.4 .3l4.8 1.8l1.1 .9l.3 .7l.2 1.4l-.2 4.8l-.5 2.1l-3 6.2l-.7 .8l-.7 .3l-.7 -.2l-.3 -.8l-.2 -4.9l.2 -3.5l0 -.7l-.3 -.6l-.7 -.5l-.7 -.2l-.7 .1l-.7 .5l-.5 1.4l-.2 2.1l-.6 4.2l0 1.4l.6 1.4l1.1 1.3l.3 .7l-.1 .7l-.5 2.1l-.8 1.7l-.7 .9l-.7 .2l-.7 -1l-.2 -1.1l-.1 -4.9l-.6 -1.3l-1.2 -1.7l-.7 -1.3l-.4 -1.9l.1 -1.4l.4 -2.1l1.4 -4.1l3 -4.2l1.1 -1.1l.5 -.3zM80.6 17l.9 -.2l.7 .3l.7 .6l1.1 2.8l1.7 .8l.7 .7l.6 1.2l-.1 .7l-.5 .4l-.7 0l-.8 -.4l-.7 -.7l-.8 -2l-.5 -.5l-2 -1l-.7 -1.3l0 -.7l.4 -.7zM93.3 19.1l.8 .2l1.3 1.7l.7 1.5l0 .8l-1.1 2.7l-.4 2.1l-.3 .7l-.9 .5l-1.4 .3l-2.1 .1l-.7 -.2l-.7 -.6l-.5 -1.5l-.1 -1.4l.2 -.7l.4 -.2l2.8 -.9l1 -.9l.4 -1.4l.2 -2.1l.4 -.7zM-2.4 27.4l0 -.2l5.6 0l1.7 .2l.2 .7l-.3 2.1l.1 2.1l.4 1.4l1.3 2.7l.2 1.4l-.6 1.4l-1 1l-2.2 1.8l-1.2 .5l-4.2 .2l0 -15.3zM95.6 29.5l2 -.4l4.9 -.1l0 4.6l-4.2 0l-1.8 -.6l-.7 -.7l-.4 -.7l-.2 -1.4l.4 -.7zM65.5 30.2l.8 0l1.9 .7l.2 .7l-.7 .5l-.7 .3l-1.4 -.1l-.7 -.7l0 -.7l.6 -.7zM55.9 38.5l.7 -.3l1.4 -.3l.7 .2l.5 .4l.4 1.4l-.2 2.8l-.7 1.4l-.6 .6l-4.9 4.2l-1.4 1l-1.4 .4l-.7 -.4l-.3 -1l.2 -.7l2.2 -3.9l1.9 -2.3l1.5 -2.8l.7 -.7zM97.5 42l.7 -.5l.7 -.1l3.5 0l0 2l0 .2l-4.2 -.1l-.4 -.1l-.5 -.7l.2 -.7zM91.7 46.2l1 -.4l.7 .1l.6 .3l.2 .7l-.3 .7l-.5 .3l-.7 .1l-1.2 -.4l-.3 -.7l.5 -.7zM48.9 51.7l.7 -.4l.7 0l.5 .4l2.3 .9l4.9 1.1l.9 .8l.2 .7l-.2 1.4l-.9 1.4l-.7 .6l-1.4 .4l-2.8 -.6l-7.1 -.4l-2.8 -.7l-1.1 -.7l-.2 -.7l.3 -.7l3.3 -1.5l3.4 -2zM22.9 52.4l.3 -.2l.7 0l.3 .2l.4 .7l.5 1.4l-.5 .3l-1.4 -.5l-.6 -.5l-.1 -.7l.4 -.7zM70.6 55.2l.6 -.3l1.4 -.2l2.3 .5l4.6 2.7l1.1 2.2l.8 .7l.9 .3l4.9 .5l2 .6l1.4 .8l2.1 2l2.1 1.1l3.5 .8l4.1 .1l0 4.2l-3.4 0l-2.1 .3l-2.8 1.1l-1.9 1.4l-1 .6l-1.3 .5l-1.3 .2l-1.4 -.1l-2.2 -.6l-4 -2l-.5 -.7l0 -.7l.4 -.9l.7 -.5l2.8 .6l2.1 -.1l1.4 -.7l.3 -.5l0 -.7l-.7 -.7l-1.7 -.5l-1.4 .1l-2.8 1l-.7 -.2l-4.2 -4l-4.8 -2l-1 -1.3l-.8 -2.8l-.2 -1.4l.2 -.7l.5 -.7zM34.6 62.2l2.5 .1l1.3 .6l.5 .7l.2 .7l-.1 .7l-.7 .7l-1.1 .7l-1.4 .4l-.7 0l-.9 -.4l-.5 -1.4l-.2 -2.1l.2 -.5l.9 -.2zM7.6 62.8l5.2 -.6l1.4 0l1.1 .6l1 1.4l.7 .6l.7 .4l.7 -.1l1.8 -1.6l1 -.6l1.4 -.4l1.3 0l2.1 .4l1.5 .6l.6 .6l.3 .8l.1 .7l-.4 .9l-.4 .5l-1 .5l-4.1 1.2l-1.4 .7l-.6 1l-.7 3.5l-.3 .7l-.7 .7l-1.2 .4l-2.1 -.4l-4.8 -2.5l-2.8 -1.8l-1.4 -.5l-.7 0l-.7 .4l-1.1 1.6l-.7 .7l-1 .5l-1.4 .3l-3.4 0l0 -5l4.1 -.1l1.4 -.3l.6 -.9l.3 -2.1l.6 -1.4l.8 -.7l2.2 -.7zM42.1 64.9l1.3 -.2l1.4 .2l1 .7l.1 .7l-.2 1.4l-.9 2.7l-.7 1.3l-.7 .6l-.7 -.3l-.7 -1.2l-.4 -1l-.6 -3.5l.2 -.7l.9 -.7zM64.8 69.1l.8 -.5l1.4 0l4.8 1l1.9 .9l.8 .7l.3 .7l0 .7l-.8 .7l-1.8 .7l-3.2 .7l-2.7 1.2l-.7 .2l-.7 -.1l-.7 -.8l-.4 -2.6l.2 -2.1l.2 -.6l.6 -.8zM37.4 81.6l.4 -.2l.9 .2l-.3 .7l-.6 .6l-.7 .1l-.1 -.7l.4 -.7zM68.6 94.1l.5 -.3l.7 -.1l.7 .2l.3 .2l.2 .7l-.5 1l-2 1.8l-.3 .7l-.2 4.1l-2.4 0l-2.6 0l0 -2.7l.1 -.7l1.1 -.7l1.4 -.5l1.4 -.7l1.6 -3zM88.9 98.3l.5 0l.6 .7l.1 3.5l-.2 0l-1.7 0l.1 -3.5l.2 -.5l.4 -.2z" fill="#66c2a5"/>
<path d="M86.2 -2.4l5.2 0l-.1 4.2l-.5 4.1l.2 4.2l-.4 1.8l-.5 1l-.9 .6l-.7 .1l-.7 -.1l-.7 -.6l-.7 -1.4l-1 -3.5l-.2 -2.1l.9 -4.1l.1 -4.2zM51.8 8l.6 -.4l.7 -.2l2.8 .3l2.1 -.2l1.4 .2l.7 .5l.7 .8l1.6 3.9l1.1 1.5l3.5 2.3l4.2 1.9l1.4 1.1l3 3.6l.2 .7l-.2 .7l-.5 .7l-1.1 .8l-.7 .1l-.7 -.1l-2.1 -1.3l-4.2 -1.6l-1.4 -1l-2.2 -1.8l-1.9 -3l-.7 -.5l-.7 -.3l-7.7 -.7l-7.6 .4l-1.4 -.4l-1.5 -1.1l-1 -1.3l-.4 -1.4l.1 -.7l.3 -.7l.8 -.7l1.7 -.7l1.4 -.1l1.4 .6l1.4 1l.7 .3l.7 .1l.7 -.2l.6 -.5l2.2 -2.6zM31.1 15.6l.5 -.1l1.4 .2l2.7 1l1.4 .8l.8 .9l.3 1.4l-.4 2.7l.5 2.1l0 1.4l-.4 1.4l-1.5 2.9l-.7 1.2l-.7 .8l-.7 -.2l-.5 -1.9l-.2 -2.8l.8 -3.5l0 -.7l-.7 -.8l-1.4 -.5l-1.4 -.2l-1.1 .2l-.8 .6l-.2 5.6l-.7 2.9l-.7 1.1l-.7 -.2l-.7 -.7l-.9 -1.7l-.3 -2.1l.6 -2.8l1.3 -2.6l1.1 -1.5l.9 -2.1l.8 -1.4l.7 -.9l.9 -.5zM9.9 16.3l.9 -.5l1.4 -.1l2 .6l1 .7l3.2 4.2l.8 1.4l-.1 1.3l-.7 .7l-1.4 .1l-5.5 -.8l-1.5 -.7l-.6 -1.3l-.1 -1.4l0 -2.8l.2 -.7l.4 -.7zM81 17.7l.6 -.2l.6 .4l.4 .5l.1 .7l-.5 .6l-.6 -.2l-.6 -.4l-.2 -.7l.2 -.7zM93.9 21.2l.2 -.2l.7 .5l.5 1.1l0 .7l-1.3 4.1l-.4 .7l-.9 .8l-1.4 .4l-1.4 0l-.7 -.4l-.6 -.8l-.2 -1.3l.2 -.7l.6 -.6l2.3 -.8l1.1 -.7l.5 -.7l.8 -2.1zM84.8 21.9l.2 -.1l.7 .3l.4 .5l0 .7l-.4 .3l-.8 -.3l-.3 -.7l.2 -.7zM-2.4 28.1l0 -.2l4.2 .1l1.4 .3l.5 .5l.3 .7l1.4 7.6l-.4 1.4l-.6 .7l-1.9 1.4l-1.4 .6l-3.5 .1l0 -13.2zM98 29.5l4.4 -.1l0 3.8l-1.4 0l-2.7 -.1l-.7 -.1l-1.1 -.7l-.4 -.7l-.1 -.7l.2 -.6l.7 -.5l1.1 -.3zM28.5 36.5l.3 -.4l.5 1.1l0 .7l-.5 1.3l-.7 -.2l-.1 -.4l.1 -1.5l.4 -.6zM56.5 38.5l1.5 -.1l.7 .4l.2 .4l.3 1.4l-.4 2.1l-.9 1.4l-4.8 3.9l-1.4 .5l-.7 -.2l-.2 -.8l.2 -.7l.9 -2l2.1 -2.8l1.2 -2.3l.7 -.8l.6 -.4zM47.5 53.1l1.4 -.5l1.4 0l5.6 1.3l1.7 .6l.6 .7l.1 .7l-.5 1.4l-1.2 1l-.7 .2l-1.4 -.2l-2.8 -.4l-4.8 -.2l-2.2 -.4l-1.3 -.7l-.3 -.7l.5 -.7l3.9 -2.1zM72.1 55.2l1.8 .1l1.4 .6l1.1 .7l1.7 1.4l.5 .7l1.1 2.1l1.2 .8l6.9 .6l2.1 .9l2.8 2.5l2.1 .9l3.4 .9l4.2 0l0 3.4l-3.5 0l-2.1 .3l-2.7 .9l-2.1 1.3l-.9 .6l-1.4 .7l-1.2 .2l-1.4 0l-2.8 -.9l-2.1 -1.3l-.4 -.7l.5 -.7l3.4 -.3l1.9 -.4l1.1 -.7l.4 -.7l0 -.7l-.6 -.8l-.7 -.4l-1.4 -.4l-1.4 -.1l-2.7 .5l-.7 0l-.7 -.2l-3.5 -3.2l-1.4 -.7l-2.8 -.8l-1.4 -.8l-.8 -1.4l-.6 -2.8l0 -.7l.4 -.7l.4 -.3l.9 -.4zM10.2 62.8l1.9 0l1.4 .2l.9 .5l1.9 2.4l.7 .5l1.4 .6l.7 0l1.5 -2.8l1.3 -.9l.6 -.3l1.4 0l1.4 .2l1.4 .6l.6 .4l.3 .7l-.2 1.1l-.7 .7l-2.6 1l-3.6 .5l-.7 .8l-.7 4.5l-.7 .8l-.7 .3l-.7 0l-5.6 -2.5l-2.7 -1.8l-3.5 -1.6l-.6 -1l-.2 -1.4l.3 -1.4l.4 -.7l1.5 -.8l3.6 -.6zM34.9 63.5l.9 -.4l1.4 .4l.4 .7l-.4 .9l-.7 .5l-.7 .1l-.7 -.2l-.4 -.6l-.1 -.7l.3 -.7zM42.5 66.3l.9 -.6l.7 0l.7 .5l.2 .8l-.1 .7l-.5 1.4l-.3 .5l-.7 .4l-.7 -.5l-.5 -1.8l.3 -1.4zM66.6 69.8l1.8 -.1l2.8 .3l1.4 .5l.9 .7l.4 .7l-.1 .7l-.9 .7l-2.4 .7l-1.4 .3l-2.8 1.1l-.7 0l-.7 -.3l-.5 -1.1l0 -2.1l.7 -1.4l.5 -.4l1 -.3zM-2.4 70.5l0 -.7l4.9 .2l.9 .5l.2 .7l-.1 .7l-.3 .7l-1.4 .8l-4.2 .2l0 -3.1z" fill="#4ba4b1"/>
<path d="M86.9 -2.4l3.8 0l0 4.2l-.4 4.1l.1 4.2l-.3 1.4l-.5 .7l-.4 .3l-.7 .1l-.7 -.4l-.7 -1l-1.3 -3.9l0 -2.1l1 -3.4l.1 -4.2zM52.7 8.7l1.1 -.1l2.1 .4l2.1 -.6l1.4 .1l.7 .5l.7 .9l1.4 3.8l.9 1.2l3.2 1.9l4.2 1.8l1.7 1.2l2.8 3.5l.1 .7l-.3 .7l-.8 .8l-.7 .1l-.7 -.1l-2.1 -1l-3.3 -1.2l-2.2 -1.7l-1.9 -1.8l-1.6 -3l-.7 -.6l-.7 -.3l-7.6 -.5l-7.7 .3l-1.4 -.3l-.9 -.4l-.8 -.7l-.9 -1.4l-.2 -.7l0 -.7l.5 -.7l.9 -.7l1.4 -.3l.7 .1l.7 .2l2.1 1.6l1.4 .4l1.4 -.5l2.1 -2.3l.9 -.6zM12.3 17l1.2 -.1l1.4 .8l2.9 4.2l.3 .7l-.1 .7l-.3 .3l-.7 .2l-.7 .1l-4.1 -.6l-1.3 -.7l-.3 -.7l.1 -1.4l.9 -2.8l.7 -.7zM30.6 17l1 -.6l.7 -.1l2.1 .6l1.6 .8l.7 .7l.4 .7l-.2 1.4l-.4 .7l-.7 .4l-.7 .1l-4.2 -1.1l-.7 -.4l-.3 -.4l-.2 -.7l.4 -1.4l.5 -.7zM26.4 24.7l.3 -.5l.7 -.2l.8 1.4l.1 1.4l-.1 1.4l-.8 1.9l-.7 .3l-.7 -.6l-.5 -1.6l.2 -2.1l.7 -1.4zM35.6 24.7l.8 -.2l.3 .2l.4 .4l.3 1l-.3 1.6l-1.4 2.5l-.7 .3l-.2 -.2l-.4 -1.1l-.1 -1l.1 -1.3l.2 -.8l.4 -.9l.6 -.5zM91 25.3l1.7 -.4l.7 .1l.1 .3l-.1 1.4l-.2 .7l-.6 .7l-1.3 .6l-1.4 0l-.7 -.5l-.3 -.8l0 -.7l.4 -.7l1.7 -.7zM-2.4 28.8l0 -.2l4.2 .2l.7 .2l.7 .7l.5 1.9l.6 4.1l-.2 1.4l-.5 .7l-.4 .4l-1.4 .6l-4.2 .1l0 -10.1zM97.5 30.2l1.4 -.3l3.5 0l0 2.8l-3.5 0l-1.4 -.3l-.7 -.8l0 -.7l.7 -.7zM56 39.2l1.3 -.4l1 .4l.4 .7l0 .7l-.1 1.4l-.6 1.2l-.7 .7l-3 2.2l-1.2 .8l-.7 .2l-.3 -.3l-.1 -.7l.2 -.7l.3 -.6l1.5 -2.1l1.2 -2.4l.8 -1.1zM47.3 53.8l1.7 -.5l1.4 -.1l4.8 1.1l1.4 .6l.7 .7l.1 1l-.8 .9l-1.4 .4l-3.4 -.4l-4.2 -.1l-1.4 -.2l-1.5 -.6l-.3 -.7l.5 -.7l2.4 -1.4zM71.8 55.9l.8 -.2l1.4 .1l1.4 .7l1 .8l1.5 2.1l.9 2.8l.7 .4l5.6 -.2l2.8 .3l1.8 .8l1.8 2.1l.5 .4l1.4 .6l4.9 1.3l4.1 .1l0 2.2l-4.1 .1l-2.8 .7l-2.8 1l-2.8 1.9l-1.3 .4l-2.1 -.1l-1 -.2l-1.3 -.7l-.7 -.7l.5 -.7l3.9 -.8l1.3 -.7l.6 -.6l.2 -.7l.1 -.7l-.3 -.7l-.8 -.7l-1.8 -.6l-2.1 -.2l-3.5 .2l-1.4 -1l-.9 -1.2l-.5 -1.1l-.3 -.3l-4.4 -.6l-1.5 -.7l-.8 -.7l-.8 -2.1l0 -1.4l.1 -.7l.7 -.7zM7.4 63.5l1.9 -.2l2.1 0l1.1 .2l1.1 .7l2 2.6l2.1 2.1l.5 .9l.2 1.3l-.5 1.4l-.2 .3l-.7 .2l-.7 -.1l-4.2 -1.8l-2.8 -1.5l-2.7 -1.2l-1 -.7l-.4 -.7l-.2 -.7l.3 -1.4l.6 -.8l1.5 -.6zM21.7 64.2l.9 -.5l1.3 -.2l2.3 .7l.5 .7l-.1 .7l-.6 .7l-.7 .3l-2.1 .5l-1.3 -.2l-.7 -.6l-.1 -.7l.1 -.7l.5 -.7zM-2.4 71.2l0 -.2l3.5 0l.7 .2l.3 .7l-.3 .5l-.7 .3l-3.5 0l0 -1.5zM65.9 71.2l1.2 -.5l1.3 -.1l2.1 .1l1.4 .4l.9 .8l-.1 .7l-1.5 .7l-4.8 1.3l-.7 -.1l-.5 -.5l-.2 -.7l.1 -.7l.2 -.7l.6 -.7z" fill="#3387bc"/>
<path d="M88 -2.4l1.6 0l-.1 7.6l.3 3.5l-.1 1.4l-.5 .9l-.7 .1l-.4 -.3l-1 -1.7l-.7 -2.5l.1 -1.4l1.4 -3.4l.1 -4.2zM58.3 9.4l1.1 0l.7 .5l.7 1.3l.4 2.4l-.1 .7l-.3 .2l-.7 .3l-11.1 -.3l-3.5 .5l-1.4 -.2l-1.3 -.7l-.7 -.7l-.6 -1.2l.1 -.7l.6 -.7l.6 -.3l.7 -.1l.6 .1l.7 .4l2.1 1.9l.7 .4l.7 .2l.7 -.1l.7 -.5l2.8 -2.7l.7 -.2l.7 .1l2.1 .4l2.3 -1zM63 17l.5 -.5l.7 0l6.5 2.6l1.1 .9l2 2.6l.4 .6l0 .7l-.3 .4l-.7 .5l-.7 -.1l-4.3 -1.4l-1.3 -.7l-2.3 -2.1l-1.1 -1.3l-.4 -.8l-.1 -1.4zM31.6 17.7l.7 -.2l.7 0l1 .2l1.1 .6l.5 .8l-.2 .7l-.3 .3l-1.4 .1l-1.6 -.4l-.8 -.7l-.1 -.7l.4 -.7zM13.5 18.4l.7 .1l.7 .5l1.5 2.2l.2 .7l-.2 .7l-.8 .3l-1.4 0l-1.3 -.3l-.9 -.7l-.1 -.7l.3 -1.4l.7 -1l.6 -.4zM90.9 26l1.1 0l.5 .7l-.2 .7l-1 .7l-1 0l-.4 -.2l-.3 -.5l.1 -.7l.2 -.3l1 -.4zM26.7 26.7l.2 .7l-.2 .4l0 -1.1zM35.6 26.7l.1 -.2l.3 .2l.1 .7l-.3 .7l-.2 0l-.3 -.7l.3 -.7zM-2.4 29.5l3.5 -.1l.7 .2l.7 .5l.6 1.5l.4 2.1l0 1.4l-.5 1.3l-.5 .6l-.7 .4l-4.2 .1l0 -8zM98.1 30.9l.9 -.3l3.5 0l0 1l0 .5l-3.5 -.1l-1 -.4l.1 -.7zM55.9 39.9l.7 -.5l.7 -.1l.7 .5l.3 .8l-.3 1.4l-.7 1l-.7 .6l-2.1 .9l-.3 -.4l1.7 -4.2zM47.2 54.5l1.1 -.4l1.4 -.2l2.1 .3l2.8 .7l.9 .3l.8 .7l-.1 .7l-1 .6l-6.9 -.1l-2.1 -.5l-.6 -.7l.5 -.7l1.1 -.7zM72 56.6l.6 -.3l1.4 .1l1.4 .8l.7 .7l.5 .8l.5 1.4l0 .7l-.5 .7l-1.2 .2l-1.4 -.1l-.7 -.2l-.9 -.6l-.5 -.8l-.4 -1.3l.1 -1.4l.4 -.7zM82 63.5l3.1 -.6l2.7 .4l1.4 .8l.6 .8l0 .7l-.6 .3l-6.9 -.4l-1 -.6l-.1 -.7l.8 -.7zM6.7 64.2l1.3 -.4l1.4 -.1l1.3 .1l1.4 .4l.8 .7l.4 .7l1.3 2.8l.2 .7l-.6 .5l-.7 0l-5.5 -1.5l-1.4 -.6l-.7 -.8l-.2 -1.1l.2 -.7l.8 -.7zM22.5 64.9l.7 -.5l.7 -.1l.7 .2l.7 .4l0 .2l-.1 .5l-.6 .3l-1.4 .2l-.7 -.5l0 -.7zM91.4 67.7l.6 -.4l1.4 0l3.9 1.1l1.3 .7l-1.6 .7l-3.6 1l-2.1 .2l-.3 -.5l.4 -2.8zM67.3 71.9l1.1 -.1l1.7 .1l-.1 .7l-.9 .2l-1.4 .5l-1.1 0l-.2 -.7l.9 -.7zM87.8 71.9l1.5 -.1l.9 .1l-.2 .7l-.7 .7l-.7 .2l-1.4 .1l-1.5 -.3l-.3 -.7l2.4 -.7z" fill="#496aaf"/>
<path d="M58.5 10.8l.9 0l.5 .7l.2 .7l-.3 .7l-.4 .4l-.7 0l-1.1 -.4l-.2 -.7l.3 -.7l.8 -.7zM43.4 11.5l.7 .3l.8 1.1l-.8 .4l-.9 -.4l-.3 -.7l.5 -.7zM64.9 17.7l3 .7l1.9 .7l1.1 .7l1.7 2.1l.5 1.4l-.5 .4l-.7 0l-2.3 -.4l-1.8 -.7l-1.6 -1.4l-1.7 -2.1l-.2 -.7l.6 -.7zM-2.4 30.9l0 -.6l3.5 .1l.7 .3l.6 .9l.2 .7l.1 1.4l-.2 1.5l-.7 .7l-.7 .3l-3.5 0l0 -5.3zM56.1 40.6l.5 -.5l.6 .2l.2 .3l0 .7l-.3 .7l-.5 .5l-.7 0l-.1 -1.2l.3 -.7zM47.6 55.2l1.4 -.5l1.3 0l2.1 .5l1.4 .7l-.7 .3l-2.8 .3l-2 -.1l-1.1 -.5l.4 -.7zM72.4 57.3l.8 -.3l1.4 .5l1.1 1.2l.3 .7l0 .8l-.7 .7l-.7 .2l-1.4 -.3l-.7 -.7l-.3 -.7l-.1 -1.4l.3 -.7zM84.2 64.2l1.6 -.3l1.6 .3l-.2 .4l-.7 .2l-1.4 -.1l-.9 -.5zM6.9 64.9l1.8 -.6l2.1 .3l.6 .3l.5 .7l.1 .7l-.2 .7l-.3 .2l-.7 .3l-1.4 0l-1.9 -.5l-.8 -.7l-.1 -.3l-.1 -.4l.4 -.7zM93 69.1l.4 -.6l.7 -.1l1.1 .7l-1.1 .5l-.7 -.1l-.4 -.4z" fill="#5e4fa2"/>
</g><g filter="url(#bl3)"><path d="M6.3 13.7l.4 .1 1.3 .8 1.3 .4 1.4 .3 1.4 .3 1.3 .2 1.4 .2 1.4 .1 1.4 .2 1.4 .1 1.4 .1 1.4 .1 1.4 .1 1.4 .1 1.3 .1 1.4 0 1.4 .1 1.4 0 1.4 .1 1.4 0 1.4 0 1.4 0 1.4-.1 1.4 0 1.4-.1 1.4-.1 1.4-.2 1.4-.3 1.3-.7 .4 0-.4 0-1.4-.5-1.4-.1-1.4 0-1.4-.1-1.4 0-1.3 0-1.4 .1-1.4 0-1.4 0-1.3 0-1.4-.1-1.4 0-1.4-.1-1.3 0-1.4-.1-1.4-.1-1.4-.1-1.3-.1-1.4-.1-1.4-.1-1.4-.2-1.3-.1-1.4-.2-1.4-.1-1.4-.1-1.3-.1-1.4 0-1.5 .4z" fill="#c8e99e"/><path d="M6.7 13.8l0 0 1.3 .4 1.4 .3 1.4 .2 1.3 .3 1.4 .2 1.4 .2 1.4 .1 1.4 .2 1.3 .1 1.4 .1 1.4 .1 1.4 .1 1.4 .1 1.4 .1 1.4 0 1.4 .1 1.3 0 1.4 .1 1.4 0 1.4 0 1.4 0 1.4-.1 1.4 0 1.4-.1 1.4-.1 1.3-.1 1.4-.2 1.4-.3 0 0 0 0-1.4-.1-1.4 0-1.4 0-1.4 0-1.3 0-1.4 0-1.4 .1-1.4 0-1.4 0-1.3-.1-1.4 0-1.4 0-1.4-.1-1.4 0-1.4-.1-1.3-.1-1.4-.1-1.4-.1-1.4-.1-1.4-.1-1.3-.2-1.4-.1-1.4-.2-1.4-.1-1.3-.1-1.4-.2-1.4-.1-1.4 0z" fill="#86cfa5"/><path d="M29.4 15.2l.4 0 1.3 .7 1.3 .4 1.4 .2 1.3 .2 1.4 .3 1.3 .3 1.3 .2 1.4 .2 1.3 .3 1.3 .2 1.4 .3 1.3 .3 1.3 .4 1.3 .3 1.3 .4 1.3 .4 1.3 .4 1.3 .4 1.3 .5 1.2 .5 1.3 .5 1.2 .5 1.2 .6 1.2 .6 1.2 .6 1.2 .6 1.2 .7 1.2 .6 1.1 .7 1.2 .7 1.2 .7 1.4 .4 .3 .2-.3-.2-.7-1.3-1-1-1.1-.9-1.1-.8-1.2-.8-1.2-.7-1.2-.7-1.3-.6-1.2-.6-1.3-.6-1.3-.6-1.2-.5-1.3-.5-1.4-.5-1.3-.4-1.3-.4-1.3-.4-1.4-.4-1.3-.4-1.3-.3-1.4-.3-1.3-.3-1.4-.3-1.4-.3-1.3-.2-1.4-.2-1.4-.2-1.3-.1-1.4-.2-1.4 0-1.4 0-1.4 .4z" fill="#c8e99e"/><path d="M29.8 15.2l0 0 1.3 .3 1.4 .3 1.3 .2 1.4 .2 1.3 .2 1.4 .3 1.3 .2 1.4 .2 1.3 .3 1.4 .3 1.3 .3 1.3 .3 1.3 .3 1.4 .4 1.3 .3 1.3 .4 1.3 .4 1.3 .5 1.3 .4 1.2 .5 1.3 .5 1.2 .6 1.3 .5 1.2 .6 1.2 .7 1.2 .6 1.2 .7 1.2 .7 1.1 .7 1.2 .7 1.1 .8 1.2 .7 0 0 0 0-1-1-1-.9-1.1-.8-1.1-.8-1.2-.8-1.2-.7-1.2-.7-1.2-.6-1.3-.6-1.2-.6-1.3-.5-1.3-.5-1.2-.5-1.3-.5-1.3-.5-1.4-.4-1.3-.4-1.3-.3-1.3-.4-1.4-.3-1.3-.3-1.4-.4-1.3-.2-1.4-.3-1.3-.2-1.4-.2-1.3-.2-1.4-.2-1.4-.1-1.3-.1-1.4-.1-1.4 0z" fill="#86cfa5"/><path d="M73.2 13.7l.3 .3 .6 1.4 1 1 1.1 1 1 .9 1.1 .8 1.1 .9 1.1 .9 1.1 .9 1.1 .9 1.2 .8 1.1 .8 1.1 .8 1.2 .7 1.6 .3 .3 .2-.3-.2-.7-1.4-1.1-.9-1-.9-1.2-.8-1.1-.9-1.1-.8-1.1-.9-1.1-.8-1-.9-1.1-.9-1.1-.9-1.1-.9-1.2-.8-1.5-.3z" fill="#fdc776"/><path d="M73.5 14l0 0 .9 1.1 1.1 .9 1 .9 1.1 .9 1.1 .9 1.1 .9 1 .9 1.1 .9 1.2 .8 1.1 .9 1.1 .8 1.2 .8 1.1 .7 1.3 .7 0 0 0 0-1-1-1.1-.9-1.1-.9-1.1-.8-1.1-.8-1.1-.9-1.1-.8-1.1-.9-1.1-.9-1.1-.9-1-.9-1.1-.9-1.2-.8-1.2-.7z" fill="#f67c4a"/><path d="M87 10.7l.1 .4-.4 1.5 .3 1.4 .4 1.2 .4 1.3 .5 1.3 .4 1.2 .5 1.3 .4 1.2 .4 1.3 .4 1.2 .4 1.3 .4 1.3 .6 1.2 1.2 1 .1 .4-.1-.4 .4-1.5-.2-1.3-.3-1.3-.4-1.3-.4-1.3-.4-1.3-.5-1.2-.4-1.3-.5-1.3-.4-1.2-.4-1.3-.6-1.2-.6-1.2-1.2-1z" fill="#c8e99e"/><path d="M87.1 11.1l0 0 .2 1.4 .3 1.3 .4 1.2 .4 1.3 .4 1.2 .5 1.3 .4 1.3 .4 1.2 .4 1.3 .4 1.3 .4 1.2 .5 1.3 .5 1.2 .7 1.2 0 0 0 0-.1-1.4-.3-1.3-.3-1.3-.4-1.2-.4-1.3-.4-1.3-.4-1.3-.5-1.2-.4-1.3-.5-1.2-.4-1.3-.5-1.2-.6-1.2-.7-1.2z" fill="#86cfa5"/><path d="M27.3 33.4l-.1 .4-1.4 1-.5 1.2-.4 1.2-.4 1.3-.4 1.3-.4 1.2-.4 1.3-.3 1.3 .6 1.6-.1 .4 .1-.4 1.4-1 .5-1.2 .4-1.2 .4-1.3 .4-1.3 .4-1.2 .4-1.3 .3-1.3-.6-1.6z" fill="#c8e99e"/><path d="M27.2 33.8l0 0-.8 1.1-.5 1.3-.4 1.2-.4 1.3-.4 1.3-.4 1.2-.4 1.3-.3 1.3 0 1.4 0 0 0 0 .8-1.1 .5-1.3 .4-1.2 .4-1.3 .4-1.3 .4-1.2 .4-1.3 .3-1.3 0-1.4z" fill="#86cfa5"/><path d="M13.3 29l.3 .3 .4 1.5 .7 1 .7 1.1 .7 1.1 .6 1.1 .4 1.1 .4 1.3 .3 1.2 .2 1.3 .1 1.2 .1 1.3 .1 1.3 .7 1.4 0 .4 0-.4 .9-1.3 .2-1.4 0-1.4-.1-1.4-.3-1.4-.3-1.4-.4-1.3-.5-1.3-.7-1.3-.7-1.2-.9-1.2-1.1-.9-1.5-.4z" fill="#fdc776"/><path d="M13.6 29.3l0 0 .8 1.1 .7 1.1 .8 1.1 .7 1.1 .6 1.1 .5 1.3 .4 1.2 .3 1.3 .2 1.3 .1 1.3 0 1.3 .1 1.3 .2 1.4 0 0 0 0 .4-1.3 .1-1.4 0-1.4-.1-1.3-.2-1.4-.3-1.3-.4-1.3-.5-1.3-.7-1.2-.7-1.2-.8-1.1-1-1-1.2-.7z" fill="#f67c4a"/><path d="M50.9 90.2l.4 0 1.5 1.4 1.4 .4 1.4 .1 1.3-.1 1.4-.1 1.3-.1 1.4-.1 1.4-.1 1.3-.1 1.4-.1 1.4-.1 1.3-.3 1.3-.6 1.3-1.6 .4 0-.4 0-1.5-1.4-1.4-.4-1.4-.1-1.3 .1-1.4 .1-1.3 .1-1.4 .1-1.4 .1-1.3 .1-1.4 .1-1.4 .1-1.3 .3-1.3 .6-1.3 1.6z" fill="#fdc776"/><path d="M51.3 90.2l0 0 1.4 .7 1.4 .2 1.4 .1 1.3-.1 1.4-.1 1.4-.1 1.3-.1 1.4-.1 1.4-.1 1.3-.1 1.4-.1 1.4-.3 1.3-.4 1.3-.9 0 0 0 0-1.4-.7-1.4-.2-1.4-.1-1.3 .1-1.4 .1-1.4 .1-1.3 .1-1.4 .1-1.4 .1-1.3 .1-1.4 .1-1.4 .3-1.3 .4-1.3 .9z" fill="#f67c4a"/><path d="M31.5 101.3l.3-.3 1.7-.1 1.2-.6 1-.8 1-.9 1-.8 .9-.9 1-.9 1-.9 .9-.8 1-.9 1-.9 .9-.9 .8-1.1 .2-1.7 .3-.3-.3 .3-1.7 .1-1.2 .6-1 .8-1 .9-1 .8-.9 .9-1 .9-1 .9-.9 .8-1 .9-1 .9-.9 .9-.8 1.1-.2 1.7z" fill="#fdc776"/><path d="M31.8 101l0 0 1.3-.5 1.1-.7 1-.8 1-.9 1-.9 .9-.9 1-.8 1-.9 1-.9 .9-.8 1-.9 .9-.9 .9-1.1 .6-1.2 0 0 0 0-1.3 .5-1.1 .7-1 .8-1 .9-1 .9-.9 .9-1 .8-1 .9-1 .9-.9 .8-1 .9-.9 .9-.9 1.1-.6 1.2z" fill="#f67c4a"/><path d="M62.6 71.1l.4 0 1.3 .8 1.4 .3 1.3 .2 1.4 .2 1.4 .1 1.3 .1 1.4 .1 1.4 .1 1.3 .1 1.4 .1 1.4 0 1.3 .1 1.4 .1 1.4 .1 1.3 .1 1.4 .1 1.4 .1 1.4 .1 1.3 0 1.4-.1 1.4-.1 1.4-.6 .4 0-.4 0-1.3-.8-1.4-.3-1.3-.2-1.4-.2-1.4-.1-1.3-.1-1.4-.1-1.4-.1-1.3-.1-1.4-.1-1.4 0-1.3-.1-1.4-.1-1.4-.1-1.3-.1-1.4-.1-1.4-.1-1.4-.1-1.3 0-1.4 .1-1.4 .1-1.4 .6z" fill="#c8e99e"/><path d="M63 71.1l0 0 1.4 .4 1.3 .2 1.4 .1 1.3 .2 1.4 .1 1.4 .1 1.3 .1 1.4 .1 1.4 0 1.3 .1 1.4 .1 1.4 .1 1.4 .1 1.3 .1 1.4 .1 1.4 .1 1.3 .1 1.4 .1 1.4 0 1.3 0 1.4 0 1.4-.2 0 0 0 0-1.4-.4-1.3-.2-1.4-.1-1.3-.2-1.4-.1-1.4-.1-1.3-.1-1.4-.1-1.4 0-1.3-.1-1.4-.1-1.4-.1-1.4-.1-1.3-.1-1.4-.1-1.4-.1-1.3-.1-1.4-.1-1.4 0-1.3 0-1.4 0-1.4 .2z" fill="#86cfa5"/><path d="M77.6 93l.4 0 1.2 1.4 1.4 .4 1.3 .4 1.3 .2 1.4 .1 1.4 .1 1.3 .1 1.4 .1 1.3 .2 1.4 .1 1.3 .1 1.4 .1 1.3 .1 1.4 .1 1.4-.1 1.3-.3 1.5-1.1 .4 0-.4 0-1.2-1.4-1.4-.4-1.3-.4-1.3-.2-1.4-.1-1.4-.1-1.3-.1-1.4-.1-1.3-.2-1.4-.1-1.3-.1-1.4-.1-1.3-.1-1.4-.1-1.4 .1-1.3 .3-1.5 1.1z" fill="#fdc776"/><path d="M78 93l0 0 1.3 .7 1.3 .4 1.4 .3 1.3 .1 1.4 .1 1.3 .2 1.4 .1 1.3 .1 1.4 .1 1.3 .1 1.4 .1 1.3 .2 1.4 .1 1.4 .1 1.3-.1 1.4-.1 1.4-.5 0 0 0 0-1.3-.7-1.3-.4-1.4-.3-1.3-.1-1.4-.1-1.3-.2-1.4-.1-1.3-.1-1.4-.1-1.3-.1-1.4-.1-1.3-.2-1.4-.1-1.4-.1-1.3 .1-1.4 .1-1.4 .5z" fill="#f67c4a"/><path d="M60.1 94.1l.4 .1 1.1 1.3 1.2 .4 1.2 .3 1.3 .2 1.2 .2 1.3 .3 1.2 .2 1.3 .2 1.3 0 1.4-.8 .4 .1-.4-.1-1.1-1.3-1.2-.4-1.2-.3-1.3-.2-1.2-.2-1.3-.3-1.2-.2-1.3-.2-1.3 0-1.4 .8z" fill="#c8e99e"/><path d="M60.5 94.2l0 0 1.2 .7 1.2 .4 1.2 .2 1.3 .2 1.2 .3 1.3 .2 1.2 .2 1.3 .3 1.3 0 1.3-.2 0 0 0 0-1.2-.7-1.2-.4-1.2-.2-1.3-.2-1.2-.3-1.3-.2-1.2-.2-1.3-.3-1.3 0-1.3 .2z" fill="#86cfa5"/><path d="M37.6 11l.8 .1 1.1 1.6 1.3 .5 1.4 .4 1.3 .2 1.4 .3 1.4 .2 1.4 .2 1.3 .2 1.4 .2 1.4 .2 1.4 .2 1.3 .2 1.4 .1 1.4-.1 1.6-1.2 .8 .1-.8-.1-1.2-1.6-1.3-.4-1.4-.3-1.3-.2-1.4-.2-1.4-.2-1.3-.2-1.4-.2-1.3-.3-1.4-.2-1.4-.2-1.3-.2-1.4-.1-1.4 0-1.6 1.1z" fill="#86cfa5"/><path d="M49.5 7l.7 .4 .5 1.9 1 1 1.1 .8 1.1 .8 1.2 .6 1.2 .7 1.2 .6 1.2 .6 1.2 .7 1.2 .6 1.1 .6 .9 .6 1 .8 1.1 .8 1 .9 1.1 .8 1 .9 1 .8 1.1 .7 1.2 .8 1.3 .6 1.9-.2 .6 .5-.6-.5-.1-1.9-.7-1.2-.9-1.1-.9-1-1.1-.9-1.1-.9-1-.8-1.1-.9-1-.8-1.2-.9-1.3-.9-1.2-.7-1.2-.6-1.2-.7-1.2-.6-1.2-.6-1.2-.6-1.2-.7-1.3-.5-1.3-.4-1.3-.3-1.9 .6z" fill="#86cfa5"/><path d="M62.4 4.2l.6 .5-.1 2.1 .7 1.1 .9 .8 1 .9 .9 .8 1 .9 1 .9 .9 .8 1 .8 1.2 .6 2-.4 .6 .5-.6-.5 .1-2.1-.8-1-.9-.9-1-.8-.9-.8-1-.9-.9-.8-1-.9-.9-.8-1.2-.6-2 .3z" fill="#f98e52"/><path d="M36.4 21.6l-.1 .8-2 1.1-.1 1.4-.2 1.4-.2 1.4 1.6 1.6-.1 .8 .1-.8 2-1.1 .1-1.4 .2-1.4 .2-1.4-1.6-1.6z" fill="#86cfa5"/><path d="M-1.3 28.3l.3 .7-1.3 2 .2 1.3 .5 1.2 .4 .6-.1 .6-.2 1.1-.3 1.2 .1 1.4 1.7 1.6-.2 .8 .2-.8 2.2-.9 .6-1.2 .2-1.2 .3-1.5 0-1.9-.6-1.7-.6-1.2-.8-1-2.3-.4z" fill="#86cfa5"/><path d="M-1.8 47l.8 0 1.5 2.1 1.4 .2 1.3-.1 1.4-.1 1.4 0 1.4-.1 1.3-.3 1.3-2.2 .8 0-.8 0-1.5-2.1-1.4-.2-1.3 .1-1.4 .1-1.4 0-1.4 .1-1.3 .3-1.3 2.2z" fill="#f98e52"/><path d="M42.3 36.3l.2-.8 3.1-.3 .8-.7 .4-.7 .6-.6 .6-.5 .7-.4 .8-.7 .5-3.1 .8-.2-.8 .2-2.2-2.5-1.8 .3-1.6 .9-1.5 1.2-1.3 1.4-1 1.6-.4 1.8 2.3 2.3z" fill="#f98e52"/><path d="M36.3 44.3l.7-.3 2 1.4 1.4-.3 1.3-.5 1.2-.5 1.3-.5 1.3-.7 .5-2.4 .7-.3-.7 .3-2-1.4-1.4 .3-1.3 .5-1.2 .5-1.3 .5-1.3 .7-.5 2.4z" fill="#f98e52"/><path d="M3.7 64.8l.8-.1 1.5 2.2 1.2-.2 1.2-.2 1.2-.1 .8-2.6 .8-.1-.8 .1-1.5-2.2-1.2 .2-1.2 .2-1.2 .1-.8 2.6z" fill="#86cfa5"/><path d="M19.4 90.3l.1 .8-2.3 1.7-.1 1.3 .2 1.2 .2 1.3 .3 1.2 .2 1.2 .6 1.2 2.7 .8 .1 .8-.1-.8 2.3-1.7 .1-1.3-.2-1.2-.2-1.3-.3-1.2-.2-1.2-.6-1.2-2.7-.8z" fill="#f98e52"/><path d="M29.1 75.7l-.1 .8-2.4 1-.6 1.2-.1 1.3-.2 1.3-.2 1.3-.1 1.2-.2 1.3 .3 1.3 2.1 1.6-.1 .8 .1-.8 2.4-1 .6-1.2 .1-1.3 .2-1.3 .2-1.3 .1-1.2 .2-1.3-.3-1.3-2.1-1.6z" fill="#f98e52"/><path d="M70.9 55.6l.7 .4 0 2.8 1.2 .7 1.2 .7 1.2 .7 2.4-1.3 .7 .4-.7-.4 0-2.8-1.2-.7-1.2-.7-1.2-.7-2.4 1.3z" fill="#86cfa5"/><path d="M83.9 62.2l.7 .4 .4 2 1.1 .9 1.1 .7 1.1 .6 1.2 .6 1.2 .6 1.2 .5 1.1 .6 1.2 .6 1.2 .5 1.2 .6 1.2 .4 1.3 .3 1.9-.9 .7 .3-.7-.3-.5-2-1-.9-1.1-.7-1.2-.6-1.2-.5-1.1-.6-1.2-.5-1.2-.6-1.1-.6-1.2-.5-1.2-.6-1.2-.5-1.3-.3-1.9 .9z" fill="#86cfa5"/><path d="M74.2 77.2l.8 .2 .8 2.2 1.1 .4 1.3 .3 1.2 .3 1.2 .3 1.2 .1 1.7-1.6 .8 .2-.8-.2-.8-2.2-1.1-.4-1.3-.3-1.2-.3-1.2-.3-1.2-.1-1.7 1.6z" fill="#f98e52"/><path d="M75.2 86.7l.8-.1 1.4 1.6 1.2-.2 1.2-.1 1.1-.2 1.2-.2 .9-1.9 .8-.1-.8 .1-1.4-1.6-1.2 .2-1.2 .1-1.1 .2-1.2 .2-.9 1.9z" fill="#f98e52"/><path d="M91.2 49.6l.8-.1 1.6 1.5 1.3-.1 1.3-.2 1.3-.2 1.2-.2 1.3-.3 1-2 .8-.1-.8 .1-1.6-1.5-1.3 .1-1.3 .2-1.3 .2-1.2 .2-1.3 .3-1 2z" fill="#f98e52"/><path d="M38.1 11l.3 .1 1.2 1.1 1.3 .5 1.4 .4 1.3 .3 1.4 .2 1.4 .2 1.3 .2 1.4 .2 1.4 .2 1.4 .2 1.3 .2 1.4 .2 1.4 .1 1.4-.1 1.5-.7 .3 0-.3 0-1.3-1.1-1.3-.4-1.3-.3-1.4-.2-1.4-.2-1.3-.2-1.4-.2-1.4-.2-1.3-.3-1.4-.2-1.3-.2-1.4-.2-1.4-.1-1.4 0-1.5 .6z" fill="#3d95b8"/><path d="M49.9 7.3l.3 .1 .7 1.5 1.1 .9 1.1 .9 1.1 .8 1.2 .6 1.1 .6 1.2 .7 1.2 .6 1.2 .6 1.2 .7 1.1 .6 1 .6 1 .8 1.1 .9 1 .8 1.1 .9 1 .8 1 .8 1.2 .8 1.1 .7 1.2 .6 1.7 .2 .2 .2-.2-.2-.4-1.6-.8-1.2-.8-1-1-1.1-1-.8-1.1-.9-1-.8-1.1-.9-1-.8-1.2-.9-1.2-.9-1.3-.6-1.2-.7-1.2-.6-1.2-.6-1.2-.7-1.1-.6-1.2-.6-1.3-.5-1.3-.5-1.4-.3-1.6 .2z" fill="#3d95b8"/><path d="M62.8 4.5l.2 .2 .2 1.7 .7 1.1 1 .8 .9 .9 .9 .9 1 .8 1 .9 1 .8 .9 .8 1.2 .6 1.7 0 .2 .2-.2-.2-.2-1.7-.8-1.1-1-.8-.9-.8-1-.8-.9-.9-1-.8-.9-.9-.9-.9-1.2-.6-1.7 0z" fill="#dd4a4c"/><path d="M87.6 1.8l0 .6-1.7 1.1-.2 1.3-.1 1.2-.1 1.3-.1 1.2 .1 1.3 1.6 1.3 0 .6 0-.6 1.7-1.1 .2-1.3 .1-1.2 .1-1.3 .1-1.2-.1-1.3-1.6-1.3z" fill="#99d6a4"/><path d="M9.8 7.8l.6 .1 .8 2.5 1.2 .9 1.3 .3 1.3 .3 1.3 .4 1.3 .3 1.4 .3 1.3 .3 1.4-.2 1.9-1.9 .6 .1-.6-.1-.8-2.5-1.2-.9-1.3-.3-1.3-.3-1.3-.4-1.3-.3-1.4-.3-1.3-.3-1.4 .2-1.9 1.9z" fill="#fb9d59"/><path d="M8.5 18.5l.5 .3 .2 2.4 1.1 .8 1.2 .7 1.1 .6 1.2 .6 1.3 .5 2.1-1.1 .5 .3-.5-.3-.2-2.4-1.1-.8-1.2-.7-1.1-.6-1.2-.6-1.3-.5-2.1 1.1z" fill="#99d6a4"/><path d="M29.5 19.1l0 .6-1.5 1.2-.4 1.3-.1 1.3-.1 1.3 0 1.2-.2 1.2-.3 1.1-.3 1.3-.4 1.2 0 1.4 1 1.6-.2 .6 .2-.6 1.7-.9 .6-1.2 .3-1.2 .4-1.3 .3-1.4 .2-1.4 .1-1.4 .1-1.3 .1-1.3-.2-1.3-1.3-1.4z" fill="#99d6a4"/><path d="M36.3 22.1l0 .3-1.5 1.2-.1 1.4-.2 1.4-.2 1.4 1.1 1.5 0 .3 0-.3 1.5-1.2 .1-1.4 .2-1.4 .2-1.4-1.1-1.5z" fill="#3d95b8"/><path d="M-1.1 28.7l.1 .3-.8 1.8 .2 1.3 .5 1.2 .4 .7-.1 .7-.2 1.2-.3 1.2 .1 1.3 1.2 1.6-.1 .3 .1-.3 1.7-1 .6-1.2 .2-1.2 .3-1.4 0-1.8-.6-1.6-.5-1.2-.8-1-1.9-.6z" fill="#3d95b8"/><path d="M-1.3 47l.3 0 1.4 1.6 1.4 .2 1.4-.1 1.4-.1 1.4 0 1.3-.1 1.4-.3 1.3-1.7 .3 0-.3 0-1.4-1.6-1.4-.2-1.4 .1-1.4 .1-1.4 0-1.3 .1-1.4 .3-1.3 1.7z" fill="#dd4a4c"/><path d="M42.4 35.8l.1-.3 2.6-.5 .8-.7 .5-.8 .6-.7 .7-.5 .8-.5 .8-.7 .7-2.6 .3-.1-.3 .1-2-2-1.8 .2-1.6 .9-1.4 1.1-1.2 1.4-1 1.5-.3 1.8 1.8 2.1z" fill="#dd4a4c"/><path d="M36.7 44.1l.3-.1 1.8 .9 1.4-.3 1.3-.5 1.3-.5 1.2-.5 1.3-.7 .7-1.9 .3-.1-.3 .1-1.8-.9-1.4 .3-1.3 .5-1.3 .5-1.2 .5-1.3 .7-.7 1.9z" fill="#dd4a4c"/><path d="M49.3 45.5l.5-.3 1.8 .5 1.3-.6 1.1-.7 1.1-.7 1.2-.7 1.1-.6 1.1-.9 .4-1.8 .5-.3-.5 .3-1.8-.5-1.3 .6-1.1 .7-1.1 .7-1.2 .7-1.1 .6-1.1 .9-.4 1.8z" fill="#99d6a4"/><path d="M4.2 64.7l.3 0 1.5 1.7 1.1-.2 1.2-.2 1.2-.1 .9-2.1 .3 0-.3 0-1.5-1.7-1.1 .2-1.2 .2-1.2 .1-.9 2.1z" fill="#3d95b8"/><path d="M9.8 63.8l.6 0 1.4 1.5 1.3 .3 1.3 0 1.3 0 1.4 0 1.3 0 1.3-.1 1.3 0 1.4 0 1.4-.1 1.3-.5 1.2-1.6 .6 0-.6 0-1.4-1.4-1.4-.2-1.2 0-1.3 0-1.3 0-1.4 .1-1.3 0-1.3 0-1.4 0-1.3 .1-1.3 .4-1.3 1.5z" fill="#99d6a4"/><path d="M19.4 90.8l.1 .3-1.8 1.6-.1 1.3 .2 1.2 .2 1.3 .3 1.2 .2 1.3 .6 1.1 2.2 .9 .1 .3-.1-.3 1.8-1.6 .1-1.3-.2-1.2-.2-1.3-.3-1.2-.2-1.3-.6-1.1-2.2-.9z" fill="#dd4a4c"/><path d="M-1.6 88l.6-.1 1.6 1.2 1.4 .2 1.3 0 1.3-.2 1.3-.2 1.3-.2 1.4-.3 1.6-.4 1.3-.6 1.3-.5 1.2-.6 1.2-.5 1.2-.5 1.2-.6 1.1-.8 1.1-.9 .6-1.9 .5-.2-.5 .2-1.8-.8-1.4 .1-1.3 .3-1.3 .5-1.2 .6-1.2 .5-1.2 .5-1.2 .6-1.1 .4-1 .3-1.2 .2-1.3 .3-1.4 .2-1.3 .2-1.2 .6-1.3 .6-1 1.7z" fill="#fb9d59"/><path d="M29 76.2l0 .3-1.9 1.1-.6 1.2-.2 1.3-.1 1.2-.2 1.3-.1 1.3-.2 1.3 .3 1.3 1.6 1.5 0 .3 0-.3 1.9-1.1 .6-1.2 .2-1.3 .1-1.2 .2-1.3 .1-1.3 .2-1.3-.3-1.3-1.6-1.5z" fill="#dd4a4c"/><path d="M47.2 68l.5 .4 0 2.2 .7 1.3 .8 1.2 1 .9 1.1 .9 1 .9 1.1 .8 1.1 .9 1.1 .8 1.2 1 1.9 1 1.8 .3 1.3 .2 1.4 .2 1.3 .3 1.4 0 1.4-.1 1.5-.4 1.6-1.5 .6 .1-.6-.1-1.1-2-1.2-.7-1.3-.6-1.4-.4-1.3-.2-1.4-.2-1.3-.2-.9-.1-.5-.3-.9-.7-1.1-.9-1-.8-1.1-.9-1.1-.9-1-.8-1.2-.8-1.3-.5-1.4-.4-2.2 .5z" fill="#fb9d59"/><path d="M71.3 55.8l.3 .2 .2 2.3 1.2 .8 1.2 .7 1.2 .7 2.2-.9 .3 .2-.3-.2-.2-2.3-1.2-.8-1.2-.7-1.2-.7-2.2 .9z" fill="#3d95b8"/><path d="M84.3 62.5l.3 .1 .7 1.6 1 .9 1.1 .7 1.1 .6 1.2 .6 1.2 .5 1.2 .6 1.2 .6 1.1 .5 1.2 .6 1.2 .5 1.2 .5 1.3 .2 1.7-.4 .3 .1-.3-.1-.7-1.6-1-.8-1.1-.7-1.2-.6-1.2-.6-1.2-.5-1.1-.6-1.2-.6-1.2-.5-1.1-.6-1.2-.6-1.2-.4-1.3-.3-1.7 .4z" fill="#3d95b8"/><path d="M65.9 72.3l.6 .1 .7 1.9 .9 .1 .9 0 .9 .1 1.1-1.7 .6 .1-.6-.1-.7-1.9-.9-.1-.9 0-.9-.1-1.1 1.7z" fill="#99d6a4"/><path d="M84.9 72.2l.6 0 .9 1.9 1 0 1 .1 1 0 1.1-1.7 .6 0-.6 0-.9-1.9-1 0-1-.1-1 0-1.1 1.7z" fill="#99d6a4"/><path d="M74.7 77.3l.3 .1 .9 1.7 1.2 .4 1.2 .3 1.2 .3 1.2 .3 1.3 .1 1.5-1.1 .3 .1-.3-.1-.9-1.7-1.2-.4-1.2-.3-1.2-.3-1.2-.3-1.3-.1-1.5 1.1z" fill="#dd4a4c"/><path d="M62.4 90.3l.6-.1 1.6 1 1.4 .1 1.4 0 1.4-.2 1.3-.3 1.3-.3 1.3-.3 1.3-.3 1.3-.4 1.3-.3 1.3-.3 1.3-.3 1.2-.3 1.2-.2 1.3-.1 1.4-.2 1.3-.2 1.3-.4 1.3-.4 1.3-.6 1.1-1.6 .6-.1-.6 .1-1.5-1.2-1.4-.3-1.4-.1-1.3 0-1.4 .2-1.3 .2-1.3 .2-1.4 .2-1.5 .3-1.3 .3-1.3 .3-1.3 .4-1.3 .3-1.3 .3-1.3 .3-1.3 .4-1.3 .3-1.3 .5-1.2 .6-1.2 .7-1 1.7z" fill="#fb9d59"/><path d="M75.7 86.6l.3 0 1.3 1.1 1.2-.1 1.2-.2 1.2-.2 1.1-.2 1-1.4 .3 0-.3 0-1.3-1.1-1.2 .1-1.2 .2-1.2 .2-1.1 .2-1 1.4z" fill="#dd4a4c"/><path d="M91.7 49.5l.3 0 1.5 1 1.3 0 1.3-.3 1.3-.2 1.3-.2 1.2-.3 1.1-1.5 .3 0-.3 0-1.5-1-1.3 0-1.3 .3-1.3 .2-1.3 .2-1.2 .3-1.1 1.5z" fill="#dd4a4c"/><path d="M38.4 11.1l0 0 1.3 .6 1.3 .4 1.4 .4 1.3 .2 1.4 .2 1.4 .3 1.3 .2 1.4 .2 1.4 .2 1.4 .2 1.3 .2 1.4 .2 1.4 .1 1.4 0 1.4-.2 0 0 0 0-1.3-.6-1.4-.3-1.3-.3-1.4-.2-1.4-.2-1.3-.2-1.4-.2-1.4-.2-1.3-.2-1.4-.2-1.3-.3-1.4-.2-1.4-.2-1.4 0-1.4 .1z" fill="#555aa7"/><path d="M50.2 7.4l0 0 1 1 1.1 .8 1.1 .8 1.1 .8 1.2 .6 1.2 .6 1.2 .7 1.2 .6 1.2 .6 1.2 .7 1.2 .6 1 .7 1 .8 1.1 .8 1 .9 1.1 .8 1 .9 1.1 .8 1 .8 1.1 .8 1.2 .8 1.3 .5 0 0 0 0-.7-1.2-.9-1.1-.9-1-1-1-1-.8-1.1-.9-1-.8-1.1-.9-1-.8-1.1-.9-1.2-.8-1.3-.6-1.1-.7-1.2-.6-1.2-.6-1.2-.7-1.2-.6-1.2-.6-1.3-.6-1.2-.5-1.3-.5-1.4-.2z" fill="#555aa7"/><path d="M63 4.7l0 0 .6 1.3 .8 1 .9 .8 1 .9 .9 .8 1 .9 .9 .8 1 .9 1 .8 1.1 .7 1.3 .4 0 0 0 0-.6-1.2-.8-1-1-.9-1-.8-.9-.8-1-.9-.9-.8-1-.9-.9-.8-1.1-.7-1.3-.5z" fill="#a20643"/><path d="M87.6 2.4l0 0-.9 1.2-.2 1.2-.1 1.3 0 1.2-.1 1.3 0 1.2 .8 1.3 0 0 0 0 .9-1.2 .2-1.2 .1-1.3 0-1.2 .1-1.3 0-1.2-.8-1.3z" fill="#378ebb"/><path d="M10.4 7.9l0 0 1 1.6 1.2 .8 1.3 .3 1.4 .3 1.3 .3 1.3 .4 1.3 .3 1.3 .3 1.5-.1 1.6-1 0 0 0 0-1-1.6-1.2-.8-1.3-.3-1.4-.3-1.3-.3-1.3-.4-1.3-.3-1.3-.3-1.5 .1-1.6 1z" fill="#dd4a4c"/><path d="M9 18.8l0 0 .6 1.6 1.1 .8 1.2 .7 1.2 .6 1.1 .6 1.3 .6 1.7-.4 0 0 0 0-.6-1.6-1.1-.8-1.2-.7-1.2-.6-1.1-.6-1.3-.6-1.7 .4z" fill="#378ebb"/><path d="M29.5 19.7l0 0-.7 1.3-.4 1.2 0 1.3-.1 1.3-.1 1.3-.2 1.2-.3 1.2-.3 1.3-.4 1.3-.1 1.3 .3 1.4 0 0 0 0 .9-1.1 .6-1.2 .4-1.3 .3-1.2 .3-1.3 .2-1.4 .1-1.3 .1-1.3 .1-1.3-.2-1.4-.5-1.3z" fill="#378ebb"/><path d="M36.3 22.4l0 0-.8 1.3-.2 1.4-.2 1.4-.2 1.3 .5 1.5 0 0 0 0 .8-1.3 .2-1.4 .2-1.4 .2-1.3-.5-1.5z" fill="#555aa7"/><path d="M-1 29l0 0-.2 1.5 .3 1.2 .6 1.2 .4 1-.1 .9-.2 1.2-.3 1.3 0 1.3 .5 1.4 0 0 0 0 1-1.1 .5-1.2 .2-1.3 .3-1.3 0-1.6-.6-1.4-.5-1.1-.7-1.1-1.2-.9z" fill="#555aa7"/><path d="M-1 47l0 0 1.4 .8 1.4 .1 1.4 0 1.3-.1 1.4-.1 1.4 0 1.4-.3 1.3-.9 0 0 0 0-1.4-.8-1.4-.1-1.4 0-1.3 .1-1.4 .1-1.4 0-1.4 .3-1.3 .9z" fill="#a20643"/><path d="M42.5 35.5l0 0 1.7-.8 .7-1 .6-.9 .7-.8 .9-.7 1-.5 1-.7 .9-1.6 0 0 0 0-1.7-1-1.6 .3-1.4 .8-1.3 1-1.1 1.2-.9 1.4-.4 1.5 .9 1.8z" fill="#a20643"/><path d="M37 44l0 0 1.6 .3 1.3-.5 1.3-.5 1.3-.5 1.3-.5 1.2-.5 1-1.3 0 0 0 0-1.6-.3-1.3 .5-1.3 .5-1.3 .5-1.3 .5-1.2 .5-1 1.3z" fill="#a20643"/><path d="M49.8 45.2l0 0 1.4-.2 1.2-.6 1.2-.6 1.1-.7 1.2-.7 1.1-.7 1.1-.8 .8-1.2 0 0 0 0-1.4 .2-1.2 .6-1.2 .6-1.1 .7-1.2 .7-1.1 .7-1.1 .8-.8 1.2z" fill="#378ebb"/><path d="M4.5 64.7l0 0 1.3 .8 1.2-.1 1.2-.2 1.2-.2 1-1.2 0 0 0 0-1.3-.8-1.2 .1-1.2 .2-1.2 .2-1 1.2z" fill="#555aa7"/><path d="M10.4 63.8l0 0 1.3 .7 1.4 .3 1.3 0 1.3 0 1.3-.1 1.4 0 1.3 0 1.3 0 1.4-.1 1.3-.1 1.3-.4 1.3-.8 0 0 0 0-1.4-.6-1.3-.2-1.3 .1-1.3 0-1.3 0-1.4 0-1.3 .1-1.3 0-1.3 0-1.4 .1-1.3 .3-1.3 .7z" fill="#378ebb"/><path d="M19.5 91.1l0 0-.9 1.4 0 1.3 .2 1.3 .3 1.2 .2 1.2 .2 1.3 .5 1.2 1.3 1 0 0 0 0 .9-1.4 0-1.3-.2-1.3-.3-1.2-.2-1.2-.2-1.3-.5-1.2-1.3-1z" fill="#a20643"/><path d="M-1 87.9l0 0 1.4 .5 1.4 0 1.4 0 1.3-.2 1.3-.2 1.3-.3 1.3-.2 1.5-.4 1.3-.6 1.2-.5 1.2-.5 1.2-.6 1.2-.5 1.3-.5 1.1-.8 1.1-.8 .9-1.2 0 0 0 0-1.5-.1-1.4 .2-1.3 .3-1.2 .6-1.2 .5-1.2 .5-1.2 .6-1.3 .5-1.1 .5-1.1 .3-1.3 .2-1.3 .3-1.3 .2-1.3 .2-1.3 .5-1.2 .5-1.2 1z" fill="#dd4a4c"/><path d="M29 76.5l0 0-1.1 1.2-.4 1.2-.2 1.3-.1 1.3-.2 1.2-.2 1.3-.1 1.3 .1 1.3 .8 1.4 0 0 0 0 1.1-1.2 .4-1.2 .2-1.3 .1-1.3 .2-1.2 .2-1.3 .1-1.3-.1-1.3-.8-1.4z" fill="#a20643"/><path d="M47.7 68.4l0 0 .5 1.6 .8 1.2 .9 1.1 1 .9 1 .9 1.1 .8 1.1 .9 1 .8 1.1 .9 1.2 .9 1.6 .9 1.6 .3 1.4 .2 1.4 .2 1.3 .2 1.4 .1 1.4-.1 1.4-.2 1.5-.7 0 0 0 0-1.2-1.2-1.3-.6-1.3-.5-1.3-.3-1.4-.3-1.3-.2-1.4-.2-1.1-.1-.7-.5-.9-.7-1.1-.9-1.1-.8-1.1-.9-1-.8-1.1-.9-1.1-.8-1.3-.6-1.3-.5-1.7-.1z" fill="#dd4a4c"/><path d="M71.6 56l0 0 .7 1.6 1.2 .7 1.2 .8 1.2 .7 1.7-.2 0 0 0 0-.7-1.6-1.2-.7-1.2-.8-1.2-.7-1.7 .2z" fill="#555aa7"/><path d="M84.6 62.6l0 0 .9 1.1 1.1 .7 1.1 .7 1.2 .6 1.2 .6 1.1 .5 1.2 .6 1.2 .6 1.2 .5 1.1 .6 1.2 .6 1.2 .4 1.3 .4 1.4 .1 0 0 0 0-.9-1-1.1-.8-1.2-.7-1.1-.5-1.2-.6-1.2-.6-1.2-.5-1.1-.6-1.2-.5-1.2-.6-1.1-.6-1.2-.5-1.3-.4-1.4-.1z" fill="#555aa7"/><path d="M66.5 72.4l0 0 .8 1 .9 .1 .9 .1 .9 .1 1-.9 0 0 0 0-.8-1-.9-.1-.9-.1-.9-.1-1 .9z" fill="#378ebb"/><path d="M85.5 72.2l0 0 .9 1 1 .1 1 0 1 .1 1.1-.9 0 0 0 0-.9-1-1-.1-1 0-1-.1-1.1 .9z" fill="#378ebb"/><path d="M75 77.4l0 0 1 1 1.2 .4 1.2 .3 1.3 .3 1.2 .3 1.2 .1 1.4-.4 0 0 0 0-1-1-1.2-.4-1.2-.3-1.3-.3-1.2-.3-1.2-.1-1.4 .4z" fill="#a20643"/><path d="M63 90.2l0 0 1.5 .4 1.3-.1 1.4-.1 1.3-.2 1.3-.3 1.3-.3 1.4-.3 1.3-.4 1.3-.3 1.3-.3 1.3-.3 1.3-.3 1.2-.3 1.3-.2 1.3-.2 1.3-.1 1.4-.2 1.3-.4 1.3-.4 1.3-.4 1.2-.9 0 0 0 0-1.4-.5-1.4-.1-1.4-.1-1.3 .1-1.3 .2-1.4 .1-1.3 .2-1.4 .2-1.4 .3-1.3 .3-1.3 .4-1.3 .3-1.3 .3-1.3 .3-1.3 .3-1.3 .4-1.3 .3-1.3 .5-1.2 .5-1.3 .6-1.1 1z" fill="#dd4a4c"/><path d="M76 86.6l0 0 1.3 .5 1.1-.2 1.2-.2 1.2-.1 1.1-.2 1.1-.8 0 0 0 0-1.3-.5-1.1 .2-1.2 .2-1.2 .1-1.1 .2-1.1 .8z" fill="#a20643"/><path d="M92 49.5l0 0 1.4 .4 1.3-.1 1.3-.2 1.3-.3 1.2-.2 1.3-.3 1.2-.8 0 0 0 0-1.4-.4-1.3 .1-1.3 .2-1.3 .3-1.2 .2-1.3 .3-1.2 .8z" fill="#a20643"/></g><g filter="url(#bl1)"><ellipse cx="77.8" cy="38.4" rx="14.6" ry="10" fill="#fed481"/><ellipse cx="77.5" cy="38.9" rx="13" ry="8.4" fill="#f98e52"/><ellipse cx="77.3" cy="39.4" rx="11.8" ry="7.2" fill="#dd4a4c"/></g><g filter="url(#bl2)"><ellipse cx="77.1" cy="39.8" rx="10.9" ry="6.4" fill="#9e0142"/></g><g filter="url(#bl1)"><ellipse cx="49.5" cy="56" rx="10.5" ry="6.8" fill="#d6ee9b"/><ellipse cx="49.7" cy="56.1" rx="8.8" ry="5.6" fill="#99d6a4"/><ellipse cx="50" cy="56.1" rx="7.4" ry="4.6" fill="#4ba4b1"/><ellipse cx="50.8" cy="55.9" rx="5.4" ry="3.1" fill="#545ca8"/><path d="M38 61.2Q47 62.3 59 59.6" stroke="#fdc776" stroke-width="1.5" fill="none"/></g></g><g id="fB"><g filter="url(#fbB)">
<rect x="-2.43056" y="-2.43056" width="104.861" height="104.861" fill="#ffffbe"/>
<path d="M-2.4 -2.4l24.5 0l-.1 4.2l-.8 2.3l-.1 1.1l.2 .7l1.1 2.1l.2 .9l.3 4l-.1 1.4l-.9 .7l-4.9 .9l-3.4 .2l-2.8 -.3l-1.4 -.8l-.7 -.7l-2 -3.5l-.2 -1.4l.1 -2.8l-.3 -.7l-.4 -.3l-.7 .2l-.6 .8l-.2 1.4l.5 2.1l-.1 .7l-.2 .7l-1.4 2.1l-.7 .7l-.7 .2l-4.2 .1l0 -17zM35.5 -2.4l12.6 0l0 2.8l-.3 1.4l-.5 .7l-1.1 .7l-.7 .2l-4.9 2.5l-1.4 .1l-.7 -.2l-1.4 -1.3l-1.3 -2.1l-.3 -1.3l0 -3.5zM60.1 -2.4l8.5 0l-.1 3.5l-.1 .7l-.7 .3l-.7 0l-2.8 -.7l-2.1 .6l-1.4 -.2l-.5 -.7l-.1 -.7l0 -2.8zM77.2 -2.4l12.5 0l0 2.8l-.3 1.4l-.4 .7l-1.8 .8l-.7 .3l-2.8 1.8l-1.4 .6l-1.4 .1l-1.4 -.2l-1.4 -1l-.7 -1.4l-.2 -1.7l0 -4.2zM95.3 -2.4l7.2 0l0 25.2l-3.5 0l-1.4 -.2l-.9 -.7l-2 -2.1l-.5 -.7l-.2 -.7l.1 -.7l1.3 -2.7l.7 -1.4l2.1 -2.8l.4 -.7l-.4 -.7l-2 -2.5l-.7 -1.7l-.2 -7.6zM24.4 2.4l.9 -.4l1.4 .2l1.4 1l.7 1l.3 1l0 1.4l-.2 .7l-.7 .7l-1.5 .2l-1.4 -.1l-.5 -.1l-1 -.7l-.5 -1.4l0 -1.4l.4 -1.4l.7 -.7zM70.6 4.5l1.3 -.3l1.3 0l1.4 .3l1.2 .7l2.3 2.6l.7 1.1l1 3.2l1.2 2.8l.2 1.4l-.4 2.8l.7 2.1l.1 .7l-.7 .4l-.7 -.4l-1.4 -2.1l-2.8 -2.2l-1.9 -2l-1.5 -2l-.8 .6l-3.4 1.3l-.7 .4l-1.4 .9l-2.1 2l-.7 .4l-.7 0l-.6 -.8l.1 -2.8l-.9 -4.2l-.1 -1.3l.1 -1.3l.7 -1.4l1.4 -.9l1.4 -.1l2.8 .2l1.4 -.3l1.5 -1.8zM73.3 10.1l-.7 .2l-.3 .5l-.1 .7l.4 2l.7 -.3l.6 -1.7l0 -.7l-.6 -.7zM41.2 20.5l2.9 -.2l2.1 .3l3.8 1.3l3.8 2.5l3.8 1l1.1 .6l2.7 2.1l.8 1.4l.1 .7l-.1 2.3l-.7 2.2l-.7 .4l-.7 0l-2.8 -.5l-.7 .2l-2.1 1.5l-2.1 .5l-1.4 .6l-.6 .5l-1.1 1.3l-2.4 6.7l-.7 1l-2.1 2.1l-2.1 1.4l-3.5 1.1l-1.2 .9l-.4 .7l.8 2.8l-.1 .7l-.4 .7l-1.1 .7l-1.7 .3l-1.8 -.3l-1 -1.3l-.2 -.8l.2 -4.2l-.3 -6.9l.2 -1.4l1.1 -2.8l.4 -2.6l.6 -1.5l1.9 -2.8l.6 -1.4l1.1 -4.9l1.8 -5.5l.5 -.7l1.7 -.7zM2.7 25.3l1.8 -.5l1.2 .5l.3 .7l0 .7l-.8 .4l-3.3 -.4l-.8 -.7l.6 -.1l1 -.6zM14 27.4l1 -.1l.6 .1l2.1 1.3l4.1 1.5l.8 .8l.3 2l-.4 9.7l.3 4.8l-.2 2.1l-.2 .7l-.5 .8l-.7 .4l-4.2 .6l-1.4 .7l-2.7 2.5l-1.4 .6l-2.1 .4l-2.1 .7l-3 2.3l-1.5 .7l-1 .2l-4.2 .1l0 -13.7l4.2 -.2l1.3 -.6l2.8 -1.7l2.1 -1l1.6 -1.1l.9 -1.4l1 -2.7l2.1 -.9l.7 -.6l.4 -.7l.6 -2l.1 -1.4l-.1 -.7l-.3 -.6l-.7 -.3l-1.4 .1l-1.1 .8l-.3 .6l-.5 -.6l.4 -1.4l.4 -.7l1.1 -1.4l1.1 -.7zM73.8 29.5l2.2 .1l2.8 .6l1.5 .7l.6 .7l-.2 2.8l.6 1.3l.3 .4l1.4 .7l1.3 .4l.7 1.3l.5 2.1l.9 .9l.7 .1l6.3 -1l4.1 .4l4.9 .1l0 19.7l-3.5 -.1l-.7 -.5l-1.6 -2.2l-1.1 -1l-2.8 -1.3l-2.8 -.7l-1.4 .1l-2.1 .5l-2.1 .8l-1.3 .2l-.7 -.2l-2.1 -1.2l-.7 -.7l-.8 -1.4l-.1 -1.4l2.7 -2.8l.2 -.6l-.3 -.7l-.3 -.2l-.7 0l-1.4 .7l-.6 .8l-.8 2.1l-.5 .7l-.9 .8l-1.4 .6l-1.4 .2l-1.4 -.1l-2.7 -1.2l-1.4 -.2l-5.6 0l-.4 -.8l-.6 -2.1l-.6 -1.3l-1.8 -2.4l-2.1 -1.7l-.5 -.8l-.2 -.7l.1 -.7l.6 -.7l1.4 1.2l.7 .1l.6 -.4l1.1 -1.6l1 -3.8l.7 -.8l2.1 -.9l2.8 -2.2l1.4 -.7l5.4 -2zM84.8 32.3l.2 -.3l.7 .1l.3 .2l.4 .7l-.1 .7l-.6 .7l-.7 -.7l-.2 -1.4zM22.9 53.1l1.1 -.5l.7 .1l.1 .4l-.8 1.7l-.7 .8l-.7 .2l-.5 -.6l0 -.7l.2 -.7l.6 -.7zM60.3 53.1l.6 0l.3 .7l-.4 1.7l-.7 -.2l-.3 -.8l0 -.7l.3 -.7l.2 0zM81.6 60.8l.7 -.6l.3 .6l-.3 1.6l-.6 1.2l-.8 .2l0 -.2l0 -1.2l.7 -1.6zM49.4 67.7l1.6 -.4l1.4 .2l2.8 2l2.8 .8l1.2 .9l1.6 2.4l.7 .7l2 1.5l.8 .9l.3 1.4l-.1 3.5l.4 .8l.7 .5l.7 .4l.7 .2l1.4 -.2l2.1 -1.3l2.4 -2.5l1.6 -2.8l.9 -.9l1.4 -1.2l2.7 -1.4l1.4 -.2l1.4 .2l1.4 .7l3.5 3.2l2.7 .1l1.4 -.2l1.4 -.7l2.1 -2.7l2.1 -1.8l1.4 -.7l.7 -.1l3.4 0l0 11.5l-4.1 .2l-2.8 1.8l-1.4 .7l-2.8 .8l-.7 .6l-.4 .5l-.6 1.4l-1.3 4.2l.3 .7l1.8 1.4l.9 1.3l.2 1.5l0 4.8l-9.9 0l0 -3.5l-.3 -1.3l-.4 -.5l-.7 -.6l-3.5 -2l-2 -.8l-1.4 -.1l-1.4 .1l-1.4 .6l-3.1 2.6l-.9 1.4l-.2 .6l0 3.5l-13.6 0l0 -3.5l-.3 -.9l-.7 -.7l-.7 .3l-.3 .7l-.2 4.1l-6.3 0l-.1 -3.4l-.3 -3.5l.2 -1.4l.4 -.7l.8 -.7l2.4 -1.6l.4 -.5l.2 -.7l-.1 -.7l-1.2 -2.1l-.3 -1.3l.3 -2.1l1.2 -2.1l.1 -1.4l-.2 -.7l-2.7 -3.5l-.5 -2.1l.5 -2l.9 -1.4l3.2 -2.8zM52.4 84.3l-.7 .2l-.1 .6l.2 .7l.6 .5l.7 -.1l.3 -.4l-.2 -.7l-.8 -.8zM58.7 87.7l-.3 .9l.4 .6l.6 .4l.7 .1l1.4 -.2l.3 -.3l.3 -.6l-.6 -1l-.7 -.3l-.7 -.1l-.7 .1l-.7 .4zM-2.4 69.1l0 -.3l3.5 0l1.4 .3l1.4 .7l1.5 1.4l.6 1.4l0 1.4l-.8 1.8l-.7 .9l-.2 0l5.1 1.4l4.9 1.8l2 .2l1.4 -.3l4.1 -3.8l.6 -.7l.6 -1.3l.3 -2l.7 -1l1.4 -.6l2.8 -.2l2.5 -1.1l.5 0l.4 .3l.2 1.1l-.2 .7l-.9 1.4l.1 .7l.8 .7l.7 0l1.3 -1.4l.8 0l.7 .5l0 .5l-.3 .4l-1.1 .7l-.4 .6l.1 2.1l.7 2.1l1.4 2.1l3.1 2.1l.7 1.4l.2 2.1l-.2 1.5l-.7 .1l-1.4 -.4l-.7 0l-.7 .4l-.4 .4l-1.1 2.1l-.5 .7l-2.2 1.2l-.8 .9l-.4 .7l-.1 1.4l0 .7l.8 2.1l0 3.4l-17.9 0l.2 -4.8l1.5 -4.2l.8 -1.4l.9 -.7l1.8 -1l.8 -1.1l-.1 -.7l-.7 -.6l-.7 0l-1.4 .1l-.6 .4l-1.4 .9l-2.1 .9l-2.8 1.8l-3.9 2.1l-.2 .7l0 .7l.9 2.8l0 4.1l-8.6 0l0 -22.9l2.8 0l1.4 -.2l2.3 -1.9l-.3 -.5l-.7 -.2l-5.5 -.1l0 -7.5zM98.1 92l4.4 -.1l0 10.5l-4.2 0l-4.2 0l-.1 -4.2l-.4 -2.7l.1 -.7l.3 -.7l.6 -.7l1.1 -.7l2.4 -.7zM36.3 94.1l.9 -.4l.7 .1l.4 .3l.2 1.4l-.5 1.4l-.8 .2l-.7 -.4l-.5 -1.2l0 -.7l.3 -.7z" fill="#fff0a6"/>
<path d="M-2.4 -2.4l23.1 0l0 3.5l-.6 2.8l0 1.3l.2 .7l1.2 2.1l.5 1.4l.4 2.8l-.2 1.4l-.4 .7l-1.6 .7l-3.2 .7l-4.1 .2l-2.1 -.4l-.9 -.5l-1.2 -1.4l-1.1 -2.1l-.4 -1.4l0 -3.5l-.2 -1.4l-.4 -.5l-.7 0l-1.4 .8l-.7 1.1l-.2 1.4l.4 2.8l-.9 2.1l-.7 .7l-1.3 .5l-3.5 .1l0 -16.6zM36.3 -2.4l10.9 0l-.1 3.5l-.2 .7l-.7 .7l-1.1 .7l-4.5 2l-1.4 .1l-.7 -.4l-1.4 -1.6l-.7 -1.5l-.1 -4.2zM77.5 -2.4l11.4 0l-.1 3.5l-.3 .7l-2.1 1.3l-2.8 1.8l-1.3 .6l-1.4 .2l-1.4 -.5l-.7 -.5l-.7 -.8l-.4 -1.4l-.2 -4.9zM95.5 -2.4l6.9 0l0 10.9l-3.5 -.1l-.7 -.2l-1.4 -1.1l-.6 -1l-.5 -1.6l-.2 -1.3l0 -5.6zM25.9 3.1l.9 0l.7 .3l1 1.1l.4 1.4l-.2 .7l-.5 .8l-.7 .3l-1.4 .1l-1.1 -.5l-.6 -.7l-.2 -.7l.2 -1.4l.4 -.7l1.1 -.7zM70.9 5.2l.9 -.5l1.4 -.1l1.5 .6l.7 .7l1 1.4l1.5 1.4l.4 .7l.5 .9l1.3 4.6l-.2 1.4l-.4 .9l-.7 .5l-.7 .1l-1.4 -.6l-1.8 -1.6l-.7 -1.4l.4 -2.7l-.1 -1.4l-.6 -.7l-.7 -.3l-.7 .1l-.7 .6l-.2 1l0 2l-.2 .7l-.7 .7l-2.3 1l-1.4 .9l-2.8 2.3l-.7 .2l-.7 -.2l-.2 -.7l-.2 -2.8l-.9 -4.1l.1 -1.4l.5 -1.4l.7 -.7l1.4 -.5l4.8 .1l.7 -.3l1.2 -1.4zM98.1 12.2l.8 -.4l3.5 0l0 10.3l-2.1 0l-1.4 0l-1.4 -.4l-1.9 -1.9l-.8 -1.4l.2 -1.3l1.1 -2.7l.7 -1l1.3 -1.2zM40.2 21.2l1.8 -.5l1.4 -.1l1.4 .1l2.1 .5l3 1.4l2.6 2.2l1.4 .4l2 .2l1.9 .7l3 2.3l.7 1l.2 .8l0 2.1l-.2 .7l-.7 1l-.7 .2l-.7 0l-2.8 -.6l-.7 .4l-2 1.8l-2.8 1.1l-1.2 1l-1.2 2.1l-2.2 5.5l-.9 1.4l-1.5 1.6l-1.3 1.2l-.8 .4l-3.4 1.2l-1.8 1.1l-.2 .7l0 .7l.7 2.1l-.1 .7l-.7 .7l-1.4 .6l-1.4 -.1l-.9 -.5l-.5 -.7l-.2 -.7l0 -1.4l.4 -2.1l-.7 -4.1l-.1 -2.8l.2 -1.4l.9 -2.8l.4 -2.7l.5 -1.7l2.4 -3.9l1.1 -4.7l1.4 -4.3l.7 -1.9l.9 -.9zM14.9 28.1l1.4 1.1l3.5 .8l1.4 .6l.6 .5l.6 1.2l.1 3.4l-.4 3.5l-.3 .7l-1.6 2.1l.1 .7l1.1 1.4l.6 1.4l.2 2l-.4 2l-.5 .8l-.8 .7l-4.2 1l-1.4 .9l-1.5 1.6l-1 .7l-5.1 1.4l-1.1 .7l-1.7 1.4l-1.3 .6l-1.5 .4l-4.2 .1l0 -12.7l3.5 -.1l1.4 -.3l3.5 -2l2.9 -1.3l1.2 -.9l2.1 -3.4l2.1 -1.5l.8 -1.2l1.2 -5.5l-.1 -.7l-.5 -.6l-.7 -.2l-.9 -.6l.9 -.7zM73.2 30.2l1.4 -.2l2.3 .2l1.9 .6l.7 .4l.4 .4l.2 .7l.2 2.1l.6 1.4l.7 .8l2.1 1.2l.6 .7l1 2.8l.4 .7l.7 .2l.7 -.1l2.8 -.8l3.5 -.4l4.8 .3l4.2 .1l0 17.3l-3.5 0l-4.1 -2.4l-2.1 -.8l-2.8 -.7l-1.4 0l-2.8 .8l-2 .3l-1.4 -.3l-1.4 -.7l-.9 -1l-.4 -1.4l.2 -.7l1.7 -2.1l.6 -1.3l-.1 -.7l-.4 -.5l-.7 -.2l-.7 0l-1.4 .6l-.8 .8l-2.1 3.4l-1.3 .9l-1.4 .3l-.6 0l-4.2 -1.3l-3.5 -.2l-1.5 -.4l-.6 -.4l-.7 -.9l-2.8 -4.9l-.3 -.7l-.1 -.7l1.6 -2.8l.9 -3l.7 -1.3l5.3 -4l1.4 -.7l4.4 -1.4zM50.7 67.7l1.1 0l.6 .2l2.1 1.5l3.1 1.1l1.2 .7l2 2.8l2.7 2l.4 .7l.4 1.4l-.4 2.8l.4 1.5l.6 .8l.7 .4l1.4 .4l1.4 -.2l2.1 -1.4l2.2 -2.2l2.7 -4.2l1.9 -1.4l2.2 -1.1l1.3 -.2l.8 0l1.4 .5l1.4 1l2.1 2.4l.7 .4l.7 .1l3.4 -.5l1.4 -.5l.8 -.7l2 -2.7l2.1 -1.4l1.4 -.4l3.4 0l0 10.6l-3.4 0l-.7 .2l-.7 .2l-2.7 1.9l-4.3 1.5l-.9 1.2l-1.1 3.1l-1.2 1.8l-.2 .7l0 .7l.7 .7l2 1.5l.7 1.3l.3 1.4l0 4.1l-8.9 0l-.1 -4.1l-.7 -1.4l-1.7 -1.2l-2.7 -1.5l-2.1 -.7l-2.1 -.2l-1.4 .2l-1.4 .8l-3.5 3.3l-.6 1.4l-.1 3.4l-12.4 0l-.1 -4.1l-.7 -1.8l-.6 -.4l-.7 .2l-.6 .6l-.6 1.4l-.1 4.1l-4.8 0l-.2 -7.6l.7 -1.4l2.8 -2.1l.6 -.7l.2 -.7l-.1 -.7l-1.6 -2.1l-.5 -1.3l0 -.7l.7 -2l.7 -.8l1.2 -.7l-.1 -.7l-.7 -1.4l-2.5 -2.8l-.7 -1.1l-.3 -1l0 -1.3l.4 -1.4l1.3 -1.6l2.3 -1.9l1.5 -.7zM51 82.6l-.3 .4l0 .7l.4 2.8l.6 .7l.7 .2l1.4 -.3l.7 -.6l0 -.7l-.5 -.7l-1.6 -1.8l-.7 -.5l-.7 -.2zM58 87.1l-.6 .7l.1 .7l.5 .7l1.4 .8l1.4 .1l.7 -.2l1.1 -.7l.2 -.7l-.2 -.7l-.6 -.7l-1.2 -.5l-.7 0l-2.1 .5zM-2.4 69.8l0 -.3l3.5 .1l1.4 .3l1.2 .6l.9 .7l.7 1.4l-.1 1.3l-.5 .8l-.9 .6l-.6 .2l-5.6 .2l0 -5.9zM24.7 71.2l2.7 -.4l1.4 .1l.5 .3l.2 2.1l.3 .7l.6 .7l1.9 1.2l1.4 3.6l.8 1.4l1.2 1.7l2.2 1.8l.5 .7l.2 .7l-.1 .7l-.7 .5l-1.4 .4l-.7 .4l-2.3 3.5l-2.5 1.9l-.7 .9l-.6 1.4l-.2 1.4l-.1 5.5l-15.8 0l.1 -4.1l1.3 -3.8l.7 -1.4l.7 -.8l2.1 -1.4l.9 -1l.7 -1.3l-.2 -1l-.7 -.4l-2.8 0l-1.4 .5l-2.8 1.8l-3.4 2.5l-3 1.4l-1 .7l-.1 .7l.1 .7l1 2.8l.1 4.1l-8.3 0l0 -22.1l4.2 -.1l2.8 -1.7l.7 -.3l1.4 -.1l2.1 .2l2 .5l4.2 1.6l2.1 .2l1.4 -.7l4 -3.8l.7 -1.4l.8 -2.8l.8 -.7zM97.3 92.7l1.7 -.2l3.5 -.1l0 10l-2.8 0l-5.1 0l-.1 -6.2l.2 -1.4l.3 -.7l.8 -.7l1.5 -.7z" fill="#fee08b"/>
<path d="M-2.4 -2.4l10.1 0l0 3.5l-.3 1.4l-2.9 2l-1.3 1.4l-.6 1.4l.1 1.4l.3 2.1l-.5 1.4l-.7 .7l-.7 .3l-3.5 0l0 -15.6zM10 -2.4l9.5 0l0 3.5l-.4 2.8l-.1 1.3l.2 .7l2 3.1l.3 1.1l.2 1.4l-.2 1.4l-.3 .7l-.9 .7l-1.2 .5l-3 .9l-3.9 0l-1.7 -.7l-.8 -.7l-.9 -1.4l-.8 -2.1l-.2 -1.4l.1 -4.9l.2 -1.3l1.3 -1.2l.5 -.9l.1 -3.5zM37.8 -2.4l8.2 0l-.1 3.5l-.4 .7l-.8 .7l-3.4 1.4l-1.4 .2l-.7 -.2l-.7 -.7l-.6 -1.4l-.1 -4.2zM78 -2.4l9.1 0l0 3.5l-.5 .7l-1.4 1.4l-1.5 1.2l-1.4 .6l-1.4 .1l-1.4 -.6l-.7 -.7l-.7 -1.7l-.1 -4.5zM95.9 -2.4l6.5 0l0 9.7l-3.4 0l-1.4 -.6l-.7 -.7l-.7 -1.5l-.2 -1.3l-.1 -5.6zM25.7 4.5l1 -.3l.8 .3l.4 .7l.2 .7l-.3 .7l-.4 .3l-.7 .2l-1.2 -.5l-.3 -.7l0 -.7l.5 -.7zM71.6 5.9l1 -.5l.7 0l.7 .3l.7 .9l.1 .7l-.1 .4l-.7 .3l-2.1 .2l-.5 .5l-.3 1.4l0 2.1l-.5 1.3l-.7 .7l-2.9 1.6l-2.7 1.9l-.7 0l-.4 -.7l-1 -4.3l-.4 -2.6l.4 -1.4l.7 -.9l1.4 -.6l1.4 0l3.4 .4l1.4 -.2l1.1 -1.5zM75.9 9.4l.2 -.2l.7 -.1l.7 .4l.7 .9l.7 3.2l-.1 1.4l-.4 .6l-.9 .4l-.7 -.2l-.7 -.5l-.6 -1l-.1 -1.5l.5 -3.4zM97.9 13.5l1 -.5l3.5 0l0 7.7l-1.4 0l-2.1 0l-.7 -.2l-1.4 -1.2l-.6 -.9l-.2 -.7l.2 -1.4l.6 -1.6l1.1 -1.2zM41.4 21.2l2 -.2l2.1 .3l1.6 .6l2.1 1.4l2.5 2.7l.7 .4l3.5 -.1l1.4 .4l2.8 2.3l.7 .8l.3 1.1l-.3 1.4l-.7 .8l-.7 .1l-2.8 -.9l-.7 .3l-2.4 2.5l-3.2 1.6l-.7 .6l-1.2 2l-2.7 6.2l-1.4 2.1l-1.1 1.4l-1.2 .8l-4.2 1.5l-.9 .5l-.9 .6l-.3 .7l.7 2.9l-.3 .6l-.3 .3l-.7 .2l-.7 0l-1 -.5l-.4 -.7l0 -.8l.6 -2l0 -.7l-1.1 -2.7l-.3 -2.1l0 -2.1l.9 -3.5l.6 -4.1l.6 -1.4l1.4 -2.1l.7 -1.4l.9 -4.2l1.9 -5.8l.8 -1.1l1.4 -.7zM17.8 30.9l1.3 -.3l1.4 .4l.8 .6l.7 1.4l0 3.5l-.5 2l-.3 .6l-.7 .6l-1.8 .9l-.4 .7l0 .7l.4 .7l2.5 2.8l.4 2.1l-.2 1.4l-.4 .6l-1.2 1l-3.5 .9l-1.4 .7l-1.4 1.6l-1.4 1.1l-1.3 .5l-4.2 1.1l-2.2 1.5l-1.3 .7l-1.4 .4l-4.1 .1l0 -11.5l3.4 0l1.4 -.3l3.5 -2.1l4.2 -1.9l.8 -.7l1.9 -2.7l1.9 -1.5l.5 -.7l1.2 -4.8l.6 -1.3l.8 -.8zM72.8 30.9l1.8 -.3l1.4 .1l1.4 .2l1.4 .7l.7 1.1l.8 3.1l.6 .7l2 1.7l.7 .8l1.4 3.6l.7 .4l.7 0l3.5 -1.3l2.8 -.5l9.7 .3l0 15.6l-4.2 -.2l-8.3 -2.5l-1.4 0l-2.1 .4l-2.1 .3l-1.4 -.2l-1.4 -.7l-.6 -.7l-.4 -1.1l.2 -.7l1.4 -2l.6 -1.4l0 -.7l-.2 -.7l-1 -.6l-2 .3l-1.4 .8l-.9 .9l-1.7 2.7l-.6 .7l-1 .6l-1.4 .1l-3.5 -1l-3.4 -.5l-1.4 -.4l-1.4 -1.1l-2 -3.2l-.7 -1.4l-.2 -1.4l1.6 -4.9l.7 -1.3l.6 -.8l4.9 -3.9l2 -.9l3.1 -.7zM50.3 68.4l.7 -.2l1.2 .2l2.3 1.4l2.8 .9l1.4 .8l2.1 3l2 1.5l.7 1l.3 1.1l-.5 3.5l.3 1.4l.6 .8l.7 .5l2.1 .7l1.4 -.3l2.8 -2.3l2.1 -2.2l1.5 -2.8l1.1 -1.4l1.9 -1.4l1.4 -.6l1.7 -.4l.7 0l1.4 .5l.7 .5l1.4 1.4l.9 1.4l.4 1.2l.7 0l1.3 -.5l3.6 -.7l1.4 -.6l.7 -.8l1.4 -2l.8 -.7l1.3 -.7l1.3 -.4l3.5 0l0 9.3l-4.1 .1l-.7 .3l-3.5 2.3l-3.1 .9l-1.1 .6l-.5 .8l-1.1 2.7l-2.2 3.5l-.1 .7l.4 .7l2.1 1.4l1.2 1.4l.5 2.1l0 3.4l-7.2 0l-.6 0l-.1 -4.1l-.1 -.7l-.6 -1l-1.4 -.9l-4.2 -2.1l-2.1 -.7l-2 -.1l-1.4 .3l-.7 .4l-4.3 4.1l-.7 1.4l-.1 3.4l-11 0l0 -3.4l-.3 -2.1l-.7 -1.4l-.3 -.4l-.7 -.3l-.7 .1l-.7 .5l-.9 1.5l-.6 2.1l0 3.4l-2.7 0l0 -3.4l-.3 -2.8l.2 -1.4l.3 -.7l.6 -.7l2 -1.2l.7 -.7l1.4 -2.6l1.1 -.4l3.1 -.3l.7 .2l2.1 1.6l1.4 .5l1.4 0l2.1 -.6l.8 -.7l.3 -.7l-.2 -.7l-.4 -.6l-1.3 -1l-2 -.3l-3.5 .4l-.7 -.4l-9.7 -10l-.6 -1.2l-.1 -.7l0 -.7l.5 -1.4l1.6 -1.7l2.7 -1.8zM-2.4 71.2l0 -.5l3.5 0l1.4 .3l1.4 1.2l.2 .4l-.2 .9l-.7 .6l-1.4 .3l-4.2 .1l0 -3.3zM25.2 71.9l1.5 -.2l.8 .2l.6 .7l.5 2.1l.5 .7l1.8 .7l.8 .7l.5 .6l1.7 3.5l2.1 3.5l.3 .7l-.1 .7l-3.1 4.8l-2.5 2.1l-1.1 1.4l-1.9 4.9l0 3.5l-13.6 0l.1 -4.2l.4 -1.4l.8 -2.1l1.4 -2.1l2.3 -1.8l1 -.9l1.9 -3.5l0 -.7l-.8 -.2l-2.1 .6l-3.4 0l-1.4 .4l-.7 .5l-4.5 4.2l-1.8 1l-3.2 1.1l-.5 .7l1.6 4.2l.1 4.2l-7.7 0l0 -21.4l4.2 -.2l3.5 -1.8l2 -.5l2.8 .4l5.6 2.2l1.4 .1l.7 -.1l.7 -.4l2 -2.3l2.8 -2.4l.5 -.7l.7 -2.8l.8 -.7zM48.1 83.7l.8 -.2l.9 .9l.2 2.1l-.4 .9l-.7 .1l-.6 -.3l-.7 -.9l-.2 -1.2l.2 -.7l.5 -.7zM97.4 93.4l1.6 -.3l3.5 0l0 9.3l-2.1 0l-5.2 0l0 -5.5l.2 -1.4l.8 -1.4l1.2 -.7z" fill="#fdc776"/>
<path d="M-2.4 -2.4l8.5 0l0 3.5l-.2 .7l-.3 .7l-1.8 1.7l-1.3 1.2l-1.4 .9l-3.5 .1l0 -8.8zM11.2 -2.4l7.3 0l0 3.5l-.5 4.1l.6 1.4l1.2 1.5l.8 1.3l.4 2.1l-.5 1.6l-.7 .7l-1.4 .8l-.9 .4l-1.9 .4l-1.4 .1l-1.3 -.1l-1.4 -.3l-.7 -.5l-.7 -.6l-.7 -1.1l-.9 -2.8l-.1 -3.5l.5 -2.1l2.1 -2.7l.2 -.7l0 -3.5zM40.5 -2.4l3.3 0l0 2.8l-.1 .7l-.3 .3l-.6 .4l-.8 .1l-.9 -.1l-.5 -.6l-.1 -3.6zM78.5 -2.4l7 0l-.1 3.5l-.2 .7l-.8 1.2l-1.4 1.1l-1.4 .4l-.7 -.1l-1.1 -.6l-.7 -.6l-.5 -1.4l-.1 -4.2zM96.3 -2.4l6.1 0l0 8.7l-3.4 0l-.7 -.2l-1 -.9l-.7 -1.3l-.2 -1.4l-.1 -4.9zM63.5 8l1.5 -.4l2.1 .2l2 .5l.7 .4l.5 .7l.2 2.1l-.2 1.4l-.4 .7l-.8 .6l-1.3 .8l-2.8 1.7l-.7 .1l-.7 -.6l-1.2 -4l-.3 -1.4l.3 -1.4l.5 -.9l.6 -.5zM98.7 14.9l.9 -.2l2.8 0l0 3.4l-3.5 -.1l-.6 -.4l-.4 -.6l0 -.7l.2 -.7l.6 -.7zM41 21.9l1.1 -.3l1.3 -.2l2.4 .5l2.1 1.4l2.5 2.9l1.4 1.2l1.4 .4l2.7 0l.8 .4l1.1 1.3l-1.9 1.1l-2 3.1l-.7 .7l-2.8 1.6l-1.4 1.2l-.8 1.4l-3.9 8.3l-1 1.4l-1.6 1.4l-5.9 2l-.7 .1l-.7 -.3l-.7 -.7l-.6 -1.1l-.3 -1.4l0 -2.1l.9 -3.5l.3 -3.4l.3 -1.4l2.3 -4.2l1.3 -5.5l1.5 -4.2l.6 -1.3l1 -.8zM58.3 30.2l.4 0l0 .2l-.4 -.2zM18.9 31.6l.9 .1l.7 .3l.7 .7l.4 1.7l0 1.4l-.4 1.8l-.7 .9l-.7 .4l-1.4 .3l-1.4 .1l-.5 -.8l-.1 -2.7l.2 -1.4l.6 -1.4l.5 -.8l1.2 -.6zM71.9 31.6l2.7 -.3l1.4 0l1.4 .3l1 .7l.5 .7l1.4 3.5l2.8 2.7l.6 1.4l.7 3.2l.7 .4l1.3 -.4l3.5 -1.7l2.1 -.5l2.1 -.1l4.1 .3l4.2 0l0 14.3l-4.8 -.2l-3.5 -.8l-3.5 -1l-2.1 -.3l-4.1 .6l-1.4 -.4l-1.2 -.9l-.2 -.7l.1 -.7l1.4 -2.7l.4 -1.4l-.1 -1.4l-.4 -.5l-1.4 -.1l-1.4 .3l-2.1 .8l-1.4 1.3l-2 3l-1.5 .8l-1.3 0l-6.5 -1.4l-1.3 -.7l-1.3 -1.5l-1.7 -2.7l-.5 -1.4l.3 -2.1l1.4 -4.1l1.2 -1.4l4.2 -3.7l1.4 -.6l2.8 -.6zM15.5 39.9l.8 .2l1.2 2.6l2.7 2.8l.4 .6l.3 1.4l0 .7l-.4 .9l-.5 .5l-.9 .6l-2.8 .8l-1.4 .6l-2.1 2.2l-1 .7l-1.7 .7l-3.5 .7l-3.5 2.1l-2.1 .5l-3.4 0l0 -10.2l3.4 0l2.1 -.6l3.5 -2l3.7 -1.6l.9 -.7l2.3 -2.7l.7 -.4l1.3 -.4zM50.5 69.1l1.2 -.1l2.1 1l3.5 1l.7 .4l.7 .6l1.6 2.7l2.4 2l.4 .7l0 1.4l-.6 2.8l-.2 2.8l-.9 .5l-2.7 .5l-2.1 -.1l-1.4 -.8l-1.5 -1.5l-2 -2.6l-1.5 -1.6l-3.3 -2.9l-.7 -1.1l-.2 -1.5l.2 -.8l.7 -1.1l1.3 -1.1l2.3 -1.2zM97.8 73.3l1.2 -.2l3.4 -.1l0 7.8l-4.1 .1l-1.4 .6l-2.8 2.2l-4.2 1.2l-.6 .6l-1.7 3.8l-2.3 3.4l-.2 .7l0 .7l.6 .7l2.4 1.4l1.1 1.4l.3 1.4l0 3.5l-6.6 0l0 -4.2l-.3 -1.4l-.5 -.7l-.5 -.3l-3.5 -1.7l-2.7 -1.3l-4.2 -1l-1.3 -.5l-1 -4.2l0 -.7l.6 -1.4l1.2 -1.4l2.9 -2.8l1.8 -3.4l.7 -1l1.3 -1.2l2.1 -1.1l1 -.2l1.1 0l1.4 .5l1.7 1.6l.7 1.4l0 .7l-.5 2l0 .7l.6 .7l.3 .2l.7 -.1l.7 -.8l.6 -1.4l.7 -.6l1.4 -.6l2.8 -.5l1 -.3l.8 -.7l1.7 -2.5l1.6 -1zM23 77.4l1 -.3l.6 0l2.1 .7l.7 0l2.1 -.7l1.4 .2l.7 .5l.7 1l2.2 4.2l.6 2l-.3 1.4l-1.8 3.5l-3.5 3.2l-1.7 3l-1.5 2.1l-.3 1.2l0 3l-11.3 0l0 -4.2l.4 -1.4l.8 -2l1.1 -1.6l3.1 -2.6l3 -4.2l.2 -.7l-.2 -.7l-.5 -.6l-.7 -.2l-1.4 -.1l-2.1 .6l-2.8 -.3l-.7 .2l-1.4 .8l-1.4 1.4l-2.7 3.6l-2.1 1.4l-1.4 .5l-1.4 .2l-6.9 -.3l0 -10.5l4.1 -.1l1.4 -.6l2.8 -1.5l1.4 -.3l1.4 0l1.7 .3l1.8 .7l2.4 1.4l1 .8l.7 .4l.7 0l.7 -.1l.7 -.4l2.5 -3.5l1 -.8l1.1 -.6zM52.7 89.9l1.8 -.4l.7 .1l2.4 1l2.4 .3l2.1 -.1l2.8 -.8l.7 0l2.7 1.3l.6 .7l-.4 1.4l-1.2 1.4l-3.1 3.1l-.6 1l0 3.5l-9.3 0l0 -4.2l-.4 -2l-.8 -2.2l-1 -1.3l-.3 -.7l.3 -1.4l.6 -.7zM97.9 94.1l1.1 -.2l3.4 0l0 8.5l-2 0l-4.6 0l0 -4.1l.2 -2.1l.8 -1.4l1.1 -.7zM-2.4 94.8l0 -.6l3.5 0l.7 .2l1.4 1.1l.9 1.4l.5 1.4l.1 4.1l-7.1 0l0 -7.6z" fill="#fdad60"/>
<path d="M-2.4 -2.4l7.3 0l0 3.5l-.2 .7l-.4 .7l-1.1 1.2l-1.4 .9l-.7 .2l-3.5 0l0 -7.2zM12.2 -2.4l5.4 0l-.1 4.2l-.7 3.4l.2 .7l.4 .7l1.7 1.8l.7 1l.4 1.4l0 .7l-.4 1.1l-.7 .8l-2.1 1.3l-1.3 .4l-1.4 .1l-2.1 -.3l-1.1 -.6l-.6 -.7l-1.1 -2.5l-.4 -2.4l0 -2.1l.5 -1.4l2 -2.3l.6 -1.1l.1 -4.2zM79.1 -2.4l5.3 0l0 3.5l-.6 1.4l-.8 .8l-1.4 .5l-.7 -.1l-.9 -.5l-.5 -.7l-.3 -.7l-.1 -4.2zM96.8 -2.4l5.7 0l0 7.7l-3.5 0l-.7 -.3l-.7 -.6l-.7 -1.9l-.1 -4.9zM63.3 8.7l.9 -.5l.7 -.2l1.4 .1l2.1 .6l.9 .7l.5 1.4l0 1.4l-.7 1.4l-.8 .7l-2.7 1.5l-.7 .2l-.7 -.1l-.7 -1.1l-1 -3.3l0 -1.4l.3 -.8l.5 -.6zM43.4 21.9l2.1 .5l1.3 .9l3.5 4.2l3.3 2l.4 .7l.1 .7l-.4 1.4l-.9 1.4l-.9 .7l-2.2 1.2l-1.4 1.4l-4.7 9.9l-.9 1.5l-.7 .6l-1.4 .8l-4.8 1.2l-.7 -.1l-.9 -.5l-.8 -1.4l-.2 -1.4l.1 -1.4l1.1 -3.5l0 -2.7l.2 -1.4l.6 -1.4l1.7 -2.8l1 -4.9l2 -5.5l.7 -1.2l.7 -.5l2.1 -.4zM70.2 32.3l5.1 -.4l1.4 .2l.7 .3l.7 .6l.4 .7l.9 2.1l.8 1.3l2.5 2.8l.4 1.4l.1 1.4l-.4 1.4l-.9 .7l-3.1 1l-1.4 .8l-1.1 1l-1.7 2.4l-.7 .7l-.7 .4l-1.4 .1l-4.8 -.9l-1.8 -.6l-1 -.8l-1.4 -1.7l-1.1 -1.7l-.5 -1.4l0 -1.4l.4 -2.1l.5 -1.5l.7 -1.3l4.3 -4.1l1.3 -.8l1.8 -.6zM18.1 33l1 -.5l.7 .2l.7 .5l.3 .5l.2 .7l0 1.4l-.5 1.4l-.8 .7l-1.3 .2l-.7 -.3l-.4 -.6l-.2 -.7l0 -1.4l.5 -1.4l.5 -.7zM13.8 42l.5 -.3l.7 -.1l.6 .3l3.6 3.6l.6 .7l.4 1.4l-.1 .6l-.4 .7l-1.3 .9l-3.5 1.2l-3.4 3.2l-1.4 .5l-2.8 .4l-1.4 .4l-2.8 1.7l-2 .5l-3.5 .1l0 -8.9l3.5 0l2 -.4l3.5 -2.1l4.2 -1.8l3 -2.6zM92 42l2.1 -.2l8.3 .3l0 13.2l-4.1 0l-3.5 -.5l-5.5 -1.6l-3.5 .4l-1.4 -.1l-1 -.4l-.6 -.7l-.1 -.7l.2 -.7l1.6 -4.1l.6 -1.1l3.5 -2.5l1.3 -.7l2.1 -.6zM49.4 70.5l1.7 -.5l.7 0l5.5 1.4l.7 .5l.6 .7l1.5 2.5l1.7 1.6l.5 .7l.2 1.4l-1 3.7l-.6 1.2l-1.3 .7l-2.3 .3l-1.4 -.5l-.7 -.5l-1.4 -1.4l-2.7 -3.9l-1.4 -1.3l-2.1 -1.4l-.7 -.9l-.3 -1.5l.3 -1l.7 -.8l1.8 -1zM98.7 74l3.8 -.1l0 6l-3.5 0l-1.4 .2l-.7 .3l-2.9 2.6l-1.3 .5l-2.7 .5l-.9 .4l-.5 .7l-1.2 3.5l-2.6 3.5l-.6 1.3l-.5 1.6l-.7 .3l-2.8 -.7l-4.1 -2l-3.5 -1.2l-1 -.7l-.5 -.7l-.8 -2.8l.1 -1.4l.3 -.7l1.2 -1.5l2.6 -2l1.5 -4.1l1.1 -1.4l1.1 -.8l1.4 -.7l1.3 -.3l1.4 .3l1.3 .8l.8 1l.4 1.1l0 .7l-.6 2.1l0 .6l.2 .7l.7 .7l1.4 .3l.9 -.3l.5 -.7l.5 -1.3l.9 -1l.9 -.4l4.1 -.7l.9 -.7l1 -1.9l.7 -.8l.7 -.5l1.1 -.3zM22.1 78.8l1.2 -.5l.7 0l2.7 .9l.7 0l2.1 -.6l.7 -.1l.7 .2l.7 .6l1.4 2.2l1 2.2l.3 1.3l-.5 2.1l-1.1 2.1l-1.1 1.4l-2.5 2.1l-1.8 2.8l-2.5 2.7l-.2 .7l-.1 3.5l-.5 0l-8.7 0l0 -4.2l.4 -1.3l.6 -1.6l1.4 -1.9l3.1 -2.8l2.5 -3l.6 -1.2l.2 -1.3l-.3 -.7l-.7 -.7l-1.9 -1l-.6 -.4l-.1 -.5l0 -.9l.3 -.7l1.3 -1.4zM6 80.2l2 -.4l1.4 0l1.4 .4l1.5 .7l.9 .7l.4 .7l.1 .7l-.2 .7l-2 2.6l-2.2 3.6l-.8 .7l-1.2 .8l-2 .5l-1.4 -.2l-2.8 -.8l-3.5 0l0 -8.6l4.2 -.1l1.4 -.5l2.8 -1.5zM55.3 91.3l4.7 .1l4.2 -.2l.9 .1l1.2 .7l.5 .7l.1 .7l-.3 .7l-1.1 1.4l-2.3 2l-.9 1.4l-.1 3.5l-7.3 0l0 -4.2l-.7 -5.5l.3 -.8l.8 -.6zM99.4 94.8l3.1 0l0 7.6l-2.8 0l-3.3 0l.1 -4.1l.4 -2l.7 -.9l.7 -.4l1.1 -.2zM-2.4 95.5l3.5 0l1.4 .6l.7 .7l.7 1.5l.1 4.1l-6.4 0l0 -6.9zM83.7 96.2l.7 -.5l1.4 .2l1.4 .6l1.1 1.1l.4 1.4l0 3.5l-.2 0l-5 0l.2 -6.3z" fill="#f98e52"/>
<path d="M-2.4 -2.4l6.1 0l-.1 3.5l-.4 1.1l-.7 .7l-1.4 .6l-3.5 0l0 -5.9zM13.3 -2.4l3.1 0l-.1 4l-.9 2.9l.1 1.4l.8 1.2l2.1 1.8l.8 1.2l.1 1.4l-.2 .7l-1.2 1.4l-.9 .6l-1.4 .5l-1.3 .2l-2.1 -.5l-1 -.8l-.4 -.7l-.8 -2.1l-.3 -2.1l.1 -2.1l.7 -1.4l1.7 -1.3l.9 -1.4l.2 -1.4l0 -3.5zM79.9 -2.4l3.5 0l0 3.5l-.4 .9l-.7 .7l-.7 .2l-.7 -.2l-.7 -.7l-.3 -.9l0 -3.5zM97.3 -2.4l5.1 0l0 6.6l-3.5 -.1l-.7 -.4l-.7 -1.1l-.1 -.8l-.1 -4.2zM64.2 8.7l1.4 -.2l1.4 .2l1.4 .7l.6 .7l.2 .7l0 1.4l-.3 .7l-1.2 1.2l-2.1 1l-.7 .1l-.7 -.4l-1 -1.9l-.4 -2.1l.5 -1.4l.9 -.7zM42.5 22.6l1.6 0l1.5 .7l.8 .7l2.6 3.5l3.5 2.7l.3 .7l0 .7l-.3 1l-.7 .8l-2.8 1.7l-1.2 1.4l-3.4 6.9l-1.3 3.5l-1.1 1.6l-.6 .6l-1.4 .6l-2.8 .7l-1.4 0l-.7 -.2l-.7 -.6l-.6 -1.3l-.1 -.7l.2 -1.4l1.2 -2.8l0 -3.4l.2 -1.4l2.2 -4.2l1.1 -5.6l2.1 -4.9l.7 -.8l1.1 -.5zM69 33l2.1 -.4l3.5 -.1l1.4 .1l1.1 .4l1 1l1.5 3.2l2 2.3l.6 1.1l.2 2.1l-.2 .7l-.6 .7l-4.2 1.7l-1.4 1.2l-1.5 2l-1.3 1.3l-.7 .3l-2.1 -.1l-3.9 -.8l-1.3 -.7l-.8 -.7l-1.6 -2l-.8 -1.5l-.3 -1.4l.1 -1.4l.4 -2.1l.6 -1.3l.7 -1l3.5 -3.3l.7 -.6l1.3 -.7zM18.2 34.4l.2 -.3l.7 -.4l.7 .3l.4 1.1l-.1 .7l-.3 .7l-.7 .4l-.7 -.2l-.2 -.2l-.3 -.7l.3 -1.4zM91.1 42.7l3 -.5l8.3 .2l0 12.2l-5.5 -.1l-3.5 -.6l-4.2 -1.4l-4.1 .2l-.7 -.3l-.5 -.7l0 -.7l.5 -1.6l.7 -1.9l.7 -1.1l2.6 -2.3l1.1 -.7l1.6 -.7zM13.6 43.4l.7 -.3l.7 0l.7 .3l2.1 1.7l1 1.1l.4 .7l.2 .7l-.3 .8l-.7 .7l-4.1 1.6l-2.3 2.4l-1.2 .8l-1.4 .4l-3.5 .5l-3.3 1.8l-1.5 .3l-3.5 .1l0 -7.4l3.5 0l2.1 -.4l4.1 -2.3l3.5 -1.5l2.8 -2zM48.2 71.9l1.5 -.5l2 .2l2.8 -.4l2.1 .4l1.4 .9l1.6 2.9l1.7 2.1l.3 .6l-.3 2.1l-.5 1.5l-.7 1.3l-1.4 .8l-1.4 .2l-1.4 -.5l-.7 -.5l-1.2 -1.4l-1.6 -2.8l-1.4 -1.9l-.6 -.7l-2.1 -1.1l-.7 -.6l-.3 -1.2l.2 -.7l.7 -.7zM78.7 75.3l1.5 -.6l1.4 0l1.4 .6l.7 .7l.6 1.4l0 .7l-.8 2.8l.1 .6l.8 1l2.8 1.3l.4 .5l.1 .7l-.4 2.1l-.7 1.4l-3.6 5l-.7 .5l-.7 .2l-1.4 -.3l-7 -3.3l-.8 -.7l-.5 -.7l-.5 -2.1l.2 -1.4l1 -1.3l.7 -.3l.7 -.1l2.1 .6l.7 -.4l.1 -1.3l-.7 -2l-.1 -2.1l.4 -1.4l.5 -.7l1.7 -1.4zM98 75.3l1 -.3l3.4 0l0 3.8l-.7 0l-3.4 0l-1.4 -.5l-.2 -.9l.1 -.7l.4 -.7l.8 -.7zM23.1 79.5l.8 0l2.8 1l.7 0l2.1 -.5l.7 -.1l.7 .3l.7 .6l1 1.5l.6 1.4l.3 1.4l-.4 2l-1.1 2.1l-3.1 2.8l-2.2 2.9l-2.8 2.7l-.6 1.3l-.1 2.8l0 .7l-7.3 0l.1 -4.2l.3 -1.3l.6 -1.4l.9 -1.4l2.7 -2.3l2.8 -3.3l.6 -.7l.7 -1.4l.2 -1.3l-.4 -1.4l-.5 -.6l-1.3 -.9l-.7 -.8l-.1 -.5l.3 -.7l1 -.7zM90.4 79.5l1.6 -.2l1.4 0l1 .2l.4 .4l.2 .3l-.2 .7l-.4 .7l-1 .8l-2 .6l-1.4 -.1l-.7 -.3l-.3 -.3l0 -1.4l.4 -.7l1 -.7zM6 80.9l1.9 -.5l2.1 .2l.8 .3l.9 .7l.5 .7l0 .7l-2.7 5.5l-1 1.4l-.9 .7l-1.1 .5l-1.3 .2l-1.4 -.3l-2.8 -1.2l-3.5 0l0 -6.8l4.2 -.1l1.4 -.5l2.9 -1.5zM58 92l3.5 -.1l2.1 .1l1.4 .6l.4 .8l-.1 .7l-.9 1.4l-3.3 2.8l-.4 .6l0 .7l0 2.8l-4.9 0l-.3 -8.3l.2 -.7l.4 -.7l.5 -.3l1.4 -.4zM98.4 96.2l1.2 -.2l2.8 0l0 6.5l-1.4 0l-3.9 -.1l.1 -4.1l.3 -1.2l.9 -.9zM-2.4 96.9l0 -.3l3.5 0l.7 .2l.7 .6l.5 .9l.2 .7l0 3.5l-5.6 0l0 -5.6zM84.6 97.6l.4 -.4l.7 -.2l1.3 .6l.5 .7l.2 .7l.1 3.5l-.7 0l-2.9 0l0 -3.5l.4 -1.4z" fill="#f46d43"/>
<path d="M-2.4 -2.4l3.9 0l0 2.8l-.1 .7l-.3 .2l-3.5 .2l0 -3.9zM98.2 -2.4l4.3 0l0 5.1l-2.8 0l-.8 -.2l-.5 -.7l-.2 -.7l0 -3.5zM11.6 5.9l.5 -.2l1 .2l1.4 1.4l3 2.1l.6 .7l.2 .7l-.3 1.4l-.4 .6l-1.3 1l-1.4 .5l-1.4 0l-1.4 -.7l-.5 -.8l-.9 -2.7l-.2 -2.1l.2 -1.2l.9 -.9zM64.1 9.4l.8 -.4l1.4 .1l1 .3l.9 .7l.4 .7l-.1 1.4l-.3 .7l-.7 .7l-1.2 .7l-.7 .2l-.7 -.1l-.7 -.6l-.7 -1.4l-.2 -.9l.2 -1.4l.6 -.7zM41.6 24l1.1 -.6l.7 -.1l.7 .2l.9 .5l2.6 3.5l3.1 2.8l.6 .6l.1 .7l-.4 .9l-2.8 2l-.9 1.3l-3.5 7l-1.3 4.1l-.9 1.4l-1 .8l-1.4 .5l-2.8 .4l-.7 -.2l-.7 -.4l-.6 -1.1l-.1 -.7l.2 -1.4l1.3 -2.8l-.1 -3.4l.2 -1.4l2.1 -3.5l.5 -4.2l.4 -1.3l1.7 -4l1 -1.6zM68.4 33.7l1.3 -.5l1.4 -.1l4.2 0l1.4 .4l.9 .9l1.4 2.8l2.4 3.4l.2 1.4l-.1 .7l-.5 .7l-4.3 2.1l-1.4 1.3l-1.1 1.5l-1 1.1l-1.4 .6l-2.1 -.1l-2 -.4l-1.4 -.5l-1.1 -.7l-1.7 -2.1l-.9 -1.4l-.4 -2.1l.3 -2.1l.4 -1.3l1 -1.4l3.5 -3.5l1 -.7zM93.5 42.7l8.9 .1l0 11l-6.9 -.1l-2.8 -.6l-2.1 -1.1l-1.4 -.4l-2.7 0l-.7 -.1l-.5 -.5l-.1 -.7l.3 -1.3l.6 -1.4l2.7 -2.8l2 -1.4l2.7 -.7zM13.1 44.8l1.1 -.5l.7 0l1.4 .7l1.3 1.2l.5 .7l.2 .7l-.3 .7l-1.1 .7l-2.7 1l-3.4 3.3l-1.4 .4l-3.5 .3l-4.1 1.9l-4.2 .2l0 -5.8l4.1 0l2.1 -.5l3.7 -2.2l3.3 -1.4l2.3 -1.4zM54.3 71.9l1.6 -.1l1.5 .8l.6 .7l1.2 2.8l1.2 2l.1 1.4l-.4 1.6l-.7 1.2l-1 .7l-1.1 .2l-.7 -.1l-1.4 -.9l-.9 -1.3l-1.7 -4.1l-.4 -1.4l0 -.7l.4 -1.4l.5 -.7l1.2 -.7zM79.6 75.3l1.3 -.3l.7 .1l.7 .3l.8 .6l.4 .7l.2 .7l0 .8l-.9 2.7l.1 .7l.8 1.1l2.6 1.6l.4 .7l.2 .7l-.3 1.4l-.7 1.4l-3.3 4.2l-1 .6l-.7 0l-1.4 -.3l-5.5 -3.1l-.7 -.7l-.5 -1.4l.1 -.7l.3 -.7l.7 -.1l2.1 .2l.7 -.3l.7 -.5l.5 -.7l.2 -.7l.1 -1.4l-1.3 -3.4l0 -1.4l.7 -1.4l.8 -.7l1.2 -.7zM90.5 80.9l.8 -.4l.7 0l.7 .3l0 .4l-.3 .4l-1.1 .2l-.8 -.2l0 -.7zM6.3 81.6l1.7 -.4l2.1 .4l.7 .7l.1 .7l-.2 .7l-1.8 4.8l-1.1 1.4l-1.2 .7l-.7 .1l-1.4 -.2l-1.2 -.6l-1.5 -.9l-.7 -.2l-3.5 0l0 -5l4.2 -.2l1.3 -.4l3.2 -1.6zM28.1 81.6l2.1 -.3l.7 .3l.7 .6l.7 1.2l.4 1l-.1 2.1l-.5 1.4l-.9 1.3l-2.6 2.1l-2.5 3.2l-2.8 2.2l-.7 .9l-.4 1.4l0 3.4l-.3 0l-5.2 0l0 -3.4l.3 -2l.7 -1.5l.7 -.9l2.8 -2.6l3.6 -4.2l.8 -2l.1 -2.8l.3 -.7l2.1 -.7zM58.3 92.7l2.5 -.3l2.1 .3l1 .7l.1 .7l-.3 .7l-.8 1l-3.9 2.5l-.5 .7l-.1 3.4l-1.1 0l0 -3.5l-.7 -2.2l-.1 -1.2l.2 -1.4l.4 -.7l1.2 -.7zM-2.4 98.3l0 -.2l2.8 0l.9 .2l.5 .7l.1 3.5l-4.3 0l0 -4.2zM98.7 98.3l.3 -.3l.7 -.2l2.8 0l0 4.7l-4.1 0l0 -3.5l.3 -.7z" fill="#e45549"/>
<path d="M12.3 9.4l.5 -.6l.7 0l1.7 .6l1.2 .7l.6 .7l0 .7l-.2 .7l-.5 .7l-1.2 .7l-.9 .1l-.7 -.2l-.7 -.5l-.7 -1.5l.2 -2.1zM64.2 10.1l.7 -.4l.7 -.1l1.6 .5l.5 .7l.2 .7l-.2 .7l-.5 .7l-.9 .6l-.7 .2l-.7 -.2l-.7 -.8l-.3 -1.2l0 -.7l.3 -.7zM42.2 25.3l.5 -.5l.7 -.1l.7 .4l1.9 2.3l2.9 2.8l.4 .7l.1 .7l-2.5 3.1l-3 5.9l-1.2 2.8l-.7 3.4l-1 1.4l-1.7 .9l-2.1 .3l-.7 -.1l-.9 -.4l-.5 -.7l-.1 -.7l.3 -1.4l1.4 -2.7l-.1 -4.2l.6 -1.3l1.6 -2.2l.2 -.7l.1 -3.4l.3 -1.4l.6 -1.5l2.2 -3.4zM69.8 33.7l1.4 -.1l3.5 .2l1.4 .2l.7 .4l.7 .8l1.4 2.7l1.3 2l.5 1.4l0 .7l-.5 .8l-.8 .6l-1.9 .8l-1.4 .9l-1.2 1.1l-1.6 2.1l-.7 .7l-1.4 .4l-2.1 0l-2.1 -.7l-1.3 -1l-1.4 -1.6l-.9 -1.3l-.6 -1.4l0 -1.4l.2 -1.4l.5 -1.3l.4 -.7l3.8 -3.8l.7 -.6l1.4 -.5zM92.9 43.4l1.9 -.2l7.6 .1l0 9.6l-5.6 .1l-2 -.1l-1.4 -.3l-1.5 -.9l-1.3 -1l-1.4 -.5l-1.4 -.3l-.7 -.4l-.1 -.5l.2 -.7l2.2 -2.8l1.7 -1.4l1.8 -.7zM12.6 46.2l1.6 -.7l.7 .1l1.4 .9l.3 .4l.1 .7l-.7 .7l-2.5 1.2l-2.7 2.9l-1.5 .7l-4.1 .1l-3.5 1.6l-4.2 .2l0 -3.8l4.2 0l2.1 -.3l1.4 -.7l2.7 -1.9l4.7 -2.1zM54.6 72.6l1.3 -.2l.7 .2l.7 .7l.6 1.4l.3 2.1l1.1 2l0 .7l-.3 1.4l-.3 .7l-.7 .5l-.7 .2l-.7 -.1l-.7 -.4l-.7 -.8l-.3 -.8l-.3 -2l-.8 -2.1l-.3 -1.4l.4 -1.4l.7 -.7zM79.2 76l1 -.4l1.4 0l.8 .4l.6 .7l.2 .7l0 .7l-1.1 2.8l-.1 .7l.3 .6l.6 .7l2.2 1.4l.7 .7l.3 .7l0 .7l-.6 1.4l-3.2 4l-.7 .5l-.7 .2l-1.4 -.3l-2.6 -1.6l-.8 -.7l-.5 -.7l.1 -.7l2.4 -2.1l1 -2.1l.3 -1.4l-.1 -.7l-1.3 -2l-.4 -1.4l.2 -1.4l.5 -.7l.9 -.7zM7.1 82.3l.9 0l.7 .2l.5 .5l.2 .7l-.7 3.5l-.7 1.6l-.7 .7l-.7 .5l-1.4 0l-1.4 -.6l-1.4 -1.2l-1.4 -.7l-3.4 0l0 -2.7l3.4 0l.7 -.2l3.5 -1.7l1.9 -.6zM28 83l1.6 -.4l.6 .1l.7 .4l.7 1l.3 1l-.3 2.1l-.7 1.1l-.7 .7l-2.4 1.6l-.7 .7l-2.2 2.8l-2.1 1.4l-.9 .9l-.4 .5l-.4 1.4l-.1 3.5l0 .6l-3.4 0l0 -3.4l.2 -1.4l.6 -1.4l.7 -.9l6.3 -6.4l.5 -1l.9 -3.6l.3 -.6l.9 -.7zM58.8 93.4l1.9 -.3l1.4 .4l.4 .6l-.2 .7l-.6 .7l-1 .5l-1.4 .4l-.7 -.1l-.7 -.5l-.2 -1l.2 -.7l.9 -.7z" fill="#d43d4f"/>
<path d="M64.8 10.8l.8 -.3l.9 .3l.3 .7l-.3 .7l-.9 .4l-.7 -.4l-.2 -.7l.1 -.7zM42.4 28.1l1 -.1l2.1 1.2l1.1 1l.4 .7l.1 .7l-2.3 5.3l-1.7 3l-1 2.1l-.4 1.4l-.4 3.5l-.3 .6l-1.1 .9l-2.1 .5l-1.3 -.3l-.7 -.7l-.1 -1l1.9 -3.5l.1 -.7l-.2 -2.8l.1 -.7l.4 -.7l1.7 -2.1l.3 -.7l.1 -.7l-.2 -2.7l.1 -1.4l.6 -1.4l.7 -.8l1.1 -.6zM69.2 34.4l2 -.2l3.5 .3l1.4 .4l.7 .6l.6 1l1.9 4.2l.1 .6l-.3 .7l-.9 .7l-2.8 1.7l-1.1 1.1l-1.7 2.3l-.7 .6l-1.4 .5l-1.4 -.1l-1.7 -.5l-.9 -.7l-1.5 -1.8l-.8 -1l-.7 -1.4l-.2 -2.1l.3 -1.1l.4 -.9l2.3 -2.2l1.8 -2l1.1 -.7zM94.3 44.1l8.1 .1l0 2.6l-2 0l-7 -.3l-1.4 -.3l0 -.7l.6 -.7l1.7 -.7zM9 49l1.1 -.4l1.3 -.1l.5 .5l-1 2.1l-.8 .8l-.7 .2l-1.4 -.1l-.7 -.2l-.4 -.7l.3 -.7l.7 -.7l1.1 -.7zM93.7 50.3l.4 -.2l1.4 -.1l.9 .3l.5 .7l-1.2 .7l-1 0l-1 -.7l0 -.7zM55.7 73.3l.3 0l.7 .7l.1 .7l-.2 .9l-.7 .3l-.7 -.4l-.3 -.8l0 -.7l.3 -.5l.5 -.2zM79.2 76.7l1 -.5l.7 -.2l.7 .2l.7 .5l.3 .7l0 .7l-.3 .8l-.7 1.2l-.7 .6l-.7 .1l-.7 -.4l-.6 -.7l-.4 -.9l-.1 -.7l.2 -.7l.6 -.7zM56.6 80.2l0 -.2l.7 -.1l.1 .3l-.1 .2l-.7 -.2zM5.7 83.7l.9 -.2l.8 .2l.6 .7l.1 .7l0 1.4l-.5 1.4l-.4 .7l-.6 .5l-.7 .2l-.7 -.1l-1.1 -.6l-1.2 -1.4l-.3 -.7l.1 -.7l.5 -.7l1 -.7l1.5 -.7zM80.7 83.7l.2 -.2l.7 -.1l.7 .2l2 1.2l.9 1l0 .7l-.6 1.4l-2.3 2.7l-.7 .6l-.7 .3l-1.2 -.2l-1.2 -.7l-.6 -.7l-.2 -.6l.2 -.7l2.8 -4.9zM28.6 84.4l.9 -.2l.7 .3l.4 .6l.2 .7l-.1 .7l-.5 .9l-.7 .7l-.7 .4l-.6 .1l-.7 -.5l-.2 -.9l.2 -1.4l.7 -1.1l.4 -.3z" fill="#b81e48"/>
<path d="M41.7 30.9l1 -.4l.7 .1l.7 .4l.7 1.2l0 .8l-.3 1.4l-.4 1l-.7 1l-1.4 1.2l-.2 -.5l-.1 -1.3l-.5 -3.5l.1 -.8l.4 -.6zM69.1 35.1l.7 -.2l1.4 0l4.1 .9l.7 .6l.6 .8l.7 2.1l0 1.4l-.5 .7l-2.1 1.3l-.8 .7l-1 1.4l-1 2.2l-.7 .7l-1.4 .4l-.7 0l-1.4 -.5l-2.8 -3.2l-.7 -.9l-.2 -.8l-.1 -1.4l.3 -1.3l.7 -.9l2.1 -1.6l1.2 -1.7l.9 -.7zM69.1 39.7l-.7 1.2l0 1.8l.7 .8l.7 .1l1.4 -.4l.7 -.5l.5 -.7l.3 -1.4l-.2 -.7l-1.3 -.6l-1.4 .1l-.7 .3zM41.3 37.8l.3 0l.1 .7l-.3 1.4l-1.4 2.8l.1 .7l.6 1.3l.1 1.4l-.1 .7l-.7 .9l-1.1 .5l-1 .1l-.7 -.2l-.6 -.6l0 -.7l.7 -1.4l2.7 -2.7l-.8 -1.4l-.1 -1.4l.2 -.5l.7 -.7l1.3 -.9zM79.6 77.4l.6 -.4l.7 -.2l.7 .4l.1 .9l-.3 .7l-.5 .4l-.7 .1l-.7 -.6l-.1 -.6l.2 -.7zM5.8 85.1l.8 .3l.3 1.1l-.3 1.1l-.7 .5l-.7 -.2l-.6 -.7l-.2 -.7l.2 -.7l1.2 -.7zM81.4 85.1l.9 -.2l.8 .2l.8 .7l.2 .7l-.2 .7l-.5 .7l-1.3 1.4l-1.2 .7l-.7 -.1l-.6 -.6l0 -.7l.5 -1.4l.8 -1.6l.5 -.5z" fill="#9e0142"/>
<path d="M26.3 -2.4l8.6 0l0 3.5l.3 1.4l.8 1.4l2 2l.5 .4l1.4 .2l.7 -.1l3.5 -2l2.1 -.8l1.8 -1.1l.7 -1.4l0 -3.5l10.5 0l0 2.8l.4 1.4l1.1 .9l1.4 .3l2.8 -.4l2.8 .4l.7 -.1l.6 -.4l.3 -1.4l0 -3.5l7.6 0l0 6.2l.5 1.5l-.7 -.1l-.7 -.5l-1.4 -.6l-3.4 -.3l-.7 .1l-.7 .6l-1 1.4l-.4 .2l-4.9 0l-.7 .3l-1 .9l-.6 1.4l-.1 1.4l.9 5.6l-.2 2.7l.3 .9l.7 .4l.7 0l.7 -.5l2.2 -2.2l1.3 -.9l2.8 -1.1l1.4 -.3l.7 .1l5.3 5l1.9 2.8l1.1 .7l.7 0l.7 -.5l.2 -.9l-.8 -2.8l-.1 -.7l.5 -2.7l-2 -3.5l-.9 -3.5l-1.1 -2.2l2.8 0l1.4 -.2l1.4 -.6l3.1 -1.9l2.4 -1l.4 -.3l.5 -1.4l.1 -3.5l4.8 0l.1 7.6l.8 2.1l1.5 2.1l.2 .7l-.2 .7l-1.7 2.8l-2.1 4.1l-.1 1.4l2.7 3l1.4 1l1.3 .2l3.5 0l0 17.7l-4.8 -.1l-4.2 -.5l-6.3 .8l-.7 -.3l-.7 -.9l-.3 -2.8l.1 -.7l1.1 -1.4l.7 -1.4l-.1 -1.4l-.5 -.7l-1 -.6l-.6 -.2l-1.4 0l-1.4 .5l-3.5 -1.5l-2.8 -.6l-1.4 -.1l-1.4 .1l-2.1 1l-2.7 1l-1.4 .8l-2.1 1.7l-1.4 .8l-.7 0l-.2 -.1l-.2 -.7l.2 -3.5l-.3 -1.3l-.9 -1.3l-2.7 -2.1l-1.4 -.6l-3.5 -1l-3.5 -2.3l-4.1 -1.3l-3.5 -.2l-2.1 .3l-1.4 .5l-.3 .3l-1 3.5l-1 2.8l-1 4.8l-.7 1.4l-2 2.8l-.5 1.4l-.4 2.6l-1.2 2.9l-.2 1.4l.1 5.6l-.4 2.8l.5 3.4l.2 .7l1 1.1l1.4 .4l2 -.3l1.4 -.7l.9 -1.2l.1 -.7l-.7 -2l-.1 -.7l.3 -.7l.9 -.8l3.5 -1.1l1.4 -.8l3.8 -3.6l.7 -1.4l1.7 -5.5l.7 -.9l.7 -.6l1.4 -.6l2.8 -.1l.7 -.4l.7 -.9l.7 -.2l3 .2l.5 .7l-.1 1.2l-.6 2.3l-.7 .8l-.7 .3l-.7 -.3l-1.4 -2l-.7 -.2l-.6 2.8l0 1.3l.3 .7l.6 .7l1.8 1.3l1.4 1.4l.7 .9l.4 1.3l.2 1.4l-.2 .7l-1.1 1l-.6 1.1l.1 1.3l.6 1.4l.6 .7l.7 0l.7 -.7l1.1 -2.7l1.6 -.8l2.1 -.2l2.1 0l.7 .1l2.8 1.2l1.3 .2l1.4 -.2l2.8 -.9l.7 .6l.3 .7l1.1 1.3l2.4 2.1l.2 .7l-1.6 3.5l-.5 2.1l-.1 1.4l.3 .3l.7 0l.7 -.5l.4 -.5l.7 -1.4l.8 -2.1l0 -1.4l-.2 -1.4l.6 -.7l1.2 -.7l1.4 -.7l2.7 -.6l3.4 .6l1.5 .7l1.2 .7l.7 .7l1.3 2.1l.9 1.1l.7 .4l.7 .1l2.8 0l0 8.9l-4.2 .2l-1.3 .7l-2.1 1.7l-2.2 2.9l-1.5 .7l-1.2 .2l-1.4 0l-1.4 -.1l-3.4 -3.2l-1.4 -.7l-1.4 -.2l-1.4 .2l-2.8 1.4l-1.4 1.1l-1.1 1.3l-1.6 2.7l-2.1 2.2l-2.1 1.3l-1.4 .1l-1.4 -.6l-.8 -.9l0 -3.4l-.2 -1.4l-1.1 -1.3l-2.1 -1.4l-.7 -.8l-1.3 -2.3l-1.4 -.9l-1.4 -.3l-1.4 -.5l-2.8 -2l-2.1 -.2l-1.4 .4l-3 3l-.8 1.4l-.5 1.4l-.1 1.4l.5 1.4l2.6 3.4l.1 .7l-.1 1.4l-1 2.1l-.3 2.1l.2 1.4l1.1 2.1l0 .7l-.7 1.1l-2.8 1.8l-1.3 1.2l-.1 1.4l.7 3l0 4l-2.9 0l.3 -8.4l-.6 -3.4l-.5 -5.6l-.6 -1.4l-1.3 -1.1l-.7 -.2l-1.4 -1l-1.3 -2l-.6 -1.9l0 -1.4l.3 -.7l1.5 -1.4l.2 -.7l-.7 -1l-2.1 -1l-.9 -2.2l-.5 -.5l-1.4 .2l-2.2 1l-3.4 .4l-.7 .4l-.6 .6l-.4 .7l-.3 2.1l-.6 1.4l-.6 .7l-3.7 3.3l-.7 .3l-1.4 .1l-1.4 -.2l-2.8 -1.1l-3.6 -1l-1.6 -.7l-.3 -.7l.5 -2.1l0 -1.4l-.1 -.7l-1.1 -1.4l-1.4 -1.1l-1.4 -.8l-1.4 -.3l-3.4 0l0 -7.6l3.4 0l2.1 -.2l1.4 -.7l2.9 -2.5l5.4 -1.6l1.4 -1l1.6 -1.5l1.5 -.7l1.8 -.2l2.1 .2l.2 .7l-.1 2l.3 .7l1 .7l.6 -.1l.7 -.6l1.4 -1.8l2.7 -1.6l-.2 -.7l-1.1 -.5l-2.8 -.1l-.7 -.3l-.1 -1.9l.1 -7l-.2 -5.5l.2 -4.2l-.2 -1.4l-1.1 -1.1l-4.2 -1.5l-2.1 -1.2l-1.4 -.1l-.7 .2l-2 1.7l-1.2 1.3l-.4 3.5l.2 5.6l-.7 2.1l-.7 .6l-5.6 3.5l-1.4 .5l-.7 .2l-3.4 0l0 -19l4.1 .1l3.5 .4l1 -.2l.5 -.7l-.4 -1.4l-.4 -.5l-.7 -.5l-.7 -.1l-3.5 .9l-3.4 .1l0 -10.2l3.4 -.1l1.4 -.3l1.9 -1.8l.9 -1.5l.7 -.5l.7 .7l1.7 2.7l.6 .7l1.8 1l2.1 .3l2.1 0l7.7 -1l.4 -.3l.4 -1.4l-.3 -3.5l.1 -1.7l.7 -.1l2.8 .4l1.4 -.3l1.2 -1.1l.2 -.7l0 -1.4l-.5 -1.3l-.9 -1.3l-1.6 -1.5l-.2 -.7l0 -2.8zM77.4 67l-.7 .2l-.6 .6l-.3 .7l.9 .6l.7 -.1l.7 -.5l.3 -.7l-.1 -.7l-.9 -.1zM5.5 6.6l.5 0l0 2l-.7 -.2l-.2 -1.1l.2 -.6l.2 -.1zM13.5 31.6l.8 0l.4 .7l.1 .7l-.6 2.6l-.7 .6l-.7 .2l-.7 -.5l-.2 -.8l.4 -2.1l.5 -.9l.7 -.5zM81.9 32.3l.4 -.4l.7 .2l.7 .8l.7 1.5l.2 .7l-.2 .8l-.7 .4l-.7 0l-1.4 -.7l-.3 -1.2l0 -.7l.3 -1.2l.3 -.2zM79.3 48.3l.9 -.3l.8 .3l-.2 .7l-.6 .7l-1.4 .5l-.2 -.5l.1 -.7l.6 -.7zM-2.4 78.1l0 -.6l3.5 .1l.7 .5l-.7 .4l-.7 .1l-2.8 0l0 -.5zM98.8 83l3.7 -.1l0 8.7l-4.9 .1l-2.1 .6l-1.9 1.1l-.8 .7l-.7 .5l-2.2 -1.2l-.6 -.7l.1 -1.4l.6 -2.3l.6 -1.8l.8 -.7l2.7 -1l3.5 -2l1.2 -.5zM59.3 87.8l1.4 -.1l.7 .8l-.7 .8l-1.1 -.1l-.5 -.7l.2 -.7zM16.6 88.5l1.7 0l.2 .7l-.4 .7l-2.5 1.2l-.6 .9l-2 5.5l-.2 4.9l-4.8 0l-1.5 0l0 -4.2l-.8 -2.8l.2 -1.1l1.3 -.9l2.2 -1.1l1.5 -1l1.6 -.7l1.7 -.3l2.4 -1.8zM36.4 89.2l.8 0l.7 .7l.2 .7l-.2 .7l-.8 .7l-2 .4l0 -1.1l.3 -.7l.4 -1l.6 -.4zM34.4 92.7l.4 .7l-.4 3.5l-.7 1l-.7 .2l-1.2 -.5l-.8 -1l-.2 -1.1l.2 -.8l.6 -.9l.7 -.5l2.1 -.6zM71.7 94.1l.9 -.2l1.4 0l2.8 .9l3.4 2l.8 .8l.3 1.4l0 3.4l-4.5 0l-10.1 0l.2 -4.1l1.7 -2.1l1.9 -1.6l1.2 -.5zM92.6 96.9l.1 -.3l.7 1.2l.1 4.7l-1.3 0l.1 -4.2l.3 -1.4zM51.3 99l.4 -.7l.2 .7l.1 3.5l-.8 0l.1 -3.5z" fill="#f3faac"/>
<path d="M28 -2.4l6.2 0l0 3.5l.7 2.1l.9 1.3l1.4 1.5l1.4 .8l1.3 .2l1.4 -.4l2.2 -1.4l4.1 -1.7l1.4 -1l.5 -1.4l0 -3.5l8.6 0l.1 3.5l.9 1.4l1.7 1.3l2.1 .9l2 -.8l.7 -.1l1.4 .2l1.1 .5l0 .7l-1.1 .4l-3.4 -.4l-.7 .1l-.7 .7l-.7 1.3l-.5 1.4l-.1 1.4l.9 4.9l-.3 3.4l.2 1.4l.5 .5l.7 .1l.7 -.2l.7 -.5l2.4 -2.7l1 -.7l1.4 -.7l2.1 -.3l.7 0l.7 .2l.7 .6l3.6 3.7l2.4 3.5l.9 .7l1.4 .3l.7 -.1l.7 -.4l.4 -.5l.2 -.7l-.8 -4.2l.8 -2.7l-.2 -.7l-.4 -.5l-1.4 -1.1l-.7 -.8l-.7 -1.6l-.4 -3l.5 -.7l2.7 -.8l3.4 -2l2.9 -1l.6 -.6l.7 -1.1l.1 -4.2l4.1 0l-.1 7.6l.4 1.4l1.5 2.8l.1 1.4l-1.9 3.7l-1.9 3.2l-.4 .7l.1 .7l3.6 4.1l.7 .5l1.4 .2l4.1 0l0 16.9l-4.8 -.1l-4.2 -.5l-4.3 .5l-1.9 -.1l-.7 -.6l-.3 -1.4l.3 -1.4l1.2 -2.1l.6 -1.4l0 -1.4l-.3 -.7l-.6 -.7l-.9 -.7l-1.4 -.6l-.7 -.1l-3.5 .2l-5.5 -1.2l-2.1 .1l-5.6 2.7l-3.4 2.3l-.7 0l-.4 -.6l-.1 -3.5l-.3 -1.3l-.6 -.9l-3.5 -2.4l-4.2 -1.3l-3.4 -2.3l-3.5 -1.1l-1.4 -.3l-2.1 -.1l-4.2 .3l-.6 .2l-.7 .6l-.7 3.3l-1.2 3.3l-.9 4.4l-.7 1.6l-1.7 2.3l-.7 1.4l-1.1 4.1l-1.1 2.1l-.2 1.4l.3 2.8l-.1 1.4l-.3 1.1l-.3 .3l-.4 .2l-.7 0l-3.4 -.6l-.9 -.3l-.5 -.7l-.2 -2.1l.4 -4.2l-.9 -5.5l0 -2.1l.5 -3.5l0 -.7l-.3 -.7l-1.6 -1.1l-3.2 -.9l-2.4 -1.2l-1.4 -.4l-.6 0l-1.4 .6l-3 1.7l-.5 .6l-.5 8.4l-.5 2.1l-.6 1.4l-2.4 2l-3 1.7l-1.3 .4l-3.5 0l0 -17.7l4.2 .1l4.1 .3l.7 -.1l.7 -.3l.3 -.3l-.1 -.7l-.9 -1.8l-.7 -.9l-.7 -.4l-1.4 0l-2.7 .8l-3.5 0l0 -9l3.5 0l1.3 -.3l1.3 -.9l1.5 -1.5l.7 -.3l.7 .3l2.1 2.3l1.4 .9l.7 .2l2.8 .3l6.2 -.4l2.8 .1l.7 -.1l.6 -.4l.3 -.7l.1 -.7l-.5 -3.5l.2 -1l.7 -.5l2.7 -.2l1.4 -.5l.7 -.7l.5 -1.3l-.1 -2.1l-1.8 -3.4l-.1 -3.5zM70.1 -2.4l6.3 0l0 4.2l-.3 1.4l-.1 .2l-.7 .3l-.7 -.1l-3.2 -.4l-1 -.7l-.3 -1.4l0 -3.5zM82.2 34.4l.1 -.2l.3 .2l-.3 .5l-.1 -.5zM58.1 37.2l.5 -.4l.7 0l.5 .4l.2 .9l-.4 1.2l-.3 .4l-.7 .1l-.4 -.5l-.3 -1.4l.2 -.7zM52.1 37.8l1.4 0l.9 .7l.2 1.4l0 2.8l.5 1.4l.8 .8l2.7 1.9l.8 1.4l0 1.4l-1.4 1.7l-.2 1.1l.3 1.4l.7 2.1l.6 1.1l.7 .6l.7 .2l.7 -.2l.3 -.4l.5 -.6l.8 -2.1l.4 -.7l.8 -.7l1.4 -.5l1.4 -.2l1.3 .1l2.8 1.2l1.4 .2l4.2 -.1l.7 .3l2.2 2.5l.4 .6l.3 1.4l-1.2 4.9l-.3 1l-.7 .9l-2.5 1.6l-.7 .7l-.2 .7l.6 .9l.7 .4l1.4 .1l1.3 -.8l1.4 -2l1.4 -1.1l.9 -1l1.5 -3.5l.9 -3.5l.4 -.7l.9 -.7l1.4 -.6l2.4 -.3l2.1 .4l1.4 .5l1.1 .7l.7 .7l2.3 3.7l1.4 1.1l3.5 .1l0 7l-3.5 .1l-.7 .2l-3.5 2.6l-2.1 2.7l-.6 .6l-2.1 .6l-1.7 .1l-1.1 -.3l-.7 -.4l-2.8 -2.6l-1.4 -.8l-1.4 -.2l-1.3 .2l-2.8 1.5l-1.4 1l-1 .9l-1.8 2.9l-1.4 1.6l-2.1 1.6l-1.4 .4l-1.3 -.3l-.8 -.7l-.4 -1.3l-.1 -2.8l-.5 -1.4l-1 -1l-2.1 -1.5l-2.1 -3l-.7 -.5l-3.3 -1l-2.2 -1.9l-1.4 -.4l-1.4 -.1l-1.4 .1l-.7 .4l-.9 1.3l-2.2 2.7l-.6 1.4l-.3 1.4l.3 2.1l.3 .7l1.7 2.1l.6 1.4l0 .7l-.9 2.7l-.2 2.1l.2 1.4l.6 2.1l0 .7l-.5 .7l-.9 .6l-1.4 .5l-.7 .1l-.7 -.1l-.4 -.4l-.9 -1.4l-.7 -2.1l-.7 -3.5l-.7 -1.4l-.7 -.6l-2.1 -1.1l-.7 -.5l-.7 -.9l-.5 -1l-.3 -1.4l.1 -1.1l2 -2.4l.1 -.7l-.7 -1l-2.3 -1.8l-1.2 -2.3l-.7 -.3l-.7 .1l-3.4 1.5l-3.5 .5l-.7 .3l-.5 .9l-.9 3.7l-.8 1.2l-3.4 2.9l-1.3 .5l-1.4 0l-2.2 -.6l-5.2 -2.1l-.6 -.7l-.1 -.7l.1 -2.8l-.4 -1.4l-.7 -.8l-1.3 -1.2l-2.8 -1.6l-.7 -.1l-3.5 0l0 -6.1l3.5 0l2.1 -.4l1.4 -.7l2.5 -2.3l.9 -.5l5.6 -1.8l2.8 -2.1l1.3 -.6l1.4 .1l.7 .4l.9 2.5l.5 .7l1.4 .6l.7 0l.7 -.3l2.1 -2.2l.7 -.5l1.4 -.3l.7 0l.8 .6l.5 1.1l.7 2.2l.7 .9l.7 .4l1.4 .2l1.4 -.2l1.4 -.5l1.4 -.9l.6 -1.2l0 -.6l-.7 -2.1l0 -.7l.3 -.7l.9 -.7l3.1 -.9l1.3 -.7l4 -3.3l.6 -.7l.6 -1.4l1.3 -4.8l.9 -1.4l1.3 -.7zM98.2 83.7l4.2 -.2l0 7.6l-4.1 0l-3.5 .8l-2.1 .6l-.7 -.1l-.9 -.4l-.5 -.7l-.1 -.7l.1 -1.7l.4 -1l.4 -.7l.6 -.4l2.8 -1.1l3.4 -2zM10.7 92l1.5 -.5l.7 0l.8 .5l.2 1.4l-1.5 4.8l-.1 4.2l-2.2 0l-2.9 0l-.1 -4.2l-.8 -2.7l.1 -.7l.5 -.7l3.8 -2.1zM70.9 94.8l1.6 -.6l2.1 .2l1.4 .4l1.4 .7l2.2 1.4l.8 .7l.4 .7l.1 .7l0 3.4l-2.8 0l-11 0l.1 -3.4l.2 -.7l.4 -.7l1.2 -1.4l1.9 -1.4z" fill="#e6f598"/>
<path d="M29.4 -2.4l3.6 0l.1 4.2l.2 .7l.9 1.3l1.8 2.1l1.2 1l1.3 .6l1.4 .2l1.4 -.3l3.5 -2.2l4.1 -1.4l1.2 -.6l.7 -1.4l.1 -4.2l5.7 0l.1 3.5l.4 .7l3 2.7l.9 1.4l-.4 4.2l.9 4.9l-.7 4.8l.1 .7l.6 .7l.7 .2l1.3 -.5l.7 -.6l2.1 -2.6l1.9 -1.3l1.6 -.6l1.4 -.1l1.4 .6l1.5 1.4l2.3 2.8l1.7 3l.7 .8l1.4 .8l2.1 .5l.7 0l.7 -.3l.8 -1.3l.1 -2.1l-.4 -2.8l.8 -3.4l-.2 -.7l-.4 -.9l-.7 -.6l-2.1 -1.3l-.5 -.7l-.4 -1.4l0 -1.4l.4 -.7l2.6 -1.2l2.6 -1.6l3.7 -1.3l.8 -.7l.4 -.7l.2 -1.4l0 -3.5l2.9 0l-.2 7.6l.3 1.4l1.3 2.8l.1 1.4l-.4 1.4l-1.4 2.8l-1.3 1.8l-1.5 1.6l-.2 .7l.5 .7l2.5 2.1l.7 1.4l.1 1.4l.7 .4l2.8 -.4l4.1 -.1l0 16l-4.1 0l-4.9 -.7l-4.2 .2l-1.3 -.3l-.6 -.5l-.1 -.7l.1 -.7l1.6 -2.8l.3 -.7l.1 -1.4l-.2 -1.4l-.6 -.8l-1.3 -1.2l-2.1 -1.4l-1.4 -.2l-2.1 .5l-1.4 .1l-5.5 -1.1l-1.4 .1l-.7 .3l-2.5 1.6l-5.2 2.9l-.7 .1l-.4 -.9l.2 -3.4l-.2 -.7l-.9 -1.1l-3.5 -2.3l-4.2 -1l-1.4 -.8l-2.1 -1.5l-1.3 -.6l-2.1 -.6l-2.8 -.4l-6.3 .1l-2 -1.1l-.7 0l-.3 .2l.2 .7l.8 .9l.5 1.2l.1 1.4l-.2 1.4l-1.3 4.2l-.6 2.7l-.6 1.9l-2.6 3.7l-1.3 4.2l-1.7 2.7l-.3 .7l0 .7l.4 2.1l0 1.4l-.6 .7l-.9 .2l-1.4 -.2l-1.3 -.6l-.5 -.8l0 -.7l.6 -3.5l-1.5 -4.8l-.3 -2.1l.3 -2.8l.7 -2.8l0 -.8l-.7 -1.1l-1.4 -.7l-3.5 -.7l-2.8 -1.1l-1.4 -.4l-1.4 .2l-2.7 1.2l-1.4 .1l-.7 -.4l-2.8 -3.9l-.7 -.4l-1.4 0l-2.8 .8l-3.4 0l0 -7.6l3.4 0l1.4 -.3l1.4 -.7l1.4 -1.1l.7 -.2l.7 .2l2 1.7l.8 .4l1.4 .5l2.7 .1l6.3 -.2l1.4 .3l2.1 .8l.7 .1l.7 -.5l.6 -.9l.3 -1.3l-.8 -2.8l0 -1.4l.6 -.7l3.4 -.5l.7 -.4l.7 -.9l.4 -1l.1 -1.4l-.1 -1.4l-1.2 -3.4l0 -3.5zM30.2 12.5l-.2 .3l.1 .7l.8 .2l.2 -.2l.2 -.7l-.4 -.6l-.7 .3zM71.1 -2.4l4.7 0l0 3.5l-.5 1.3l-.6 .4l-1.4 0l-1.2 -.3l-.7 -.7l-.3 -.7l0 -3.5zM-2.4 28.8l0 -.4l4.9 0l4.1 .5l.7 .2l.7 .5l.4 .6l.3 1.4l-.3 3.4l-.9 3.5l-1.6 3.1l-1.4 1.4l-2 1.2l-1.4 .4l-3.5 0l0 -15.8zM51 39.2l.7 -.4l.7 -.2l.9 .6l.2 .7l-.1 2.8l.2 1.4l.5 .7l3.2 2.7l.2 .7l0 .7l-.7 2.1l0 1.4l1.8 4.9l.7 1.1l.7 .5l1.4 .3l.7 -.2l.7 -.9l.8 -2.2l.6 -1.2l1.1 -.9l1.7 -.5l1.4 .1l2 .9l5.6 .4l.9 .5l1.3 1.4l.6 .9l.3 1.1l.1 1.4l-.4 2.1l-.7 1.9l-.7 .9l-3.2 2.1l-.5 .7l-.1 .7l.2 .7l.8 .8l1.4 .6l1.4 .2l1.4 -.4l.6 -.5l3.5 -4.1l1.7 -4.3l1.1 -3.5l.5 -.6l1 -.7l2 -.7l2.1 .3l1.1 .4l1.2 .7l1.1 1.2l1.3 2.2l1.5 2.2l1.4 1.6l3.5 .1l0 4l-3.5 .1l-4.5 3.8l-2.2 2.8l-.9 .6l-1.4 .4l-1.4 0l-1.4 -.3l-3.5 -3l-1.4 -.9l-2 -.3l-1.4 .4l-4.2 2.9l-.7 .9l-2.1 3.2l-1.4 1.4l-1.3 .9l-1.4 .3l-1.1 -.2l-.7 -.7l-.2 -.7l-.2 -2.8l-.6 -1.6l-.7 -.8l-2.8 -2.1l-1.4 -2.7l-.5 -.4l-3.2 -.7l-1.2 -.7l-1.3 -1.4l-.7 -.4l-4.2 -.8l-2.9 -1.6l-.6 -.2l-.7 .2l-.1 .7l.8 1.2l.9 .9l.2 .7l-.1 .7l-2 3.4l-.6 2.1l0 1.4l.3 1.4l.4 .7l1.6 2.1l.3 1.4l-.8 4.1l.2 4.2l-.4 .7l-1.3 .6l-.7 -.1l-.7 -.5l-1 -1.4l-.6 -1.4l-.8 -3.5l-.6 -1.3l-.8 -.7l-2.5 -1.2l-.7 -.6l-.6 -1l-.3 -1.4l.1 -.7l1.8 -2.1l.4 -.7l0 -.7l-.7 -1.1l-2 -1.7l-.5 -.6l-1 -2.5l-.7 -.3l-.6 .1l-4.2 1.9l-4.2 .3l-.7 .3l-.4 .8l-.4 3.5l-.7 1.4l-1.3 1.3l-2 1.6l-1.4 .7l-1.4 0l-1.4 -.3l-3.2 -1.2l-1.5 -.7l-.8 -.7l-.4 -1.4l-.1 -2.8l-.5 -1.4l-.4 -.6l-4.9 -3.6l-.7 -.2l-3.5 -.1l0 -3.3l3.5 0l1.4 -.4l2.8 -1.5l2 -2.2l1.4 -.9l4.9 -1.5l3.5 -1.7l.7 -.1l.7 .2l1.5 2.1l.8 .7l1.1 .6l1.4 .1l.7 -.2l.9 -.5l1.9 -1.9l.7 -.2l.7 0l.9 .7l1.2 2.7l.6 .7l.8 .5l1.3 .4l.7 0l2.1 -.7l2.1 -1.1l1.1 -1.1l.2 -.7l-.1 -.7l-.8 -2.1l0 -.7l.4 -.7l1.1 -.7l2.3 -.6l1.4 -.6l4.2 -3l1.3 -1.4l.8 -2l.6 -3.5l.7 -1.4zM98.8 84.4l3.6 -.1l0 6l-4.2 0l-2.2 .3l-1.9 .3l-1.4 -.2l-.8 -.7l0 -1.4l.4 -.7l1 -.7l4.2 -2.3l1.3 -.5zM9.3 93.4l2.1 -.7l.7 .2l.5 .5l-.1 1.4l-1.1 3.5l-.1 4.1l-.6 0l-2.7 0l0 -3.4l-.8 -3.5l.2 -.7l.5 -.6l1.4 -.8zM72.1 94.8l1.9 -.2l2 .6l2.9 1.7l1.3 1.4l.2 .7l0 3.4l-3.7 0l-8.8 0l0 -3.4l.6 -1.4l2 -2l1.6 -.8z" fill="#c8e99e"/>
<path d="M72.5 -2.4l2.1 0l-.1 3.5l-.5 .5l-.7 0l-.7 -.5l-.1 -3.5zM53.1 2.4l.7 -.4l.7 -.1l2 .8l2.1 1.5l1.3 1.7l.3 1.4l0 2.7l.9 4.9l-.2 1.4l-.9 2.8l-.5 2.7l-.9 .7l-1.4 .2l-1.3 -.2l-1.4 -.6l-2.8 -2l-3.4 -1.5l-1 -.7l-1.1 -2.8l-.8 -.8l-1.4 -.6l-.6 .1l-.6 .6l0 .7l.6 1l1 1.1l.2 .7l-1.2 .6l-2.1 .3l-1.4 -.2l-2.6 -1.4l-1.6 -.2l-.7 .7l0 .9l.7 1.3l1.2 1.5l.3 .6l0 1.4l-.2 1.4l-1 2.8l-.9 4.2l-.6 1.4l-.9 1l-.9 1l-.8 1.4l-1 3.4l-.5 .8l-.9 1l-1.4 .9l-.7 .1l-.7 -.4l-.7 -.9l-1.4 -2.8l-.5 -2.1l.2 -2.1l1.5 -4.1l-.2 -1.4l-1.3 -2.1l-.2 -.7l.2 -4.2l.3 -1.3l.5 -1.4l2.3 -3.5l.7 -.4l3.4 -.4l1 -.6l.2 -.7l0 -1.4l-1.2 -3.4l.2 -2.1l.5 -1.9l.7 .1l2.8 2.3l1.4 .8l2.1 .5l1.4 0l1.4 -.5l2 -1.6l1.4 -.7l2.1 -.6l3.5 -.5l1 -.7l1.1 -1.4zM90.9 4.5l1.2 -.5l.6 .3l.6 1.6l1.6 3.5l.2 .7l-.1 1.3l-1.3 2.8l-1.6 2.3l-1.4 1l-2.8 1.3l-.7 .2l-.2 -.6l-.5 -1l-.6 -2.5l-.6 -1.4l-.9 -1l-2.1 -1.2l-.6 -1.2l.1 -.7l.5 -.8l4.2 -2.7l1.4 -.6l3 -.8zM26.7 11.5l.9 0l-.1 .7l-.7 .1l-.1 -.8zM4.5 15.6l1.4 -.6l.7 .2l2 1.2l2.1 .5l8.4 -.1l1.3 .4l.9 .5l.8 .7l.4 .7l.2 1.4l-.3 4.8l-.1 .7l-.5 .5l-1.4 .4l-1.3 0l-3.5 -1.2l-1.4 -.1l-3.5 1.2l-1.4 -.2l-1.3 -1.3l-1.4 -2.4l-.7 -.8l-.7 -.3l-.7 0l-3.5 .9l-3.5 0l0 -5.9l4.2 -.1l1.4 -.4l1.4 -.7zM68.9 16.3l.9 -.2l1.4 .1l1.4 .7l.7 .7l2.6 3.6l.6 1.3l.9 2.8l-.2 .7l-3.9 .6l-1.7 .8l-1.8 1.3l-2.8 1.4l-1.4 .4l-.3 -.3l.1 -2.1l-.1 -.7l-.4 -.7l-2 -2.1l-.5 -.7l-.1 -.7l4.4 -5.5l1 -.8l1.2 -.6zM86.6 19.8l.5 -.6l.7 .2l.5 .4l3 1.3l1.4 .9l.4 .6l.2 .7l-.7 2.8l0 .6l.8 .8l.7 0l.7 -.3l2.7 -1.6l1.4 -.2l3.5 0l0 14.9l-4.2 -.1l-2.2 -.3l-2.6 -.6l-3.5 -.1l-.7 -.2l-.5 -.4l0 -.7l.3 -.7l1.4 -2.1l0 -1.4l-.4 -2.1l-.6 -1.4l-3.1 -2.8l-.7 -1.3l.4 -4.2l.3 -1.4l.3 -.7zM-2.4 29.5l0 -.6l5.6 .1l2.7 .5l1.4 .8l.6 1.3l-.1 2.8l-.8 2.7l-1.8 3.8l-1.3 1.6l-1.4 .8l-1.4 .3l-3.5 0l0 -14.1zM51.4 45.5l.3 -.2l.7 .1l1.4 .7l1.4 1.2l.6 1l.3 4.1l3.1 8.4l-.2 .7l-2.5 1.4l-.6 .8l-.3 1.2l.3 .5l.4 .2l2.1 .7l.7 .7l.1 .7l-.5 .8l-.7 .2l-1.4 -.1l-.4 -.2l-.8 -.7l-.9 -1.4l-.7 -.3l-2.8 -.4l-1.4 -.4l-4.1 -2.1l-.7 -.3l-.9 .1l-.5 .7l.1 1.3l1.7 2.8l.2 .7l-.2 .7l-1.6 3.5l-.5 2.1l0 1.4l.4 1.3l2 2.7l.2 1.5l-.9 6.8l-.7 .6l-.7 -.1l-.7 -.5l-.7 -1l-.3 -.9l-.9 -3.5l-.5 -1.4l-.4 -.5l-.7 -.5l-2.5 -1.1l-.9 -1.3l-.1 -.8l.3 -.7l1.7 -2l.3 -.7l0 -.7l-.4 -.7l-.6 -.7l-2.3 -2.1l-.6 -1.4l.1 -1.4l1.7 -2.7l.1 -.7l-.5 -2.1l.3 -.7l.7 -.7l2.3 -1.4l.7 -.7l.4 -.7l-.1 -1.4l-.9 -2.1l0 -.7l.3 -.4l.7 -.5l2.8 -.8l1.4 -.7l2.1 -1.5l2.7 -1.6l2.5 -2.1zM71.6 55.2l2.9 0l1.7 .7l.7 .7l1 1.4l.4 1.4l.1 1.4l-.5 2l-.9 1.4l-1 .8l-3.7 2l-.2 .7l.5 1.4l.6 .9l1.4 1l1.9 .9l.2 .7l-2.8 2.5l-2.7 4.2l-1.4 1.2l-1.4 .5l-1.1 -.1l-.7 -.7l-1.1 -4.2l-.9 -1.4l-2.7 -2l-.6 -1.4l-.1 -1.4l1 -2.8l.6 -1.1l.6 -.3l1.5 -.1l3.5 .7l.7 0l.7 -.5l-.2 -.8l-.4 -.7l-2 -2.1l-1 -1.3l-.3 -.7l-.2 -1.4l.6 -.6l2.1 -.9l2.1 -1.6l1.1 -.4zM14.2 56.6l2.1 -.5l1.4 .1l3.4 2.2l2.1 .5l1.4 -.3l2.1 -1.3l.7 -.2l.7 .5l1.1 1.8l.8 .7l2.2 1.4l.7 .7l.1 1.3l-.2 1.4l-.4 .7l-2 1.4l-3 1.5l-1.4 .2l-3.5 -.3l-.7 .2l-.5 .5l-.1 .7l.3 2.8l-.3 1.4l-.3 .7l-1.1 1.3l-1.4 1.1l-1.4 .9l-1.4 .4l-2.1 -.2l-3.3 -1.5l-1 -.7l-.6 -.8l-.2 -1.2l-.2 -2.8l-.4 -1.4l-.5 -.7l-2.8 -2.1l-1.2 -1.4l-.3 -.7l0 -.7l.3 -.7l2.6 -2.3l2.2 -2.5l1.9 -1.1l4.2 -1zM88.6 56.6l1.3 -.2l1.4 .3l1.4 .6l.8 .7l3.5 5.5l.7 1.4l.4 1.4l-.1 1.4l-1.2 2.1l-2.7 2.5l-2.1 2.6l-1.4 .9l-2.1 .2l-1.4 -.5l-1.2 -.8l-2.9 -3l-1.7 -1.2l0 -.7l.3 -.4l1.4 -1.4l.5 -1l1 -3.5l1.7 -4.8l.9 -1.3l1.5 -.8zM98.8 85.8l3.6 -.1l0 3.2l-2.8 0l-3.4 0l-.9 -.3l.3 -.7l.8 -.7l1.1 -.9l1.3 -.5zM10 94.8l.2 0l.3 .7l-.4 .8l-.7 0l-.2 -.8l.8 -.7zM71.7 95.5l1.6 -.4l2 .4l1.5 .7l2 1.4l.5 .7l.3 .7l0 3.4l-2.2 0l-8.7 0l0 -3.4l.2 -.7l.9 -1.4l1.9 -1.4z" fill="#aadca4"/>
<path d="M54.4 3.8l1.5 -.2l1.4 .5l1.3 1.1l.8 1.4l.4 3.4l.8 3.5l.2 1.4l-.3 1.4l-1.5 3.5l-.3 .7l-.7 .8l-1.4 .4l-1.4 -.4l-2.8 -1.8l-2.7 -1.5l-1 -1l-1.7 -2.8l-2.8 -2.1l-.8 -.4l-.7 0l-.7 .5l-1 2l-.4 2.1l-.7 .3l-5.5 -1.3l-.4 -1.1l-.1 -2.8l.1 -1.4l.4 -1l.7 -.3l5.5 .9l1.4 -.1l.7 -.5l1.5 -1.7l1.3 -.9l2.1 -.7l3.4 .1l.7 -.2l2.7 -1.8zM88.5 5.9l2.2 -.3l.7 .2l.7 .3l1.4 1.9l.8 2.1l-.3 2.1l-.9 2l-1 1.4l-1.4 1l-1.4 .3l-.7 0l-.9 -.6l-.6 -.7l-1.3 -2.8l-1.7 -2.7l.1 -.7l.5 -.7l1.3 -1.4l1.2 -.9l1.3 -.5zM28.4 16.3l1.1 -.4l1.4 -.2l2 0l.7 .3l1 3.1l1.8 2.5l.3 .9l-.1 2.1l-1 2.8l-.9 4.2l-.8 1.4l-2.4 2.7l-1.3 3.6l-.7 .9l-.7 .5l-.7 .2l-.7 -.1l-.7 -.5l-.9 -1.1l-.7 -1.4l-.4 -1.4l.2 -2l1.7 -3.5l.2 -1.4l-.1 -1.4l-1 -2.1l-.4 -1.4l0 -2.7l.3 -1.4l.6 -1.4l1.2 -1.9l1 -.9zM4.6 17l1.3 -.4l4.2 .7l7.6 -.2l2.1 .5l1.1 .8l.8 1.4l.1 2.1l-.4 2.7l-.3 .7l-.6 .6l-1.4 .3l-4.2 -1l-1.4 .1l-2.7 .8l-.7 0l-.7 -.3l-1.4 -1.6l-1.4 -2.6l-.7 -.9l-.7 -.2l-1.4 .2l-1.4 .6l-1.4 .3l-3.4 0l0 -3.9l4.8 -.1l2.2 -.6zM68.2 17l1.6 -.5l1.4 .2l.7 .4l1.8 2l1.6 2.8l.3 1.4l-.1 .6l-.4 .7l-3.9 2.2l-2.1 1l-1.3 .1l-.7 -.4l-1.4 -1.4l-1.6 -2.2l-.2 -.7l.2 -.6l1.1 -2.1l1.4 -2.1l1.6 -1.4zM88.6 21.9l1.3 0l.7 .2l.8 .5l.4 .7l.1 .7l-.7 3.5l.1 .7l.7 .4l2.1 -.2l4.1 -2l4.2 -.1l0 13l0 .7l-4.9 -.2l-2.2 -.5l-1.4 -.7l-.8 -.7l-.3 -.7l0 -1.4l-1.2 -2.1l-.4 -1.4l-.6 -3.1l-.3 -.4l-1.1 -.4l-1.4 -.9l-.8 -1.4l-.1 -1.4l.3 -1.4l.6 -1l.8 -.4zM-2.4 30.2l0 -.7l4.9 .1l2.7 .4l.7 .3l.8 .6l.6 1.4l-.2 2.1l-.7 2l-1.6 3.5l-1 1.4l-1.3 .9l-1.4 .4l-3.5 0l0 -12.4zM50.5 47.6l1.2 -.5l.7 0l1.4 .6l.7 .9l.8 3.9l1.7 4.8l.3 1.4l0 1.4l-.4 .7l-2.7 3.5l-.9 .7l-.9 .1l-1.4 -.1l-1.4 -.5l-5.5 -3l-.7 -.2l-.7 .3l-.4 1.3l.2 1.4l.5 1.4l1.1 2l.2 .7l0 .7l-.5 1.4l-1.6 3.5l-.3 1.4l-.1 1.4l.3 1.4l.4 .6l1.6 1.2l.6 .9l.2 1.4l-.1 1.5l-.7 3.1l-.7 .3l-.7 -.5l-.7 -1.6l-.9 -4.9l-.7 -.7l-2.4 -.7l-.9 -.6l-.1 -.7l.3 -.7l1.6 -2.1l.1 -.7l-.1 -.7l-1.1 -1.4l-2.4 -2.1l-.4 -.7l-.1 -1.4l1.9 -3.4l.2 -2.8l.4 -.7l.8 -.7l1.7 -.9l.6 -.5l.3 -.7l.1 -1.4l-1.1 -2.8l.1 -.6l1 -.7l2.5 -.8l3 -2l4.1 -2.1zM72.1 55.9l1.9 -.1l1.4 .5l1.3 1.4l.8 1.7l0 2.1l-.8 1.8l-.8 .9l-1.9 .9l-1.4 .2l-1.4 -.6l-1.9 -1.9l-1.3 -2l0 -.7l.6 -1.4l1.9 -2l1.6 -.8zM14 57.3l2.3 -.2l1.4 .3l3.5 1.9l1.3 .4l1.4 .1l2.8 -.3l.7 .2l3.1 1.8l.8 .7l.5 .7l.1 1.3l-.7 1.4l-1.7 1.3l-1.4 .8l-2.1 .4l-3.5 -.6l-.6 0l-.8 .2l-1.1 .7l-.3 .7l1.1 2.8l.1 1.4l-.2 .7l-.9 1.3l-.7 .6l-2.8 1.6l-1.4 .2l-.7 0l-2.4 -1l-1.8 -1.2l-.4 -.8l-.3 -1.4l.2 -2.8l-.3 -1.4l-.5 -.8l-2.8 -1.8l-.8 -.9l-.2 -.7l0 -.7l.4 -.6l3.4 -4.4l.7 -.6l1.3 -.6l3.3 -.7zM88.4 57.3l.8 -.2l1.4 0l.8 .2l1.3 .8l3.6 5.5l.8 2l0 2.1l-.6 1.4l-3.1 3.3l-1.4 1.8l-.7 .7l-1.4 .6l-2.1 -.2l-1.2 -.6l-.8 -.7l-1.1 -1.4l-.7 -1.4l-.1 -.7l.7 -2.1l.2 -3.5l.6 -2l1.5 -4.2l.5 -.7l1 -.7zM64.1 67.7l.8 -.4l1.4 -.1l2.1 .5l1.4 .5l.7 .4l3.8 4l-.1 .7l-2.8 4.8l-.9 1.1l-1.4 .9l-.7 .1l-.7 -.2l-.5 -.5l-.3 -.7l-.8 -2.8l-.5 -1.1l-.7 -.9l-1.8 -1.4l-.5 -.7l-.2 -.7l.3 -1.4l.8 -1.4l.6 -.7zM71.6 96.2l1.6 -.5l1.4 .2l2.1 1l1.5 1.4l.3 .7l0 3.4l-1.8 0l-7.3 0l.1 -3.4l.1 -.7l.8 -1.2l1.2 -.9z" fill="#86cfa5"/>
<path d="M54.2 5.2l1 -.5l.7 -.1l1.4 .5l.8 .8l.7 1.4l.3 2.8l1 3.4l0 1.4l-.8 2.3l-1.4 2.5l-.6 .7l-.7 .2l-.7 0l-.7 -.2l-2.8 -1.7l-1.8 -1l-1 -.9l-2.1 -3l-3.1 -3l-.3 -.7l0 -.7l.7 -1.4l1.3 -1l2.1 -.5l3.5 .1l.7 -.2l1.8 -1.2zM89.1 6.6l1.5 .1l1.2 .6l1.1 1.4l.5 1.4l0 1.4l-.7 2l-.7 1.1l-1.3 1l-1.5 .3l-.7 -.2l-.6 -.5l-1 -1.7l-1 -2.7l0 -1.4l.7 -1.4l1.3 -1l1.2 -.4zM36.2 10.8l.9 -.2l1.4 .1l1.2 .8l.1 .7l-.1 .7l-.8 1.4l-1.1 .4l-.7 0l-1.3 -.5l-.4 -.6l-.1 -1.4l.5 -1.1l.4 -.3zM28.8 17l.7 -.4l1.4 -.2l1.4 .2l.6 .4l1.5 2.8l1.5 2.1l.4 1.4l-.2 1.3l-1 2.8l-.9 4.2l-.9 1.4l-2.1 2.1l-.5 .6l-1.2 2.7l-.7 .7l-.7 .3l-.7 -.2l-.7 -.4l-.7 -.9l-.5 -1.5l-.1 -.7l.3 -1.3l1.5 -2.8l.5 -2.1l-.2 -2.1l-1 -2.1l-.4 -1.4l0 -2l.4 -1.4l.6 -1.4l.9 -1.4l.8 -.7zM69.3 17l1.2 0l.7 .3l1.2 1.1l1.3 2.1l.7 2.1l-.1 .6l-.3 .7l-.7 .7l-2.1 1.4l-2.1 .7l-1.4 -.2l-1.4 -.9l-.9 -1l-.5 -1.4l.2 -1.3l1.4 -2.8l1.2 -1.4l1.6 -.7zM11.5 17.7l3.4 -.2l2.8 .1l1.4 .4l.8 .4l.6 .7l.6 1.4l0 1.4l-.1 1.4l-.5 1.4l-.7 .6l-.7 .2l-1.4 -.1l-1.4 -.4l-2.1 -.3l-3.4 .8l-.7 -.1l-.7 -.4l-.9 -1l-1.1 -2.8l-.3 -1.4l.1 -.7l.8 -.7l3.5 -.7zM89.2 24l.7 .2l.1 1.2l-.8 .6l-.4 -.6l0 -.7l.4 -.7zM97.9 27.4l1.1 -.3l3.5 0l0 12.4l-4.9 -.2l-2 -.8l-.7 -.7l-.8 -2.5l-1.6 -2.3l-.5 -1.4l.1 -.7l.6 -1.1l5.2 -2.4zM-2.4 30.2l5.6 .1l2 .5l.9 .8l.4 1.4l-.2 1.4l-.7 2.1l-1.4 2.7l-1 1.4l-1.4 .9l-4.2 .1l0 -11.4zM49.4 49l1.6 -.6l1.4 0l.7 .4l.7 .8l2.1 6.3l.4 2.8l-.3 1.4l-.4 .7l-1.8 2.5l-.7 .7l-.7 .3l-.7 .1l-2.1 -.7l-4 -2.2l-2.5 -2.1l-.8 -1.4l-.9 -3.4l0 -.7l.8 -.7l1.9 -1l2.8 -2l2.5 -1.2zM72.4 56.6l1.6 0l1.3 .7l1.1 1.4l.4 1.4l-.1 1.4l-.6 1.4l-.8 .7l-1.3 .6l-1.4 0l-1.4 -.7l-1.4 -1.3l-.7 -1.4l0 -.7l.6 -1.4l1.3 -1.4l1.4 -.7zM13.6 58l2 -.1l1.4 .3l4.2 2.1l1.3 .4l3.5 0l1.4 .1l2.1 1l1.2 1.1l.3 .7l0 .6l-.2 .7l-1.3 1.4l-1.4 .8l-1.4 .4l-.7 0l-2.8 -.8l-1.4 -.2l-1.3 .4l-1.4 .8l-.7 .7l-.3 .7l.3 .7l1.3 1.4l.5 1.4l0 .7l-.4 1l-.7 .7l-1.4 .8l-2.1 .7l-.7 0l-1.3 -.4l-.3 -.7l.9 -.6l.7 -.8l.2 -.7l0 -1.4l-.2 -.5l-.7 -.4l-2.1 -.5l-.7 -.8l-1.4 -2.4l-2.8 -2.4l-.1 -.7l.4 -1.3l1 -2.1l.8 -1.2l1.4 -.9l2.9 -.7zM88.5 58l.7 -.3l1.4 0l.8 .3l.9 .7l3.3 4.9l.8 2l0 2.1l-.5 1.4l-3.9 4.4l-1.4 1.2l-.7 .3l-1.4 0l-1 -.3l-1 -.7l-.6 -.7l-.7 -1.4l.1 -1.4l.5 -2.1l-.2 -3.5l.2 -1.3l1.3 -4l.6 -.9l.8 -.7zM38.8 61.5l.4 -.3l.7 0l.7 .4l2.8 6.8l-.1 1.4l-.6 1.5l-.7 1l-.7 .6l-.7 .1l-1.4 -.8l-2.2 -1.7l-1.2 -1.4l-.2 -.7l.4 -1.3l1.3 -2.1l1 -2.8l.5 -.7zM65.2 69.1l1.1 -.3l2.1 .3l2 1.4l1.8 2.1l.2 .7l-.1 1.4l-.8 2l-1 1.6l-.7 .5l-.7 .3l-.7 0l-.7 -.5l-1.4 -3.9l-.7 -1.2l-1.3 -1.6l-.2 -.7l.1 -.7l.3 -.7l.7 -.7zM43.3 83l.1 -.3l.1 1l-.1 .3l-.1 -.3l0 -.7zM71.8 96.9l1.5 -.5l1.3 .2l1.4 .8l.9 .9l.3 .7l0 3.5l-1.2 0l-5.7 0l.1 -3.5l.6 -1.4l.8 -.7z" fill="#66c2a5"/>
<path d="M55.1 5.9l.8 -.2l.7 .1l.7 .5l.6 1l1.5 6.2l0 1.7l-1.4 2.6l-.7 1l-.7 .5l-.7 .1l-.7 -.2l-3.1 -1.5l-1.8 -1.2l-2.1 -2.9l-2.1 -2.1l-.7 -1.4l0 -.7l.3 -.7l.5 -.6l.7 -.5l1.3 -.3l2.8 .2l1.4 -.2l2.7 -1.4zM88 8l1.2 -.5l1.4 .2l.7 .4l1 1.3l.3 .7l0 1.4l-.4 1.4l-.9 1.4l-1.2 .6l-.9 .1l-.7 -.4l-.8 -1l-.8 -2.1l-.1 -1.4l.5 -1.4l.7 -.7zM29.1 17.7l1.1 -.5l.7 -.1l.7 .1l.7 .3l.7 .8l2.2 3.6l.6 1.4l-.2 1.3l-1.1 2.8l-.5 2.8l-.4 1.4l-1.1 1.4l-2.5 2.1l-.4 .7l-.8 1.2l-.7 .6l-.7 -.1l-.4 -.4l-.4 -.7l-.2 -.6l.3 -1.3l1.2 -2.2l.7 -3.5l-.3 -2.1l-1.4 -2.8l0 -2l1 -2.8l1.2 -1.4zM68.5 17.7l1.3 -.2l1.4 .5l1 1.1l1 2.1l.2 1.4l-.2 .7l-1.2 1.3l-1.5 .9l-1.4 .4l-1.4 -.3l-1.3 -1l-.7 -1.3l0 -1.4l.9 -2.1l1 -1.4l.9 -.7zM10.6 18.4l3 -.5l2.7 0l2.1 .4l1.2 .8l.8 1.4l.1 2.1l-.7 1.7l-.7 .5l-.7 .1l-3.5 -.7l-4.1 .7l-.7 -.2l-.7 -.6l-.9 -1.5l-.3 -2.1l.3 -.7l.5 -.7l1.6 -.7zM96.9 28.8l2.1 -.6l3.4 -.1l0 10.8l-3.4 0l-1.9 -.4l-.9 -.7l-.4 -.7l-.7 -2l-1.8 -2.8l-.2 -.7l.3 -.8l.7 -.6l2.8 -1.4zM-2.4 30.9l3.5 -.1l2.1 .2l1.3 .5l.7 .7l.3 .8l-.1 1.4l-1.6 3.7l-.7 1.1l-.6 .7l-.7 .4l-.7 .2l-3.5 0l0 -9.6zM49.6 49.7l2.2 -.3l.7 .3l.6 .7l.7 1.5l1.2 3.4l.4 1.3l.1 1.4l-.6 2.1l-1.1 1.8l-.9 1l-1.1 .5l-2.1 -.4l-2.8 -1.4l-1.7 -1.5l-1.4 -2.1l-.5 -1.4l-.1 -1.3l.1 -.7l.5 -.7l2 -2.1l1.8 -1.3l2 -.8zM73.3 57.3l1.4 .5l.7 .8l.4 .8l.2 1.4l-.1 .7l-.5 .9l-.7 .6l-1.4 .4l-1.4 -.4l-1 -.8l-.8 -1.4l0 -.7l.2 -.7l.9 -1.2l.7 -.5l1.4 -.4zM13.6 58.7l2 .1l1.4 .3l5.6 3l4.1 -.5l2.1 .7l.7 .6l.5 .7l.1 .7l-.2 .6l-.6 .7l-1.2 .9l-1.4 .4l-.7 -.1l-1.4 -.4l-2 -1.1l-.7 .1l-2.1 .9l-4.2 3l-1.4 0l-1.4 -.6l-.7 -.6l-2.6 -3.8l-.4 -1.4l.2 -1.4l.8 -1.4l1.3 -.9l2.2 -.5zM88.8 58.7l1.1 -.3l.7 .1l1.4 .9l2.8 4.2l.9 2l.1 2.1l-.6 1.4l-3.7 4.2l-.9 .8l-.7 .3l-1.3 0l-1.1 -.4l-.8 -.7l-.6 -1.4l.5 -3.5l-.2 -3.4l.2 -1.4l1 -3.5l.5 -.7l.7 -.7zM38.9 64.2l.3 -.4l.7 -.1l.7 .7l1.4 2.4l.5 1.6l-.1 1.4l-.4 .8l-.7 .7l-.7 .2l-.7 -.1l-1.4 -.6l-1.3 -1l-.6 -.7l-.2 -.7l.4 -1.4l2.1 -2.8zM17.1 71.9l.6 -.4l.7 0l.7 .6l.2 .5l0 .7l-.4 .7l-.5 .4l-.7 .1l-.7 -.3l-.3 -.9l.4 -1.4zM66.9 71.9l.8 -.6l.7 .1l1.4 .9l.7 .7l.4 1l.1 .7l-.2 1.4l-.3 .8l-.7 .8l-.7 .2l-.9 -.4l-.6 -1.4l-.6 -2.8l-.1 -1.4zM72.4 97.6l.8 -.3l.7 .1l.7 .2l.8 .7l.3 .7l.1 3.5l-.5 0l-3.9 0l0 -3.5l.3 -.7l.7 -.7z" fill="#4ba4b1"/>
<path d="M54.9 7.3l1 -.2l.6 .3l.4 .6l.3 .7l1 4.8l0 1.4l-1 1.8l-.7 .8l-.6 .3l-1.4 0l-2.8 -1.1l-1.2 -1.1l-3.3 -4.1l-.7 -1.4l.1 -.7l.5 -.7l1.1 -.5l4.2 0l2.5 -.9zM89.1 8.7l.9 -.1l.7 .3l.9 1.2l.2 .7l-.2 1.4l-.3 .7l-.6 .7l-.7 .3l-.7 -.1l-.7 -.7l-.5 -.9l-.3 -1.4l.1 -.7l.3 -.7l.9 -.7zM12.9 18.4l2 -.2l1.9 .2l1.6 .6l.8 .8l.6 1.4l0 1.4l-.3 .7l-.4 .6l-.7 .3l-2.1 -.3l-2.1 -.3l-2.8 .6l-.7 -.1l-.7 -.3l-.5 -.5l-.5 -1.4l0 -.7l.3 -1l.3 -.4l1 -.7l2.3 -.7zM29.4 18.4l.8 -.5l.7 -.1l.7 .2l.6 .4l2.3 3.5l.6 1.4l-.3 1.4l-1.1 2.7l-.6 3.5l-1 1.4l-1.2 .7l-.7 .2l-.7 -.2l-.2 -.7l.2 -4.9l-.4 -1.4l-1.2 -2l-.3 -1.4l.5 -2.1l.7 -1.4l.6 -.7zM68.2 18.4l.9 -.4l1.3 .2l1.1 .9l.7 1.4l.3 1.4l-.4 1.4l-.5 .7l-1.2 .7l-1.3 .4l-.7 -.1l-1.4 -.9l-.6 -.8l-.1 -1.4l.4 -1.4l.8 -1.4l.7 -.7zM98.1 29.5l4.4 -.2l0 8.9l-2.8 0l-1.9 -.4l-.7 -.7l-1.2 -2.7l-1.2 -2.1l-.1 -.7l.4 -.7l1.2 -.7l1.9 -.7zM-2.4 32.3l0 -.5l4.2 0l1.6 .5l.6 .7l.2 .7l-.2 1.4l-.8 2.1l-1 1.3l-1.1 .6l-3.5 .1l0 -6.9zM50.1 50.3l1 -.1l.7 .2l.7 .6l.7 1l.7 1.9l.5 2l.2 1.3l-.4 2.1l-.8 1.4l-.9 1.1l-.7 .4l-.7 .1l-1.2 -.2l-2.3 -1l-1.3 -1.1l-1.3 -2.1l-.4 -2l.3 -1.4l1.4 -2.1l1.8 -1.4l2 -.7zM71.9 58.7l.6 -.3l.7 -.1l.7 .2l.8 .9l.3 1.4l-.4 .8l-.7 .6l-.7 .2l-.7 -.1l-.7 -.4l-.7 -.9l-.1 -.9l.3 -.7l.6 -.7zM89.2 59.4l.7 -.2l.7 .2l.9 .7l2.6 3.6l.9 1.9l.1 1.4l-.3 1.4l-.7 1.1l-2.2 2.4l-1.3 1.4l-1.4 .6l-.7 -.1l-.8 -.5l-.6 -.7l-.2 -.7l.5 -3.5l-.2 -3.4l.1 -1.4l.8 -2.8l.4 -.8l.7 -.6zM11.7 60.1l1.8 -.6l2.1 .1l2.1 .9l2.3 1.7l.6 .7l.2 .7l-.1 .7l-.6 .7l-2 1.3l-1.8 1.2l-1.4 .5l-1.3 -.3l-.8 -.6l-1.4 -2.1l-.9 -2.1l.1 -1.4l.3 -.7l.8 -.7zM25.3 62.8l1.4 -.3l.7 .1l.7 .3l.7 .6l.3 .7l-.2 .7l-.7 .7l-1.5 .4l-.7 -.1l-.8 -.3l-.7 -.7l-.3 -.7l.2 -.7l.9 -.7zM39.2 65.6l.7 0l.7 .6l.8 1.5l.1 1.4l-.4 .7l-.5 .4l-.7 .1l-1.4 -.4l-.9 -.8l-.3 -.7l.5 -1.4l.7 -.9l.7 -.5z" fill="#3387bc"/>
<path d="M48.5 9.4l1.2 -.2l4.8 -.3l.7 .1l.6 .4l.7 2.1l0 2.1l-.3 1.4l-1 1.1l-.7 .3l-1.4 -.1l-1.4 -.5l-.7 -.7l-3 -4.3l-.1 -.7l.6 -.7zM89.2 10.8l.7 -.3l.3 .3l0 .7l-.3 .5l-.7 -.5l0 -.7zM12.6 19.1l1.7 -.3l1.4 0l1.4 .3l1.2 .7l.8 1.4l0 .7l-.1 .7l-.7 .7l-1.6 0l-2.4 -.4l-2.8 .4l-.7 -.1l-.6 -.6l-.2 -.7l.1 -.7l.3 -.7l.7 -.7l1.5 -.7zM29.9 19.1l1 -.4l.9 .4l1.7 2.8l.6 1.4l-.4 1.5l-1.9 2.6l.5 2.1l-.5 1.4l-.2 .2l-.7 .1l-.2 -.3l0 -1.4l.7 -2.1l-.3 -.7l-2 -2.7l-.5 -1.4l.4 -2.1l.9 -1.4zM68.3 19.1l.8 -.4l.7 0l.8 .4l.9 1.4l.2 1.4l-.1 .7l-.4 .7l-1 .7l-1.1 .2l-.7 -.1l-.6 -.4l-.7 -1.1l0 -.7l.3 -1.4l.9 -1.4zM97.2 31.6l1.8 -.6l3.4 0l0 5.6l-3.4 0l-.7 -.5l-1.4 -3.1l-.1 -.7l.4 -.7zM-2.4 33.7l0 -.2l2.8 0l1.2 .2l.6 .7l0 .7l-.4 1.1l-.7 .6l-3.5 .1l0 -3.2zM48.5 51.7l1.9 -.5l.7 .1l.7 .4l.7 .9l.7 1.9l.4 2.1l-.4 2l-.8 1.4l-.6 .7l-.7 .4l-1.4 0l-1.4 -.5l-1.4 -1.3l-.7 -1.4l-.2 -2l.2 -1.4l.8 -1.4l.5 -.7l1 -.7zM12.9 60.8l1.4 -.3l1.8 .3l1.6 .9l1.2 1.2l.2 .7l-.1 .7l-.5 .7l-1.5 1l-1.4 .6l-.6 .1l-.7 -.1l-1.1 -.9l-.8 -1.4l-.4 -1.4l.2 -1.4l.7 -.7zM89.1 60.8l.8 -.4l.7 .2l.7 .6l2.1 2.9l.8 1.6l.1 1.3l-.4 1.4l-2.4 2.8l-1.3 1.4l-1 .4l-.9 -.4l-.4 -.7l-.1 -.7l.5 -2.8l-.2 -4.8l.4 -1.8l.6 -1zM26.7 64.2l.3 0l-.2 .1l-.1 -.1zM39.1 67.7l.5 0l.3 .7l-.7 .2l-.2 -.2l.1 -.7z" fill="#496aaf"/>
<path d="M50 10.8l.4 -.3l1.4 -.2l1.4 .1l1 .4l.5 .7l.2 .7l-.1 1.4l-.2 .7l-.7 .7l-.7 .1l-.7 -.1l-.7 -.5l-.8 -.9l-.8 -1.4l-.2 -.7l0 -.7zM13.3 19.8l.9 -.2l1.4 0l.7 .2l.7 .4l.8 1l-.1 .7l-.7 .3l-5.1 -.3l-.3 -.7l.5 -.7l1.2 -.7zM68.7 19.8l.4 -.2l.7 0l.7 .8l.2 .8l0 .7l-.3 .7l-.6 .4l-.7 .2l-.7 -.3l-.2 -.3l-.3 -.7l0 -.7l.3 -.7l.5 -.7zM30.5 20.5l.4 -.3l.7 .5l.7 1.9l-.2 .7l-.5 .2l-.7 -.2l-.7 -.7l-.1 -1.4l.4 -.7zM48.6 53.1l1 -.5l.7 -.1l.7 .4l.7 .9l.4 1.4l.1 1.4l-.4 1.4l-.8 1.1l-.7 .5l-.7 0l-.7 -.1l-.7 -.6l-.5 -.9l-.1 -1.4l0 -1.4l.5 -1.4l.5 -.7zM14.1 62.2l.8 -.2l.7 .1l.7 .4l.4 .4l.4 .7l-.1 .7l-.7 .6l-.7 .3l-1 -.2l-.6 -.7l-.3 -.7l0 -.7l.4 -.7zM89.7 62.8l.2 -.3l.7 .1l1.4 1.4l1.1 1.6l.2 1.4l-.1 .7l-.4 .7l-.8 .8l-2.1 1.8l-.7 -.6l.1 -6.2l.4 -1.4z" fill="#5e4fa2"/>
</g><g filter="url(#bl1)"><ellipse cx="72.9" cy="39.6" rx="13.4" ry="11.2" fill="#fed481"/><ellipse cx="72.8" cy="39.8" rx="11.8" ry="9.6" fill="#f67c4a"/><ellipse cx="72.7" cy="39.9" rx="10.6" ry="8.5" fill="#d43d4f"/></g><g filter="url(#bl2)"><rect x="63.2" y="32.4" width="19" height="15" rx="6" fill="#9e0142"/></g><g filter="url(#bl1)"><ellipse cx="50.6" cy="57" rx="9" ry="7.8" fill="#c8e99e"/><ellipse cx="50.8" cy="57.2" rx="7.2" ry="6.2" fill="#76c8a5"/><ellipse cx="51" cy="57.4" rx="5.5" ry="4.8" fill="#3d95b8"/><ellipse cx="51.5" cy="57.6" rx="3.8" ry="3.1" fill="#545ca8"/></g></g><g id="fO"><g fill="none" stroke-width="1.06" stroke-linecap="square"><path stroke="#ab0f45" d="M11.5 0.5h3M9.5 1.5h0M11.5 1.5h0M12.5 2.5h0M2.5 5.5h1M32.5 6.5h1M35.5 6.5h1M58.5 6.5h1M31.5 7.5h1M34.5 7.5h4M30.5 8.5h0M32.5 8.5h0M34.5 8.5h2M38.5 8.5h0M31.5 9.5h5M30.5 10.5h4M38.5 10.5h0M31.5 11.5h6M30.5 12.5h0M33.5 12.5h2M34.5 13.5h1M27.5 14.5h0M32.5 14.5h1M35.5 14.5h0M32.5 15.5h0M48.5 19.5h4M47.5 20.5h4M47.5 21.5h6M45.5 22.5h0M47.5 22.5h5M46.5 23.5h7M45.5 24.5h8M46.5 25.5h7M46.5 26.5h7M46.5 27.5h7M17.5 28.5h1M46.5 28.5h8M46.5 29.5h7M19.5 30.5h0M47.5 30.5h6M47.5 31.5h5M47.5 32.5h5M48.5 33.5h3M48.5 34.5h2M48.5 35.5h0M48.5 36.5h0M51.5 36.5h0M0.5 38.5h4M62.5 38.5h0M3.5 39.5h0M61.5 39.5h2M2.5 40.5h2M62.5 40.5h1M2.5 41.5h2M62.5 41.5h1M0.5 42.5h1M2.5 43.5h0M4.5 43.5h0M46.5 47.5h0M30.5 53.5h0M52.5 53.5h1M53.5 54.5h1M32.5 55.5h0M21.5 57.5h0M6.5 61.5h0M61.5 61.5h0M17.5 62.5h0M58.5 62.5h3M63.5 62.5h0M5.5 63.5h0M19.5 63.5h0M58.5 63.5h0M60.5 63.5h3"/><path stroke="#c72e4c" d="M6.5 0.5h0M8.5 0.5h0M10.5 0.5h0M57.5 0.5h0M60.5 0.5h0M13.5 1.5h0M15.5 1.5h0M11.5 2.5h0M12.5 3.5h0M1.5 4.5h0M57.5 4.5h0M0.5 5.5h0M36.5 5.5h0M5.5 6.5h0M34.5 6.5h0M33.5 7.5h0M33.5 8.5h0M37.5 8.5h0M29.5 9.5h1M37.5 9.5h0M29.5 10.5h0M36.5 10.5h0M30.5 11.5h0M38.5 11.5h0M28.5 12.5h0M32.5 12.5h0M37.5 12.5h0M33.5 13.5h0M34.5 14.5h0M36.5 14.5h0M34.5 15.5h0M52.5 20.5h0M54.5 27.5h0M19.5 29.5h0M18.5 30.5h0M20.5 31.5h0M53.5 32.5h0M51.5 34.5h0M49.5 36.5h0M4.5 37.5h0M63.5 38.5h0M0.5 39.5h0M1.5 40.5h0M60.5 40.5h0M0.5 41.5h1M5.5 41.5h0M5.5 42.5h0M1.5 43.5h0M41.5 43.5h0M33.5 47.5h0M43.5 48.5h1M47.5 48.5h0M2.5 53.5h0M31.5 53.5h0M44.5 53.5h0M50.5 53.5h1M3.5 54.5h0M33.5 54.5h0M51.5 54.5h0M42.5 55.5h0M50.5 55.5h0M5.5 56.5h0M42.5 56.5h0M6.5 57.5h0M29.5 57.5h0M4.5 58.5h0M41.5 58.5h0M3.5 59.5h0M63.5 60.5h0M7.5 61.5h0M60.5 61.5h0M19.5 62.5h0M62.5 62.5h0M59.5 63.5h0"/><path stroke="#dd4a4c" d="M4.5 1.5h0M7.5 1.5h0M10.5 1.5h0M14.5 1.5h0M9.5 2.5h0M14.5 3.5h0M5.5 4.5h0M58.5 4.5h0M1.5 5.5h0M5.5 5.5h0M35.5 5.5h0M58.5 5.5h2M56.5 6.5h0M29.5 7.5h1M39.5 7.5h0M59.5 7.5h0M31.5 8.5h0M39.5 8.5h1M57.5 8.5h0M38.5 9.5h0M39.5 10.5h0M59.5 10.5h0M31.5 12.5h0M31.5 13.5h0M36.5 13.5h0M39.5 15.5h0M32.5 16.5h0M48.5 17.5h0M49.5 18.5h0M52.5 18.5h0M17.5 19.5h0M43.5 19.5h0M18.5 20.5h0M46.5 20.5h0M54.5 23.5h0M54.5 24.5h0M54.5 25.5h0M21.5 26.5h0M45.5 26.5h0M17.5 27.5h0M20.5 27.5h0M45.5 27.5h0M19.5 28.5h0M45.5 28.5h0M18.5 29.5h0M17.5 30.5h0M44.5 30.5h2M17.5 31.5h0M19.5 31.5h0M46.5 31.5h0M18.5 32.5h0M18.5 33.5h0M47.5 34.5h0M3.5 36.5h0M62.5 37.5h1M1.5 39.5h0M4.5 39.5h2M15.5 39.5h0M59.5 39.5h1M0.5 40.5h0M6.5 40.5h0M16.5 40.5h1M61.5 40.5h0M16.5 41.5h0M18.5 41.5h0M2.5 42.5h2M18.5 42.5h0M61.5 42.5h2M0.5 43.5h0M2.5 44.5h0M4.5 44.5h0M45.5 45.5h0M45.5 46.5h0M44.5 47.5h0M43.5 49.5h1M43.5 50.5h1M43.5 51.5h0M47.5 51.5h0M45.5 52.5h0M54.5 53.5h0M56.5 53.5h0M52.5 54.5h0M55.5 54.5h0M58.5 54.5h0M3.5 55.5h2M30.5 55.5h1M4.5 56.5h0M0.5 57.5h0M3.5 57.5h1M22.5 57.5h0M30.5 57.5h0M32.5 57.5h0M2.5 58.5h1M30.5 58.5h0M32.5 58.5h0M43.5 58.5h1M4.5 59.5h0M1.5 60.5h0M5.5 60.5h0M7.5 60.5h0M13.5 60.5h0M18.5 60.5h0M58.5 60.5h0M4.5 61.5h0M17.5 61.5h0M62.5 61.5h0M4.5 62.5h1M18.5 62.5h0M3.5 63.5h0M43.5 63.5h0"/><path stroke="#eb6046" d="M7.5 0.5h0M15.5 0.5h0M62.5 0.5h0M12.5 1.5h0M5.5 2.5h0M8.5 2.5h0M10.5 2.5h0M13.5 2.5h0M58.5 2.5h0M62.5 2.5h0M3.5 3.5h0M11.5 3.5h0M59.5 3.5h0M61.5 3.5h0M3.5 4.5h0M6.5 4.5h0M60.5 4.5h0M4.5 5.5h0M6.5 5.5h0M31.5 5.5h0M33.5 5.5h0M61.5 5.5h0M1.5 6.5h0M4.5 6.5h0M30.5 6.5h0M38.5 6.5h0M1.5 7.5h1M4.5 7.5h0M58.5 7.5h0M58.5 8.5h0M4.5 9.5h0M39.5 9.5h1M35.5 10.5h0M37.5 10.5h0M57.5 11.5h0M29.5 12.5h0M36.5 12.5h0M58.5 12.5h0M29.5 13.5h0M32.5 13.5h0M29.5 14.5h0M27.5 15.5h0M35.5 15.5h0M45.5 17.5h0M49.5 17.5h1M44.5 19.5h0M46.5 19.5h1M53.5 20.5h0M17.5 21.5h0M16.5 22.5h1M46.5 22.5h0M53.5 22.5h1M18.5 24.5h0M16.5 25.5h0M17.5 26.5h0M19.5 26.5h0M44.5 26.5h0M44.5 27.5h0M20.5 29.5h0M54.5 29.5h0M16.5 30.5h0M18.5 31.5h0M19.5 32.5h0M46.5 32.5h0M45.5 33.5h2M53.5 33.5h0M18.5 35.5h0M46.5 35.5h0M49.5 35.5h1M1.5 37.5h0M3.5 37.5h0M5.5 37.5h0M18.5 37.5h0M5.5 38.5h1M17.5 38.5h0M60.5 38.5h0M2.5 39.5h0M7.5 39.5h0M8.5 40.5h0M18.5 40.5h0M6.5 41.5h0M17.5 41.5h0M61.5 41.5h0M15.5 42.5h0M15.5 43.5h0M43.5 43.5h0M62.5 43.5h0M1.5 44.5h0M3.5 44.5h0M5.5 44.5h0M38.5 44.5h0M42.5 45.5h0M33.5 46.5h0M44.5 46.5h0M46.5 46.5h0M43.5 47.5h0M47.5 47.5h0M40.5 48.5h0M45.5 48.5h1M46.5 49.5h0M45.5 50.5h1M34.5 51.5h0M44.5 51.5h0M48.5 51.5h0M33.5 52.5h0M42.5 52.5h0M47.5 52.5h0M49.5 52.5h2M0.5 53.5h0M22.5 53.5h0M43.5 53.5h0M47.5 53.5h0M49.5 53.5h0M55.5 53.5h0M2.5 54.5h0M5.5 54.5h0M23.5 54.5h0M30.5 54.5h1M49.5 54.5h1M0.5 55.5h1M6.5 55.5h0M25.5 55.5h0M48.5 55.5h0M54.5 55.5h0M56.5 55.5h0M1.5 56.5h1M23.5 56.5h0M33.5 56.5h0M7.5 57.5h1M42.5 57.5h0M7.5 58.5h1M29.5 58.5h0M31.5 58.5h0M0.5 59.5h0M2.5 59.5h0M5.5 59.5h1M16.5 59.5h0M21.5 59.5h1M6.5 60.5h0M19.5 60.5h0M30.5 60.5h0M16.5 61.5h0M59.5 61.5h0M63.5 61.5h0M3.5 62.5h0M6.5 62.5h0M16.5 62.5h0M47.5 62.5h0M57.5 62.5h0M0.5 63.5h0M4.5 63.5h0M6.5 63.5h0M16.5 63.5h0M18.5 63.5h0M57.5 63.5h0"/><path stroke="#f67c4a" d="M1.5 0.5h0M5.5 1.5h0M57.5 1.5h1M61.5 1.5h0M3.5 2.5h0M59.5 2.5h1M0.5 3.5h2M6.5 3.5h0M9.5 3.5h1M57.5 3.5h1M0.5 4.5h0M4.5 4.5h0M56.5 4.5h0M59.5 4.5h0M62.5 4.5h0M32.5 5.5h0M56.5 5.5h0M63.5 5.5h0M0.5 6.5h0M3.5 6.5h0M37.5 6.5h0M57.5 6.5h0M60.5 6.5h2M0.5 7.5h0M5.5 7.5h0M60.5 7.5h1M2.5 8.5h0M29.5 8.5h0M28.5 9.5h0M57.5 9.5h0M10.5 11.5h0M12.5 11.5h0M29.5 11.5h0M39.5 11.5h0M9.5 12.5h0M30.5 13.5h0M58.5 13.5h0M26.5 14.5h0M28.5 14.5h0M31.5 14.5h0M37.5 14.5h0M29.5 16.5h0M34.5 16.5h0M43.5 17.5h0M47.5 17.5h0M20.5 19.5h1M19.5 20.5h0M45.5 20.5h0M45.5 23.5h0M19.5 24.5h0M45.5 25.5h0M20.5 26.5h0M18.5 27.5h0M16.5 28.5h0M20.5 28.5h0M43.5 28.5h0M0.5 29.5h0M21.5 29.5h0M44.5 29.5h0M20.5 30.5h1M54.5 30.5h0M45.5 31.5h0M53.5 31.5h0M16.5 32.5h1M21.5 32.5h0M19.5 33.5h0M40.5 33.5h0M21.5 34.5h0M41.5 34.5h0M53.5 34.5h0M51.5 35.5h0M0.5 36.5h0M18.5 36.5h0M60.5 37.5h0M19.5 38.5h0M59.5 38.5h0M8.5 39.5h0M18.5 39.5h0M5.5 40.5h0M7.5 40.5h0M40.5 40.5h0M41.5 41.5h1M7.5 42.5h0M16.5 42.5h0M40.5 42.5h1M5.5 43.5h0M36.5 43.5h0M63.5 43.5h0M0.5 44.5h0M33.5 45.5h0M44.5 45.5h0M34.5 46.5h0M32.5 47.5h0M34.5 47.5h0M45.5 47.5h0M33.5 48.5h0M33.5 50.5h0M36.5 50.5h0M38.5 50.5h0M41.5 50.5h0M42.5 51.5h0M22.5 52.5h0M30.5 52.5h1M43.5 52.5h1M52.5 52.5h0M54.5 52.5h1M60.5 52.5h0M63.5 52.5h0M4.5 53.5h0M32.5 53.5h0M34.5 53.5h0M45.5 53.5h0M57.5 53.5h0M61.5 53.5h0M34.5 54.5h0M41.5 54.5h0M44.5 54.5h0M48.5 54.5h0M60.5 54.5h3M2.5 55.5h0M21.5 55.5h0M41.5 55.5h0M43.5 55.5h0M49.5 55.5h0M51.5 55.5h1M55.5 55.5h0M57.5 55.5h0M63.5 55.5h0M22.5 56.5h0M28.5 56.5h3M43.5 56.5h0M46.5 56.5h0M1.5 57.5h0M5.5 57.5h0M12.5 57.5h0M17.5 57.5h0M19.5 57.5h0M23.5 57.5h0M33.5 57.5h0M5.5 58.5h1M9.5 58.5h0M24.5 58.5h0M27.5 58.5h0M33.5 58.5h0M42.5 58.5h0M7.5 59.5h0M18.5 59.5h0M20.5 59.5h0M29.5 59.5h0M31.5 59.5h0M41.5 59.5h0M0.5 60.5h0M3.5 60.5h1M17.5 60.5h0M20.5 60.5h0M31.5 60.5h1M59.5 60.5h2M3.5 61.5h0M5.5 61.5h0M15.5 61.5h0M18.5 61.5h0M25.5 61.5h0M7.5 62.5h0M20.5 62.5h0M55.5 62.5h1M2.5 63.5h0M9.5 63.5h0M17.5 63.5h0"/><path stroke="#fb9d59" d="M4.5 0.5h1M39.5 0.5h0M59.5 0.5h0M61.5 0.5h0M0.5 1.5h0M6.5 1.5h0M8.5 1.5h0M59.5 1.5h0M63.5 1.5h0M4.5 2.5h0M7.5 2.5h0M15.5 2.5h0M4.5 3.5h0M7.5 3.5h0M63.5 3.5h0M61.5 4.5h0M63.5 4.5h0M2.5 6.5h0M31.5 6.5h0M63.5 6.5h0M3.5 7.5h0M6.5 7.5h0M56.5 7.5h0M0.5 8.5h0M3.5 8.5h1M6.5 8.5h0M59.5 8.5h0M59.5 9.5h1M9.5 10.5h0M57.5 10.5h0M6.5 11.5h0M27.5 12.5h0M7.5 13.5h0M37.5 13.5h0M59.5 13.5h0M9.5 14.5h0M60.5 14.5h1M28.5 15.5h3M36.5 15.5h0M24.5 16.5h0M28.5 16.5h0M36.5 16.5h0M39.5 16.5h0M16.5 17.5h0M31.5 17.5h1M39.5 17.5h0M44.5 17.5h0M51.5 17.5h0M21.5 18.5h1M42.5 18.5h2M46.5 18.5h0M48.5 18.5h0M50.5 18.5h1M63.5 18.5h0M16.5 19.5h0M45.5 19.5h0M53.5 19.5h0M13.5 21.5h0M15.5 21.5h1M18.5 21.5h0M21.5 21.5h0M44.5 21.5h1M15.5 22.5h0M18.5 22.5h0M17.5 23.5h0M19.5 23.5h0M16.5 24.5h0M17.5 25.5h0M19.5 25.5h0M54.5 26.5h0M16.5 27.5h0M19.5 27.5h0M21.5 27.5h0M44.5 28.5h0M16.5 29.5h1M45.5 29.5h0M1.5 30.5h0M20.5 32.5h0M21.5 33.5h0M52.5 33.5h0M17.5 34.5h0M20.5 34.5h0M37.5 34.5h0M46.5 34.5h0M52.5 34.5h0M41.5 35.5h0M47.5 35.5h0M52.5 35.5h0M2.5 36.5h0M19.5 36.5h0M50.5 36.5h0M63.5 36.5h0M2.5 37.5h0M50.5 37.5h0M61.5 37.5h0M7.5 38.5h0M37.5 38.5h0M61.5 38.5h0M17.5 39.5h0M19.5 39.5h0M41.5 39.5h0M15.5 40.5h0M36.5 40.5h0M59.5 40.5h0M7.5 41.5h0M12.5 41.5h0M39.5 41.5h1M59.5 41.5h1M11.5 42.5h1M39.5 42.5h0M42.5 42.5h0M60.5 42.5h0M3.5 43.5h0M6.5 43.5h0M42.5 43.5h0M44.5 43.5h0M61.5 43.5h0M6.5 44.5h0M32.5 44.5h1M34.5 45.5h0M43.5 45.5h0M46.5 45.5h0M3.5 46.5h0M2.5 47.5h0M35.5 47.5h0M37.5 47.5h0M41.5 47.5h0M30.5 48.5h0M32.5 48.5h0M34.5 48.5h0M39.5 48.5h0M32.5 49.5h0M34.5 49.5h0M45.5 49.5h0M47.5 49.5h0M31.5 50.5h1M34.5 50.5h0M47.5 50.5h0M23.5 51.5h0M32.5 51.5h1M41.5 51.5h0M45.5 51.5h1M51.5 51.5h2M29.5 52.5h0M46.5 52.5h0M53.5 52.5h0M1.5 53.5h0M21.5 53.5h0M23.5 53.5h0M28.5 53.5h0M41.5 53.5h1M58.5 53.5h0M62.5 53.5h1M0.5 54.5h0M4.5 54.5h0M24.5 54.5h0M29.5 54.5h0M43.5 54.5h0M45.5 54.5h0M23.5 55.5h0M45.5 55.5h0M47.5 55.5h0M53.5 55.5h0M60.5 55.5h1M0.5 56.5h0M3.5 56.5h0M6.5 56.5h1M20.5 56.5h0M24.5 56.5h0M27.5 56.5h0M40.5 56.5h0M52.5 56.5h0M27.5 57.5h0M31.5 57.5h0M41.5 57.5h0M63.5 57.5h0M1.5 58.5h0M11.5 58.5h0M23.5 58.5h0M15.5 59.5h0M17.5 59.5h0M19.5 59.5h0M30.5 59.5h0M43.5 59.5h0M59.5 59.5h0M8.5 60.5h0M15.5 60.5h0M21.5 60.5h0M29.5 60.5h0M62.5 60.5h0M0.5 61.5h0M2.5 61.5h0M19.5 61.5h0M44.5 61.5h0M58.5 61.5h0M1.5 62.5h1M32.5 62.5h0M42.5 62.5h0M45.5 62.5h0M48.5 62.5h0M50.5 62.5h0M1.5 63.5h0M15.5 63.5h0M20.5 63.5h0M27.5 63.5h0M49.5 63.5h0M56.5 63.5h0"/><path stroke="#fdbb6c" d="M3.5 0.5h0M42.5 0.5h0M58.5 0.5h0M63.5 0.5h0M40.5 1.5h0M56.5 1.5h0M62.5 1.5h0M16.5 2.5h0M57.5 2.5h0M63.5 2.5h0M5.5 3.5h0M13.5 3.5h0M56.5 3.5h0M62.5 3.5h0M7.5 4.5h0M12.5 4.5h0M8.5 5.5h0M11.5 5.5h0M30.5 5.5h0M34.5 5.5h0M57.5 5.5h0M62.5 5.5h0M6.5 6.5h0M47.5 6.5h0M28.5 7.5h0M57.5 7.5h0M62.5 7.5h1M7.5 8.5h0M56.5 8.5h0M60.5 8.5h0M62.5 8.5h0M0.5 9.5h0M3.5 9.5h0M5.5 9.5h0M9.5 9.5h0M47.5 9.5h0M58.5 9.5h0M62.5 9.5h0M2.5 10.5h0M10.5 10.5h0M58.5 10.5h0M60.5 10.5h0M5.5 11.5h0M56.5 11.5h0M58.5 11.5h0M6.5 12.5h1M38.5 12.5h0M61.5 12.5h0M63.5 12.5h0M10.5 13.5h0M28.5 13.5h0M38.5 13.5h0M8.5 14.5h0M38.5 14.5h0M37.5 15.5h1M40.5 15.5h0M59.5 15.5h0M61.5 15.5h0M25.5 16.5h0M31.5 16.5h0M33.5 16.5h0M35.5 16.5h0M44.5 16.5h0M17.5 17.5h0M23.5 17.5h0M26.5 17.5h0M38.5 17.5h0M46.5 17.5h0M60.5 17.5h1M63.5 17.5h0M31.5 18.5h0M40.5 18.5h1M45.5 18.5h0M47.5 18.5h0M18.5 19.5h1M22.5 19.5h0M25.5 19.5h0M14.5 20.5h0M17.5 20.5h0M20.5 20.5h0M42.5 20.5h1M19.5 21.5h0M15.5 23.5h1M18.5 23.5h0M44.5 23.5h0M43.5 24.5h0M18.5 25.5h0M21.5 25.5h0M44.5 25.5h0M43.5 27.5h0M2.5 28.5h0M21.5 28.5h0M1.5 29.5h0M16.5 31.5h0M43.5 31.5h1M44.5 32.5h1M16.5 33.5h1M20.5 33.5h0M18.5 34.5h1M38.5 34.5h0M17.5 35.5h0M53.5 35.5h0M5.5 36.5h1M9.5 36.5h0M17.5 36.5h0M60.5 36.5h0M6.5 37.5h0M40.5 37.5h0M59.5 37.5h0M18.5 38.5h0M34.5 38.5h0M39.5 38.5h1M35.5 39.5h0M9.5 40.5h0M19.5 40.5h0M33.5 40.5h0M41.5 40.5h0M8.5 41.5h0M14.5 41.5h0M6.5 42.5h0M10.5 42.5h0M14.5 43.5h0M17.5 43.5h0M34.5 43.5h1M39.5 43.5h0M7.5 44.5h0M34.5 44.5h0M41.5 44.5h2M6.5 45.5h0M35.5 45.5h0M39.5 45.5h0M2.5 46.5h0M32.5 46.5h0M40.5 46.5h0M43.5 46.5h0M35.5 48.5h0M28.5 49.5h0M30.5 49.5h0M33.5 49.5h0M36.5 49.5h0M42.5 49.5h0M30.5 50.5h0M35.5 50.5h0M42.5 50.5h0M39.5 51.5h1M49.5 51.5h1M59.5 51.5h1M1.5 52.5h0M24.5 52.5h0M32.5 52.5h0M34.5 52.5h0M41.5 52.5h0M58.5 52.5h1M61.5 52.5h0M20.5 53.5h0M46.5 53.5h0M48.5 53.5h0M59.5 53.5h0M1.5 54.5h0M19.5 54.5h0M22.5 54.5h0M27.5 54.5h0M32.5 54.5h0M42.5 54.5h0M46.5 54.5h1M56.5 54.5h0M59.5 54.5h0M20.5 55.5h0M27.5 55.5h2M33.5 55.5h0M46.5 55.5h0M8.5 56.5h0M21.5 56.5h0M25.5 56.5h0M32.5 56.5h0M53.5 56.5h0M61.5 56.5h0M61.5 57.5h0M18.5 58.5h0M20.5 58.5h0M1.5 59.5h0M10.5 59.5h0M28.5 59.5h0M32.5 59.5h0M45.5 59.5h0M58.5 59.5h0M61.5 59.5h2M2.5 60.5h0M9.5 60.5h0M14.5 60.5h0M16.5 60.5h0M27.5 60.5h1M57.5 60.5h0M1.5 61.5h0M21.5 61.5h0M28.5 61.5h2M48.5 61.5h0M0.5 62.5h0M14.5 62.5h0M21.5 62.5h0M23.5 62.5h0M30.5 62.5h0M33.5 62.5h0M41.5 62.5h0M8.5 63.5h0M14.5 63.5h0M24.5 63.5h0M55.5 63.5h0"/><path stroke="#fed481" d="M9.5 0.5h0M16.5 0.5h0M40.5 0.5h1M43.5 0.5h0M1.5 1.5h0M41.5 1.5h1M55.5 1.5h0M6.5 2.5h0M17.5 2.5h0M38.5 2.5h0M56.5 2.5h0M61.5 2.5h0M8.5 3.5h0M39.5 3.5h0M60.5 3.5h0M2.5 4.5h0M8.5 4.5h1M11.5 4.5h0M29.5 4.5h0M32.5 4.5h0M34.5 4.5h0M46.5 4.5h0M7.5 5.5h0M29.5 5.5h0M44.5 5.5h1M47.5 5.5h0M7.5 6.5h1M10.5 6.5h0M12.5 6.5h0M5.5 8.5h0M8.5 8.5h0M46.5 8.5h0M55.5 8.5h0M61.5 8.5h0M10.5 9.5h0M12.5 9.5h0M3.5 10.5h0M7.5 10.5h0M12.5 10.5h0M56.5 10.5h0M61.5 10.5h0M1.5 11.5h0M9.5 11.5h0M60.5 11.5h1M8.5 12.5h0M10.5 12.5h0M57.5 12.5h0M60.5 12.5h0M62.5 12.5h0M4.5 13.5h1M8.5 13.5h1M25.5 13.5h2M30.5 14.5h0M58.5 14.5h1M63.5 14.5h0M25.5 15.5h1M44.5 15.5h0M58.5 15.5h0M62.5 15.5h0M23.5 16.5h0M30.5 16.5h0M37.5 16.5h1M40.5 16.5h1M43.5 16.5h0M49.5 16.5h0M62.5 16.5h1M19.5 17.5h0M30.5 17.5h0M14.5 18.5h1M18.5 18.5h1M27.5 18.5h0M29.5 18.5h0M32.5 18.5h0M12.5 19.5h1M41.5 19.5h0M13.5 20.5h0M15.5 20.5h0M24.5 21.5h0M41.5 21.5h2M46.5 21.5h0M14.5 22.5h0M19.5 22.5h0M21.5 22.5h1M25.5 22.5h0M43.5 22.5h1M21.5 23.5h0M43.5 23.5h0M17.5 24.5h0M20.5 24.5h0M22.5 24.5h0M44.5 24.5h0M20.5 25.5h0M43.5 25.5h0M16.5 26.5h0M18.5 26.5h0M1.5 28.5h0M15.5 29.5h0M23.5 29.5h0M43.5 29.5h0M15.5 31.5h0M21.5 31.5h0M42.5 31.5h0M10.5 34.5h0M42.5 34.5h0M45.5 34.5h0M54.5 34.5h0M16.5 35.5h0M19.5 35.5h1M22.5 35.5h0M45.5 35.5h0M54.5 35.5h0M56.5 35.5h0M60.5 35.5h0M16.5 36.5h0M40.5 36.5h0M52.5 36.5h0M62.5 36.5h0M0.5 37.5h0M14.5 37.5h0M19.5 37.5h0M35.5 37.5h0M38.5 37.5h0M58.5 37.5h0M14.5 39.5h0M16.5 39.5h0M20.5 39.5h0M36.5 39.5h0M32.5 40.5h0M34.5 40.5h0M42.5 40.5h0M9.5 41.5h0M15.5 41.5h0M33.5 41.5h0M36.5 41.5h1M8.5 42.5h0M13.5 42.5h1M33.5 42.5h0M43.5 42.5h0M8.5 43.5h0M16.5 43.5h0M19.5 43.5h0M40.5 43.5h0M35.5 44.5h0M37.5 44.5h0M63.5 44.5h0M0.5 45.5h0M3.5 45.5h2M8.5 45.5h0M31.5 45.5h0M40.5 45.5h1M9.5 46.5h0M36.5 46.5h0M41.5 46.5h0M47.5 46.5h0M49.5 46.5h0M36.5 47.5h0M39.5 47.5h0M42.5 47.5h0M31.5 48.5h0M37.5 48.5h0M41.5 48.5h1M29.5 49.5h0M31.5 49.5h0M38.5 49.5h0M41.5 49.5h0M23.5 50.5h0M27.5 50.5h1M29.5 51.5h0M31.5 51.5h0M35.5 51.5h2M54.5 51.5h0M57.5 51.5h0M63.5 51.5h0M3.5 52.5h0M28.5 52.5h0M39.5 52.5h0M5.5 53.5h0M24.5 53.5h0M27.5 53.5h0M29.5 53.5h0M33.5 53.5h0M20.5 54.5h0M25.5 54.5h0M57.5 54.5h0M8.5 55.5h0M22.5 55.5h0M44.5 55.5h0M62.5 55.5h0M34.5 56.5h0M41.5 56.5h0M44.5 56.5h0M48.5 56.5h1M56.5 56.5h1M2.5 57.5h0M15.5 57.5h0M28.5 57.5h0M43.5 57.5h1M0.5 58.5h0M10.5 58.5h0M12.5 58.5h2M16.5 58.5h1M19.5 58.5h0M21.5 58.5h1M28.5 58.5h0M60.5 58.5h0M63.5 58.5h0M8.5 59.5h0M12.5 59.5h2M26.5 59.5h0M33.5 59.5h0M40.5 59.5h0M42.5 59.5h0M44.5 59.5h0M60.5 59.5h0M45.5 60.5h0M47.5 60.5h0M55.5 60.5h0M9.5 61.5h0M13.5 61.5h1M27.5 61.5h0M43.5 61.5h0M45.5 61.5h0M47.5 61.5h0M8.5 62.5h1M15.5 62.5h0M25.5 62.5h0M31.5 62.5h0M43.5 62.5h0M46.5 62.5h0M49.5 62.5h0M54.5 62.5h0M7.5 63.5h0M13.5 63.5h0M21.5 63.5h0M23.5 63.5h0M25.5 63.5h0M41.5 63.5h1M48.5 63.5h0M54.5 63.5h0"/><path stroke="#fee797" d="M17.5 0.5h0M55.5 0.5h1M52.5 1.5h0M60.5 1.5h0M1.5 2.5h0M14.5 2.5h0M18.5 2.5h0M40.5 2.5h1M55.5 2.5h0M15.5 3.5h0M30.5 3.5h0M10.5 4.5h0M13.5 4.5h1M37.5 4.5h0M45.5 4.5h0M55.5 4.5h0M14.5 5.5h0M17.5 5.5h0M11.5 6.5h0M28.5 6.5h1M48.5 6.5h0M54.5 6.5h0M10.5 7.5h0M55.5 7.5h0M1.5 8.5h0M10.5 8.5h2M63.5 8.5h0M6.5 9.5h0M56.5 9.5h0M0.5 10.5h0M5.5 10.5h1M8.5 10.5h0M11.5 10.5h0M13.5 10.5h0M7.5 11.5h1M28.5 11.5h0M63.5 11.5h0M6.5 13.5h0M11.5 13.5h0M56.5 13.5h0M60.5 13.5h0M62.5 13.5h0M6.5 14.5h0M11.5 14.5h0M39.5 14.5h0M57.5 14.5h0M9.5 15.5h0M33.5 15.5h0M42.5 15.5h0M63.5 15.5h0M6.5 16.5h0M26.5 16.5h1M12.5 17.5h1M18.5 17.5h0M29.5 17.5h0M33.5 17.5h4M40.5 17.5h0M42.5 17.5h0M53.5 17.5h0M62.5 17.5h0M16.5 18.5h0M24.5 18.5h2M34.5 18.5h0M37.5 18.5h0M39.5 18.5h0M61.5 18.5h0M14.5 19.5h0M23.5 19.5h0M28.5 19.5h0M42.5 19.5h0M16.5 20.5h0M25.5 20.5h0M28.5 20.5h0M14.5 21.5h0M20.5 21.5h0M23.5 21.5h0M20.5 22.5h0M41.5 22.5h0M23.5 23.5h0M42.5 23.5h0M25.5 24.5h0M55.5 24.5h0M14.5 25.5h0M15.5 26.5h0M33.5 27.5h0M55.5 27.5h0M0.5 28.5h0M22.5 28.5h0M2.5 29.5h0M42.5 29.5h0M15.5 30.5h0M22.5 32.5h0M43.5 32.5h0M22.5 33.5h0M38.5 33.5h1M54.5 33.5h0M8.5 34.5h0M16.5 34.5h0M39.5 34.5h0M44.5 34.5h0M2.5 35.5h0M6.5 35.5h1M15.5 35.5h0M39.5 35.5h0M42.5 35.5h0M44.5 35.5h0M62.5 35.5h0M1.5 36.5h0M4.5 36.5h0M8.5 36.5h0M15.5 36.5h0M34.5 36.5h1M38.5 36.5h1M45.5 36.5h2M55.5 36.5h0M57.5 36.5h0M59.5 36.5h0M61.5 36.5h0M7.5 37.5h0M16.5 37.5h0M36.5 37.5h0M39.5 37.5h0M41.5 37.5h0M43.5 37.5h0M48.5 37.5h0M55.5 37.5h0M57.5 37.5h0M16.5 38.5h0M35.5 38.5h0M38.5 38.5h0M57.5 38.5h0M9.5 39.5h0M11.5 39.5h0M37.5 39.5h0M39.5 39.5h1M11.5 40.5h0M13.5 40.5h0M20.5 40.5h0M35.5 40.5h0M37.5 40.5h2M43.5 40.5h0M19.5 41.5h0M34.5 41.5h0M38.5 41.5h0M9.5 42.5h0M17.5 42.5h0M19.5 42.5h0M35.5 42.5h0M37.5 42.5h0M9.5 43.5h0M37.5 43.5h1M12.5 44.5h0M14.5 44.5h0M31.5 44.5h0M36.5 44.5h0M39.5 44.5h1M45.5 44.5h0M61.5 44.5h0M10.5 45.5h0M32.5 45.5h0M37.5 45.5h1M27.5 46.5h0M31.5 46.5h0M35.5 46.5h0M42.5 46.5h0M0.5 47.5h0M30.5 47.5h1M49.5 47.5h0M38.5 48.5h0M27.5 49.5h0M35.5 49.5h0M37.5 49.5h0M39.5 49.5h1M48.5 49.5h0M29.5 50.5h0M40.5 50.5h0M48.5 50.5h0M58.5 50.5h0M2.5 51.5h0M24.5 51.5h0M30.5 51.5h0M58.5 51.5h0M61.5 51.5h1M0.5 52.5h0M21.5 52.5h0M25.5 52.5h0M27.5 52.5h0M35.5 52.5h0M40.5 52.5h0M57.5 52.5h0M35.5 53.5h0M60.5 53.5h0M7.5 54.5h0M21.5 54.5h0M28.5 54.5h0M7.5 55.5h0M24.5 55.5h0M26.5 55.5h0M58.5 55.5h0M9.5 56.5h0M45.5 56.5h0M47.5 56.5h0M51.5 56.5h0M58.5 56.5h1M62.5 56.5h0M9.5 57.5h2M18.5 57.5h0M24.5 57.5h0M26.5 57.5h0M45.5 57.5h1M60.5 57.5h0M15.5 58.5h0M34.5 58.5h0M38.5 58.5h0M59.5 58.5h0M61.5 58.5h1M9.5 59.5h0M23.5 59.5h0M25.5 59.5h0M47.5 59.5h0M10.5 60.5h0M23.5 60.5h1M33.5 60.5h0M42.5 60.5h0M44.5 60.5h0M46.5 60.5h0M49.5 60.5h0M8.5 61.5h0M12.5 61.5h0M20.5 61.5h0M22.5 61.5h0M26.5 61.5h0M32.5 61.5h1M42.5 61.5h0M49.5 61.5h0M55.5 61.5h2M10.5 62.5h0M27.5 62.5h0M34.5 62.5h0M40.5 62.5h0M44.5 62.5h0M52.5 62.5h0M26.5 63.5h0M29.5 63.5h0M32.5 63.5h0M35.5 63.5h0M44.5 63.5h0M46.5 63.5h1M50.5 63.5h2"/><path stroke="#fff7b2" d="M2.5 0.5h0M38.5 0.5h0M2.5 1.5h1M16.5 1.5h0M48.5 1.5h0M2.5 2.5h0M16.5 3.5h0M28.5 3.5h0M43.5 3.5h0M46.5 3.5h0M15.5 4.5h0M31.5 4.5h0M35.5 4.5h0M49.5 4.5h0M10.5 5.5h0M12.5 5.5h1M37.5 5.5h1M48.5 5.5h0M55.5 5.5h0M9.5 6.5h0M45.5 6.5h1M55.5 6.5h0M7.5 7.5h1M11.5 7.5h0M13.5 7.5h0M46.5 7.5h0M9.5 8.5h0M28.5 8.5h0M47.5 8.5h0M51.5 8.5h0M54.5 8.5h0M1.5 9.5h0M7.5 9.5h1M14.5 9.5h0M54.5 9.5h1M61.5 9.5h0M63.5 9.5h0M1.5 10.5h0M28.5 10.5h0M54.5 10.5h0M62.5 10.5h0M2.5 11.5h0M4.5 11.5h0M13.5 11.5h0M40.5 11.5h0M55.5 11.5h0M59.5 11.5h0M1.5 12.5h1M5.5 12.5h0M11.5 12.5h0M14.5 12.5h1M39.5 12.5h0M59.5 12.5h0M39.5 13.5h2M61.5 13.5h0M63.5 13.5h0M10.5 14.5h0M13.5 14.5h0M25.5 14.5h0M40.5 14.5h0M43.5 14.5h0M43.5 15.5h0M47.5 15.5h0M50.5 15.5h0M60.5 15.5h0M0.5 16.5h0M8.5 16.5h0M11.5 16.5h0M22.5 16.5h0M45.5 16.5h0M50.5 16.5h0M53.5 16.5h0M59.5 16.5h2M20.5 17.5h2M24.5 17.5h0M27.5 17.5h1M41.5 17.5h0M52.5 17.5h0M1.5 18.5h0M17.5 18.5h0M23.5 18.5h0M28.5 18.5h0M30.5 18.5h0M33.5 18.5h0M36.5 18.5h0M38.5 18.5h0M62.5 18.5h0M15.5 19.5h0M24.5 19.5h0M27.5 19.5h0M40.5 19.5h0M54.5 19.5h0M61.5 19.5h0M22.5 20.5h1M31.5 20.5h0M44.5 20.5h0M12.5 21.5h0M22.5 21.5h0M26.5 21.5h2M55.5 21.5h0M13.5 22.5h0M55.5 22.5h0M14.5 23.5h0M22.5 23.5h0M41.5 23.5h0M55.5 23.5h0M0.5 25.5h0M15.5 25.5h0M22.5 25.5h0M42.5 25.5h0M55.5 25.5h1M23.5 26.5h0M43.5 26.5h0M55.5 26.5h0M0.5 27.5h1M15.5 27.5h0M22.5 27.5h0M24.5 27.5h0M15.5 28.5h0M34.5 28.5h0M42.5 28.5h0M55.5 28.5h0M0.5 30.5h0M3.5 30.5h0M22.5 30.5h0M34.5 30.5h0M42.5 30.5h1M55.5 30.5h0M22.5 31.5h1M35.5 31.5h0M33.5 32.5h1M42.5 32.5h0M58.5 32.5h0M1.5 33.5h0M10.5 33.5h0M41.5 33.5h1M44.5 33.5h0M55.5 33.5h0M0.5 34.5h0M3.5 34.5h4M15.5 34.5h0M56.5 34.5h0M11.5 35.5h0M21.5 35.5h0M37.5 35.5h0M55.5 35.5h0M58.5 35.5h0M61.5 35.5h0M63.5 35.5h0M10.5 36.5h0M37.5 36.5h0M41.5 36.5h1M9.5 37.5h0M11.5 37.5h0M17.5 37.5h0M37.5 37.5h0M44.5 37.5h0M47.5 37.5h0M51.5 37.5h0M56.5 37.5h0M10.5 38.5h0M15.5 38.5h0M20.5 38.5h0M41.5 38.5h0M54.5 38.5h0M56.5 38.5h0M58.5 38.5h0M13.5 39.5h0M31.5 39.5h0M33.5 39.5h1M42.5 39.5h1M10.5 40.5h0M12.5 40.5h0M21.5 40.5h0M43.5 41.5h1M58.5 41.5h0M36.5 42.5h0M33.5 43.5h0M45.5 43.5h0M59.5 43.5h1M8.5 44.5h1M11.5 44.5h0M15.5 44.5h0M17.5 44.5h0M11.5 45.5h0M1.5 46.5h0M7.5 46.5h0M13.5 46.5h0M30.5 46.5h0M38.5 46.5h1M48.5 46.5h0M3.5 47.5h0M5.5 47.5h1M38.5 47.5h0M40.5 47.5h0M2.5 48.5h0M28.5 48.5h0M23.5 49.5h0M24.5 50.5h0M37.5 50.5h0M49.5 50.5h0M52.5 50.5h0M21.5 51.5h0M25.5 51.5h1M28.5 51.5h0M38.5 51.5h0M2.5 52.5h0M26.5 52.5h0M48.5 52.5h0M56.5 52.5h0M62.5 52.5h0M3.5 53.5h0M6.5 53.5h0M25.5 53.5h0M36.5 53.5h0M40.5 53.5h0M39.5 54.5h1M34.5 55.5h0M11.5 56.5h0M16.5 56.5h0M26.5 56.5h0M54.5 56.5h1M60.5 56.5h0M63.5 56.5h0M25.5 57.5h0M40.5 57.5h0M47.5 57.5h0M57.5 57.5h1M25.5 58.5h1M35.5 58.5h0M39.5 58.5h1M45.5 58.5h0M47.5 58.5h1M11.5 59.5h0M24.5 59.5h0M27.5 59.5h0M39.5 59.5h0M48.5 59.5h0M57.5 59.5h0M12.5 60.5h0M22.5 60.5h0M25.5 60.5h0M34.5 60.5h0M41.5 60.5h0M48.5 60.5h0M50.5 60.5h0M52.5 60.5h0M11.5 61.5h0M24.5 61.5h0M31.5 61.5h0M36.5 61.5h0M40.5 61.5h0M52.5 61.5h0M24.5 62.5h0M28.5 62.5h0M35.5 62.5h0M51.5 62.5h0M30.5 63.5h1M33.5 63.5h0M53.5 63.5h0"/><path stroke="#f9fcb5" d="M51.5 0.5h0M17.5 1.5h0M38.5 1.5h1M43.5 1.5h0M50.5 1.5h0M0.5 2.5h0M42.5 2.5h0M33.5 3.5h0M36.5 3.5h0M38.5 3.5h0M40.5 3.5h0M47.5 3.5h0M30.5 4.5h0M33.5 4.5h0M42.5 4.5h0M47.5 4.5h1M16.5 5.5h0M28.5 5.5h0M46.5 5.5h0M49.5 5.5h0M15.5 6.5h1M9.5 7.5h0M47.5 7.5h0M54.5 7.5h0M13.5 8.5h0M11.5 9.5h0M46.5 9.5h0M4.5 10.5h0M14.5 10.5h2M3.5 11.5h0M15.5 11.5h0M17.5 11.5h0M27.5 11.5h0M47.5 11.5h0M0.5 12.5h0M3.5 12.5h0M12.5 12.5h0M26.5 12.5h0M1.5 13.5h0M55.5 13.5h0M57.5 13.5h0M7.5 14.5h0M16.5 14.5h0M24.5 14.5h0M62.5 14.5h0M1.5 15.5h0M6.5 15.5h0M11.5 15.5h0M14.5 15.5h0M48.5 15.5h1M56.5 15.5h1M10.5 16.5h0M17.5 16.5h1M42.5 16.5h0M46.5 16.5h2M51.5 16.5h0M56.5 16.5h0M0.5 17.5h0M15.5 17.5h0M59.5 17.5h0M11.5 18.5h0M13.5 18.5h0M20.5 18.5h0M35.5 18.5h0M59.5 18.5h1M10.5 19.5h0M29.5 19.5h1M38.5 19.5h0M63.5 19.5h0M5.5 20.5h0M21.5 20.5h0M24.5 20.5h0M26.5 20.5h1M29.5 20.5h0M40.5 20.5h1M55.5 20.5h0M11.5 21.5h0M25.5 21.5h0M56.5 21.5h0M63.5 21.5h0M23.5 22.5h1M29.5 22.5h1M42.5 22.5h0M20.5 23.5h0M24.5 23.5h1M15.5 24.5h0M21.5 24.5h0M23.5 24.5h1M63.5 24.5h0M13.5 25.5h0M41.5 25.5h0M61.5 25.5h1M14.5 26.5h0M25.5 26.5h0M56.5 26.5h0M63.5 26.5h0M2.5 27.5h0M42.5 27.5h0M3.5 28.5h0M24.5 28.5h0M33.5 28.5h0M3.5 29.5h0M36.5 29.5h0M23.5 30.5h0M40.5 30.5h1M56.5 30.5h0M1.5 31.5h2M0.5 32.5h0M14.5 32.5h0M36.5 32.5h0M40.5 32.5h0M54.5 32.5h2M15.5 33.5h0M23.5 33.5h0M43.5 33.5h0M56.5 33.5h1M9.5 34.5h0M11.5 34.5h0M13.5 34.5h0M36.5 34.5h0M40.5 34.5h0M58.5 34.5h0M0.5 35.5h0M4.5 35.5h0M9.5 35.5h1M23.5 35.5h0M35.5 35.5h1M38.5 35.5h0M43.5 35.5h0M59.5 35.5h0M20.5 36.5h0M22.5 36.5h0M31.5 36.5h0M36.5 36.5h0M44.5 36.5h0M10.5 37.5h0M20.5 37.5h1M33.5 37.5h0M42.5 37.5h0M53.5 37.5h0M9.5 38.5h0M11.5 38.5h0M13.5 38.5h0M46.5 38.5h0M10.5 39.5h0M26.5 39.5h0M28.5 39.5h0M38.5 39.5h0M58.5 39.5h0M27.5 40.5h0M10.5 41.5h0M20.5 41.5h1M20.5 42.5h0M22.5 42.5h0M30.5 42.5h0M32.5 42.5h0M34.5 42.5h0M38.5 42.5h0M44.5 42.5h0M10.5 43.5h1M13.5 43.5h0M18.5 43.5h0M32.5 43.5h0M16.5 44.5h0M18.5 44.5h0M44.5 44.5h0M60.5 44.5h0M62.5 44.5h0M1.5 45.5h1M9.5 45.5h0M15.5 45.5h1M26.5 45.5h0M30.5 45.5h0M36.5 45.5h0M47.5 45.5h0M62.5 45.5h1M0.5 46.5h0M4.5 46.5h0M6.5 46.5h0M10.5 46.5h0M37.5 46.5h0M28.5 47.5h0M0.5 48.5h0M27.5 48.5h0M29.5 48.5h0M48.5 48.5h0M26.5 49.5h0M49.5 49.5h0M0.5 50.5h0M7.5 50.5h0M22.5 50.5h0M25.5 50.5h0M51.5 50.5h0M55.5 50.5h0M59.5 50.5h0M0.5 51.5h0M5.5 51.5h0M20.5 51.5h0M22.5 51.5h0M27.5 51.5h0M4.5 52.5h1M8.5 52.5h0M20.5 52.5h0M23.5 52.5h0M36.5 52.5h1M9.5 53.5h0M26.5 53.5h0M39.5 53.5h0M6.5 54.5h0M8.5 54.5h0M17.5 54.5h0M26.5 54.5h0M9.5 55.5h0M17.5 55.5h0M35.5 55.5h0M18.5 56.5h1M50.5 56.5h0M13.5 57.5h1M20.5 57.5h0M34.5 57.5h0M39.5 57.5h0M48.5 57.5h0M50.5 57.5h1M53.5 57.5h0M62.5 57.5h0M46.5 58.5h0M58.5 58.5h0M34.5 59.5h0M46.5 59.5h0M56.5 59.5h0M11.5 60.5h0M36.5 60.5h0M38.5 60.5h1M43.5 60.5h0M51.5 60.5h0M56.5 60.5h0M10.5 61.5h0M23.5 61.5h0M34.5 61.5h0M37.5 61.5h1M41.5 61.5h0M51.5 61.5h0M53.5 61.5h1M12.5 62.5h1M22.5 62.5h0M26.5 62.5h0M29.5 62.5h0M38.5 62.5h1M53.5 62.5h0M10.5 63.5h0M12.5 63.5h0M28.5 63.5h0M34.5 63.5h0M36.5 63.5h0M39.5 63.5h1M45.5 63.5h0"/><path stroke="#ecf7a1" d="M18.5 0.5h1M36.5 0.5h0M50.5 0.5h0M54.5 0.5h0M18.5 1.5h0M49.5 1.5h0M39.5 2.5h0M50.5 2.5h0M54.5 2.5h0M29.5 3.5h0M41.5 3.5h1M48.5 3.5h1M52.5 3.5h2M16.5 4.5h0M39.5 4.5h0M43.5 4.5h1M54.5 5.5h0M14.5 6.5h0M39.5 6.5h0M12.5 7.5h0M16.5 7.5h0M45.5 7.5h0M15.5 8.5h1M18.5 8.5h0M50.5 8.5h0M2.5 9.5h0M13.5 9.5h0M15.5 9.5h0M45.5 9.5h0M48.5 10.5h1M63.5 10.5h0M0.5 11.5h0M11.5 11.5h0M45.5 11.5h0M54.5 11.5h0M62.5 11.5h0M13.5 12.5h0M18.5 12.5h0M40.5 12.5h0M48.5 12.5h0M50.5 12.5h0M55.5 12.5h0M0.5 13.5h0M12.5 13.5h0M49.5 13.5h1M4.5 14.5h0M12.5 14.5h0M47.5 14.5h0M4.5 15.5h0M8.5 15.5h0M10.5 15.5h0M12.5 15.5h0M15.5 15.5h0M18.5 15.5h0M24.5 15.5h0M41.5 15.5h0M46.5 15.5h0M51.5 15.5h0M5.5 16.5h0M7.5 16.5h0M12.5 16.5h0M15.5 16.5h1M20.5 16.5h0M57.5 16.5h0M2.5 17.5h1M25.5 17.5h0M2.5 18.5h0M6.5 18.5h0M53.5 18.5h0M33.5 19.5h2M55.5 19.5h0M58.5 19.5h2M62.5 19.5h0M7.5 20.5h1M10.5 20.5h1M39.5 20.5h0M54.5 20.5h0M61.5 20.5h1M29.5 21.5h0M54.5 21.5h0M59.5 21.5h0M61.5 21.5h0M12.5 22.5h0M26.5 22.5h1M32.5 22.5h0M56.5 22.5h1M26.5 23.5h0M28.5 23.5h1M13.5 24.5h0M26.5 24.5h0M12.5 25.5h0M23.5 25.5h0M35.5 25.5h0M0.5 26.5h0M22.5 26.5h0M32.5 26.5h0M41.5 26.5h1M34.5 27.5h0M62.5 27.5h0M4.5 28.5h0M23.5 28.5h0M41.5 28.5h0M14.5 29.5h0M22.5 29.5h0M32.5 29.5h0M2.5 30.5h0M0.5 31.5h0M34.5 31.5h0M40.5 31.5h1M56.5 31.5h0M1.5 32.5h0M7.5 32.5h0M11.5 32.5h0M23.5 32.5h0M38.5 32.5h0M41.5 32.5h0M5.5 33.5h0M8.5 33.5h0M11.5 33.5h0M37.5 33.5h0M12.5 34.5h0M22.5 34.5h0M35.5 34.5h0M43.5 34.5h0M59.5 34.5h1M8.5 35.5h0M12.5 35.5h0M34.5 35.5h0M40.5 35.5h0M57.5 35.5h0M21.5 36.5h0M32.5 36.5h0M53.5 36.5h0M58.5 36.5h0M8.5 37.5h0M15.5 37.5h0M34.5 37.5h0M46.5 37.5h0M52.5 37.5h0M54.5 37.5h0M23.5 38.5h0M33.5 38.5h0M36.5 38.5h0M42.5 38.5h1M51.5 38.5h0M53.5 38.5h0M55.5 38.5h0M25.5 39.5h0M32.5 39.5h0M44.5 39.5h0M14.5 40.5h0M24.5 40.5h0M58.5 40.5h0M11.5 41.5h0M24.5 41.5h0M35.5 41.5h0M45.5 41.5h0M24.5 42.5h0M31.5 42.5h0M7.5 43.5h0M12.5 43.5h0M31.5 43.5h0M13.5 44.5h0M30.5 44.5h0M14.5 45.5h0M17.5 45.5h0M54.5 45.5h0M8.5 46.5h0M1.5 47.5h0M29.5 47.5h0M48.5 47.5h0M50.5 47.5h0M7.5 48.5h0M9.5 48.5h0M11.5 48.5h0M36.5 48.5h0M49.5 48.5h0M11.5 49.5h0M24.5 49.5h0M2.5 50.5h0M8.5 50.5h0M21.5 50.5h0M39.5 50.5h0M50.5 50.5h0M60.5 50.5h0M1.5 51.5h0M3.5 51.5h0M55.5 51.5h1M6.5 52.5h0M38.5 52.5h0M17.5 53.5h0M19.5 53.5h0M35.5 54.5h0M18.5 55.5h1M10.5 56.5h0M12.5 56.5h0M14.5 56.5h0M17.5 56.5h0M35.5 56.5h0M39.5 56.5h0M16.5 57.5h0M36.5 57.5h0M49.5 57.5h0M54.5 57.5h2M59.5 57.5h0M35.5 59.5h1M50.5 59.5h0M26.5 60.5h0M35.5 60.5h0M40.5 60.5h0M35.5 61.5h0M50.5 61.5h0M11.5 62.5h0M36.5 62.5h1M22.5 63.5h0M38.5 63.5h0"/><path stroke="#d6ee9b" d="M0.5 0.5h0M20.5 0.5h0M44.5 0.5h0M21.5 1.5h1M30.5 1.5h0M44.5 1.5h0M51.5 1.5h0M28.5 2.5h2M43.5 2.5h0M47.5 2.5h1M17.5 3.5h2M37.5 3.5h0M44.5 3.5h1M55.5 3.5h0M36.5 4.5h0M50.5 4.5h0M9.5 5.5h0M15.5 5.5h0M52.5 5.5h0M13.5 6.5h0M44.5 6.5h0M50.5 6.5h0M14.5 7.5h1M17.5 7.5h0M50.5 7.5h0M45.5 8.5h0M52.5 8.5h0M16.5 9.5h1M19.5 9.5h0M49.5 9.5h0M53.5 9.5h0M47.5 10.5h0M55.5 10.5h0M16.5 11.5h0M19.5 11.5h0M46.5 11.5h0M48.5 11.5h1M46.5 12.5h0M49.5 12.5h0M56.5 12.5h0M3.5 13.5h0M15.5 13.5h0M17.5 13.5h0M45.5 13.5h0M47.5 13.5h0M51.5 13.5h0M54.5 13.5h0M2.5 14.5h0M15.5 14.5h0M48.5 14.5h2M53.5 14.5h0M56.5 14.5h0M0.5 15.5h0M5.5 15.5h0M13.5 15.5h0M17.5 15.5h0M22.5 15.5h0M55.5 15.5h0M1.5 16.5h2M9.5 16.5h0M19.5 16.5h0M21.5 16.5h0M52.5 16.5h0M58.5 16.5h0M5.5 17.5h0M8.5 17.5h3M14.5 17.5h0M57.5 17.5h1M4.5 18.5h1M7.5 18.5h0M10.5 18.5h0M12.5 18.5h0M5.5 19.5h1M32.5 19.5h0M36.5 19.5h0M12.5 20.5h0M30.5 20.5h0M57.5 20.5h0M7.5 21.5h0M30.5 21.5h2M39.5 21.5h1M62.5 21.5h0M11.5 22.5h0M40.5 22.5h0M62.5 22.5h0M1.5 23.5h1M12.5 23.5h1M27.5 23.5h0M35.5 23.5h0M56.5 23.5h0M1.5 24.5h1M12.5 24.5h0M14.5 24.5h0M28.5 24.5h0M31.5 24.5h0M40.5 24.5h0M42.5 24.5h0M57.5 24.5h0M62.5 24.5h0M1.5 25.5h0M4.5 25.5h0M25.5 25.5h0M27.5 25.5h0M1.5 26.5h0M35.5 26.5h0M38.5 26.5h0M61.5 26.5h1M23.5 27.5h0M25.5 27.5h0M30.5 27.5h0M32.5 27.5h0M40.5 27.5h0M57.5 27.5h0M14.5 28.5h0M32.5 28.5h0M56.5 28.5h1M59.5 28.5h0M4.5 29.5h0M25.5 29.5h0M33.5 29.5h2M40.5 29.5h1M56.5 29.5h2M4.5 30.5h0M14.5 30.5h0M36.5 30.5h0M4.5 31.5h1M10.5 31.5h0M13.5 31.5h1M54.5 31.5h0M2.5 32.5h0M8.5 32.5h0M10.5 32.5h0M15.5 32.5h0M24.5 32.5h0M35.5 32.5h0M37.5 32.5h0M39.5 32.5h0M57.5 32.5h0M0.5 33.5h0M4.5 33.5h0M9.5 33.5h0M12.5 33.5h1M35.5 33.5h0M58.5 33.5h0M1.5 34.5h0M57.5 34.5h0M61.5 34.5h0M1.5 35.5h0M3.5 35.5h0M5.5 35.5h0M14.5 35.5h0M30.5 35.5h0M7.5 36.5h0M11.5 36.5h1M54.5 36.5h0M56.5 36.5h0M12.5 37.5h0M22.5 37.5h0M28.5 37.5h0M49.5 37.5h0M8.5 38.5h0M14.5 38.5h0M27.5 38.5h0M29.5 38.5h0M32.5 38.5h0M44.5 38.5h0M12.5 39.5h0M22.5 40.5h0M45.5 40.5h0M56.5 40.5h1M13.5 41.5h0M22.5 41.5h0M25.5 41.5h1M29.5 41.5h0M31.5 41.5h1M57.5 41.5h0M21.5 42.5h0M26.5 42.5h0M45.5 42.5h0M59.5 42.5h0M20.5 43.5h2M47.5 43.5h0M24.5 44.5h0M26.5 44.5h0M29.5 44.5h0M46.5 44.5h1M7.5 45.5h0M12.5 45.5h1M18.5 45.5h0M29.5 45.5h0M50.5 45.5h1M5.5 46.5h0M50.5 46.5h0M53.5 46.5h0M4.5 47.5h0M9.5 47.5h1M21.5 47.5h0M25.5 47.5h0M1.5 48.5h0M10.5 48.5h0M12.5 48.5h0M23.5 48.5h1M26.5 48.5h0M51.5 48.5h0M63.5 48.5h0M3.5 49.5h0M6.5 49.5h0M22.5 49.5h0M25.5 49.5h0M61.5 49.5h0M1.5 50.5h0M4.5 50.5h0M6.5 50.5h0M9.5 50.5h1M20.5 50.5h0M26.5 50.5h0M62.5 50.5h1M4.5 51.5h0M19.5 51.5h0M9.5 52.5h0M10.5 53.5h0M37.5 53.5h1M37.5 54.5h1M10.5 55.5h0M36.5 55.5h0M40.5 55.5h0M59.5 55.5h0M38.5 56.5h0M35.5 57.5h0M56.5 58.5h0M49.5 59.5h0M51.5 59.5h0M39.5 61.5h0M46.5 61.5h0"/><path stroke="#bae3a1" d="M23.5 0.5h0M30.5 0.5h0M48.5 0.5h0M52.5 0.5h1M19.5 1.5h1M23.5 1.5h0M25.5 1.5h0M31.5 1.5h0M37.5 1.5h0M54.5 1.5h0M19.5 2.5h0M25.5 2.5h0M31.5 2.5h0M44.5 2.5h1M49.5 2.5h0M31.5 3.5h0M34.5 3.5h1M51.5 3.5h0M18.5 4.5h1M26.5 4.5h0M28.5 4.5h0M38.5 4.5h0M52.5 4.5h0M54.5 4.5h0M39.5 5.5h0M17.5 6.5h0M49.5 6.5h0M53.5 6.5h0M18.5 7.5h0M48.5 7.5h0M14.5 8.5h0M17.5 8.5h0M19.5 8.5h0M44.5 8.5h0M18.5 9.5h0M27.5 9.5h0M48.5 9.5h0M44.5 10.5h2M53.5 10.5h0M26.5 11.5h0M50.5 11.5h0M4.5 12.5h0M25.5 12.5h0M42.5 12.5h0M45.5 12.5h0M13.5 13.5h0M0.5 14.5h1M5.5 14.5h0M17.5 14.5h0M41.5 14.5h0M45.5 14.5h0M54.5 14.5h1M7.5 15.5h0M16.5 15.5h0M21.5 15.5h0M23.5 15.5h0M45.5 15.5h0M52.5 15.5h0M4.5 16.5h0M13.5 16.5h1M54.5 16.5h1M1.5 17.5h0M9.5 18.5h0M54.5 18.5h1M57.5 18.5h1M3.5 19.5h0M7.5 19.5h1M11.5 19.5h0M26.5 19.5h0M37.5 19.5h0M39.5 19.5h0M56.5 20.5h0M58.5 20.5h0M60.5 20.5h0M63.5 20.5h0M0.5 21.5h0M5.5 21.5h1M8.5 21.5h0M10.5 21.5h0M58.5 21.5h0M6.5 22.5h0M10.5 23.5h0M31.5 23.5h1M62.5 23.5h0M29.5 24.5h0M39.5 24.5h0M41.5 24.5h0M56.5 24.5h0M28.5 25.5h0M2.5 26.5h0M24.5 26.5h0M26.5 26.5h1M33.5 26.5h1M36.5 26.5h0M60.5 26.5h0M27.5 27.5h0M31.5 27.5h0M35.5 27.5h1M38.5 27.5h0M56.5 27.5h0M58.5 27.5h0M63.5 27.5h0M35.5 28.5h0M37.5 28.5h0M40.5 28.5h0M13.5 29.5h0M24.5 29.5h0M31.5 29.5h0M55.5 29.5h0M9.5 30.5h0M11.5 30.5h0M37.5 31.5h0M4.5 32.5h0M9.5 32.5h0M13.5 32.5h0M61.5 32.5h0M2.5 33.5h1M6.5 33.5h1M2.5 34.5h0M14.5 34.5h0M23.5 34.5h0M32.5 34.5h0M62.5 34.5h0M13.5 35.5h0M24.5 35.5h0M14.5 36.5h0M23.5 36.5h0M29.5 36.5h0M33.5 36.5h0M13.5 37.5h0M23.5 37.5h0M27.5 37.5h0M26.5 38.5h0M28.5 38.5h0M31.5 38.5h0M45.5 38.5h0M48.5 38.5h2M21.5 39.5h1M45.5 39.5h0M56.5 39.5h1M28.5 40.5h0M44.5 40.5h0M23.5 41.5h0M30.5 41.5h0M28.5 42.5h0M46.5 42.5h0M27.5 43.5h2M48.5 43.5h0M55.5 43.5h0M10.5 44.5h0M25.5 44.5h0M49.5 44.5h0M51.5 44.5h0M54.5 44.5h0M28.5 45.5h0M48.5 45.5h1M28.5 46.5h1M51.5 46.5h1M63.5 46.5h0M11.5 47.5h3M17.5 47.5h0M24.5 47.5h0M26.5 47.5h0M53.5 47.5h0M55.5 47.5h0M3.5 48.5h0M8.5 48.5h0M1.5 49.5h0M5.5 49.5h0M7.5 49.5h2M50.5 49.5h0M54.5 49.5h1M59.5 49.5h0M62.5 49.5h0M3.5 50.5h0M54.5 50.5h0M56.5 50.5h1M6.5 51.5h0M10.5 51.5h0M7.5 52.5h0M19.5 52.5h0M7.5 53.5h1M9.5 54.5h0M18.5 54.5h0M39.5 55.5h0M13.5 56.5h0M15.5 56.5h0M36.5 58.5h1M51.5 58.5h0M54.5 58.5h0M57.5 58.5h0M54.5 60.5h0M11.5 63.5h0M37.5 63.5h0"/><path stroke="#99d6a4" d="M22.5 0.5h0M27.5 0.5h1M45.5 0.5h0M49.5 0.5h0M26.5 1.5h2M53.5 1.5h0M20.5 2.5h1M52.5 2.5h0M20.5 3.5h1M26.5 3.5h1M32.5 3.5h0M17.5 4.5h0M41.5 4.5h0M53.5 4.5h0M19.5 5.5h0M27.5 5.5h0M43.5 5.5h0M53.5 5.5h0M51.5 6.5h1M49.5 7.5h0M52.5 7.5h0M20.5 8.5h0M48.5 8.5h0M53.5 8.5h0M44.5 9.5h0M50.5 9.5h1M17.5 10.5h1M50.5 10.5h0M52.5 10.5h0M14.5 11.5h0M41.5 11.5h0M43.5 11.5h0M52.5 11.5h1M16.5 12.5h1M44.5 12.5h0M47.5 12.5h0M53.5 12.5h0M2.5 13.5h0M14.5 13.5h0M16.5 13.5h0M19.5 13.5h0M24.5 13.5h0M42.5 13.5h1M46.5 13.5h0M48.5 13.5h0M53.5 13.5h0M3.5 14.5h0M19.5 14.5h0M23.5 14.5h0M42.5 14.5h0M51.5 14.5h1M2.5 15.5h0M20.5 15.5h0M53.5 15.5h0M4.5 17.5h0M6.5 17.5h0M54.5 17.5h0M56.5 18.5h0M0.5 19.5h0M2.5 19.5h0M4.5 19.5h0M9.5 19.5h0M31.5 19.5h0M57.5 19.5h0M9.5 20.5h0M32.5 20.5h0M35.5 20.5h0M59.5 20.5h0M4.5 21.5h0M9.5 21.5h0M33.5 21.5h0M57.5 21.5h0M60.5 21.5h0M0.5 22.5h0M5.5 22.5h0M7.5 22.5h0M9.5 22.5h1M28.5 22.5h0M31.5 22.5h0M33.5 22.5h1M58.5 22.5h0M61.5 22.5h0M63.5 22.5h0M4.5 23.5h0M7.5 23.5h0M30.5 23.5h0M39.5 23.5h0M57.5 23.5h1M63.5 23.5h0M10.5 24.5h0M27.5 24.5h0M30.5 24.5h0M36.5 24.5h2M61.5 24.5h0M24.5 25.5h0M26.5 25.5h0M30.5 25.5h0M32.5 25.5h0M37.5 25.5h0M39.5 25.5h1M59.5 25.5h1M63.5 25.5h0M11.5 26.5h0M28.5 26.5h0M37.5 26.5h0M39.5 26.5h0M57.5 26.5h0M59.5 26.5h0M3.5 27.5h0M13.5 27.5h1M28.5 27.5h1M5.5 28.5h0M13.5 28.5h0M31.5 28.5h0M5.5 29.5h0M26.5 29.5h1M60.5 29.5h1M32.5 30.5h0M35.5 30.5h0M38.5 30.5h1M57.5 30.5h0M59.5 30.5h0M7.5 31.5h0M9.5 31.5h0M12.5 31.5h0M24.5 31.5h0M32.5 31.5h1M36.5 31.5h0M38.5 31.5h1M55.5 31.5h0M57.5 31.5h0M3.5 32.5h0M5.5 32.5h0M34.5 33.5h0M59.5 33.5h0M34.5 34.5h0M32.5 35.5h1M13.5 36.5h0M24.5 36.5h0M26.5 36.5h0M28.5 36.5h0M43.5 36.5h0M30.5 37.5h2M12.5 38.5h0M21.5 38.5h0M25.5 38.5h0M30.5 38.5h0M47.5 38.5h0M24.5 39.5h0M27.5 39.5h0M29.5 39.5h1M51.5 39.5h0M54.5 39.5h1M23.5 40.5h0M31.5 40.5h0M28.5 41.5h0M53.5 41.5h0M56.5 41.5h0M23.5 42.5h0M29.5 42.5h0M49.5 42.5h0M55.5 42.5h0M24.5 43.5h1M46.5 43.5h0M49.5 43.5h0M57.5 43.5h0M19.5 44.5h3M27.5 44.5h0M48.5 44.5h0M50.5 44.5h0M53.5 44.5h0M59.5 44.5h0M25.5 45.5h0M52.5 45.5h1M61.5 45.5h0M11.5 46.5h1M14.5 46.5h1M17.5 46.5h0M19.5 46.5h0M24.5 46.5h0M56.5 46.5h0M62.5 46.5h0M8.5 47.5h0M16.5 47.5h0M18.5 47.5h0M27.5 47.5h0M51.5 47.5h0M63.5 47.5h0M22.5 48.5h0M25.5 48.5h0M50.5 48.5h0M54.5 48.5h0M60.5 48.5h0M62.5 48.5h0M0.5 49.5h0M2.5 49.5h0M4.5 49.5h0M57.5 49.5h0M60.5 49.5h0M5.5 50.5h0M61.5 50.5h0M12.5 53.5h0M18.5 53.5h0M10.5 54.5h1M36.5 54.5h0M11.5 55.5h1M14.5 55.5h1M37.5 57.5h0M52.5 57.5h0M49.5 58.5h1M53.5 58.5h0M55.5 58.5h0M37.5 59.5h1M53.5 59.5h0M37.5 60.5h0"/><path stroke="#76c8a5" d="M21.5 0.5h0M24.5 0.5h0M37.5 0.5h0M47.5 0.5h0M29.5 1.5h0M36.5 1.5h0M22.5 2.5h1M26.5 2.5h1M33.5 2.5h0M36.5 2.5h1M22.5 3.5h0M50.5 3.5h0M27.5 4.5h0M40.5 4.5h0M51.5 4.5h0M18.5 5.5h0M21.5 5.5h0M40.5 5.5h0M42.5 5.5h0M50.5 5.5h1M20.5 6.5h0M27.5 6.5h0M40.5 6.5h0M43.5 6.5h0M40.5 7.5h0M44.5 7.5h0M53.5 7.5h0M27.5 8.5h0M41.5 8.5h0M49.5 8.5h0M20.5 9.5h0M43.5 9.5h0M52.5 9.5h0M20.5 10.5h0M27.5 10.5h0M40.5 10.5h0M51.5 10.5h0M18.5 11.5h0M24.5 11.5h1M44.5 11.5h0M24.5 12.5h0M41.5 12.5h0M51.5 12.5h0M54.5 12.5h0M18.5 13.5h0M23.5 13.5h0M44.5 13.5h0M52.5 13.5h0M14.5 14.5h0M18.5 14.5h0M46.5 14.5h0M3.5 15.5h0M54.5 15.5h0M7.5 17.5h0M55.5 17.5h1M0.5 18.5h0M3.5 18.5h0M8.5 18.5h0M1.5 19.5h0M56.5 19.5h0M0.5 20.5h0M2.5 20.5h0M6.5 20.5h0M33.5 20.5h0M38.5 20.5h0M3.5 22.5h0M36.5 22.5h0M39.5 22.5h0M60.5 22.5h0M0.5 23.5h0M3.5 23.5h0M8.5 23.5h0M11.5 23.5h0M40.5 23.5h0M59.5 23.5h2M0.5 24.5h0M32.5 24.5h0M2.5 25.5h0M31.5 25.5h0M38.5 25.5h0M3.5 26.5h0M10.5 26.5h0M31.5 26.5h0M4.5 27.5h0M26.5 27.5h0M37.5 27.5h0M36.5 28.5h0M38.5 28.5h1M60.5 28.5h0M12.5 29.5h0M39.5 29.5h0M63.5 29.5h0M5.5 30.5h0M8.5 30.5h0M12.5 30.5h0M24.5 30.5h0M33.5 30.5h0M58.5 30.5h0M61.5 30.5h0M8.5 31.5h0M58.5 31.5h0M12.5 32.5h0M59.5 32.5h0M24.5 33.5h0M33.5 33.5h0M36.5 33.5h0M60.5 33.5h0M24.5 34.5h0M31.5 34.5h0M55.5 34.5h0M63.5 34.5h0M25.5 35.5h1M25.5 36.5h0M30.5 36.5h0M24.5 37.5h1M29.5 37.5h0M45.5 37.5h0M22.5 38.5h0M24.5 38.5h0M52.5 38.5h0M23.5 39.5h0M52.5 39.5h0M29.5 40.5h1M47.5 40.5h0M53.5 40.5h0M27.5 41.5h0M46.5 41.5h0M27.5 42.5h0M58.5 42.5h0M26.5 43.5h0M23.5 44.5h0M28.5 44.5h0M55.5 44.5h1M23.5 45.5h0M56.5 45.5h0M16.5 46.5h0M18.5 46.5h0M25.5 46.5h1M61.5 46.5h0M7.5 47.5h0M20.5 47.5h0M54.5 47.5h0M61.5 47.5h1M5.5 48.5h0M56.5 48.5h3M10.5 49.5h0M13.5 49.5h0M21.5 49.5h0M52.5 49.5h1M58.5 49.5h0M63.5 49.5h0M11.5 50.5h0M53.5 50.5h0M10.5 52.5h0M17.5 52.5h0M16.5 55.5h0M37.5 55.5h0M36.5 56.5h1M52.5 58.5h0M52.5 59.5h0"/><path stroke="#58b2ac" d="M25.5 0.5h0M29.5 0.5h0M31.5 0.5h0M47.5 1.5h0M24.5 2.5h0M34.5 2.5h0M46.5 2.5h0M51.5 2.5h0M53.5 2.5h0M23.5 3.5h0M20.5 4.5h0M22.5 4.5h0M22.5 5.5h0M18.5 6.5h1M27.5 7.5h0M51.5 7.5h0M21.5 9.5h0M19.5 10.5h0M21.5 10.5h1M24.5 10.5h0M42.5 10.5h0M51.5 11.5h0M19.5 12.5h0M23.5 12.5h0M21.5 13.5h1M1.5 20.5h0M4.5 20.5h0M34.5 20.5h0M36.5 20.5h0M1.5 21.5h2M34.5 21.5h0M38.5 21.5h0M1.5 22.5h1M4.5 22.5h0M35.5 22.5h0M59.5 22.5h0M6.5 23.5h0M33.5 23.5h0M36.5 23.5h0M8.5 24.5h0M11.5 24.5h0M33.5 24.5h0M58.5 24.5h2M11.5 25.5h0M29.5 25.5h0M33.5 25.5h1M36.5 25.5h0M57.5 25.5h1M4.5 26.5h0M13.5 26.5h0M40.5 26.5h0M58.5 26.5h0M5.5 27.5h0M41.5 27.5h0M61.5 27.5h0M25.5 28.5h0M27.5 28.5h0M61.5 28.5h1M7.5 29.5h0M38.5 29.5h0M59.5 29.5h0M62.5 29.5h0M6.5 30.5h0M10.5 30.5h0M13.5 30.5h0M25.5 30.5h0M31.5 30.5h0M60.5 30.5h0M62.5 30.5h0M31.5 31.5h0M59.5 31.5h0M6.5 32.5h0M31.5 32.5h0M60.5 32.5h0M14.5 33.5h0M25.5 33.5h0M29.5 33.5h0M32.5 33.5h0M63.5 33.5h0M28.5 34.5h0M29.5 35.5h0M26.5 37.5h0M46.5 39.5h3M25.5 40.5h1M55.5 40.5h0M25.5 42.5h0M47.5 42.5h0M56.5 42.5h0M30.5 43.5h0M56.5 43.5h0M52.5 44.5h0M58.5 44.5h0M19.5 45.5h0M22.5 45.5h0M24.5 45.5h0M27.5 45.5h0M60.5 45.5h0M22.5 46.5h0M57.5 46.5h0M60.5 46.5h0M15.5 47.5h0M23.5 47.5h0M52.5 47.5h0M56.5 47.5h0M4.5 48.5h0M6.5 48.5h0M18.5 48.5h1M52.5 48.5h0M55.5 48.5h0M61.5 48.5h0M12.5 49.5h0M19.5 49.5h1M13.5 50.5h0M17.5 50.5h0M19.5 50.5h0M7.5 51.5h0M9.5 51.5h0M11.5 51.5h1M16.5 51.5h0M18.5 51.5h0M11.5 52.5h0M18.5 52.5h0M11.5 53.5h0M12.5 54.5h0M14.5 54.5h0M16.5 54.5h0M13.5 55.5h0M38.5 55.5h0M38.5 57.5h0M54.5 59.5h0"/><path stroke="#3d95b8" d="M46.5 0.5h0M24.5 1.5h0M32.5 1.5h0M35.5 1.5h0M46.5 1.5h0M32.5 2.5h0M35.5 2.5h0M24.5 3.5h1M19.5 7.5h0M21.5 7.5h0M23.5 7.5h0M26.5 7.5h0M43.5 7.5h0M21.5 8.5h0M26.5 9.5h0M43.5 10.5h0M20.5 11.5h0M22.5 11.5h0M20.5 12.5h0M43.5 12.5h0M52.5 12.5h0M20.5 14.5h0M22.5 14.5h0M44.5 14.5h0M19.5 15.5h0M3.5 20.5h0M8.5 22.5h0M34.5 23.5h0M5.5 24.5h0M7.5 24.5h0M34.5 24.5h1M3.5 25.5h0M5.5 25.5h0M10.5 25.5h0M12.5 27.5h0M39.5 27.5h0M8.5 28.5h1M11.5 28.5h0M28.5 28.5h0M30.5 28.5h0M8.5 29.5h0M29.5 29.5h0M7.5 30.5h0M26.5 30.5h0M37.5 30.5h0M6.5 31.5h0M25.5 31.5h0M27.5 31.5h0M32.5 32.5h0M63.5 32.5h0M61.5 33.5h1M25.5 34.5h0M29.5 34.5h1M33.5 34.5h0M27.5 35.5h1M31.5 35.5h0M27.5 36.5h0M53.5 39.5h0M46.5 40.5h0M50.5 40.5h0M54.5 40.5h0M47.5 41.5h0M51.5 41.5h0M54.5 41.5h1M51.5 42.5h1M54.5 42.5h0M23.5 43.5h0M52.5 43.5h0M54.5 43.5h0M55.5 45.5h0M59.5 45.5h0M23.5 46.5h0M55.5 46.5h0M19.5 47.5h0M59.5 47.5h1M13.5 48.5h1M20.5 48.5h0M53.5 48.5h0M14.5 49.5h0M17.5 49.5h0M51.5 49.5h0M16.5 50.5h0M18.5 50.5h0M8.5 51.5h0M15.5 51.5h0M13.5 52.5h1M14.5 53.5h0M55.5 59.5h0M53.5 60.5h0"/><path stroke="#3d79b6" d="M26.5 0.5h0M45.5 1.5h0M23.5 4.5h1M20.5 5.5h0M24.5 5.5h0M41.5 5.5h0M41.5 7.5h0M26.5 8.5h0M43.5 8.5h0M25.5 10.5h1M21.5 11.5h0M37.5 20.5h0M36.5 21.5h0M37.5 22.5h1M5.5 23.5h0M37.5 23.5h1M3.5 24.5h1M6.5 24.5h0M9.5 24.5h0M7.5 25.5h0M12.5 26.5h0M29.5 26.5h1M11.5 27.5h0M59.5 27.5h1M12.5 28.5h0M26.5 28.5h0M29.5 28.5h0M58.5 28.5h0M63.5 28.5h0M37.5 29.5h0M27.5 30.5h0M11.5 31.5h0M60.5 31.5h1M63.5 31.5h0M28.5 32.5h2M62.5 32.5h0M26.5 34.5h0M50.5 39.5h0M51.5 40.5h1M52.5 41.5h0M48.5 42.5h0M53.5 42.5h0M57.5 42.5h0M51.5 43.5h0M58.5 43.5h0M21.5 45.5h0M58.5 45.5h0M20.5 46.5h0M54.5 46.5h0M59.5 46.5h0M58.5 47.5h0M15.5 48.5h0M17.5 48.5h0M21.5 48.5h0M16.5 49.5h0M18.5 49.5h0M12.5 50.5h0M14.5 51.5h0M17.5 51.5h0M12.5 52.5h0M16.5 52.5h0M13.5 53.5h0M13.5 54.5h0"/><path stroke="#545ca8" d="M32.5 0.5h3M33.5 1.5h1M21.5 4.5h0M25.5 4.5h0M23.5 5.5h0M25.5 5.5h1M21.5 6.5h5M41.5 6.5h1M20.5 7.5h0M22.5 7.5h0M24.5 7.5h1M42.5 7.5h0M22.5 8.5h3M42.5 8.5h0M22.5 9.5h3M41.5 9.5h1M23.5 10.5h0M41.5 10.5h0M23.5 11.5h0M42.5 11.5h0M21.5 12.5h1M20.5 13.5h0M21.5 14.5h0M35.5 21.5h0M37.5 21.5h0M9.5 23.5h0M6.5 25.5h0M8.5 25.5h1M5.5 26.5h4M6.5 27.5h4M6.5 28.5h1M10.5 28.5h0M6.5 29.5h0M9.5 29.5h2M28.5 29.5h0M30.5 29.5h0M28.5 30.5h2M63.5 30.5h0M26.5 31.5h0M28.5 31.5h2M62.5 31.5h0M25.5 32.5h2M26.5 33.5h2M30.5 33.5h1M27.5 34.5h0M48.5 40.5h1M48.5 41.5h2M50.5 42.5h0M50.5 43.5h0M53.5 43.5h0M57.5 44.5h0M20.5 45.5h0M57.5 45.5h0M21.5 46.5h0M58.5 46.5h0M22.5 47.5h0M57.5 47.5h0M16.5 48.5h0M15.5 49.5h0M56.5 49.5h0M14.5 50.5h1M13.5 51.5h0M15.5 52.5h0M15.5 53.5h1M15.5 54.5h0"/></g></g>
<filter id="nz" x="0" y="0" width="100%" height="100%"><feTurbulence type="fractalNoise" baseFrequency="0.55" numOctaves="1" seed="5" result="t"/><feDisplacementMap in="SourceGraphic" in2="t" scale="5" xChannelSelector="R" yChannelSelector="G" result="d"/><feMerge><feMergeNode in="SourceGraphic"/><feMergeNode in="d"/></feMerge></filter></defs>
<svg x="30.3" y="684.0" width="163.0" height="162.3" viewBox="0 0 100 100" preserveAspectRatio="none"><use href="#fA"/></svg>
<rect x="30.3" y="684.0" width="163.0" height="162.3" fill="none" stroke="#888" stroke-width="0.60"/>
<svg x="30.3" y="877.2" width="162.5" height="162.4" viewBox="0 0 64 64" preserveAspectRatio="none"><use href="#fO"/></svg>
<rect x="30.3" y="877.2" width="162.5" height="162.4" fill="none" stroke="#888" stroke-width="0.60"/>
<svg x="202.2" y="662.6" width="194.2" height="194.2" viewBox="0 0 100 100" preserveAspectRatio="none"><use href="#fA"/></svg>
<rect x="202.2" y="662.6" width="194.2" height="194.2" fill="none" stroke="#8a8a8a" stroke-width="0.60"/>
<svg x="406.2" y="676.3" width="64.6" height="64.6" viewBox="70.5 28.4 18.7 18.7" preserveAspectRatio="none"><use href="#fA"/></svg>
<rect x="406.2" y="676.3" width="64.6" height="64.6" fill="none" stroke="#6a6a6a" stroke-width="0.90"/>
<rect x="339.1" y="717.8" width="36.3" height="36.3" fill="none" stroke="#6a6a6a" stroke-width="1.00"/>
<path d="M339.1 717.8L406.2 676.3M375.4 754.1L470.8 740.9" stroke="#6a6a6a" stroke-width="0.8" fill="none"/>
<svg x="406.2" y="773.0" width="64.6" height="64.6" viewBox="39.2 47.2 19 19" preserveAspectRatio="none"><use href="#fA"/></svg>
<rect x="406.2" y="773.0" width="64.6" height="64.6" fill="none" stroke="#6a6a6a" stroke-width="0.90"/>
<rect x="278.3" y="754.3" width="36.9" height="36.9" fill="none" stroke="#6a6a6a" stroke-width="1.00"/>
<path d="M315.2 754.3L470.8 773.0M278.3 791.2L406.2 837.6" stroke="#6a6a6a" stroke-width="0.8" fill="none"/>
<g filter="url(#nz)"><svg x="482.2" y="662.8" width="194.4" height="194.4" viewBox="0 0 100 100" preserveAspectRatio="none"><use href="#fA"/></svg></g>
<rect x="482.2" y="662.8" width="194.4" height="194.4" fill="none" stroke="#8a8a8a" stroke-width="0.60"/>
<g filter="url(#nz)"><svg x="686.0" y="676.4" width="64.7" height="64.7" viewBox="70.5 28.4 18.7 18.7" preserveAspectRatio="none"><use href="#fA"/></svg></g>
<rect x="686.0" y="676.4" width="64.7" height="64.7" fill="none" stroke="#6a6a6a" stroke-width="0.90"/>
<rect x="619.3" y="718.0" width="36.4" height="36.4" fill="none" stroke="#6a6a6a" stroke-width="1.00"/>
<path d="M619.3 718.0L686.0 676.4M655.6 754.4L750.7 741.1" stroke="#6a6a6a" stroke-width="0.8" fill="none"/>
<g filter="url(#nz)"><svg x="686.0" y="773.0" width="64.7" height="64.7" viewBox="39.2 47.2 19 19" preserveAspectRatio="none"><use href="#fA"/></svg></g>
<rect x="686.0" y="773.0" width="64.7" height="64.7" fill="none" stroke="#6a6a6a" stroke-width="0.90"/>
<rect x="558.4" y="754.6" width="36.9" height="36.9" fill="none" stroke="#6a6a6a" stroke-width="1.00"/>
<path d="M595.3 754.6L750.7 773.0M558.4 791.5L686.0 837.7" stroke="#6a6a6a" stroke-width="0.8" fill="none"/>
<svg x="770.0" y="665.4" width="192.8" height="192.8" viewBox="0 0 100 100" preserveAspectRatio="none"><use href="#fB"/></svg>
<rect x="770.0" y="665.4" width="192.8" height="192.8" fill="none" stroke="#8a8a8a" stroke-width="0.60"/>
<svg x="972.0" y="679.0" width="64.8" height="64.8" viewBox="70.5 28.4 18.7 18.7" preserveAspectRatio="none"><use href="#fB"/></svg>
<rect x="972.0" y="679.0" width="64.8" height="64.8" fill="none" stroke="#6a6a6a" stroke-width="0.90"/>
<rect x="905.9" y="720.2" width="36.1" height="36.1" fill="none" stroke="#6a6a6a" stroke-width="1.00"/>
<path d="M942.0 720.2L1036.8 679.0M905.9 756.2L972.0 743.8" stroke="#6a6a6a" stroke-width="0.8" fill="none"/>
<svg x="972.0" y="775.0" width="64.8" height="64.8" viewBox="39.2 47.2 19 19" preserveAspectRatio="none"><use href="#fB"/></svg>
<rect x="972.0" y="775.0" width="64.8" height="64.8" fill="none" stroke="#6a6a6a" stroke-width="0.90"/>
<rect x="845.6" y="756.4" width="36.6" height="36.6" fill="none" stroke="#6a6a6a" stroke-width="1.00"/>
<path d="M845.6 756.4L972.0 775.0M882.2 793.0L1036.8 839.8" stroke="#6a6a6a" stroke-width="0.8" fill="none"/>
<svg x="202.2" y="860.8" width="194.2" height="194.2" viewBox="0 0 100 100" preserveAspectRatio="none"><use href="#fA"/></svg>
<rect x="202.2" y="860.8" width="194.2" height="194.2" fill="none" stroke="#8a8a8a" stroke-width="0.60"/>
<svg x="406.2" y="874.3" width="64.6" height="64.6" viewBox="70.5 28.4 18.7 18.7" preserveAspectRatio="none"><use href="#fA"/></svg>
<rect x="406.2" y="874.3" width="64.6" height="64.6" fill="none" stroke="#6a6a6a" stroke-width="0.90"/>
<rect x="339.1" y="916.0" width="36.3" height="36.3" fill="none" stroke="#6a6a6a" stroke-width="1.00"/>
<path d="M339.1 916.0L406.2 874.3M375.4 952.3L470.8 938.9" stroke="#6a6a6a" stroke-width="0.8" fill="none"/>
<svg x="406.2" y="971.0" width="64.6" height="64.6" viewBox="39.2 47.2 19 19" preserveAspectRatio="none"><use href="#fA"/></svg>
<rect x="406.2" y="971.0" width="64.6" height="64.6" fill="none" stroke="#6a6a6a" stroke-width="0.90"/>
<rect x="278.3" y="952.5" width="36.9" height="36.9" fill="none" stroke="#6a6a6a" stroke-width="1.00"/>
<path d="M315.2 952.5L470.8 971.0M278.3 989.4L406.2 1035.6" stroke="#6a6a6a" stroke-width="0.8" fill="none"/>
<g filter="url(#nz)"><svg x="482.2" y="861.0" width="194.4" height="194.4" viewBox="0 0 100 100" preserveAspectRatio="none"><use href="#fA"/></svg></g>
<rect x="482.2" y="861.0" width="194.4" height="194.4" fill="none" stroke="#8a8a8a" stroke-width="0.60"/>
<g filter="url(#nz)"><svg x="686.0" y="874.4" width="64.7" height="64.7" viewBox="70.5 28.4 18.7 18.7" preserveAspectRatio="none"><use href="#fA"/></svg></g>
<rect x="686.0" y="874.4" width="64.7" height="64.7" fill="none" stroke="#6a6a6a" stroke-width="0.90"/>
<rect x="619.3" y="916.2" width="36.4" height="36.4" fill="none" stroke="#6a6a6a" stroke-width="1.00"/>
<path d="M619.3 916.2L686.0 874.4M655.6 952.6L750.7 939.1" stroke="#6a6a6a" stroke-width="0.8" fill="none"/>
<g filter="url(#nz)"><svg x="686.0" y="971.0" width="64.7" height="64.7" viewBox="39.2 47.2 19 19" preserveAspectRatio="none"><use href="#fA"/></svg></g>
<rect x="686.0" y="971.0" width="64.7" height="64.7" fill="none" stroke="#6a6a6a" stroke-width="0.90"/>
<rect x="558.4" y="952.8" width="36.9" height="36.9" fill="none" stroke="#6a6a6a" stroke-width="1.00"/>
<path d="M595.3 952.8L750.7 971.0M558.4 989.7L686.0 1035.7" stroke="#6a6a6a" stroke-width="0.8" fill="none"/>
<svg x="770.0" y="863.6" width="192.8" height="192.8" viewBox="0 0 100 100" preserveAspectRatio="none"><use href="#fB"/></svg>
<rect x="770.0" y="863.6" width="192.8" height="192.8" fill="none" stroke="#8a8a8a" stroke-width="0.60"/>
<svg x="972.0" y="877.0" width="64.8" height="64.8" viewBox="70.5 28.4 18.7 18.7" preserveAspectRatio="none"><use href="#fB"/></svg>
<rect x="972.0" y="877.0" width="64.8" height="64.8" fill="none" stroke="#6a6a6a" stroke-width="0.90"/>
<rect x="905.9" y="918.4" width="36.1" height="36.1" fill="none" stroke="#6a6a6a" stroke-width="1.00"/>
<path d="M942.0 918.4L1036.8 877.0M905.9 954.4L972.0 941.8" stroke="#6a6a6a" stroke-width="0.8" fill="none"/>
<svg x="972.0" y="973.0" width="64.8" height="64.8" viewBox="39.2 47.2 19 19" preserveAspectRatio="none"><use href="#fB"/></svg>
<rect x="972.0" y="973.0" width="64.8" height="64.8" fill="none" stroke="#6a6a6a" stroke-width="0.90"/>
<rect x="845.6" y="954.6" width="36.6" height="36.6" fill="none" stroke="#6a6a6a" stroke-width="1.00"/>
<path d="M845.6 954.6L972.0 973.0M882.2 991.2L1036.8 1037.8" stroke="#6a6a6a" stroke-width="0.8" fill="none"/>
<defs><linearGradient id="cb"><stop offset="0.00" stop-color="#9e0142"/><stop offset="0.10" stop-color="#d43d4f"/><stop offset="0.20" stop-color="#f46d43"/><stop offset="0.30" stop-color="#fdad60"/><stop offset="0.40" stop-color="#fee08b"/><stop offset="0.50" stop-color="#ffffbe"/><stop offset="0.60" stop-color="#e6f598"/><stop offset="0.70" stop-color="#aadca4"/><stop offset="0.80" stop-color="#66c2a5"/><stop offset="0.90" stop-color="#3387bc"/><stop offset="1.00" stop-color="#5e4fa2"/></linearGradient></defs>
<rect x="44" y="1050.5" width="135" height="4.5" fill="url(#cb)"/>
<g font-family="DejaVu Sans, sans-serif" font-size="5" fill="#555" text-anchor="middle">
<text x="44.2" y="1063.3">−10</text>
<text x="77.9" y="1063.3">−5</text>
<text x="111.5" y="1063.3">0</text>
<text x="145.3" y="1063.3">5</text>
<text x="178.9" y="1063.3">10</text>
</g>
<g font-family="Liberation Sans, sans-serif" fill="#000">
<text x="49.2" y="675.3" font-size="21.8" textLength="122.2" lengthAdjust="spacingAndGlyphs">Observed GT</text>
<text x="48.4" y="870.6" font-size="21.8" textLength="115.1" lengthAdjust="spacingAndGlyphs">Observation</text>
<text x="277.8" y="655.8" font-size="21.8" textLength="45.3" lengthAdjust="spacingAndGlyphs">Ours</text>
<text x="559.3" y="655.6" font-size="21.8" textLength="51.4" lengthAdjust="spacingAndGlyphs">EnKG</text>
<text x="834.6" y="656.3" font-size="21.8" textLength="95.3" lengthAdjust="spacingAndGlyphs">EKS w/ DP</text>
<text x="517.5" y="1097.0" font-size="20.3" textLength="24.6" lengthAdjust="spacingAndGlyphs">(b)</text>
<text x="1360.2" y="1094.6" font-size="18.6" textLength="22.2" lengthAdjust="spacingAndGlyphs">(c)</text>
</g>
<g stroke="#e2e2e2" stroke-width="0.9" stroke-dasharray="2.2,1.6">
<line x1="1183.3" y1="659.5" x2="1183.3" y2="1031.9"/>
<line x1="1277.4" y1="659.5" x2="1277.4" y2="1031.9"/>
<line x1="1371.5" y1="659.5" x2="1371.5" y2="1031.9"/>
<line x1="1465.6" y1="659.5" x2="1465.6" y2="1031.9"/>
<line x1="1559.7" y1="659.5" x2="1559.7" y2="1031.9"/>
<line x1="1106.0" y1="1015.9" x2="1621.5" y2="1015.9"/>
<line x1="1106.0" y1="944.7" x2="1621.5" y2="944.7"/>
<line x1="1106.0" y1="873.4" x2="1621.5" y2="873.4"/>
<line x1="1106.0" y1="802.2" x2="1621.5" y2="802.2"/>
<line x1="1106.0" y1="730.9" x2="1621.5" y2="730.9"/>
<line x1="1106.0" y1="659.7" x2="1621.5" y2="659.7"/>
</g>
<path d="M1106.0 659.2V1031.9H1621.5" fill="none" stroke="#555" stroke-width="1.1"/>
<path d="M1183.3 1031.9v3.5M1277.4 1031.9v3.5M1371.5 1031.9v3.5M1465.6 1031.9v3.5M1559.7 1031.9v3.5M1106.0 1015.9h-3.5M1106.0 944.7h-3.5M1106.0 873.4h-3.5M1106.0 802.2h-3.5M1106.0 730.9h-3.5M1106.0 659.7h-3.5" stroke="#555" stroke-width="0.9"/>
<g font-family="DejaVu Sans, sans-serif" font-size="10" fill="#262626">
<text x="1183.3" y="1047.5" text-anchor="middle">0.5</text>
<text x="1277.4" y="1047.5" text-anchor="middle">1.0</text>
<text x="1371.5" y="1047.5" text-anchor="middle">1.5</text>
<text x="1465.6" y="1047.5" text-anchor="middle">2.0</text>
<text x="1559.7" y="1047.5" text-anchor="middle">2.5</text>
<text x="1099" y="1020.3" text-anchor="end">0.0</text>
<text x="1099" y="949.1" text-anchor="end">0.2</text>
<text x="1099" y="877.8" text-anchor="end">0.4</text>
<text x="1099" y="806.6" text-anchor="end">0.6</text>
<text x="1099" y="735.3" text-anchor="end">0.8</text>
<text x="1099" y="664.1" text-anchor="end">1.0</text>
</g>
<circle cx="1129.1" cy="676.4" r="12.0" fill="#c3b5d3" stroke="#fff" stroke-opacity="0.6" stroke-width="0.8"/>
<circle cx="1173.8" cy="677.8" r="12.0" fill="#c3b5d3" stroke="#fff" stroke-opacity="0.6" stroke-width="0.8"/>
<circle cx="1203.2" cy="677.8" r="12.0" fill="#c3b5d3" stroke="#fff" stroke-opacity="0.6" stroke-width="0.8"/>
<circle cx="1163.1" cy="957.8" r="14.1" fill="#b9e2ac" stroke="#fff" stroke-opacity="0.6" stroke-width="0.8"/>
<circle cx="1211.2" cy="961.2" r="14.1" fill="#b9e2ac" stroke="#fff" stroke-opacity="0.6" stroke-width="0.8"/>
<circle cx="1283.2" cy="964.4" r="14.1" fill="#b9e2ac" stroke="#fff" stroke-opacity="0.6" stroke-width="0.8"/>
<circle cx="1329.9" cy="994.2" r="10.0" fill="#d88085" stroke="#fff" stroke-opacity="0.6" stroke-width="0.8"/>
<circle cx="1355.3" cy="998.0" r="9.6" fill="#e9b9bf" stroke="#fff" stroke-opacity="0.6" stroke-width="0.8"/>
<circle cx="1391.3" cy="1015.2" r="9.3" fill="#e9b9bf" stroke="#fff" stroke-opacity="0.6" stroke-width="0.8"/>
<circle cx="1430.0" cy="1011.6" r="9.2" fill="#e9b9bf" stroke="#fff" stroke-opacity="0.6" stroke-width="0.8"/>
<circle cx="1413.6" cy="985.5" r="10.0" fill="#d88085" stroke="#fff" stroke-opacity="0.6" stroke-width="0.8"/>
<circle cx="1483.2" cy="987.6" r="10.0" fill="#d88085" stroke="#fff" stroke-opacity="0.6" stroke-width="0.8"/>
<circle cx="1447.0" cy="951.6" r="8.3" fill="#efc3a3" stroke="#fff" stroke-opacity="0.6" stroke-width="0.8"/>
<circle cx="1482.3" cy="938.0" r="8.3" fill="#efc3a3" stroke="#fff" stroke-opacity="0.6" stroke-width="0.8"/>
<circle cx="1513.9" cy="916.0" r="8.3" fill="#efc3a3" stroke="#fff" stroke-opacity="0.6" stroke-width="0.8"/>
<circle cx="1531.7" cy="973.7" r="13.8" fill="#a5b8e2" stroke="#fff" stroke-opacity="0.6" stroke-width="0.8"/>
<circle cx="1522.9" cy="1011.6" r="13.8" fill="#a5b8e2" stroke="#fff" stroke-opacity="0.6" stroke-width="0.8"/>
<circle cx="1597.7" cy="1012.1" r="13.8" fill="#a5b8e2" stroke="#fff" stroke-opacity="0.6" stroke-width="0.8"/>
<rect x="1446.5" y="667.5" width="166" height="176" rx="3" fill="#fff" fill-opacity="0.85" stroke="#d6d6d6" stroke-width="1"/>
<text x="1529" y="682.6" text-anchor="middle" font-family="DejaVu Sans, sans-serif" font-size="10" fill="#262626">Method</text>
<circle cx="1470.5" cy="700.4" r="5.2" fill="#a5b8e2"/>
<text x="1499.6" y="706.6" font-family="DejaVu Sans, sans-serif" font-size="17.4" fill="#1a1a1a">EKI</text>
<circle cx="1470.5" cy="725.7" r="5.2" fill="#e9b9bf"/>
<text x="1499.6" y="731.9" font-family="DejaVu Sans, sans-serif" font-size="17.4" fill="#1a1a1a">FKD</text>
<circle cx="1470.5" cy="750.9" r="5.2" fill="#efc3a3"/>
<text x="1499.6" y="757.1" font-family="DejaVu Sans, sans-serif" font-size="17.4" fill="#1a1a1a">EKS + DM</text>
<circle cx="1470.5" cy="776.2" r="5.2" fill="#d88085"/>
<text x="1499.6" y="782.4" font-family="DejaVu Sans, sans-serif" font-size="17.4" fill="#1a1a1a">EKS w/ DP</text>
<circle cx="1470.5" cy="801.4" r="5.2" fill="#b9e2ac"/>
<text x="1499.6" y="807.6" font-family="DejaVu Sans, sans-serif" font-size="17.4" fill="#1a1a1a">EnKG</text>
<circle cx="1470.5" cy="826.7" r="5.2" fill="#c3b5d3"/>
<text x="1499.6" y="832.9" font-family="DejaVu Sans, sans-serif" font-size="17.4" fill="#1a1a1a">Blade (ours)</text>
<text x="1249.6" y="1067.6" font-family="DejaVu Sans, sans-serif" font-size="17.3" fill="#1a1a1a">Better precision (CRPS→0)</text>
<text transform="translate(1076.6,961.2) rotate(-90)" x="0" y="0" font-family="DejaVu Sans, sans-serif" font-size="17.4" fill="#1a1a1a">Better calibration (SSR→1)</text>
</svg></body></html>
